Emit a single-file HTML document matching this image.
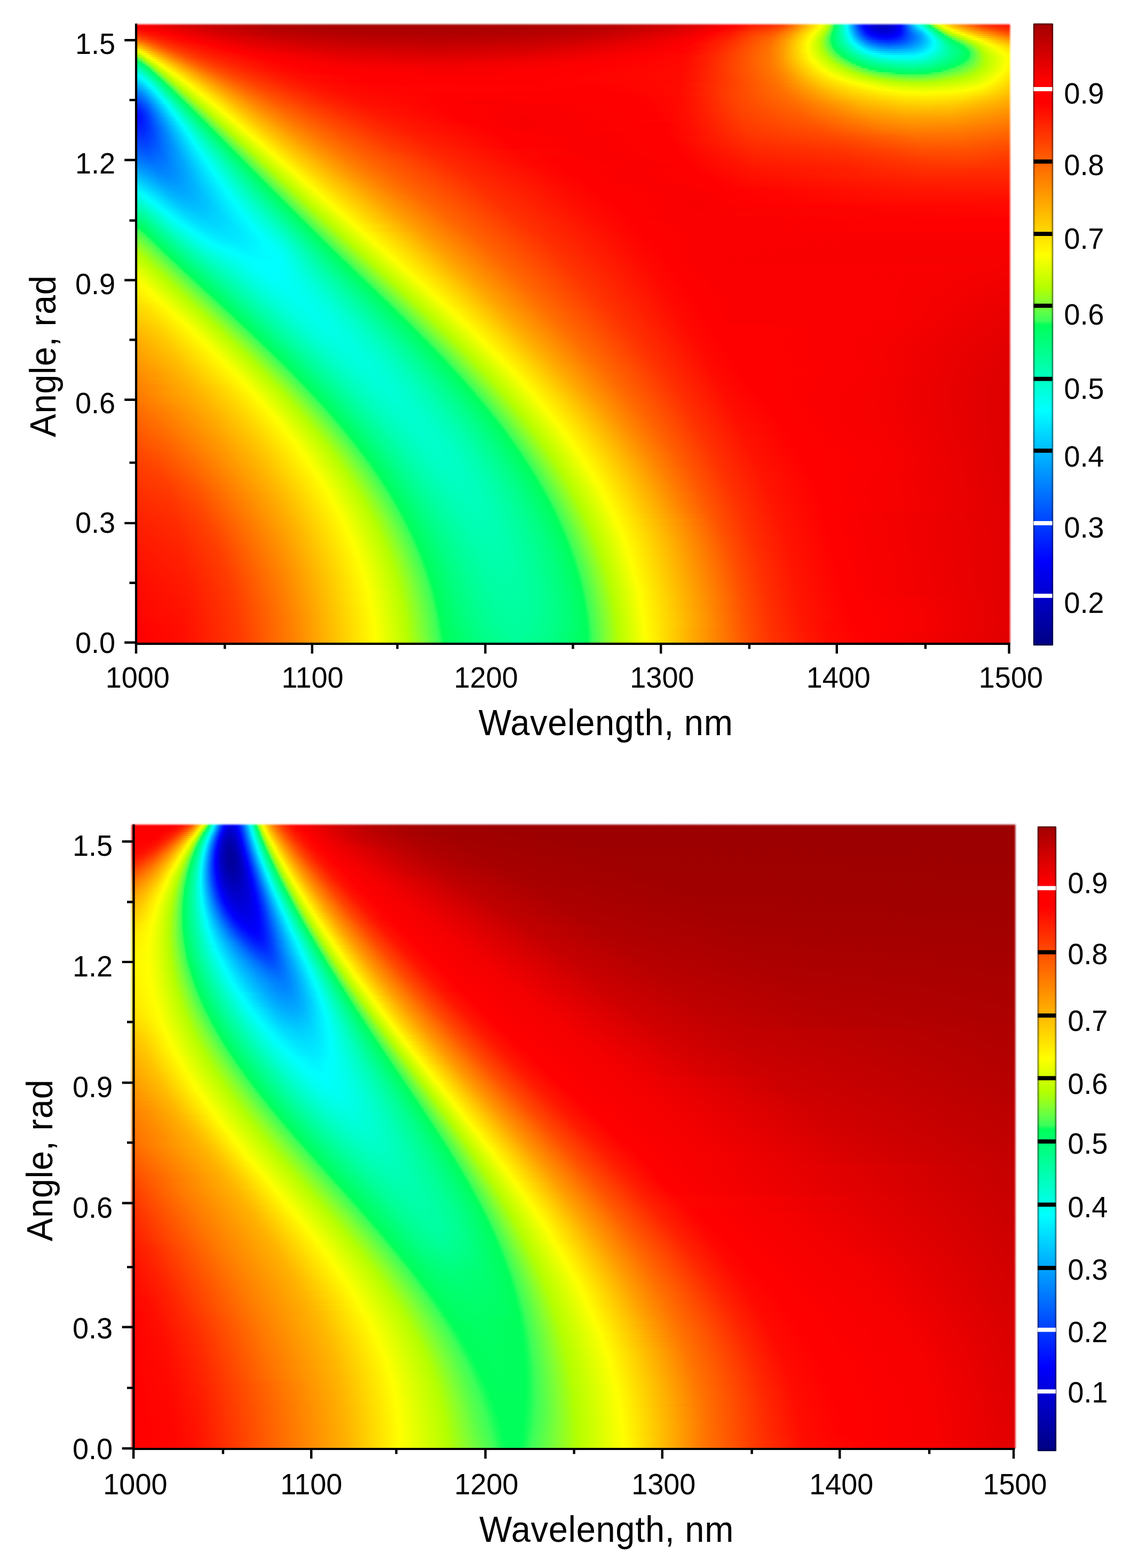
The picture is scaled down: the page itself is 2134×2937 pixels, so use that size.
<!DOCTYPE html>
<html><head><meta charset="utf-8"><title>Angle vs wavelength maps</title>
<style>
html,body{margin:0;padding:0;background:#fff}
body{width:2134px;height:2937px;position:relative;overflow:hidden;font-family:"Liberation Sans",sans-serif}
.hm{position:absolute;overflow:hidden}
.hm i{display:block;height:4px}
.hm b{position:absolute;display:block}
.et{left:0;right:0;top:0;height:5px;background:linear-gradient(180deg,#fff,rgba(255,255,255,0))}
.er{top:0;bottom:0;right:0;width:5px;background:linear-gradient(270deg,#fff,rgba(255,255,255,0))}
.el{top:0;bottom:0;left:0;width:5px;background:linear-gradient(90deg,#fff,rgba(255,255,255,0))}
.cb{position:absolute}
svg{position:absolute;left:0;top:0}
text{font-family:"Liberation Sans",sans-serif;fill:#000}
</style></head><body>
<div class="hm" style="left:254px;top:43.3px;width:1640.7px;height:1161.0px"><i style="background:linear-gradient(90deg,#f00 0px,#cd0000 108px,#ab0000 244px,#a40000 352px,#a30000 620px,#ad0000 840px,#bc0000 936px,#de0000 1056px,#f00 1126px,#ff1600 1152px,#ff1b00 1180px,#ff3a00 1212px,#ff5e00 1228px,#fffb00 1284px,#f2ff00 1288px,#b7ff00 1298px,#79ff37 1304px,#43ff56 1308px,#00ff5b 1310px,#0fb 1324px,#0ff 1332px,#00f1ff 1334px,#004fff 1352px,#0030ff 1356px,#00f 1364px,#0000fb 1366px,#0000e9 1372px,#0000d1 1384px,#0000c1 1400px,#0000c6 1408px,#0000d3 1416px,#0000e5 1424px,#00f 1432px,#0034ff 1440px,#009fff 1452px,#00dfff 1460px,#00faff 1464px,#00fff6 1466px,#00ff5b 1486px,#4aff52 1488px,#8aff2a 1492px,#b7ff00 1496px,#ecff00 1504px,#ff0 1508px,#ffc400 1524px,#ffa000 1536px,#ff6300 1560px,#ff3100 1584px,#ff1f00 1600px,#ff0a00 1641px)"></i><i style="background:linear-gradient(90deg,#f00 0px,#cf0000 116px,#af0000 244px,#a70000 352px,#a50000 572px,#ad0000 796px,#b90000 900px,#d00 1044px,#f00 1112px,#ff0700 1128px,#ff1e00 1152px,#ff2900 1184px,#ff4600 1212px,#ff7300 1232px,#ff0 1282px,#e8ff00 1288px,#bf0 1296px,#abff09 1298px,#85ff2f 1302px,#53ff4d 1306px,#34ff5a 1308px,#00ff5f 1310px,#0fb 1324px,#00fffa 1332px,#00e3ff 1336px,#05f 1352px,#0036ff 1356px,#001cff 1360px,#00f 1366px,#0000da 1380px,#0000c8 1392px,#0000c3 1400px,#0000c7 1408px,#0000d3 1416px,#0000e4 1424px,#00f 1432px,#002fff 1440px,#0090ff 1452px,#00caff 1460px,#00faff 1468px,#00fff7 1470px,#00ffaf 1480px,#00ff5f 1490px,#41ff57 1492px,#7fff34 1496px,#abff09 1500px,#bf0 1502px,#ff0 1514px,#ffcd00 1528px,#fa0 1540px,#ff7800 1560px,#ff4500 1584px,#ff2c00 1604px,#ff1200 1641px)"></i><i style="background:linear-gradient(90deg,#ff0700 0px,#f00 14px,#cb0000 144px,#b30000 248px,#a00 356px,#a80000 572px,#ac0000 728px,#b90000 876px,#c50000 944px,#e10000 1040px,#f00 1104px,#ff0f00 1128px,#ff2a00 1156px,#ff3500 1184px,#ff4e00 1208px,#ff8000 1232px,#fffa00 1278px,#ff0 1280px,#edff00 1284px,#bf0 1294px,#aeff06 1296px,#8aff2a 1300px,#46ff55 1306px,#0bff5a 1308px,#00ff64 1310px,#0fb 1324px,#00fff7 1332px,#00f7ff 1334px,#003fff 1356px,#000fff 1364px,#00f 1368px,#0000e6 1376px,#0000d7 1384px,#0000c7 1400px,#0000d5 1416px,#0000e5 1424px,#00f 1432px,#002bff 1440px,#0080ff 1452px,#00b3ff 1460px,#0ff 1474px,#00fff3 1476px,#00ff5a 1496px,#48ff53 1498px,#7eff34 1502px,#a7ff0d 1506px,#b8ff00 1508px,#faff00 1520px,#fffb00 1522px,#ffcf00 1536px,#ffa500 1552px,#ff5f00 1584px,#ff4100 1604px,#ff1e00 1641px)"></i><i style="background:linear-gradient(90deg,#ff1000 0px,#f00 30px,#d30000 140px,#b80000 252px,#ae0000 360px,#ab0000 572px,#af0000 716px,#b00 864px,#ca0000 944px,#e40000 1036px,#f00 1090px,#ff1700 1128px,#ff3600 1160px,#ff4000 1184px,#f50 1204px,#ff8300 1228px,#ff0 1276px,#b9ff00 1292px,#abff09 1294px,#9bff19 1296px,#78ff38 1300px,#4dff50 1304px,#2bff5a 1306px,#00ff5e 1308px,#00ffa1 1320px,#00fbff 1334px,#004cff 1356px,#001aff 1364px,#00f 1370px,#0000de 1384px,#0000cf 1400px,#0000da 1416px,#0000e8 1424px,#00f 1432px,#0028ff 1440px,#08f 1456px,#0ff 1480px,#00ff83 1496px,#00ff5a 1502px,#46ff54 1504px,#8cff28 1510px,#b0ff04 1514px,#bdff00 1516px,#ff0 1530px,#ffaf00 1560px,#ff7300 1588px,#f40 1620px,#ff2e00 1641px)"></i><i style="background:linear-gradient(90deg,#ff1d00 0px,#f00 50px,#d60000 148px,#bc0000 256px,#b20000 368px,#ae0000 568px,#b20000 704px,#be0000 856px,#cf0000 940px,#e80000 1032px,#f00 1080px,#ff1800 1120px,#ff3c00 1156px,#ff4a00 1184px,#ff5b00 1200px,#ff9000 1228px,#ff0 1272px,#b6ff00 1290px,#a8ff0c 1292px,#78ff38 1298px,#3dff59 1304px,#00ff5b 1306px,#00ffb8 1324px,#00fffb 1334px,#00d8ff 1340px,#0079ff 1352px,#0040ff 1360px,#0016ff 1368px,#00f 1374px,#0000e3 1388px,#0000d9 1404px,#0000e8 1420px,#00f 1430px,#0015ff 1436px,#0079ff 1456px,#00bcff 1472px,#0ff 1484px,#00fff2 1486px,#00ff8d 1500px,#00ff5a 1508px,#42ff57 1510px,#84ff30 1516px,#b3ff00 1522px,#ff0 1540px,#fb0 1568px,#ff8900 1592px,#ff5600 1624px,#ff4200 1641px)"></i><i style="background:linear-gradient(90deg,#ff2f00 0px,#ff1400 28px,#f00 66px,#d90000 160px,#c20000 260px,#b60000 376px,#b20000 568px,#b60000 708px,#c30000 852px,#e80000 1016px,#f00 1072px,#ff1800 1112px,#ff4300 1156px,#ff5300 1184px,#ff6000 1196px,#ff9200 1224px,#ff0 1268px,#e5ff00 1276px,#b3ff00 1288px,#89ff2b 1294px,#42ff56 1302px,#14ff5a 1304px,#00ff60 1306px,#00ffb4 1324px,#0ff 1336px,#006dff 1356px,#003cff 1364px,#0018ff 1372px,#00f 1380px,#00e 1392px,#0000e7 1404px,#00e 1416px,#00f 1428px,#001cff 1436px,#0060ff 1452px,#00abff 1472px,#0ff 1488px,#00ff94 1504px,#00ff5b 1514px,#3fff59 1516px,#88ff2c 1524px,#aeff06 1530px,#b8ff00 1532px,#ff0 1552px,#fffb00 1554px,#ffc700 1576px,#ff9e00 1596px,#ff6e00 1624px,#ff5900 1641px)"></i><i style="background:linear-gradient(90deg,#ff4500 0px,#ff1d00 32px,#f00 80px,#d00 168px,#c50000 272px,#ba0000 384px,#b50000 564px,#b90000 700px,#c60000 840px,#dc0000 948px,#f30000 1036px,#f00 1062px,#ff1e00 1112px,#ff4500 1152px,#ff6700 1196px,#ff9b00 1224px,#ff0 1266px,#b3ff00 1286px,#8bff29 1292px,#49ff52 1300px,#30ff5a 1302px,#00ff5b 1304px,#00ffb0 1324px,#0ff 1338px,#0082ff 1356px,#003eff 1368px,#0016ff 1380px,#00f 1394px,#0000f9 1404px,#00f 1418px,#001aff 1432px,#00a2ff 1472px,#00f9ff 1490px,#00fff9 1492px,#00ff98 1508px,#00ff5c 1520px,#30ff5a 1522px,#4aff52 1524px,#86ff2e 1532px,#afff05 1540px,#b7ff00 1542px,#ff0 1564px,#ffd900 1580px,#fa0 1604px,#ff8100 1628px,#ff7100 1641px)"></i><i style="background:linear-gradient(90deg,#ff5e00 0px,#ff3100 28px,#ff2300 40px,#ff1200 60px,#f00 96px,#df0000 184px,#c90000 284px,#bd0000 400px,#b90000 564px,#bd0000 700px,#c90000 832px,#de0000 936px,#f00 1054px,#ff2300 1112px,#ff4a00 1152px,#ff6900 1192px,#ff9200 1216px,#fffb00 1262px,#ff0 1264px,#b5ff00 1284px,#a9ff0b 1286px,#83ff31 1292px,#43ff56 1300px,#00ff5d 1304px,#0fa 1324px,#00ffd1 1332px,#0ff 1340px,#0082ff 1360px,#0048ff 1372px,#0030ff 1380px,#0020ff 1388px,#0012ff 1400px,#0010ff 1408px,#001bff 1424px,#0034ff 1436px,#00a0ff 1472px,#00f7ff 1492px,#0ff 1494px,#0f9 1512px,#00ff5e 1526px,#1aff5a 1528px,#40ff58 1530px,#7eff34 1540px,#b4ff00 1552px,#ff0 1574px,#ff0 1576px,#ffb400 1612px,#ff8900 1641px)"></i><i style="background:linear-gradient(90deg,#ff7a00 0px,#ff4200 28px,#ff2700 48px,#f10 76px,#f00 112px,#e00000 204px,#c00 304px,#c10000 412px,#bd0000 564px,#c00000 684px,#cb0000 812px,#f00 1048px,#ff2500 1108px,#ff6e00 1192px,#ff9700 1216px,#fffb00 1260px,#ff0 1262px,#ebff00 1268px,#b0ff04 1284px,#80ff33 1292px,#43ff56 1300px,#00ff5c 1304px,#00ffb4 1328px,#0ff 1342px,#08f 1364px,#0059ff 1376px,#0036ff 1392px,#002aff 1408px,#0032ff 1424px,#0050ff 1440px,#0097ff 1468px,#00c0ff 1480px,#00f9ff 1494px,#0ff 1496px,#0f9 1516px,#00ff5a 1534px,#28ff5a 1536px,#41ff57 1538px,#7eff34 1550px,#b6ff00 1562px,#ff0 1584px,#ffc900 1612px,#ff9f00 1641px)"></i><i style="background:linear-gradient(90deg,#ff9800 0px,#ff8900 8px,#ff4e00 32px,#ff2f00 52px,#ff1700 80px,#f00 128px,#e50000 208px,#d00000 312px,#c50000 428px,#c10000 560px,#c40000 676px,#cd0000 788px,#f00 1040px,#ff2900 1108px,#ff6e00 1188px,#ff9300 1212px,#ff0 1260px,#b8ff00 1282px,#afff05 1284px,#81ff33 1292px,#48ff53 1300px,#35ff5a 1302px,#06ff5a 1304px,#00ff60 1306px,#0fa 1328px,#0ff 1346px,#0095ff 1368px,#006dff 1380px,#004fff 1396px,#0046ff 1412px,#004cff 1424px,#05f 1432px,#0084ff 1456px,#00b8ff 1476px,#0ff 1496px,#00ff97 1520px,#00ff7c 1528px,#00ff5e 1540px,#06ff5a 1542px,#3fff59 1546px,#7dff35 1558px,#b7ff00 1570px,#ff0 1594px,#ffd600 1616px,#ffb300 1641px)"></i><i style="background:linear-gradient(90deg,#ffb700 0px,#ffa700 8px,#ff6300 32px,#ff3800 56px,#ff1b00 88px,#f00 144px,#e50000 232px,#d20000 332px,#c90000 432px,#c50000 560px,#d10000 780px,#f00 1032px,#ff2900 1104px,#ff7100 1188px,#ff9600 1212px,#ff0 1260px,#b8ff00 1282px,#b0ff04 1284px,#85ff2f 1292px,#43ff56 1302px,#27ff5a 1304px,#00ff5b 1306px,#00ffaf 1332px,#0ff 1350px,#00b3ff 1368px,#008eff 1380px,#006fff 1396px,#0065ff 1412px,#006fff 1432px,#0094ff 1456px,#00b7ff 1472px,#00f9ff 1494px,#0ff 1496px,#00ffbd 1512px,#00ff93 1524px,#00ff5c 1548px,#13ff5a 1550px,#32ff5a 1552px,#43ff56 1554px,#84ff30 1566px,#b5ff00 1576px,#dbff00 1588px,#ff0 1602px,#ffc500 1641px)"></i><i style="background:linear-gradient(90deg,#ffd600 0px,#ffc500 8px,#ff6f00 36px,#f50 48px,#ff3b00 64px,#ff1b00 100px,#f00 158px,#e90000 236px,#d70000 340px,#cd0000 436px,#c90000 560px,#d40000 760px,#f00 1024px,#ff0800 1048px,#ff2900 1100px,#ff7300 1188px,#ff9800 1212px,#ff0 1260px,#b4ff00 1284px,#81ff33 1294px,#42ff57 1304px,#27ff5a 1306px,#00ff5a 1308px,#00ffa3 1332px,#0ff 1356px,#00c4ff 1372px,#009dff 1388px,#008cff 1400px,#0084ff 1416px,#008aff 1432px,#00a6ff 1456px,#00c4ff 1472px,#0ff 1494px,#00ff9a 1524px,#00ff5a 1554px,#3cff5a 1558px,#7dff35 1570px,#b0ff04 1580px,#cbff00 1588px,#ff0 1610px,#ffd400 1641px)"></i><i style="background:linear-gradient(90deg,#fff600 0px,#ffe400 8px,#ff9e00 28px,#ff7b00 40px,#ff5800 56px,#ff3e00 72px,#ff1e00 108px,#f00 174px,#ea0000 256px,#da0000 356px,#ce0000 560px,#d60000 736px,#f00 1014px,#ff0800 1044px,#ff2600 1092px,#ff7000 1184px,#ff9200 1208px,#ff0 1260px,#b8ff00 1284px,#b1ff00 1286px,#8aff2a 1294px,#45ff55 1306px,#34ff5a 1308px,#0eff5a 1310px,#00ff5d 1312px,#00ffa3 1336px,#0ff 1362px,#00d6ff 1376px,#00b6ff 1392px,#00a9ff 1404px,#00a3ff 1420px,#00a9ff 1436px,#00baff 1456px,#00d4ff 1472px,#0ff 1490px,#0ff 1492px,#00ff9c 1524px,#00ff5a 1558px,#3cff5a 1562px,#7fff34 1574px,#b1ff00 1584px,#bfff00 1588px,#df0 1600px,#ff0 1616px,#ffe100 1641px)"></i><i style="background:linear-gradient(90deg,#e2ff00 0px,#fffb00 10px,#ffb700 28px,#ff8700 44px,#ff5a00 64px,#ff4100 80px,#ff2c00 100px,#ff1e00 120px,#f00 192px,#d00 372px,#d30000 560px,#da0000 728px,#fa0000 948px,#f00 1024px,#ff0c00 1048px,#ff2b00 1096px,#ff7600 1188px,#ff9a00 1212px,#ff0 1260px,#b7ff00 1286px,#b0ff04 1288px,#83ff31 1298px,#41ff57 1310px,#28ff5a 1312px,#04ff5a 1314px,#00ff5e 1316px,#00ff89 1332px,#00fff8 1368px,#00fbff 1372px,#00d0ff 1396px,#00c1ff 1424px,#00cfff 1456px,#00e4ff 1472px,#0ff 1486px,#00ff9c 1524px,#00ff5b 1560px,#16ff5a 1562px,#34ff5a 1564px,#44ff56 1566px,#7cff35 1576px,#b6ff00 1588px,#d4ff00 1600px,#ff0 1622px,#ffea00 1641px)"></i><i style="background:linear-gradient(90deg,#bf0 0px,#d5ff00 8px,#ff0 16px,#fff800 18px,#ffc200 32px,#f80 52px,#ff5c00 72px,#ff3e00 92px,#ff1e00 132px,#f00 206px,#e10000 384px,#d70000 560px,#de0000 708px,#fa0000 932px,#ff0600 1028px,#ff1000 1052px,#ff2d00 1096px,#ff7600 1188px,#ff9a00 1212px,#ff0 1262px,#b9ff00 1288px,#b2ff00 1290px,#7eff34 1302px,#41ff57 1314px,#2bff5a 1316px,#08ff5a 1318px,#00ff5e 1320px,#0fd 1368px,#0ff 1384px,#00e6ff 1404px,#0df 1428px,#00e5ff 1456px,#0ff 1478px,#00ffe4 1492px,#00ff91 1528px,#00ff5d 1560px,#09ff5a 1562px,#3fff59 1566px,#8bff29 1580px,#b6ff00 1590px,#ff0 1626px,#fff000 1641px)"></i><i style="background:linear-gradient(90deg,#8aff2a 0px,#b0ff04 8px,#bf0 10px,#ff0 22px,#fff900 24px,#ffc000 40px,#ff8900 60px,#ff6500 76px,#ff4500 96px,#ff3100 116px,#ff2000 140px,#f00 222px,#e60000 388px,#dc0000 560px,#e30000 708px,#f00 966px,#ff0700 1028px,#ff2900 1088px,#f70 1188px,#ff9300 1208px,#ff0 1264px,#b6ff00 1292px,#7eff34 1306px,#45ff55 1318px,#39ff5a 1320px,#18ff5a 1322px,#00ff5b 1324px,#00ffd6 1376px,#00fff1 1392px,#0ff 1408px,#00f6ff 1440px,#00fffb 1468px,#0fd 1488px,#00ff8c 1528px,#00ff5b 1560px,#11ff5a 1562px,#40ff58 1566px,#7eff34 1578px,#b1ff00 1590px,#ff0 1630px,#fff300 1641px)"></i><i style="background:linear-gradient(90deg,#52ff4e 0px,#65ff43 4px,#81ff33 8px,#adff07 14px,#baff00 16px,#ff0 28px,#fff900 30px,#ffbe00 48px,#ff8900 68px,#ff5f00 88px,#ff4200 108px,#ff2f00 128px,#ff1e00 156px,#f00 238px,#e80000 408px,#e10000 560px,#e60000 688px,#f00 946px,#ff0800 1028px,#ff2500 1080px,#f70 1188px,#ff9200 1208px,#ff0 1266px,#b5ff00 1296px,#81ff33 1310px,#42ff56 1324px,#33ff5a 1326px,#14ff5a 1328px,#00ff5c 1330px,#00ffaf 1368px,#00ffd6 1392px,#00ffeb 1420px,#00fff0 1448px,#00ffe9 1464px,#00ffd9 1480px,#00ff85 1528px,#00ff5b 1558px,#10ff5a 1560px,#3eff59 1564px,#80ff33 1578px,#b5ff00 1592px,#ff0 1632px,#fff500 1641px)"></i><i style="background:linear-gradient(90deg,#00ff61 0px,#00ff5c 2px,#10ff5a 4px,#3dff5a 6px,#4aff52 8px,#80ff33 14px,#b1ff00 20px,#f3ff00 32px,#fffa00 36px,#ffbc00 56px,#ff8900 76px,#ff6000 96px,#f40 116px,#ff2e00 140px,#ff1c00 172px,#f00 256px,#ed0000 412px,#e60000 560px,#eb0000 688px,#f00 926px,#ff0900 1028px,#ff2100 1072px,#ff7600 1188px,#ff9100 1208px,#ff0 1268px,#ff0 1270px,#b6ff00 1300px,#7fff34 1316px,#3aff5a 1332px,#00ff5a 1336px,#00ff9a 1368px,#00ffbd 1392px,#00ffd1 1420px,#00ffd8 1448px,#00ffd4 1464px,#00ffc7 1480px,#00ff7d 1528px,#00ff5b 1554px,#0cff5a 1556px,#36ff5a 1560px,#41ff57 1562px,#7bff36 1576px,#b5ff00 1592px,#ff0 1632px,#fff500 1641px)"></i><i style="background:linear-gradient(90deg,#00ff79 0px,#00ff5c 10px,#2bff5a 12px,#4aff52 14px,#85ff2f 20px,#a6ff0e 24px,#b6ff00 26px,#ff0 40px,#fffa00 42px,#ffc400 60px,#ff8000 88px,#ff6100 104px,#ff4600 124px,#ff3000 148px,#ff1c00 184px,#f00 272px,#f10000 412px,#eb0000 560px,#f00 908px,#ff0800 1024px,#ff1c00 1064px,#ff7600 1188px,#ff8f00 1208px,#ff0 1272px,#b3ff00 1306px,#80ff33 1322px,#41ff57 1338px,#31ff5a 1340px,#00ff5b 1344px,#00ff8d 1372px,#00ffa7 1392px,#00ffba 1420px,#00ffc2 1452px,#00ffbd 1468px,#00ffb0 1484px,#00ff5c 1548px,#06ff5a 1550px,#3cff5a 1556px,#55ff4c 1564px,#83ff31 1576px,#b1ff00 1590px,#ff0 1632px,#fff500 1641px)"></i><i style="background:linear-gradient(90deg,#00ff92 0px,#00ff7d 8px,#00ff5b 16px,#3dff5a 18px,#7aff37 24px,#9cff18 28px,#acff08 30px,#b9ff00 32px,#ff0 46px,#fffa00 48px,#ffb800 72px,#ff8000 96px,#ff5c00 116px,#ff4300 136px,#ff2d00 164px,#ff1800 204px,#f00 290px,#f30000 432px,#ef0000 560px,#f00 890px,#ff0900 1024px,#ff1a00 1060px,#ff7500 1188px,#ff9300 1212px,#ff0 1276px,#b4ff00 1312px,#84ff30 1328px,#42ff57 1346px,#38ff5a 1348px,#05ff5a 1352px,#00ff5d 1354px,#00ff80 1376px,#00ff95 1396px,#00ffa6 1424px,#00ffad 1452px,#0fa 1468px,#00ff9e 1484px,#00ff5c 1540px,#00ff5a 1542px,#3dff59 1550px,#57ff4b 1560px,#7eff34 1572px,#b5ff00 1590px,#ff0 1630px,#fff300 1641px)"></i><i style="background:linear-gradient(90deg,#0fa 0px,#00ff96 8px,#00ff61 20px,#18ff5a 22px,#46ff54 24px,#94ff20 32px,#b3ff00 36px,#ff0 52px,#ffb500 80px,#ff7f00 104px,#ff5d00 124px,#f40 144px,#ff2e00 172px,#ff1800 216px,#ff0900 260px,#f00 306px,#f30000 564px,#f00 870px,#ff0900 1024px,#ff1b00 1060px,#ff7800 1192px,#ff9100 1212px,#ff0 1280px,#b6ff00 1318px,#85ff2f 1336px,#41ff57 1356px,#36ff5a 1358px,#09ff5a 1362px,#00ff5c 1364px,#00ff76 1384px,#00ff87 1404px,#00ff94 1432px,#0f9 1456px,#00ff8d 1484px,#00ff5a 1532px,#39ff5a 1540px,#7eff34 1568px,#b5ff00 1588px,#ff0 1630px,#fff200 1641px)"></i><i style="background:linear-gradient(90deg,#00ffc3 0px,#00ffba 4px,#00ff9e 12px,#00ff5b 26px,#3eff59 28px,#8dff27 36px,#acff08 40px,#b8ff00 42px,#ff0 58px,#ffbc00 84px,#ff7e00 112px,#ff5d00 132px,#ff4600 152px,#ff2d00 184px,#ff1600 232px,#ff0800 276px,#f00 326px,#f60000 584px,#f00 850px,#ff0a00 1024px,#ff1900 1056px,#ff7600 1192px,#ff8e00 1212px,#ff0 1286px,#b6ff00 1326px,#83ff31 1346px,#3fff58 1368px,#33ff5a 1370px,#00ff5a 1376px,#00ff78 1412px,#00ff85 1456px,#00ff7b 1484px,#00ff5a 1520px,#37ff5a 1528px,#3eff59 1530px,#83ff31 1564px,#b3ff00 1584px,#ff0 1628px,#fff000 1641px)"></i><i style="background:linear-gradient(90deg,#00ffda 0px,#00ffb6 12px,#00ff5e 30px,#2dff5a 32px,#4cff51 34px,#87ff2d 40px,#b3ff00 46px,#ff0 64px,#ffb900 92px,#ff7e00 120px,#ff5e00 140px,#ff4300 164px,#ff2a00 200px,#ff1400 248px,#ff0700 292px,#f00 346px,#f80000 588px,#f00 830px,#ff0a00 1024px,#ff1a00 1056px,#ff7500 1192px,#ff8b00 1212px,#ff0 1290px,#b4ff00 1336px,#80ff33 1358px,#3eff59 1384px,#04ff5a 1394px,#00ff5b 1396px,#00ff6c 1428px,#00ff72 1456px,#00ff6c 1480px,#00ff5b 1504px,#00ff5a 1506px,#3dff59 1516px,#83ff31 1556px,#b3ff00 1580px,#ff0 1626px,#ffec00 1641px)"></i><i style="background:linear-gradient(90deg,#00ffef 0px,#0fc 12px,#00ff60 34px,#1dff5a 36px,#47ff53 38px,#82ff32 44px,#9fff15 48px,#b9ff00 52px,#ff0 70px,#ffad00 104px,#ff7d00 128px,#ff5900 152px,#ff4100 176px,#ff2700 216px,#f10 268px,#ff0600 312px,#f00 370px,#fa0000 612px,#f00 810px,#ff0a00 1024px,#ff1800 1052px,#f70 1196px,#ff8d00 1216px,#ffc800 1256px,#ff0 1298px,#b5ff00 1346px,#82ff32 1370px,#63ff43 1384px,#3dff5a 1410px,#00ff5a 1430px,#00ff60 1456px,#00ff5b 1480px,#07ff5a 1484px,#3dff59 1498px,#83ff31 1544px,#b6ff00 1576px,#ff0 1622px,#ffe900 1641px)"></i><i style="background:linear-gradient(90deg,#0ff 0px,#00fffb 4px,#00ffe2 12px,#00ffbe 20px,#00ff62 38px,#10ff5a 40px,#43ff56 42px,#7dff35 48px,#b4ff00 56px,#e6ff00 68px,#ff0 76px,#ffb300 108px,#ff7c00 136px,#f50 164px,#ff3c00 192px,#f20 236px,#ff0e00 288px,#f00 396px,#fb0000 616px,#f00 790px,#ff0b00 1024px,#ff1800 1052px,#ff7500 1196px,#ff8a00 1216px,#ffc800 1260px,#ff0 1306px,#b5ff00 1358px,#84ff30 1386px,#69ff40 1404px,#4cff51 1436px,#4f5 1460px,#52ff4d 1488px,#82ff32 1526px,#b5ff00 1568px,#ff0 1618px,#ffe500 1641px)"></i><i style="background:linear-gradient(90deg,#00ebff 0px,#00fbff 8px,#00fff6 12px,#00ffd4 20px,#04ff5a 44px,#3fff58 46px,#87ff2d 54px,#afff05 60px,#b9ff00 62px,#efff00 76px,#fffb00 82px,#ffa700 120px,#ff7b00 144px,#ff5600 172px,#ff3a00 204px,#ff1e00 256px,#ff0c00 308px,#f00 434px,#f00 772px,#ff0a00 1020px,#ff1600 1048px,#ff7600 1200px,#ff8b00 1220px,#ffd000 1272px,#ff0 1314px,#b3ff00 1374px,#94ff20 1396px,#83ff31 1414px,#6eff3d 1440px,#68ff41 1460px,#6eff3d 1480px,#81ff33 1502px,#b5ff00 1556px,#d3ff00 1584px,#ff0 1614px,#ffe000 1641px)"></i><i style="background:linear-gradient(90deg,#00dbff 0px,#00eaff 8px,#0ff 14px,#00fffb 16px,#00ff5b 48px,#3aff5a 50px,#4eff4f 52px,#83ff31 58px,#b6ff00 66px,#ff0 86px,#ffac00 124px,#ff7a00 152px,#ff5600 180px,#ff3b00 212px,#ff2100 260px,#ff0e00 312px,#ff0500 364px,#f00 436px,#f00 756px,#ff0a00 1020px,#ff1600 1048px,#ff7400 1200px,#ff8700 1220px,#ffd200 1280px,#ff0 1324px,#b5ff00 1392px,#95ff1f 1428px,#89ff2b 1464px,#92ff22 1492px,#b4ff00 1536px,#cfff00 1572px,#ff0 1610px,#ffdb00 1641px)"></i><i style="background:linear-gradient(90deg,#00caff 0px,#00d9ff 8px,#0ff 20px,#00ff5c 52px,#31ff5a 54px,#4bff51 56px,#7fff34 62px,#b2ff00 70px,#bf0 72px,#ff0 92px,#ffb100 128px,#ff7f00 156px,#ff5b00 184px,#ff3f00 216px,#ff2300 264px,#ff1000 316px,#ff0600 364px,#f00 432px,#f00 748px,#ff0800 1012px,#ff1400 1044px,#ff7500 1204px,#ffd300 1288px,#ff0 1338px,#c2ff00 1400px,#b4ff00 1422px,#a8ff0c 1444px,#a4ff10 1464px,#a8ff0c 1484px,#b4ff00 1508px,#caff00 1552px,#df0 1576px,#ff0 1604px,#ffd700 1641px)"></i><i style="background:linear-gradient(90deg,#00b9ff 0px,#00d3ff 12px,#0ff 24px,#00ff5d 56px,#29ff5a 58px,#49ff53 60px,#8aff2a 68px,#aeff06 74px,#b8ff00 76px,#f0ff00 92px,#ff0 98px,#ffae00 136px,#ff7e00 164px,#ff5b00 192px,#ff4000 224px,#ff2400 272px,#f10 324px,#ff0700 372px,#f00 436px,#f00 856px,#ff0a00 1020px,#ff7200 1204px,#ff8400 1224px,#ffd000 1292px,#ff0 1352px,#cf0 1412px,#bfff00 1440px,#baff00 1468px,#c1ff00 1500px,#d4ff00 1548px,#e5ff00 1572px,#ff0 1596px,#ffd200 1641px)"></i><i style="background:linear-gradient(90deg,#00a9ff 0px,#00c2ff 12px,#0ff 28px,#00ff5e 60px,#46ff54 64px,#86ff2e 72px,#b5ff00 80px,#ff0 102px,#ffb200 140px,#ff8200 168px,#ff5f00 196px,#ff4300 228px,#ff2700 276px,#ff1200 332px,#ff0400 436px,#f00 864px,#ff0a00 1020px,#ff7300 1208px,#fc0 1296px,#ff0 1366px,#d9ff00 1420px,#cbff00 1468px,#cfff00 1496px,#e0ff00 1544px,#edff00 1568px,#ff0 1588px,#ffce00 1641px)"></i><i style="background:linear-gradient(90deg,#0098ff 0px,#00b2ff 12px,#0ff 32px,#00ff96 52px,#00ff5f 64px,#1aff5a 66px,#44ff56 68px,#83ff31 76px,#b1ff00 84px,#b9ff00 86px,#ff0 108px,#ffaf00 148px,#ff8100 176px,#ff5f00 204px,#f40 236px,#ff2800 284px,#ff1400 336px,#ff0900 384px,#ff0400 440px,#f00 868px,#ff0b00 1020px,#ff1700 1048px,#ff4200 1116px,#ff7000 1208px,#ffcb00 1304px,#ff0 1384px,#e4ff00 1432px,#dcff00 1472px,#eaff00 1536px,#ff0 1576px,#ffc900 1641px)"></i><i style="background:linear-gradient(90deg,#0089ff 0px,#0097ff 8px,#00afff 16px,#0ff 36px,#00ff96 56px,#00ff5f 68px,#15ff5a 70px,#42ff57 72px,#80ff33 80px,#aeff06 88px,#b7ff00 90px,#f2ff00 108px,#fffb00 114px,#ffb900 148px,#ff8500 180px,#ff6300 208px,#f40 244px,#ff2900 292px,#ff1400 344px,#ff0a00 388px,#ff0500 448px,#f00 876px,#ff0a00 1016px,#ff1700 1048px,#f40 1120px,#ff7000 1212px,#fc0 1316px,#ff0 1408px,#efff00 1444px,#ebff00 1472px,#f1ff00 1516px,#ff0 1558px,#fe0 1588px,#ffc400 1641px)"></i><i style="background:linear-gradient(90deg,#007aff 0px,#08f 8px,#009fff 16px,#00f9ff 38px,#00fffb 40px,#00ff95 60px,#00ff60 72px,#11ff5a 74px,#40ff58 76px,#7dff35 84px,#b4ff00 94px,#ff0 118px,#ffbd00 152px,#ff8900 184px,#ff6700 212px,#ff4800 248px,#ff2c00 296px,#ff1700 348px,#ff0b00 396px,#ff0500 452px,#f00 586px,#f00 904px,#ff0a00 1016px,#ff1700 1048px,#f40 1120px,#ff7000 1216px,#ffb800 1300px,#ffd400 1340px,#fe0 1392px,#ff0 1440px,#f9ff00 1472px,#ff0 1516px,#fff700 1552px,#ffe800 1584px,#ffbf00 1641px)"></i><i style="background:linear-gradient(90deg,#006cff 0px,#007aff 8px,#0091ff 16px,#00beff 28px,#00fbff 42px,#00ff94 64px,#00ff60 76px,#0eff5a 78px,#3fff58 80px,#87ff2d 90px,#b1ff00 98px,#b9ff00 100px,#f8ff00 120px,#ff0 124px,#ffab00 168px,#f70 204px,#ff5100 244px,#f30 292px,#ff1a00 348px,#ff0b00 404px,#f00 584px,#f00 916px,#ff0b00 1020px,#ff4300 1120px,#ff7000 1220px,#ffb400 1304px,#ffce00 1344px,#ffe800 1400px,#fff700 1448px,#fff800 1492px,#fe0 1552px,#ffe200 1580px,#ffba00 1641px)"></i><i style="background:linear-gradient(90deg,#005eff 0px,#006cff 8px,#0090ff 20px,#0ff 46px,#00ff93 68px,#00ff60 80px,#0aff5a 82px,#3dff59 84px,#85ff2f 94px,#aeff06 102px,#b7ff00 104px,#ff0 128px,#ffae00 172px,#ff7b00 208px,#ff5400 248px,#ff3600 296px,#ff1c00 352px,#ff0d00 408px,#f00 584px,#f00 924px,#ff0900 1016px,#ff1700 1048px,#ff4300 1120px,#ff6f00 1224px,#ffb000 1308px,#ffc800 1348px,#ffdf00 1400px,#ffed00 1448px,#fe0 1496px,#ffe500 1552px,#ffb500 1641px)"></i><i style="background:linear-gradient(90deg,#0051ff 0px,#005eff 8px,#0082ff 20px,#0ff 50px,#00ffa4 68px,#00ff60 84px,#07ff5a 86px,#3cff5a 88px,#83ff31 98px,#b5ff00 108px,#f2ff00 128px,#ff0 134px,#ffb100 176px,#ff7e00 212px,#ff5800 252px,#ff3800 300px,#ff1f00 356px,#ff0e00 412px,#f00 584px,#f00 932px,#ff0900 1016px,#ff1700 1048px,#ff4200 1120px,#ff6e00 1228px,#ffab00 1312px,#ffc300 1352px,#ffd700 1400px,#ffe300 1444px,#ffe600 1492px,#ffde00 1544px,#ffd200 1576px,#ffaf00 1641px)"></i><i style="background:linear-gradient(90deg,#04f 0px,#0051ff 8px,#0075ff 20px,#00fbff 52px,#00fffa 54px,#00ff91 76px,#00ff61 88px,#05ff5a 90px,#39ff5a 92px,#58ff4a 96px,#81ff33 102px,#b3ff00 112px,#b9ff00 114px,#ff0 138px,#ffb400 180px,#ff8200 216px,#ff5b00 256px,#ff3b00 304px,#ff1f00 364px,#ff0f00 420px,#f00 584px,#fb0000 632px,#f00 938px,#ff0900 1016px,#ff1700 1048px,#ff4300 1124px,#ff6d00 1232px,#ffbd00 1356px,#ffdb00 1444px,#fd0 1492px,#ffd500 1544px,#fa0 1641px)"></i><i style="background:linear-gradient(90deg,#0037ff 0px,#04f 8px,#0068ff 20px,#0ff 56px,#00ffa1 76px,#00ff61 92px,#04ff5a 94px,#37ff5a 96px,#49ff53 98px,#7eff34 106px,#b0ff04 116px,#b8ff00 118px,#f8ff00 140px,#ff0 144px,#ffb000 188px,#ff8000 224px,#ff5a00 264px,#ff3b00 312px,#ff2000 372px,#ff0f00 428px,#f00 584px,#fb0000 632px,#f00 944px,#ff0800 1012px,#ff1500 1044px,#ff4200 1124px,#ff6c00 1236px,#ffb800 1360px,#ffd300 1444px,#ffd500 1488px,#ffcf00 1536px,#ffa500 1641px)"></i><i style="background:linear-gradient(90deg,#002bff 0px,#0038ff 8px,#005cff 20px,#0ff 60px,#00ffa0 80px,#00ff5a 98px,#35ff5a 100px,#48ff53 102px,#87ff2d 112px,#b6ff00 122px,#ff0 148px,#ffb900 188px,#ff8300 228px,#ff5d00 268px,#ff3e00 316px,#f20 376px,#f10 432px,#f00 584px,#fb0000 704px,#f00 948px,#ff0800 1012px,#ff1400 1044px,#ff4100 1124px,#ff6b00 1240px,#ffb300 1364px,#ffcb00 1444px,#ffcd00 1488px,#ffc800 1532px,#ffa000 1641px)"></i><i style="background:linear-gradient(90deg,#001fff 0px,#002dff 8px,#0051ff 20px,#0ff 62px,#00ff8e 88px,#00ff5a 102px,#32ff5a 104px,#47ff54 106px,#86ff2e 116px,#b4ff00 126px,#f4ff00 148px,#ff0 154px,#ffb500 196px,#ff8600 232px,#ff6000 272px,#ff4100 320px,#ff2400 380px,#ff1200 436px,#f00 586px,#fa0000 724px,#f00 954px,#ff0700 1008px,#ff1400 1044px,#ff4200 1128px,#ff6900 1244px,#ffad00 1368px,#ffc300 1444px,#ffc600 1488px,#ffc000 1532px,#ff9b00 1641px)"></i><i style="background:linear-gradient(90deg,#0015ff 0px,#0023ff 8px,#0047ff 20px,#0ff 66px,#00ff9d 88px,#00ff5a 106px,#30ff5a 108px,#46ff54 110px,#84ff30 120px,#b2ff00 130px,#b9ff00 132px,#ff0 158px,#ffb800 200px,#f80 236px,#ff6300 276px,#ff4300 324px,#ff2700 384px,#ff1400 440px,#f00 588px,#fa0000 728px,#f00 958px,#ff0700 1008px,#ff1400 1044px,#ff4100 1128px,#ff6900 1252px,#ffa700 1368px,#ffbc00 1444px,#ffbe00 1484px,#ffba00 1528px,#ff9600 1641px)"></i><i style="background:linear-gradient(90deg,#000dff 0px,#001bff 8px,#003fff 20px,#0ff 68px,#00fff9 70px,#00ff9b 92px,#00ff5a 110px,#2fff5a 112px,#45ff55 114px,#83ff31 124px,#b0ff04 134px,#b7ff00 136px,#ff0 162px,#ffc000 200px,#ff9000 236px,#ff6900 276px,#ff4a00 320px,#ff2c00 380px,#ff1600 444px,#f00 592px,#fa0000 728px,#f00 962px,#ff0700 1008px,#ff1300 1044px,#ff4000 1128px,#ff6100 1240px,#ffa000 1368px,#ffb500 1444px,#ffb300 1528px,#ff9100 1641px)"></i><i style="background:linear-gradient(90deg,#0009ff 0px,#0015ff 8px,#0038ff 20px,#0ff 72px,#00ff9a 96px,#00ff5a 114px,#2eff5a 116px,#45ff55 118px,#81ff33 128px,#b6ff00 140px,#ff0 168px,#ffbc00 208px,#ff8e00 244px,#ff6800 284px,#ff4800 332px,#ff2b00 392px,#ff1600 452px,#f00 596px,#fa0000 728px,#f00 966px,#ff0500 1004px,#ff1300 1044px,#ff4000 1132px,#ff5f00 1244px,#ff9b00 1372px,#ffae00 1444px,#ffad00 1524px,#ff8d00 1641px)"></i><i style="background:linear-gradient(90deg,#0007ff 0px,#0012ff 8px,#0032ff 20px,#0ff 74px,#00fffa 76px,#00ff98 100px,#00ff5a 118px,#2dff5a 120px,#4f5 122px,#89ff2b 134px,#b4ff00 144px,#ff0 172px,#ffc400 208px,#ff9400 244px,#ff6d00 284px,#ff4f00 328px,#ff3000 388px,#ff1900 452px,#f00 600px,#f90000 728px,#f00 968px,#ff0500 1004px,#ff1200 1044px,#ff3f00 1132px,#ff5d00 1248px,#ff9600 1376px,#ffa700 1444px,#ffa600 1524px,#f80 1641px)"></i><i style="background:linear-gradient(90deg,#0007ff 0px,#0019ff 12px,#003bff 24px,#0ff 78px,#00ff96 104px,#00ff5a 122px,#2cff5a 124px,#44ff56 126px,#7eff34 136px,#b2ff00 148px,#b9ff00 150px,#f4ff00 172px,#ff0 178px,#ffc000 216px,#ff8e00 256px,#ff6900 296px,#ff4a00 344px,#ff2d00 404px,#ff1800 464px,#f00 608px,#f90000 728px,#f00 972px,#ff0400 1000px,#ff1000 1040px,#ff3f00 1136px,#ff5b00 1252px,#ff9100 1380px,#ffa100 1444px,#ffa000 1524px,#ff8400 1641px)"></i><i style="background:linear-gradient(90deg,#000aff 0px,#0019ff 12px,#0038ff 24px,#0ff 80px,#00fff9 82px,#00ff95 108px,#00ff5a 126px,#2cff5a 128px,#43ff56 130px,#86ff2e 142px,#b1ff00 152px,#b7ff00 154px,#ff0 182px,#ffc100 220px,#ff9400 256px,#ff6f00 296px,#ff5100 340px,#ff3100 404px,#ff1a00 468px,#f00 618px,#f90000 728px,#ff0400 1000px,#ff1000 1040px,#ff3f00 1140px,#ff5900 1256px,#ff8c00 1384px,#ff9a00 1444px,#ff9a00 1524px,#ff7f00 1641px)"></i><i style="background:linear-gradient(90deg,#000eff 0px,#001aff 12px,#0036ff 24px,#0ff 84px,#00ffa2 108px,#00ff5a 130px,#2cff5a 132px,#43ff56 134px,#85ff2f 146px,#b6ff00 158px,#ff0 186px,#ffc300 224px,#ff9200 264px,#ff6b00 308px,#ff4c00 356px,#ff2e00 420px,#ff1900 480px,#f00 624px,#f90000 728px,#f00 996px,#ff0f00 1040px,#ff3d00 1140px,#ff5700 1260px,#ff8700 1388px,#ff9500 1448px,#ff9300 1528px,#ff7b00 1641px)"></i><i style="background:linear-gradient(90deg,#0013ff 0px,#001cff 12px,#003fff 28px,#0ff 86px,#00fff9 88px,#00ffa0 112px,#00ff5a 134px,#2bff5a 136px,#43ff56 138px,#84ff30 150px,#b5ff00 162px,#ff0 192px,#ffc500 228px,#ff9400 268px,#ff7000 308px,#ff5200 352px,#f30 416px,#ff1c00 480px,#f00 632px,#f90000 728px,#f00 996px,#ff0f00 1040px,#ff3d00 1144px,#ff5600 1268px,#ff8200 1392px,#ff8e00 1448px,#ff8e00 1528px,#ff7600 1641px)"></i><i style="background:linear-gradient(90deg,#0018ff 0px,#001eff 12px,#003eff 28px,#0079ff 48px,#00fbff 88px,#0ff 90px,#00ff91 120px,#00ff5f 136px,#00ff5a 138px,#2bff5a 140px,#42ff56 142px,#83ff31 154px,#b4ff00 166px,#b9ff00 168px,#ff0 196px,#ffc100 236px,#ff9200 276px,#ff6c00 320px,#ff4c00 372px,#ff2e00 436px,#ff1900 500px,#f00 652px,#f90000 728px,#f00 996px,#ff0e00 1040px,#ff3b00 1144px,#ff5300 1272px,#ff7c00 1392px,#f80 1448px,#f80 1528px,#ff7200 1641px)"></i><i style="background:linear-gradient(90deg,#001dff 0px,#0021ff 12px,#003dff 28px,#0075ff 48px,#0ff 92px,#00ff9c 120px,#00ff5f 140px,#00ff5a 142px,#2bff5a 144px,#42ff56 146px,#82ff32 158px,#b2ff00 170px,#b8ff00 172px,#ff0 200px,#ffc300 240px,#ff9000 284px,#ff6b00 328px,#ff4b00 380px,#ff2e00 444px,#ff1a00 504px,#f00 660px,#fa0000 728px,#f00 992px,#ff0d00 1040px,#ff3b00 1148px,#ff5000 1276px,#ff7900 1400px,#ff8300 1452px,#ff8200 1532px,#ff6e00 1641px)"></i><i style="background:linear-gradient(90deg,#02f 0px,#0028ff 16px,#0046ff 32px,#007dff 52px,#0ff 94px,#00ff9b 124px,#00ff5f 144px,#04ff5a 146px,#2bff5a 148px,#42ff57 150px,#81ff33 162px,#b0ff04 174px,#b7ff00 176px,#ff0 206px,#ffc400 244px,#ff9200 288px,#ff6d00 332px,#ff4d00 384px,#ff3000 448px,#ff1a00 512px,#f00 668px,#fa0000 736px,#f00 992px,#ff0d00 1040px,#ff3900 1148px,#ff4e00 1280px,#ff7400 1404px,#ff7d00 1456px,#ff7c00 1536px,#ff6900 1641px)"></i><i style="background:linear-gradient(90deg,#0028ff 0px,#002bff 16px,#0046ff 32px,#0079ff 52px,#0ff 98px,#00ffa6 124px,#00ff5f 148px,#05ff5a 150px,#2bff5a 152px,#42ff57 154px,#80ff33 166px,#b6ff00 180px,#ff0 210px,#ffc600 248px,#ff9400 292px,#ff6c00 340px,#ff4d00 392px,#ff3000 456px,#ff1c00 516px,#f00 674px,#fa0000 840px,#f00 992px,#ff0c00 1040px,#ff3800 1152px,#ff4b00 1284px,#ff6f00 1408px,#ff7800 1460px,#f70 1540px,#ff6500 1641px)"></i><i style="background:linear-gradient(90deg,#002dff 0px,#002fff 16px,#0047ff 32px,#0081ff 56px,#0ff 100px,#00ff98 132px,#00ff5e 152px,#06ff5a 154px,#2bff5a 156px,#42ff57 158px,#7fff34 170px,#b5ff00 184px,#faff00 212px,#ff0 216px,#ffc800 252px,#ff9600 296px,#ff7100 340px,#ff5300 388px,#f30 456px,#ff1d00 520px,#f00 682px,#fa0000 848px,#f00 994px,#ff0b00 1040px,#ff3600 1152px,#ff4800 1288px,#ff7200 1460px,#ff7200 1540px,#ff6100 1641px)"></i><i style="background:linear-gradient(90deg,#0034ff 0px,#03f 16px,#003aff 24px,#004fff 36px,#08f 60px,#0ff 102px,#00ff96 136px,#00ff5e 156px,#07ff5a 158px,#2cff5a 160px,#42ff57 162px,#7eff34 174px,#b4ff00 188px,#ff0 220px,#ffc900 256px,#ff9800 300px,#ff7200 344px,#ff5400 392px,#ff3500 460px,#ff1f00 524px,#f00 688px,#fa0000 848px,#f00 998px,#ff3400 1156px,#ff4600 1296px,#ff6d00 1464px,#ff6d00 1544px,#ff5d00 1641px)"></i><i style="background:linear-gradient(90deg,#003aff 0px,#0039ff 20px,#0050ff 36px,#0085ff 60px,#0ff 106px,#00ffa0 136px,#00ff5e 160px,#08ff5a 162px,#2cff5a 164px,#42ff57 166px,#85ff2f 180px,#b2ff00 192px,#b8ff00 194px,#ff0 224px,#ffcb00 260px,#ff9a00 304px,#ff7400 348px,#ff5600 396px,#ff3600 464px,#ff2000 528px,#f00 694px,#fa0000 848px,#f00 1000px,#ff3200 1156px,#ff4300 1300px,#ff6800 1468px,#ff6800 1544px,#ff5900 1641px)"></i><i style="background:linear-gradient(90deg,#0040ff 0px,#003dff 20px,#0051ff 36px,#008cff 64px,#0ff 108px,#00ff9f 140px,#00ff5e 164px,#09ff5a 166px,#2cff5a 168px,#42ff57 170px,#85ff2f 184px,#b1ff00 196px,#b7ff00 198px,#f5ff00 224px,#ff0 230px,#ffc700 268px,#ff9700 312px,#ff7300 356px,#f50 404px,#ff3600 472px,#ff2000 536px,#f00 702px,#fa0000 848px,#f00 1004px,#ff3000 1156px,#ff4000 1304px,#ff6400 1472px,#ff6300 1548px,#ff5400 1641px)"></i><i style="background:linear-gradient(90deg,#0046ff 0px,#0042ff 20px,#0059ff 40px,#0093ff 68px,#0ff 110px,#00ff5d 168px,#0aff5a 170px,#2dff5a 172px,#41ff57 174px,#84ff30 188px,#b6ff00 202px,#ff0 234px,#ffc800 272px,#f90 316px,#ff7500 360px,#ff5700 408px,#ff3800 476px,#ff2100 540px,#f00 704px,#fa0000 848px,#f00 1006px,#ff2e00 1156px,#ff3d00 1308px,#ff5f00 1480px,#ff5f00 1552px,#ff5000 1641px)"></i><i style="background:linear-gradient(90deg,#004cff 0px,#0046ff 20px,#005aff 40px,#0090ff 68px,#0ff 114px,#00ff9c 148px,#00ff5d 172px,#0bff5a 174px,#2dff5a 176px,#41ff57 178px,#83ff31 192px,#b5ff00 206px,#ff0 238px,#ffca00 276px,#ff9b00 320px,#ff7600 364px,#ff5800 412px,#ff3900 480px,#ff2300 544px,#f00 708px,#fa0000 848px,#f00 1010px,#ff2c00 1156px,#ff3a00 1312px,#ff5b00 1484px,#ff5a00 1556px,#ff4c00 1641px)"></i><i style="background:linear-gradient(90deg,#0052ff 0px,#004cff 24px,#0062ff 44px,#0096ff 72px,#0ff 116px,#00ff9a 152px,#00ff5d 176px,#0cff5a 178px,#2dff5a 180px,#41ff57 182px,#82ff32 196px,#b4ff00 210px,#f1ff00 236px,#ff0 244px,#ffcb00 280px,#ff9d00 324px,#ff7800 368px,#ff5a00 416px,#ff3c00 480px,#ff2400 548px,#f00 708px,#fa0000 844px,#f00 1012px,#ff2900 1156px,#ff3700 1316px,#f50 1472px,#ff5600 1552px,#ff4800 1641px)"></i><i style="background:linear-gradient(90deg,#0058ff 0px,#0051ff 24px,#0063ff 44px,#009cff 76px,#0ff 118px,#00ff5d 180px,#0dff5a 182px,#2eff5a 184px,#41ff57 186px,#82ff32 200px,#b3ff00 214px,#b8ff00 216px,#ff0 248px,#ffcd00 284px,#ff9e00 328px,#ff7900 372px,#ff5b00 420px,#ff3d00 484px,#ff2500 552px,#ff0400 712px,#fa0000 844px,#f00 1016px,#ff2700 1156px,#ff3400 1320px,#ff5000 1476px,#ff5200 1556px,#ff4500 1641px)"></i><i style="background:linear-gradient(90deg,#005fff 0px,#0056ff 24px,#006aff 48px,#00a2ff 80px,#0ff 122px,#00ffa2 156px,#00ff5d 184px,#0eff5a 186px,#2eff5a 188px,#41ff57 190px,#81ff33 204px,#b2ff00 218px,#b8ff00 220px,#ff0 252px,#ffce00 288px,#ffa000 332px,#ff7b00 376px,#ff5d00 424px,#ff3f00 488px,#ff2600 556px,#ff0500 712px,#fa0000 844px,#f00 1018px,#ff2600 1160px,#ff3200 1324px,#ff4c00 1480px,#ff4e00 1556px,#ff4100 1641px)"></i><i style="background:linear-gradient(90deg,#0065ff 0px,#005bff 24px,#006bff 48px,#009fff 80px,#0ff 124px,#00ff5c 188px,#0eff5a 190px,#2fff5a 192px,#41ff57 194px,#80ff33 208px,#b1ff00 222px,#b7ff00 224px,#f6ff00 252px,#ff0 258px,#ffcb00 296px,#ff9e00 340px,#ff7900 384px,#ff5c00 432px,#ff2700 560px,#ff0600 716px,#fa0000 848px,#f00 1022px,#ff2400 1160px,#ff2f00 1324px,#ff4900 1484px,#ff4a00 1556px,#ff3e00 1641px)"></i><i style="background:linear-gradient(90deg,#006bff 0px,#0061ff 28px,#0071ff 52px,#00a4ff 84px,#0ff 126px,#00ff5c 192px,#0fff5a 194px,#2fff5a 196px,#41ff57 198px,#7fff33 212px,#b6ff00 228px,#ff0 262px,#fc0 300px,#ff9f00 344px,#ff7b00 388px,#ff5d00 436px,#ff2700 568px,#ff0600 720px,#f00 776px,#fa0000 848px,#f00 1024px,#ff2100 1160px,#ff2d00 1328px,#ff4500 1488px,#ff4600 1560px,#ff3b00 1641px)"></i><i style="background:linear-gradient(90deg,#0072ff 0px,#06f 28px,#0073ff 52px,#00a2ff 84px,#0ff 130px,#00ff5c 196px,#10ff5a 198px,#2fff5a 200px,#41ff57 202px,#7fff34 216px,#b5ff00 232px,#ff0 266px,#ffd200 300px,#ffa100 348px,#ff7c00 392px,#ff5e00 440px,#ff2800 572px,#ff0700 724px,#f00 784px,#fa0000 928px,#f00 1028px,#ff1f00 1160px,#ff2a00 1328px,#ff4100 1492px,#ff4200 1560px,#ff3800 1641px)"></i><i style="background:linear-gradient(90deg,#0079ff 0px,#006bff 32px,#0078ff 56px,#00a7ff 88px,#0ff 132px,#00ff5c 200px,#11ff5a 202px,#30ff5a 204px,#41ff57 206px,#7eff34 220px,#b5ff00 236px,#f2ff00 264px,#ff0 272px,#ffcf00 308px,#ff9f00 356px,#ff7b00 400px,#ff5e00 448px,#ff2800 580px,#ff0700 732px,#f00 790px,#fa0000 920px,#f00 1030px,#ff1d00 1160px,#ff2800 1328px,#ff3d00 1492px,#ff3f00 1560px,#ff3600 1641px)"></i><i style="background:linear-gradient(90deg,#0082ff 0px,#0070ff 32px,#007aff 56px,#00a4ff 88px,#0ff 134px,#00ff5c 204px,#12ff5a 206px,#30ff5a 208px,#41ff57 210px,#85ff2f 226px,#b4ff00 240px,#ff0 276px,#ffd000 312px,#ffa000 360px,#ff7c00 404px,#ff5f00 452px,#ff2900 584px,#ff0700 736px,#f00 794px,#fa0000 920px,#f00 1034px,#ff1b00 1156px,#ff2500 1328px,#ff3a00 1492px,#ff3c00 1556px,#f30 1641px)"></i><i style="background:linear-gradient(90deg,#008aff 0px,#0075ff 36px,#007fff 60px,#00a9ff 92px,#0ff 138px,#00ff5c 208px,#12ff5a 210px,#30ff5a 212px,#41ff57 214px,#85ff2f 230px,#b3ff00 244px,#b8ff00 246px,#ff0 280px,#ffd100 316px,#ffa100 364px,#ff7d00 408px,#ff6000 456px,#ff2a00 588px,#ff0800 740px,#f00 800px,#fa0000 980px,#f00 1036px,#ff1900 1156px,#ff2300 1324px,#ff3700 1496px,#ff3800 1556px,#ff3100 1641px)"></i><i style="background:linear-gradient(90deg,#0094ff 0px,#007aff 36px,#0080ff 60px,#00a7ff 92px,#0ff 140px,#00ff5c 212px,#13ff5a 214px,#31ff5a 216px,#41ff57 218px,#84ff30 234px,#b2ff00 248px,#b7ff00 250px,#efff00 276px,#ff0 286px,#ffce00 324px,#ff9c00 376px,#ff7900 420px,#ff5f00 464px,#ff2a00 596px,#ff0800 748px,#f00 804px,#fa0000 984px,#f00 1040px,#ff1700 1156px,#ff2000 1320px,#f30 1492px,#ff3500 1552px,#ff2f00 1641px)"></i><i style="background:linear-gradient(90deg,#009dff 0px,#0080ff 36px,#007dff 48px,#0082ff 60px,#0091ff 76px,#00abff 96px,#0ff 142px,#00ff5b 216px,#14ff5a 218px,#31ff5a 220px,#41ff57 222px,#83ff31 238px,#b6ff00 254px,#ff0 290px,#ffcf00 328px,#ff9d00 380px,#ff7a00 424px,#ff6000 468px,#ff2a00 600px,#ff0800 756px,#f00 810px,#fa0000 916px,#f00 1044px,#ff1500 1156px,#ff1e00 1316px,#ff3000 1492px,#ff2d00 1641px)"></i><i style="background:linear-gradient(90deg,#00a7ff 0px,#0084ff 40px,#0087ff 64px,#0095ff 80px,#00b0ff 100px,#0ff 146px,#00ff5b 220px,#14ff5a 222px,#31ff5a 224px,#41ff57 226px,#83ff31 242px,#b6ff00 258px,#ff0 294px,#ffd000 332px,#ff9e00 384px,#ff7c00 428px,#ff6100 472px,#ff2b00 604px,#ff0800 760px,#f00 816px,#fa0000 980px,#f00 1050px,#ff1300 1156px,#ff1b00 1308px,#ff2d00 1488px,#ff2a00 1641px)"></i><i style="background:linear-gradient(90deg,#00b1ff 0px,#008aff 40px,#0086ff 52px,#0089ff 64px,#0095ff 80px,#00aeff 100px,#0ff 148px,#00ff5b 224px,#15ff5a 226px,#32ff5a 228px,#41ff57 230px,#82ff32 246px,#b5ff00 262px,#ff0 298px,#ffd200 336px,#ff9c00 392px,#ff7a00 436px,#ff6000 480px,#ff2a00 616px,#ff0700 772px,#f00 822px,#fa0000 916px,#f00 1056px,#ff1200 1156px,#ff2a00 1488px,#ff2800 1641px)"></i><i style="background:linear-gradient(90deg,#0bf 0px,#0090ff 40px,#008aff 52px,#008bff 64px,#0096ff 80px,#00acff 100px,#0ff 150px,#00ff5b 228px,#15ff5a 230px,#32ff5a 232px,#41ff57 234px,#82ff32 250px,#b4ff00 266px,#ff0 304px,#ffcf00 344px,#ff9a00 400px,#ff7b00 440px,#ff5f00 488px,#ff2900 624px,#ff0600 784px,#f00 830px,#fa0000 920px,#f00 1064px,#ff1000 1152px,#ff2700 1484px,#ff2600 1641px)"></i><i style="background:linear-gradient(90deg,#00c5ff 0px,#0094ff 44px,#008eff 56px,#0090ff 68px,#009aff 84px,#00b0ff 104px,#0ff 154px,#00ff5b 232px,#32ff5a 236px,#41ff57 238px,#81ff32 254px,#b4ff00 270px,#b8ff00 272px,#ff0 308px,#ffd000 348px,#ff9b00 404px,#ff7a00 448px,#ff6000 492px,#ff2a00 628px,#ff0600 792px,#f00 836px,#fa0000 916px,#f00 1070px,#ff0e00 1152px,#ff2400 1480px,#ff2400 1641px)"></i><i style="background:linear-gradient(90deg,#00cfff 0px,#009aff 44px,#0092ff 68px,#009bff 84px,#00afff 104px,#0ff 156px,#00ff5b 236px,#32ff5a 240px,#41ff57 242px,#81ff33 258px,#b3ff00 274px,#b7ff00 276px,#ff0 312px,#ffd500 348px,#ff9d00 408px,#ff7b00 452px,#ff5f00 500px,#ff2900 636px,#ff0600 796px,#f00 842px,#fa0000 916px,#f00 1078px,#ff0c00 1152px,#ff2100 1472px,#f20 1641px)"></i><i style="background:linear-gradient(90deg,#00d8ff 0px,#00a1ff 44px,#0097ff 60px,#0097ff 72px,#009fff 88px,#00b3ff 108px,#0ff 158px,#00ff5b 240px,#32ff5a 244px,#41ff57 246px,#80ff33 262px,#b2ff00 278px,#b7ff00 280px,#ff0 318px,#ffd200 356px,#ff9b00 416px,#ff7c00 456px,#ff6000 504px,#ff2a00 640px,#ff0700 796px,#f00 848px,#fa0000 916px,#f00 1084px,#ff0b00 1152px,#ff1e00 1468px,#ff1f00 1641px)"></i><i style="background:linear-gradient(90deg,#00e2ff 0px,#00a4ff 48px,#009aff 64px,#009aff 76px,#00a3ff 92px,#00b6ff 112px,#0ff 162px,#00ff5b 244px,#32ff5a 248px,#41ff57 250px,#80ff33 266px,#b6ff00 284px,#ff0 322px,#ffd300 360px,#ff9c00 420px,#ff7d00 460px,#ff6100 508px,#ff2b00 644px,#ff0800 800px,#f00 854px,#fa0000 924px,#f00 1088px,#ff0a00 1152px,#ff1b00 1460px,#ff1d00 1641px)"></i><i style="background:linear-gradient(90deg,#00ecff 0px,#00acff 48px,#00a0ff 64px,#009eff 76px,#00a4ff 92px,#00b5ff 112px,#0ff 164px,#00ff5b 248px,#33ff5a 252px,#41ff57 254px,#7fff34 270px,#b6ff00 288px,#ff0 326px,#ffd400 364px,#ff9d00 424px,#ff7b00 468px,#ff6200 512px,#ff2b00 648px,#ff0800 804px,#f00 858px,#fa0000 988px,#f00 1094px,#ff0800 1152px,#ff1900 1452px,#ff1b00 1641px)"></i><i style="background:linear-gradient(90deg,#00f5ff 0px,#00aeff 52px,#00a3ff 68px,#00a1ff 80px,#00a7ff 96px,#00b9ff 116px,#0ff 168px,#00ff5b 252px,#33ff5a 256px,#41ff57 258px,#7fff34 274px,#b5ff00 292px,#ecff00 320px,#ff0 332px,#ffd500 368px,#ff9b00 432px,#ff7c00 472px,#ff6300 516px,#ff2c00 652px,#ff0800 808px,#f00 862px,#fa0000 1004px,#f00 1098px,#ff1700 1444px,#ff1900 1641px)"></i><i style="background:linear-gradient(90deg,#0ff 0px,#00b6ff 52px,#00a8ff 68px,#00a5ff 80px,#00a8ff 96px,#00b8ff 116px,#00d4ff 140px,#0ff 170px,#00ff5a 256px,#33ff5a 260px,#41ff57 262px,#85ff2f 280px,#b4ff00 296px,#ff0 336px,#ffd200 376px,#f90 440px,#ff7b00 480px,#ff6100 524px,#ff2d00 656px,#ff0900 812px,#f00 868px,#fa0000 1048px,#f00 1102px,#ff1400 1436px,#ff1700 1641px)"></i><i style="background:linear-gradient(90deg,#00fff5 0px,#0ff 8px,#00b8ff 56px,#00a8ff 84px,#00acff 100px,#0bf 120px,#0ff 172px,#00ff5a 260px,#32ff5a 264px,#41ff57 266px,#84ff30 284px,#b4ff00 300px,#ff0 340px,#ffd700 376px,#ff9d00 440px,#ff7e00 480px,#ff6400 524px,#ff2f00 656px,#ff0b00 804px,#f00 872px,#fa0000 1052px,#f00 1106px,#ff1200 1428px,#ff1400 1641px)"></i><i style="background:linear-gradient(90deg,#00ffeb 0px,#0ff 14px,#00bfff 56px,#00b1ff 72px,#00abff 88px,#00afff 104px,#00beff 124px,#0ff 176px,#00ff5a 264px,#32ff5a 268px,#41ff57 270px,#84ff30 288px,#b3ff00 304px,#ff0 344px,#ffd800 380px,#ff9e00 444px,#ff7f00 484px,#ff6500 528px,#ff2f00 660px,#ff0b00 808px,#f00 876px,#f90000 1052px,#f00 1112px,#ff1000 1424px,#ff1200 1641px)"></i><i style="background:linear-gradient(90deg,#00ffe1 0px,#0ff 20px,#00c2ff 60px,#00b4ff 76px,#00aeff 92px,#00b3ff 108px,#00c1ff 128px,#0ff 178px,#00ff5a 268px,#32ff5a 272px,#41ff57 274px,#84ff30 292px,#b2ff00 308px,#b7ff00 310px,#ff0 350px,#ffd500 388px,#ff9c00 452px,#f60 532px,#ff3000 664px,#ff0c00 812px,#f00 882px,#f90000 1052px,#f00 1118px,#ff0f00 1420px,#ff1000 1641px)"></i><i style="background:linear-gradient(90deg,#00ffd7 0px,#0ff 24px,#00c5ff 64px,#00b7ff 80px,#00b2ff 96px,#00b6ff 112px,#00c4ff 132px,#0ff 180px,#00ffd2 208px,#00ff5a 272px,#32ff5a 276px,#41ff57 278px,#83ff31 296px,#b6ff00 314px,#ff0 354px,#ffd600 392px,#ff9d00 456px,#ff7e00 496px,#ff6500 540px,#ff3000 668px,#ff0c00 816px,#f00 886px,#f90000 1052px,#f00 1126px,#ff0d00 1416px,#ff0e00 1641px)"></i><i style="background:linear-gradient(90deg,#00ffcd 0px,#0fd 12px,#0ff 30px,#00c7ff 68px,#00baff 84px,#00b5ff 100px,#00b9ff 116px,#00c7ff 136px,#0ff 184px,#00ffc2 220px,#00ff5a 276px,#31ff5a 280px,#40ff57 282px,#83ff31 300px,#b6ff00 318px,#ff0 358px,#ffd600 396px,#ff9e00 460px,#ff6700 540px,#ff3200 668px,#ff0d00 816px,#f00 892px,#f90000 1048px,#f00 1136px,#ff0b00 1412px,#ff0c00 1641px)"></i><i style="background:linear-gradient(90deg,#00ffc3 0px,#00ffd3 12px,#0ff 34px,#00caff 72px,#00bdff 88px,#00b8ff 104px,#00bcff 120px,#00caff 140px,#0ff 186px,#00ffc9 220px,#00ff5a 280px,#31ff5a 284px,#40ff58 286px,#82ff32 304px,#b5ff00 322px,#edff00 352px,#ff0 364px,#ffd700 400px,#ff9c00 468px,#f60 548px,#ff3100 676px,#ff0c00 824px,#f00 896px,#f90000 1048px,#f00 1152px,#ff0900 1412px,#ff0b00 1641px)"></i><i style="background:linear-gradient(90deg,#00ffb8 0px,#00ffc8 12px,#0ff 40px,#0cf 76px,#00c0ff 92px,#0bf 108px,#00bfff 124px,#00cdff 144px,#0ff 190px,#00ffc1 228px,#00ff5a 284px,#31ff5a 288px,#40ff58 290px,#82ff32 308px,#b4ff00 326px,#ff0 368px,#ffd800 404px,#ff9c00 472px,#ff6700 552px,#ff3200 680px,#ff0c00 828px,#f00 902px,#f90000 1048px,#f00 1184px,#ff0900 1641px)"></i><i style="background:linear-gradient(90deg,#00ffae 0px,#00ffbe 12px,#0ff 44px,#00cfff 80px,#00c3ff 96px,#00bfff 112px,#00c2ff 128px,#00cfff 148px,#0ff 192px,#00ffc7 228px,#00ff5a 288px,#30ff5a 292px,#40ff58 294px,#81ff32 312px,#b4ff00 330px,#ff0 372px,#ffd900 408px,#ff9d00 476px,#ff6800 556px,#ff3200 684px,#ff0d00 832px,#f00 908px,#f90000 1044px,#f00 1260px,#ff0800 1641px)"></i><i style="background:linear-gradient(90deg,#00ffa4 0px,#0fb 16px,#0ff 50px,#00d2ff 84px,#00c6ff 100px,#00c2ff 116px,#00c5ff 132px,#00d2ff 152px,#0ff 196px,#00ffc0 236px,#00ff5a 292px,#30ff5a 296px,#40ff58 298px,#81ff33 316px,#b3ff00 334px,#ff0 376px,#ffd600 416px,#ff9b00 484px,#f60 564px,#ff3100 692px,#ff0d00 836px,#f00 912px,#f90000 1044px,#ff0700 1641px)"></i><i style="background:linear-gradient(90deg,#00ff9a 0px,#00ffb0 16px,#0ff 56px,#00d4ff 88px,#00c9ff 104px,#00c5ff 120px,#00d1ff 152px,#0ff 198px,#00ffc6 236px,#00ff5b 296px,#2fff5a 300px,#40ff58 302px,#86ff2e 322px,#b7ff00 340px,#ff0 382px,#ffd700 420px,#ff9c00 488px,#ff6700 568px,#ff3200 696px,#ff0c00 844px,#f00 916px,#fa0000 1040px,#ff0600 1641px)"></i><i style="background:linear-gradient(90deg,#00ff90 0px,#00ffa6 16px,#0ff 60px,#00d7ff 92px,#00c8ff 124px,#00d4ff 156px,#0ff 202px,#00ffbf 244px,#00ff5b 300px,#2fff5a 304px,#3fff58 306px,#86ff2e 326px,#b6ff00 344px,#ff0 386px,#ffd700 424px,#ff9d00 492px,#ff6800 572px,#ff3200 700px,#ff0d00 844px,#f00 920px,#fa0000 1040px,#ff0500 1641px)"></i><i style="background:linear-gradient(90deg,#00ff86 0px,#00ff9c 16px,#0ff 66px,#00d9ff 96px,#00cbff 128px,#00d6ff 160px,#0ff 204px,#00ffc6 244px,#00ff5b 304px,#2eff5a 308px,#3fff58 310px,#85ff2f 330px,#b6ff00 348px,#ff0 390px,#ffd800 428px,#ff9e00 496px,#ff6800 576px,#f30 704px,#ff0d00 848px,#f00 924px,#fa0000 1000px,#ff0400 1641px)"></i><i style="background:linear-gradient(90deg,#00ff7c 0px,#00ff92 16px,#0ff 70px,#00dcff 100px,#00cdff 132px,#00d8ff 164px,#0ff 208px,#00ffc6 248px,#00ff5b 308px,#2eff5a 312px,#3fff58 314px,#84ff30 334px,#b5ff00 352px,#ff0 396px,#ffd900 432px,#ff9b00 504px,#ff6700 584px,#ff3200 712px,#ff0d00 856px,#f00 928px,#fa0000 996px,#f00 1641px)"></i><i style="background:linear-gradient(90deg,#00ff72 0px,#0f8 16px,#00ffdb 56px,#0ff 76px,#00dbff 108px,#00d0ff 136px,#00daff 168px,#0ff 210px,#00ffc5 252px,#00ff5b 312px,#3fff58 318px,#84ff30 338px,#b4ff00 356px,#ff0 400px,#ffda00 436px,#ff9c00 508px,#ff6700 588px,#ff3200 716px,#ff0d00 860px,#f00 930px,#fa0000 1040px,#f00 1641px)"></i><i style="background:linear-gradient(90deg,#00ff69 0px,#00ff7e 16px,#00ffda 60px,#0ff 80px,#00deff 112px,#00d3ff 144px,#00dfff 176px,#0ff 214px,#00ffc5 256px,#00ff5b 316px,#3fff59 322px,#83ff31 342px,#b4ff00 360px,#ff0 404px,#ffda00 440px,#ff9d00 512px,#ff6800 592px,#ff3400 716px,#ff0d00 864px,#f00 934px,#fa0000 1052px,#f00 1641px)"></i><i style="background:linear-gradient(90deg,#00ff60 0px,#00ff75 16px,#00ffd8 64px,#0ff 86px,#00e1ff 116px,#00d5ff 148px,#00e1ff 180px,#0ff 218px,#00ffc5 260px,#00ff5b 320px,#3eff59 326px,#83ff31 346px,#b3ff00 364px,#ff0 408px,#ff9e00 516px,#ff6800 596px,#ff3400 720px,#ff0d00 868px,#f00 936px,#fa0000 1056px,#f00 1641px)"></i><i style="background:linear-gradient(90deg,#0eff5a 0px,#00ff5a 2px,#00ff5b 4px,#00ff74 20px,#00ffd7 68px,#0ff 92px,#00e1ff 124px,#00d8ff 152px,#00e3ff 184px,#0ff 220px,#0fc 260px,#00ff5b 324px,#3eff59 330px,#82ff32 350px,#b6ff00 370px,#ff0 414px,#ff9b00 524px,#ff6700 604px,#f30 728px,#ff0c00 876px,#f00 940px,#fa0000 1064px,#f00 1641px)"></i><i style="background:linear-gradient(90deg,#3dff59 0px,#2bff5a 4px,#00ff5b 10px,#00ff73 24px,#00ffd5 72px,#0ff 98px,#00e3ff 128px,#00dbff 156px,#00e5ff 188px,#0ff 224px,#0fc 264px,#00ff5b 328px,#3eff59 334px,#82ff32 354px,#b6ff00 374px,#ff0 418px,#ffd900 456px,#f90 532px,#ff6300 616px,#ff2f00 744px,#ff0800 900px,#f00 944px,#fa0000 1072px,#f00 1641px)"></i><i style="background:linear-gradient(90deg,#4aff52 0px,#3bff5a 8px,#00ff5a 14px,#00ffd3 76px,#0ff 104px,#00e6ff 132px,#00deff 160px,#00e6ff 192px,#0ff 226px,#00ffed 244px,#0fc 268px,#00ff5b 332px,#3eff59 338px,#81ff33 358px,#b5ff00 378px,#ff0 422px,#ffd900 460px,#f90 536px,#ff6400 620px,#ff2e00 752px,#ff0700 908px,#f00 946px,#fa0000 1068px,#f00 1641px)"></i><i style="background:linear-gradient(90deg,#57ff4b 0px,#3fff58 12px,#30ff5a 14px,#05ff5a 18px,#00ff5d 20px,#00ffd2 80px,#0ff 110px,#00e9ff 136px,#00e0ff 164px,#00e8ff 196px,#0ff 230px,#00ffd2 268px,#00ff5b 336px,#3dff59 342px,#80ff33 362px,#b4ff00 382px,#ff0 428px,#ff9700 544px,#ff6200 628px,#ff2d00 760px,#ff0600 916px,#f00 950px,#fa0000 1068px,#fb0000 1641px)"></i><i style="background:linear-gradient(90deg,#62ff44 0px,#55ff4c 8px,#40ff58 16px,#35ff5a 18px,#08ff5a 22px,#00ff5c 24px,#00ffd0 84px,#0ff 116px,#00eaff 144px,#00e3ff 172px,#00eaff 200px,#0ff 234px,#00ffd2 272px,#00ff5b 340px,#11ff5a 342px,#3dff59 346px,#7fff33 366px,#b4ff00 386px,#ff0 432px,#ff9800 548px,#ff6300 632px,#ff2d00 764px,#ff0500 924px,#f00 954px,#fa0000 1068px,#fb0000 1641px)"></i><i style="background:linear-gradient(90deg,#6eff3e 0px,#61ff45 8px,#41ff57 20px,#38ff5a 22px,#09ff5a 26px,#00ff5c 28px,#00ffce 88px,#0ff 122px,#00ecff 148px,#00e5ff 176px,#00eaff 200px,#0ff 236px,#00fff1 252px,#00ffd7 272px,#00ff5b 344px,#10ff5a 346px,#3dff5a 350px,#84ff30 372px,#b3ff00 390px,#b7ff00 392px,#ff0 436px,#ff9800 552px,#ff6300 636px,#ff2e00 768px,#ff0500 928px,#f00 958px,#fa0000 1068px,#fa0000 1641px)"></i><i style="background:linear-gradient(90deg,#79ff37 0px,#64ff43 12px,#42ff57 24px,#3aff5a 26px,#0bff5a 30px,#00ff5c 32px,#0fc 92px,#0ff 128px,#00edff 156px,#00e8ff 184px,#00edff 208px,#0ff 240px,#00fff1 256px,#00ffd7 276px,#00ff5b 348px,#10ff5a 350px,#3dff5a 354px,#84ff30 376px,#b6ff00 396px,#ff0 440px,#f90 556px,#ff6400 640px,#ff2f00 768px,#ff0600 928px,#f00 962px,#fa0000 1064px,#fa0000 1641px)"></i><i style="background:linear-gradient(90deg,#84ff30 0px,#70ff3c 12px,#3cff5a 30px,#0dff5a 34px,#00ff5c 36px,#00ffca 96px,#00ffe8 116px,#0ff 136px,#00f0ff 160px,#00eaff 188px,#00edff 208px,#0ff 242px,#00fff1 260px,#0fd 276px,#00ff5b 352px,#0fff5a 354px,#3cff5a 358px,#83ff31 380px,#b6ff00 400px,#ff0 446px,#ff9a00 560px,#ff6400 644px,#ff2f00 772px,#ff0600 932px,#f00 966px,#fa0000 1064px,#f90000 1641px)"></i><i style="background:linear-gradient(90deg,#8dff27 0px,#7cff35 12px,#3cff5a 34px,#0eff5a 38px,#00ff5b 40px,#00ffc8 100px,#00ffe6 120px,#0ff 142px,#00f0ff 172px,#00ecff 196px,#0ff 246px,#00fff1 264px,#00ffdc 280px,#00ff5b 356px,#0eff5a 358px,#3bff5a 362px,#82ff32 384px,#b5ff00 404px,#ff0 450px,#ff9a00 564px,#ff6500 648px,#ff3000 776px,#ff0600 936px,#f00 972px,#fa0000 1064px,#f90000 1641px)"></i><i style="background:linear-gradient(90deg,#96ff1e 0px,#7eff34 16px,#3dff5a 38px,#0fff5a 42px,#00ff5b 44px,#00ffcd 108px,#00ffe8 128px,#0ff 148px,#0ef 200px,#0ff 248px,#00fff5 264px,#00ffe1 280px,#00ff5b 360px,#0dff5a 362px,#3aff5a 366px,#42ff57 368px,#82ff32 388px,#b4ff00 408px,#ff0 454px,#ff9b00 568px,#ff6500 652px,#ff3000 780px,#ff0700 936px,#f00 976px,#fa0000 1064px,#f80000 1641px)"></i><i style="background:linear-gradient(90deg,#9fff15 0px,#96ff1e 8px,#80ff33 20px,#44ff56 40px,#3dff59 42px,#11ff5a 46px,#00ff5b 48px,#00ffc4 108px,#00ffe5 132px,#00fff9 152px,#0ff 162px,#00f1ff 204px,#0ff 252px,#00fff4 268px,#00ffe6 280px,#00ff5b 364px,#0cff5a 366px,#39ff5a 370px,#41ff57 372px,#81ff33 392px,#b4ff00 412px,#b7ff00 414px,#ff0 460px,#ff9b00 572px,#ff6500 656px,#ff3000 784px,#ff0600 940px,#f00 980px,#fa0000 1064px,#f80000 1641px)"></i><i style="background:linear-gradient(90deg,#a9ff0b 0px,#9fff15 8px,#85ff2f 22px,#4f5 44px,#3dff59 46px,#00ff5b 52px,#00ffc2 112px,#00ffe2 136px,#00fff5 156px,#0ff 170px,#00f3ff 208px,#0ff 254px,#00fff8 268px,#00ffea 280px,#00ff5b 368px,#0bff5a 370px,#37ff5a 374px,#41ff57 376px,#80ff33 396px,#b6ff00 418px,#ff0 464px,#ff9c00 576px,#f60 660px,#ff3000 788px,#ff0700 940px,#f00 982px,#fa0000 1064px,#f80000 1641px)"></i><i style="background:linear-gradient(90deg,#b2ff00 0px,#a2ff12 12px,#8aff2a 24px,#51ff4e 44px,#3eff59 50px,#00ff5a 56px,#00ffc0 116px,#00ffef 156px,#0ff 180px,#00f6ff 208px,#0ff 258px,#00fff7 272px,#00ffe8 284px,#00ff5c 372px,#0aff5a 374px,#36ff5a 378px,#40ff57 380px,#7fff34 400px,#b6ff00 422px,#ff0 468px,#ff9c00 580px,#f60 664px,#ff3000 792px,#ff0700 944px,#f00 986px,#fa0000 1060px,#f70000 1641px)"></i><i style="background:linear-gradient(90deg,#b9ff00 0px,#b1ff00 8px,#93ff21 24px,#81ff33 32px,#52ff4e 48px,#3eff59 54px,#2eff5a 56px,#00ff5a 60px,#00ffa5 104px,#00ffce 132px,#00ffec 160px,#0ff 192px,#00f8ff 212px,#0ff 262px,#00fff9 272px,#00ffe0 292px,#00ff5c 376px,#09ff5a 378px,#34ff5a 382px,#40ff58 384px,#84ff30 406px,#b5ff00 426px,#ff0 474px,#ff9a00 588px,#f60 668px,#ff3200 792px,#ff0800 944px,#f00 990px,#fa0000 1060px,#f70000 1641px)"></i><i style="background:linear-gradient(90deg,#bfff00 0px,#b3ff00 12px,#76ff39 40px,#3fff58 58px,#30ff5a 60px,#00ff5a 64px,#00ff5d 66px,#0fa 112px,#00ffd1 140px,#00ffec 168px,#0ff 200px,#00faff 224px,#0ff 264px,#00fff7 276px,#00ffd7 300px,#00ff5c 380px,#08ff5a 382px,#32ff5a 386px,#3fff58 388px,#83ff31 410px,#b5ff00 430px,#ff0 478px,#ff9d00 588px,#ff6700 672px,#ff3200 796px,#ff0800 948px,#f00 992px,#fa0000 1060px,#f70000 1641px)"></i><i style="background:linear-gradient(90deg,#c5ff00 0px,#b4ff00 16px,#81ff32 40px,#40ff58 62px,#32ff5a 64px,#05ff5a 68px,#00ff5d 70px,#00ffa8 116px,#00ffce 144px,#00ffe9 172px,#0ff 208px,#00fbff 232px,#0ff 266px,#00fff8 276px,#00ffd5 304px,#00ff5c 384px,#06ff5a 386px,#31ff5a 390px,#3fff58 392px,#83ff31 414px,#b4ff00 434px,#ff0 482px,#ff9e00 592px,#ff6700 676px,#ff3200 800px,#ff0700 952px,#f00 996px,#fa0000 1060px,#f60000 1641px)"></i><i style="background:linear-gradient(90deg,#cbff00 0px,#b5ff00 20px,#81ff32 44px,#40ff58 66px,#35ff5a 68px,#08ff5a 72px,#00ff5c 74px,#00ffa7 120px,#0fc 148px,#00ffe9 180px,#0ff 216px,#0ff 268px,#00fff6 280px,#00ffcd 312px,#00ff5c 388px,#05ff5a 390px,#2fff5a 394px,#3eff59 396px,#82ff32 418px,#b7ff00 440px,#ff0 486px,#ff9e00 596px,#ff6700 680px,#ff3200 804px,#ff0800 952px,#f00 998px,#fa0000 1056px,#f60000 1641px)"></i><i style="background:linear-gradient(90deg,#d1ff00 0px,#b5ff00 24px,#82ff32 48px,#41ff57 70px,#38ff5a 72px,#0bff5a 76px,#00ff5c 78px,#00ff9f 120px,#00ffc9 152px,#0fe 192px,#0ff 222px,#0ff 268px,#00fff3 284px,#00ffcb 316px,#00ff5c 392px,#00ff5a 394px,#3eff59 400px,#81ff33 422px,#b6ff00 444px,#ff0 492px,#ff9c00 604px,#ff6800 684px,#ff3200 808px,#ff0800 956px,#f00 1002px,#fa0000 1056px,#f60000 1641px)"></i><i style="background:linear-gradient(90deg,#d7ff00 0px,#b5ff00 28px,#82ff32 52px,#3aff5a 76px,#0eff5a 80px,#00ff5b 82px,#00ff9d 124px,#00ffc7 156px,#00ffec 196px,#0ff 226px,#0ff 268px,#00fff1 288px,#00ffc4 324px,#00ff5a 398px,#3dff59 404px,#80ff33 426px,#b5ff00 448px,#ff0 496px,#ff9f00 604px,#ff6800 688px,#ff3200 812px,#ff0800 960px,#f00 1004px,#fa0000 1056px,#fa0000 1512px,#f50000 1641px)"></i><i style="background:linear-gradient(90deg,#df0 0px,#b6ff00 32px,#82ff32 56px,#3cff5a 80px,#00ff5b 86px,#00ff9c 128px,#00ffc5 160px,#0fe 204px,#0ff 232px,#0ff 268px,#0fe 292px,#00ffbd 332px,#00ff5a 402px,#3dff5a 408px,#7fff34 430px,#b5ff00 452px,#ff0 500px,#ffa000 608px,#ff6800 692px,#ff3200 816px,#ff0800 964px,#f00 1008px,#fa0000 1056px,#fa0000 1512px,#f50000 1641px)"></i><i style="background:linear-gradient(90deg,#e3ff00 0px,#d8ff00 12px,#b6ff00 36px,#83ff31 60px,#3dff59 84px,#00ff5a 90px,#00ff9a 132px,#00ffc3 164px,#0fe 208px,#0ff 238px,#0ff 268px,#00ffec 296px,#00ffbc 336px,#00ff5a 406px,#3cff5a 412px,#84ff30 436px,#b4ff00 456px,#ff0 504px,#ffa000 612px,#ff6900 696px,#ff3400 816px,#ff0800 964px,#f00 1010px,#fa0000 1068px,#fa0000 1512px,#f40000 1641px)"></i><i style="background:linear-gradient(90deg,#e9ff00 0px,#d9ff00 16px,#b3ff00 42px,#83ff31 64px,#3eff59 88px,#00ff5a 94px,#00ff5d 96px,#00ff9e 140px,#00ffca 176px,#00fff3 220px,#0ff 246px,#0ff 276px,#00ffe6 304px,#00ffb6 344px,#00ff5a 410px,#3aff5a 416px,#41ff57 418px,#83ff31 440px,#b3ff00 460px,#b7ff00 462px,#ff0 510px,#ffa000 616px,#ff6900 700px,#ff3400 820px,#ff0800 968px,#f00 1012px,#fa0000 1072px,#f90000 1508px,#f30000 1641px)"></i><i style="background:linear-gradient(90deg,#efff00 0px,#dfff00 16px,#b3ff00 46px,#84ff30 68px,#3fff58 92px,#31ff5a 94px,#06ff5a 98px,#00ff5c 100px,#00ffa2 148px,#00ffd2 188px,#00fff5 228px,#0ff 256px,#00fff8 284px,#00ffe0 312px,#00ffb0 352px,#00ff5b 414px,#38ff5a 420px,#41ff57 422px,#82ff32 444px,#b6ff00 466px,#ff0 514px,#ffa100 620px,#ff6900 704px,#ff3400 824px,#ff0800 972px,#f00 1016px,#fa0000 1084px,#f90000 1500px,#f30000 1641px)"></i><i style="background:linear-gradient(90deg,#f4ff00 0px,#e5ff00 16px,#b4ff00 50px,#84ff30 72px,#40ff58 96px,#34ff5a 98px,#0aff5a 102px,#00ff5c 104px,#00ffa6 156px,#00ffd9 200px,#00fff6 236px,#0ff 264px,#00fff6 288px,#00ffda 320px,#00ffab 360px,#00ff5b 418px,#0eff5a 420px,#36ff5a 424px,#40ff58 426px,#82ff32 448px,#b6ff00 470px,#ff0 518px,#ffa100 624px,#ff6900 708px,#ff3400 828px,#ff0800 976px,#f00 1018px,#fa0000 1092px,#f90000 1484px,#f20000 1641px)"></i><i style="background:linear-gradient(90deg,#faff00 0px,#eaff00 16px,#b4ff00 54px,#85ff2f 76px,#41ff57 100px,#37ff5a 102px,#0eff5a 106px,#00ff5b 108px,#00ffa0 156px,#00ffd4 200px,#00fff3 236px,#0ff 264px,#00fff4 292px,#00ffd9 324px,#0fa 364px,#00ff5b 422px,#0cff5a 424px,#34ff5a 428px,#40ff58 430px,#81ff33 452px,#b5ff00 474px,#ff0 524px,#ffa100 628px,#ff6900 712px,#ff3400 832px,#ff0800 976px,#f00 1020px,#fa0000 1100px,#fa0000 1456px,#f10000 1641px)"></i><i style="background:linear-gradient(90deg,#ff0 0px,#ebff00 20px,#b4ff00 58px,#85ff2f 80px,#3bff5a 106px,#00ff5a 112px,#00ffa4 164px,#00ffdb 212px,#00fff6 248px,#00fffa 276px,#00fff0 300px,#00ffd4 332px,#00ffa5 372px,#00ff5b 426px,#0aff5a 428px,#32ff5a 432px,#3fff58 434px,#85ff2f 458px,#b4ff00 478px,#ff0 528px,#ffa200 632px,#ff6a00 716px,#ff3400 836px,#ff0900 976px,#f00 1024px,#fa0000 1108px,#fa0000 1444px,#f10000 1641px)"></i><i style="background:linear-gradient(90deg,#ff0 0px,#ff0 8px,#f5ff00 16px,#b5ff00 62px,#97ff1d 76px,#81ff33 86px,#3dff5a 110px,#00ff5a 116px,#00ff5d 118px,#00ffa8 172px,#00ffda 216px,#00fff5 252px,#00fff9 280px,#00ffef 304px,#00ffd3 336px,#00ffa4 376px,#00ff5c 430px,#09ff5a 432px,#31ff5a 436px,#3eff59 438px,#84ff30 462px,#b4ff00 482px,#ff0 532px,#ffa200 636px,#ff6a00 720px,#ff3400 840px,#ff0800 980px,#f00 1026px,#fa0000 1112px,#fa0000 1436px,#f10000 1641px)"></i><i style="background:linear-gradient(90deg,#fff800 0px,#fbff00 16px,#b1ff00 68px,#82ff32 90px,#3eff59 114px,#04ff5a 120px,#00ff5c 122px,#00ffa2 172px,#00ffd5 216px,#00fff0 248px,#00fff8 276px,#00fff0 304px,#00ffd6 336px,#00ffa9 376px,#00ff5c 434px,#07ff5a 436px,#3eff59 442px,#84ff30 466px,#b3ff00 486px,#ff0 536px,#ffa200 640px,#ff6a00 724px,#ff3500 840px,#ff0900 980px,#f00 1030px,#fa0000 1116px,#fa0000 1428px,#f00000 1641px)"></i><i style="background:linear-gradient(90deg,#fff500 0px,#ff0 18px,#b2ff00 72px,#82ff32 94px,#3eff59 118px,#30ff5a 120px,#08ff5a 124px,#00ff5c 126px,#00ffa6 180px,#00ffd5 220px,#0fe 252px,#00fff7 280px,#00ffef 308px,#00ffd6 340px,#00ffa9 380px,#00ff5c 438px,#05ff5a 440px,#3dff59 446px,#83ff31 470px,#b6ff00 492px,#ff0 542px,#ffa300 644px,#ff6a00 728px,#ff3500 844px,#ff0900 984px,#f00 1032px,#fa0000 1120px,#fa0000 1424px,#f00000 1641px)"></i><i style="background:linear-gradient(90deg,#fff200 0px,#ff0 22px,#b2ff00 76px,#83ff31 98px,#3fff58 122px,#34ff5a 124px,#0cff5a 128px,#00ff5b 130px,#00ffa5 184px,#00ffd4 224px,#00ffed 256px,#00fff6 284px,#0fe 312px,#00ffd5 344px,#00ffa8 384px,#00ff5c 442px,#04ff5a 444px,#3dff5a 450px,#82ff32 474px,#b5ff00 496px,#ff0 546px,#ffa300 648px,#ff6a00 732px,#ff3500 848px,#ff0900 988px,#f00 1036px,#fa0000 1124px,#fa0000 1424px,#ef0000 1641px)"></i><i style="background:linear-gradient(90deg,#ffef00 0px,#ff0 26px,#b3ff00 80px,#83ff31 102px,#40ff58 126px,#37ff5a 128px,#00ff5b 134px,#00ffa5 188px,#00ffd3 228px,#00ffec 260px,#00fff5 288px,#00ffed 316px,#00ffd4 348px,#00ffa8 388px,#00ff5c 446px,#00ff5a 448px,#3cff5a 454px,#82ff32 478px,#b5ff00 500px,#ff0 550px,#ffa300 652px,#ff6a00 736px,#ff3500 852px,#ff0900 988px,#f00 1038px,#fa0000 1124px,#fa0000 1420px,#ef0000 1641px)"></i><i style="background:linear-gradient(90deg,#ffec00 0px,#ff0 30px,#b4ff00 84px,#84ff30 106px,#41ff57 130px,#3aff5a 132px,#00ff5a 138px,#00ffa4 192px,#00ffd2 232px,#00ffeb 264px,#00fff4 292px,#00ffec 320px,#00ffd4 352px,#00ffa8 392px,#00ff5a 452px,#3cff5a 458px,#81ff33 482px,#b4ff00 504px,#ff0 554px,#ffa400 656px,#ff6b00 740px,#ff3500 856px,#ff0900 992px,#f00 1042px,#fa0000 1128px,#fa0000 1420px,#e00 1641px)"></i><i style="background:linear-gradient(90deg,#ffe800 0px,#ff0 34px,#b4ff00 88px,#80ff33 112px,#3cff5a 136px,#00ff5a 142px,#00ff5c 144px,#00ffa8 200px,#00ffd1 236px,#00ffea 268px,#00fff3 296px,#00ffec 324px,#00ffd3 356px,#00ffa8 396px,#00ff5a 456px,#3aff5a 462px,#80ff33 486px,#b4ff00 508px,#ff0 558px,#ffa400 660px,#ff6b00 744px,#ff3500 860px,#ff0900 996px,#f00 1044px,#fa0000 1128px,#fa0000 1420px,#e00 1641px)"></i><i style="background:linear-gradient(90deg,#ffe500 0px,#ff0 38px,#b4ff00 92px,#80ff33 116px,#3dff59 140px,#06ff5a 146px,#00ff5c 148px,#00ffa8 204px,#00ffd0 240px,#00ffeb 276px,#00fff2 304px,#00ffe9 332px,#00ffcf 364px,#00ffa3 404px,#00ff5a 460px,#38ff5a 466px,#41ff57 468px,#85ff2f 492px,#b3ff00 512px,#ff0 564px,#ffa400 664px,#ff6b00 748px,#ff3400 864px,#ff0900 996px,#f00 1048px,#fa0000 1132px,#fa0000 1416px,#ed0000 1641px)"></i><i style="background:linear-gradient(90deg,#ffe300 0px,#ff0 44px,#b5ff00 96px,#81ff33 120px,#3eff59 144px,#30ff5a 146px,#09ff5a 150px,#00ff5b 152px,#00ffa7 208px,#00ffcf 244px,#00ffea 280px,#00fff2 308px,#00ffe8 336px,#00ffcf 368px,#00ffa2 408px,#00ff5a 464px,#37ff5a 470px,#40ff58 472px,#84ff30 496px,#b6ff00 518px,#ff0 568px,#ffa400 668px,#ff6b00 752px,#ff3400 868px,#ff0900 1000px,#f00 1050px,#fa0000 1132px,#fa0000 1416px,#ed0000 1641px)"></i><i style="background:linear-gradient(90deg,#ffe000 0px,#ff0 48px,#b5ff00 100px,#82ff32 124px,#3fff58 148px,#33ff5a 150px,#0cff5a 154px,#00ff5b 156px,#00ffa6 212px,#00ffce 248px,#00ffea 284px,#00fff1 312px,#00ffe8 340px,#00ffce 372px,#00ffa2 412px,#00ff5b 468px,#35ff5a 474px,#40ff58 476px,#84ff30 500px,#b6ff00 522px,#ff0 572px,#ffa400 672px,#ff6b00 756px,#ff3400 872px,#ff0900 1004px,#f00 1052px,#fa0000 1132px,#fa0000 1416px,#ec0000 1641px)"></i><i style="background:linear-gradient(90deg,#fd0 0px,#ffe900 24px,#ff0 52px,#b6ff00 104px,#82ff32 128px,#40ff58 152px,#36ff5a 154px,#00ff5b 160px,#00ffa6 216px,#00ffce 252px,#00ffe9 288px,#00fff1 316px,#00ffe7 344px,#00ffce 376px,#00ffa2 416px,#00ff5b 472px,#0eff5a 474px,#34ff5a 478px,#3fff58 480px,#83ff31 504px,#b5ff00 526px,#ff0 576px,#ffa800 672px,#ff6d00 756px,#ff3600 872px,#ff0900 1004px,#f00 1056px,#fa0000 1132px,#fa0000 1416px,#eb0000 1641px)"></i><i style="background:linear-gradient(90deg,#ffda00 0px,#ffe600 24px,#ff0 56px,#b6ff00 108px,#83ff31 132px,#41ff57 156px,#39ff5a 158px,#00ff5a 164px,#00ffa5 220px,#00ffcd 256px,#00ffe8 292px,#00fff0 320px,#00ffe7 348px,#00ffcd 380px,#00ffa2 420px,#00ff5b 476px,#0cff5a 478px,#33ff5a 482px,#3fff58 484px,#83ff31 508px,#b5ff00 530px,#ff0 580px,#ffa800 676px,#ff6d00 760px,#ff3500 876px,#ff0900 1008px,#f00 1058px,#fa0000 1132px,#fa0000 1416px,#eb0000 1641px)"></i><i style="background:linear-gradient(90deg,#ffd700 0px,#ffe500 28px,#ff0 60px,#b6ff00 112px,#84ff30 136px,#3cff5a 162px,#00ff5a 168px,#00ff5c 170px,#00ffa4 224px,#0fc 260px,#00ffe8 296px,#00fff0 324px,#00ffe6 352px,#00ffcd 384px,#00ff9d 428px,#00ff5b 480px,#0bff5a 482px,#32ff5a 486px,#3fff59 488px,#82ff32 512px,#b4ff00 534px,#ff0 586px,#ffa500 684px,#ff6b00 768px,#ff3400 884px,#ff0900 1012px,#f00 1060px,#fa0000 1132px,#fa0000 1416px,#ea0000 1641px)"></i><i style="background:linear-gradient(90deg,#ffd400 0px,#ffe200 28px,#ff0 64px,#c9ff00 104px,#b4ff00 118px,#7fff34 142px,#3dff59 166px,#05ff5a 172px,#00ff5c 174px,#00ffa4 228px,#00ffcb 264px,#00ffe7 300px,#00ffef 328px,#00ffe6 356px,#0fc 388px,#00ff9d 432px,#00ff5b 484px,#0aff5a 486px,#30ff5a 490px,#3eff59 492px,#82ff32 516px,#b4ff00 538px,#ff0 590px,#ffa800 684px,#ff6d00 768px,#ff3500 884px,#ff0900 1012px,#f00 1062px,#fa0000 1132px,#fa0000 1416px,#ea0000 1641px)"></i><i style="background:linear-gradient(90deg,#ffd100 0px,#ffe100 32px,#ff0 68px,#daff00 96px,#b4ff00 122px,#80ff33 146px,#3eff59 170px,#08ff5a 176px,#00ff5c 178px,#00ffa3 232px,#00ffcb 268px,#00ffe7 304px,#00ffef 332px,#00ffe5 360px,#00ffcb 392px,#00ff9c 436px,#00ff5b 488px,#0aff5a 490px,#3eff59 496px,#81ff32 520px,#b3ff00 542px,#ff0 594px,#ffa800 688px,#ff6e00 772px,#ff3500 888px,#ff0900 1016px,#f00 1066px,#fa0000 1132px,#fa0000 1416px,#e90000 1641px)"></i><i style="background:linear-gradient(90deg,#ffce00 0px,#ffde00 32px,#ff0 72px,#e6ff00 92px,#b5ff00 126px,#81ff33 150px,#3fff59 174px,#32ff5a 176px,#0bff5a 180px,#00ff5b 182px,#00ffa2 236px,#00ffca 272px,#00ffe6 308px,#0fe 336px,#00ffe4 364px,#00ffcb 396px,#00ff9c 440px,#00ff5b 492px,#09ff5a 494px,#3eff59 500px,#81ff33 524px,#b3ff00 546px,#ff0 598px,#ffa900 692px,#ff6e00 776px,#ff3500 892px,#ff0900 1016px,#f00 1068px,#fa0000 1132px,#fa0000 1416px,#e90000 1641px)"></i><i style="background:linear-gradient(90deg,#ffcb00 0px,#ffdb00 32px,#ff0 76px,#ecff00 92px,#b5ff00 130px,#81ff32 154px,#3fff58 178px,#35ff5a 180px,#00ff5b 186px,#00ffa2 240px,#00ffca 276px,#00ffe6 312px,#0fe 340px,#00ffe4 368px,#00ffca 400px,#00ff9c 444px,#00ff5b 496px,#08ff5a 498px,#3dff59 504px,#85ff2f 530px,#b6ff00 552px,#ff0 602px,#ffa900 696px,#ff6e00 780px,#ff3500 896px,#ff0900 1020px,#f00 1070px,#fa0000 1132px,#fa0000 1420px,#e80000 1641px)"></i><i style="background:linear-gradient(90deg,#ffc800 0px,#ffda00 36px,#ff0 80px,#f2ff00 92px,#b5ff00 134px,#82ff32 158px,#40ff58 182px,#37ff5a 184px,#00ff5a 190px,#00ffa1 244px,#00ffc9 280px,#00ffe5 316px,#00ffed 344px,#00ffe3 372px,#00ffca 404px,#00ff9c 448px,#00ff5c 500px,#08ff5a 502px,#3dff59 508px,#85ff2f 534px,#b6ff00 556px,#ff0 606px,#ffa900 700px,#ff6d00 784px,#ff3400 900px,#ff0900 1024px,#f00 1072px,#fa0000 1132px,#fa0000 1420px,#e80000 1641px)"></i><i style="background:linear-gradient(90deg,#ffc500 0px,#ffda00 40px,#ff0 86px,#f7ff00 92px,#b6ff00 138px,#83ff31 162px,#3aff5a 188px,#00ff5a 194px,#00ff5d 196px,#00ffa1 248px,#0fc 288px,#00ffe5 320px,#00ffec 348px,#00ffe2 376px,#00ffc6 412px,#00ff9c 452px,#00ff5c 504px,#07ff5a 506px,#3dff59 512px,#85ff2f 538px,#b5ff00 560px,#ff0 610px,#ffa900 704px,#ff6d00 788px,#ff3400 904px,#ff0900 1024px,#f00 1074px,#fa0000 1136px,#fa0000 1416px,#e70000 1641px)"></i><i style="background:linear-gradient(90deg,#ffc200 0px,#ffd400 36px,#ff0 92px,#b3ff00 144px,#83ff31 166px,#3cff5a 192px,#00ff5a 198px,#00ff5c 200px,#00ffa0 252px,#00ffc8 288px,#00ffe2 320px,#00ffec 348px,#00ffe4 376px,#00ffc9 412px,#00ff9b 456px,#00ff5c 508px,#07ff5a 510px,#3dff5a 516px,#84ff30 542px,#b5ff00 564px,#ff0 616px,#ffa900 708px,#ff6d00 792px,#ff3400 908px,#ff0900 1028px,#f00 1078px,#fa0000 1136px,#f90000 1416px,#e70000 1641px)"></i><i style="background:linear-gradient(90deg,#ffbf00 0px,#ffd300 40px,#ff0 96px,#b3ff00 148px,#84ff30 170px,#3dff5a 196px,#06ff5a 202px,#00ff5c 204px,#00ffa0 256px,#00ffc7 292px,#00ffe1 324px,#00ffeb 352px,#00ffe3 380px,#00ffc8 416px,#00ff9b 460px,#00ff5c 512px,#07ff5a 514px,#3dff5a 520px,#84ff30 546px,#b5ff00 568px,#ff0 620px,#ffa900 712px,#ff6d00 796px,#f30 912px,#ff0900 1032px,#f00 1080px,#f90000 1412px,#e60000 1641px)"></i><i style="background:linear-gradient(90deg,#ffbc00 0px,#ffd300 44px,#ff0 100px,#b4ff00 152px,#84ff30 174px,#3eff59 200px,#08ff5a 206px,#00ff5c 208px,#00ff9f 260px,#00ffc7 296px,#00ffe0 328px,#00ffea 356px,#00ffe2 384px,#00ffc8 420px,#00ff9b 464px,#00ff5c 516px,#06ff5a 518px,#3dff5a 524px,#84ff30 550px,#b5ff00 572px,#ff0 624px,#ffa900 716px,#ff6d00 800px,#f30 916px,#ff0900 1032px,#f00 1082px,#f90000 1408px,#e60000 1641px)"></i><i style="background:linear-gradient(90deg,#ffb900 0px,#ffd000 44px,#ff0 104px,#b4ff00 156px,#85ff2f 178px,#3eff59 204px,#31ff5a 206px,#0bff5a 210px,#00ff5b 212px,#00ff9f 264px,#00ffc6 300px,#00ffe0 332px,#00ffe9 360px,#00ffe1 388px,#00ffc7 424px,#00ff9b 468px,#00ff5c 520px,#06ff5a 522px,#3dff5a 528px,#84ff30 554px,#b5ff00 576px,#ff0 628px,#ffa900 720px,#ff6d00 804px,#f30 920px,#ff0900 1036px,#f00 1084px,#f90000 1404px,#e50000 1641px)"></i><i style="background:linear-gradient(90deg,#ffb600 0px,#ffd000 48px,#ff0 108px,#b4ff00 160px,#80ff33 184px,#3fff58 208px,#33ff5a 210px,#0dff5a 214px,#00ff5b 216px,#00ff9e 268px,#00ffc6 304px,#00ffdf 336px,#00ffe8 364px,#00ffe0 392px,#00ffc7 428px,#00ff9a 472px,#00ff5c 524px,#07ff5a 526px,#3dff5a 532px,#84ff30 558px,#b5ff00 580px,#ff0 632px,#ffad00 720px,#ff7000 804px,#ff3400 920px,#ff0a00 1036px,#f00 1086px,#f90000 1396px,#e50000 1641px)"></i><i style="background:linear-gradient(90deg,#ffb300 0px,#ffcd00 48px,#ff0 112px,#b5ff00 164px,#81ff33 188px,#40ff58 212px,#35ff5a 214px,#00ff5b 220px,#00ff9e 272px,#00ffc5 308px,#00ffde 340px,#00ffe7 368px,#00ffdf 396px,#00ffc6 432px,#00ff9a 476px,#00ff5c 528px,#07ff5a 530px,#3dff5a 536px,#84ff30 562px,#b4ff00 584px,#ff0 636px,#ffad00 724px,#ff6f00 808px,#ff3400 924px,#ff0900 1040px,#f00 1088px,#f90000 1392px,#e50000 1641px)"></i><i style="background:linear-gradient(90deg,#ffb100 0px,#ffcd00 52px,#ff0 116px,#b5ff00 168px,#82ff32 192px,#40ff58 216px,#37ff5a 218px,#00ff5a 224px,#00ff9e 276px,#00ffc5 312px,#00ffde 344px,#00ffe6 372px,#00ffdf 400px,#00ffc6 436px,#00ff9a 480px,#00ff5c 532px,#07ff5a 534px,#3dff5a 540px,#84ff30 566px,#b4ff00 588px,#ff0 640px,#ffad00 728px,#ff6f00 812px,#ff3400 928px,#ff0900 1044px,#f00 1092px,#f90000 1384px,#e40000 1641px)"></i><i style="background:linear-gradient(90deg,#ffae00 0px,#fc0 56px,#ff0 120px,#b5ff00 172px,#82ff32 196px,#39ff5a 222px,#00ff5a 228px,#00ff5d 230px,#00ff9d 280px,#00ffc4 316px,#0fd 348px,#00ffe5 376px,#00ffde 404px,#00ffc5 440px,#00ff9a 484px,#00ff5b 536px,#08ff5a 538px,#3dff5a 544px,#84ff30 570px,#b4ff00 592px,#ff0 644px,#ffad00 732px,#ff6f00 816px,#f30 932px,#ff0900 1044px,#f00 1094px,#f90000 1380px,#e40000 1641px)"></i><i style="background:linear-gradient(90deg,#ffab00 0px,#ffca00 56px,#ff0 124px,#b5ff00 176px,#82ff32 200px,#3bff5a 226px,#00ff5a 232px,#00ff5c 234px,#00ff9d 284px,#00ffc4 320px,#00ffdc 352px,#00ffe4 380px,#0fd 408px,#00ffc5 444px,#0f9 488px,#00ff5b 540px,#08ff5a 542px,#3dff59 548px,#84ff30 574px,#b4ff00 596px,#ff0 648px,#ffad00 736px,#ff6f00 820px,#f30 936px,#ff0900 1048px,#f00 1096px,#f90000 1376px,#e30000 1641px)"></i><i style="background:linear-gradient(90deg,#ffa900 0px,#ffc900 60px,#ff0 128px,#b6ff00 180px,#83ff31 204px,#3cff5a 230px,#04ff5a 236px,#00ff5c 238px,#00ff9d 288px,#00ffc3 324px,#00ffdb 356px,#00ffe3 384px,#0fd 412px,#00ffc4 448px,#0f9 492px,#00ff5b 544px,#09ff5a 546px,#3dff59 552px,#84ff30 578px,#b4ff00 600px,#ff0 652px,#ffad00 740px,#ff6f00 824px,#f30 940px,#ff0a00 1048px,#f00 1098px,#f90000 1372px,#e30000 1641px)"></i><i style="background:linear-gradient(90deg,#ffa700 0px,#ffc700 60px,#ff0 132px,#b6ff00 184px,#83ff31 208px,#3dff5a 234px,#06ff5a 240px,#00ff5c 242px,#00ff9c 292px,#00ffc3 328px,#00ffda 360px,#00ffe3 388px,#00ffdc 416px,#00ffc4 452px,#0f9 496px,#00ff5b 548px,#0aff5a 550px,#3dff59 556px,#84ff30 582px,#b4ff00 604px,#ff0 656px,#ffad00 744px,#ff6f00 828px,#ff3200 944px,#ff0900 1052px,#f00 1102px,#f90000 1368px,#e30000 1641px)"></i><i style="background:linear-gradient(90deg,#ffa500 0px,#ffc700 64px,#ff0 136px,#b6ff00 188px,#83ff31 212px,#3dff59 238px,#07ff5a 244px,#00ff5c 246px,#00ff9c 296px,#00ffc2 332px,#00ffda 364px,#00ffe2 392px,#00ffdc 420px,#00ffc4 456px,#00ff98 500px,#00ff5b 552px,#0bff5a 554px,#3eff59 560px,#84ff30 586px,#b4ff00 608px,#ff0 660px,#ffad00 748px,#ff6f00 832px,#ff3200 948px,#ff0900 1056px,#f00 1104px,#f90000 1368px,#e20000 1641px)"></i><i style="background:linear-gradient(90deg,#ffa300 0px,#ffc400 64px,#ff0 140px,#b3ff00 194px,#84ff30 216px,#3dff59 242px,#09ff5a 248px,#00ff5b 250px,#00ff9b 300px,#00ffc2 336px,#00ffdb 372px,#00ffe1 400px,#00ffd9 428px,#00ffc0 464px,#00ff98 504px,#00ff5b 556px,#3eff59 564px,#84ff30 590px,#b4ff00 612px,#ff0 664px,#ffb000 748px,#ff7100 832px,#f30 948px,#ff0a00 1056px,#f00 1106px,#f90000 1364px,#e20000 1641px)"></i><i style="background:linear-gradient(90deg,#ffa100 0px,#ffc400 68px,#ff0 144px,#b3ff00 198px,#84ff30 220px,#3eff59 246px,#0aff5a 252px,#00ff5b 254px,#00ff9b 304px,#00ffc1 340px,#00ffd8 372px,#00ffe1 404px,#00ffd9 432px,#00ffbf 468px,#00ff98 508px,#00ff5b 560px,#3eff59 568px,#84ff30 594px,#b5ff00 616px,#ff0 668px,#ffac00 756px,#ff6e00 840px,#ff3100 956px,#ff0900 1060px,#f00 1108px,#f90000 1364px,#e10000 1641px)"></i><i style="background:linear-gradient(90deg,#ff9f00 0px,#ffc100 68px,#ff0 148px,#b3ff00 202px,#84ff30 224px,#3eff59 250px,#0bff5a 256px,#00ff5b 258px,#00ff9b 308px,#00ffc0 344px,#00ffd7 376px,#00ffe0 408px,#00ffd8 436px,#00ffbf 472px,#00ff97 512px,#00ff5a 564px,#34ff5a 570px,#3fff58 572px,#85ff2f 598px,#b5ff00 620px,#ff0 672px,#ffb000 756px,#ff7000 840px,#ff3200 956px,#ff0a00 1060px,#f00 1112px,#f90000 1364px,#e10000 1641px)"></i><i style="background:linear-gradient(90deg,#ff9d00 0px,#ffc100 72px,#ff0 152px,#b3ff00 206px,#84ff30 228px,#3eff59 254px,#31ff5a 256px,#0cff5a 260px,#00ff5b 262px,#00ff9a 312px,#00ffc0 348px,#00ffd7 380px,#00ffe0 412px,#00ffd8 440px,#00ffbe 476px,#00ff97 516px,#00ff5a 568px,#35ff5a 574px,#3fff58 576px,#85ff2f 602px,#b5ff00 624px,#ff0 676px,#ffb000 760px,#ff7000 844px,#ff3200 960px,#ff0900 1064px,#f00 1114px,#f90000 1364px,#e10000 1641px)"></i><i style="background:linear-gradient(90deg,#ff9b00 0px,#ffbf00 72px,#ff0 156px,#b3ff00 210px,#84ff30 232px,#3fff59 258px,#00ff5b 266px,#00ff9a 316px,#00ffbf 352px,#00ffd8 388px,#00ffdf 416px,#00ffd7 444px,#00ffc1 476px,#00ff96 520px,#00ff5c 570px,#00ff5a 572px,#37ff5a 578px,#40ff58 580px,#85ff2f 606px,#b5ff00 628px,#ff0 680px,#ffb000 764px,#ff7000 848px,#ff3100 964px,#ff0900 1068px,#f00 1116px,#f90000 1360px,#e00000 1641px)"></i><i style="background:linear-gradient(90deg,#f90 0px,#ffbf00 76px,#ff0 160px,#b4ff00 214px,#84ff30 236px,#3fff58 262px,#33ff5a 264px,#0dff5a 268px,#00ff5b 270px,#00ff9a 320px,#00ffbf 356px,#00ffd8 392px,#00ffdf 420px,#00ffd7 448px,#00ffc1 480px,#00ff96 524px,#00ff5c 574px,#00ff5a 576px,#39ff5a 582px,#81ff32 608px,#b5ff00 632px,#ff0 684px,#ffac00 772px,#ff7000 852px,#ff3100 968px,#ff0a00 1068px,#f00 1120px,#fa0000 1360px,#e00000 1641px)"></i><i style="background:linear-gradient(90deg,#ff9700 0px,#ffbd00 76px,#ff0 164px,#b4ff00 218px,#84ff30 240px,#3fff58 266px,#33ff5a 268px,#00ff5b 274px,#00ff9a 324px,#00ffbe 360px,#00ffd7 396px,#00ffde 424px,#00ffd6 452px,#00ffc0 484px,#00ff95 528px,#00ff5c 578px,#06ff5a 580px,#3bff5a 586px,#82ff32 612px,#b6ff00 636px,#ff0 688px,#ffac00 776px,#ff6f00 856px,#ff3000 972px,#ff0900 1072px,#f00 1122px,#fa0000 1360px,#e00000 1641px)"></i><i style="background:linear-gradient(90deg,#ff9500 0px,#ffbd00 80px,#ff0 168px,#b3ff00 222px,#84ff30 244px,#3fff58 270px,#34ff5a 272px,#00ff5b 278px,#0f9 328px,#00ffbe 364px,#00ffd7 400px,#00ffde 428px,#00ffd6 456px,#00ffbf 488px,#00ff95 532px,#00ff5b 582px,#08ff5a 584px,#3dff5a 590px,#82ff32 616px,#b6ff00 640px,#ff0 692px,#ffac00 780px,#ff6f00 860px,#ff3200 972px,#ff0a00 1072px,#f00 1124px,#f90000 1364px,#df0000 1641px)"></i><i style="background:linear-gradient(90deg,#ff9300 0px,#ffa100 36px,#ffbd00 84px,#ff0 172px,#b3ff00 226px,#84ff30 248px,#3fff58 274px,#34ff5a 276px,#00ff5b 282px,#0f9 332px,#00ffbe 368px,#00ffd6 404px,#0fd 432px,#00ffd5 460px,#00ffbf 492px,#00ff94 536px,#00ff5b 586px,#0bff5a 588px,#3dff59 594px,#83ff31 620px,#b3ff00 642px,#ff0 696px,#ffac00 784px,#ff6f00 864px,#ff2f00 980px,#ff0a00 1076px,#f00 1126px,#fa0000 1364px,#df0000 1641px)"></i><i style="background:linear-gradient(90deg,#ff9100 0px,#ffba00 84px,#ff0 176px,#b3ff00 230px,#84ff30 252px,#3fff58 278px,#34ff5a 280px,#00ff5b 286px,#0f9 336px,#00ffbd 372px,#00ffd6 408px,#0fd 436px,#00ffd4 464px,#00ffbe 496px,#00ff94 540px,#00ff5b 590px,#3eff59 598px,#83ff31 624px,#b3ff00 646px,#ff0 700px,#ffac00 788px,#ff6f00 868px,#ff2f00 984px,#ff0900 1080px,#f00 1130px,#fa0000 1364px,#df0000 1641px)"></i><i style="background:linear-gradient(90deg,#ff8f00 0px,#ff9d00 36px,#ffba00 88px,#ff0 180px,#b3ff00 234px,#84ff30 256px,#3fff58 282px,#33ff5a 284px,#00ff5b 290px,#0f9 340px,#00ffbd 376px,#00ffd5 412px,#00ffdc 440px,#00ffd4 468px,#00ffbd 500px,#00ff93 544px,#00ff5a 594px,#34ff5a 600px,#3fff58 602px,#84ff30 628px,#b4ff00 650px,#ff0 704px,#ffab00 792px,#ff6e00 872px,#ff3000 984px,#ff0a00 1080px,#f00 1132px,#fa0000 1364px,#de0000 1641px)"></i><i style="background:linear-gradient(90deg,#ff8d00 0px,#ff9b00 36px,#fb0 92px,#ff0 184px,#b3ff00 238px,#84ff30 260px,#3fff58 286px,#33ff5a 288px,#00ff5b 294px,#0f9 344px,#00ffbd 380px,#00ffd5 416px,#00ffdc 444px,#00ffd3 472px,#00ffbd 504px,#00ff93 548px,#00ff5c 596px,#00ff5a 598px,#37ff5a 604px,#40ff58 606px,#85ff2f 632px,#b4ff00 654px,#ff0 708px,#ffab00 796px,#ff6e00 876px,#ff3000 988px,#ff0a00 1084px,#f00 1134px,#fa0000 1364px,#de0000 1641px)"></i><i style="background:linear-gradient(90deg,#ff8b00 0px,#f90 36px,#ffb800 92px,#ff0 188px,#b3ff00 242px,#84ff30 264px,#3fff58 290px,#33ff5a 292px,#00ff5b 298px,#00ff98 348px,#00ffbc 384px,#00ffd5 420px,#00ffdb 448px,#00ffd2 476px,#00ffbc 508px,#00ff92 552px,#00ff5c 600px,#05ff5a 602px,#3aff5a 608px,#81ff33 634px,#b5ff00 658px,#ff0 710px,#ffae00 796px,#ff7000 876px,#ff3100 988px,#ff0a00 1084px,#f00 1138px,#fa0000 1364px,#de0000 1641px)"></i><i style="background:linear-gradient(90deg,#ff8900 0px,#f90 40px,#ffb800 96px,#ff0 192px,#b6ff00 244px,#84ff30 268px,#3eff59 294px,#00ff5b 302px,#00ff94 348px,#00ffb9 384px,#00ffd2 420px,#00ffdb 448px,#00ffd4 476px,#0fb 512px,#00ff92 556px,#00ff5b 604px,#09ff5a 606px,#3cff5a 612px,#82ff32 638px,#b5ff00 662px,#ff0 714px,#ffab00 804px,#ff7000 880px,#ff3100 992px,#ff0a00 1088px,#f00 1140px,#fa0000 1364px,#de0000 1641px)"></i><i style="background:linear-gradient(90deg,#ff8700 0px,#ffb600 96px,#ff0 196px,#b6ff00 248px,#83ff31 272px,#3eff59 298px,#00ff5b 306px,#00ff94 352px,#00ffb8 388px,#00ffd2 424px,#00ffda 452px,#00ffd3 480px,#00ffba 516px,#00ff91 560px,#00ff5b 608px,#3dff59 616px,#83ff31 642px,#b6ff00 666px,#ff0 718px,#fa0 808px,#ff6f00 884px,#ff3000 996px,#ff0b00 1088px,#f00 1142px,#f90000 1364px,#de0000 1641px)"></i><i style="background:linear-gradient(90deg,#ff8500 0px,#ff9500 40px,#ffb600 100px,#ff0 200px,#b5ff00 252px,#83ff31 276px,#3eff59 302px,#0bff5a 308px,#00ff5b 310px,#00ff94 356px,#00ffb8 392px,#00ffd2 428px,#00ffda 456px,#00ffd2 484px,#00ffba 520px,#00ff90 564px,#00ff5a 612px,#33ff5a 618px,#3fff59 620px,#84ff30 646px,#b3ff00 668px,#ff0 722px,#fa0 812px,#ff6f00 888px,#ff2f00 1000px,#ff0a00 1092px,#f00 1146px,#f90000 1364px,#d00 1641px)"></i><i style="background:linear-gradient(90deg,#ff8300 0px,#ffb400 100px,#ff0 204px,#b5ff00 256px,#83ff31 280px,#3dff59 306px,#0aff5a 312px,#00ff5b 314px,#00ff94 360px,#00ffb8 396px,#00ffd1 432px,#00ffd9 460px,#00ffd1 488px,#00ffb9 524px,#00ff90 568px,#00ff5c 614px,#00ff5a 616px,#37ff5a 622px,#40ff58 624px,#85ff2f 650px,#b4ff00 672px,#ff0 726px,#ffa600 820px,#ff6e00 892px,#ff2f00 1004px,#ff0a00 1096px,#f00 1148px,#f90000 1364px,#d00 1641px)"></i><i style="background:linear-gradient(90deg,#ff8100 0px,#ff9300 44px,#ffb400 104px,#ffd900 160px,#ff0 206px,#b5ff00 260px,#82ff32 284px,#3dff59 310px,#09ff5a 316px,#00ff5b 318px,#00ff94 364px,#00ffb8 400px,#00ffd1 436px,#00ffd8 464px,#00ffd0 492px,#00ffb8 528px,#00ff8f 572px,#00ff5b 618px,#07ff5a 620px,#3bff5a 626px,#81ff33 652px,#b5ff00 676px,#ff0 728px,#ffa600 824px,#ff6e00 896px,#ff3000 1004px,#ff0b00 1096px,#f00 1152px,#f90000 1360px,#d00 1641px)"></i><i style="background:linear-gradient(90deg,#ff8000 0px,#ff9300 48px,#ffb400 108px,#ffd900 164px,#ff0 210px,#b5ff00 264px,#82ff32 288px,#3dff5a 314px,#07ff5a 320px,#00ff5c 322px,#00ff94 368px,#00ffb8 404px,#00ffd1 440px,#00ffd8 468px,#00ffd0 496px,#00ffb7 532px,#00ff8e 576px,#00ff5b 622px,#0bff5a 624px,#3dff59 630px,#82ff32 656px,#b6ff00 680px,#ff0 732px,#ffa600 828px,#ff6d00 900px,#ff2e00 1012px,#ff0a00 1100px,#f00 1154px,#f90000 1360px,#d00 1641px)"></i><i style="background:linear-gradient(90deg,#ff7e00 0px,#ff9300 52px,#ffb500 112px,#ffda00 168px,#ff0 214px,#b4ff00 268px,#81ff33 292px,#3cff5a 318px,#05ff5a 324px,#00ff5c 326px,#00ff94 372px,#0fb 412px,#00ffd0 444px,#00ffd7 472px,#00ffcf 500px,#00ffb7 536px,#00ff8e 580px,#00ff5a 626px,#33ff5a 632px,#3eff59 634px,#83ff31 660px,#b3ff00 682px,#ff0 736px,#ffa500 832px,#ff6d00 904px,#ff2f00 1012px,#ff0b00 1100px,#f00 1158px,#f80000 1364px,#d00 1641px)"></i><i style="background:linear-gradient(90deg,#ff7c00 0px,#ffb200 112px,#ffda00 172px,#ff0 218px,#b4ff00 272px,#85ff2f 294px,#3aff5a 322px,#00ff5a 328px,#00ff5c 330px,#00ff94 376px,#0fb 416px,#00ffd0 448px,#00ffd6 476px,#00ffce 504px,#00ffb6 540px,#00ff91 580px,#00ff5c 628px,#00ff5a 630px,#37ff5a 636px,#40ff58 638px,#84ff30 664px,#b4ff00 686px,#ff0 740px,#ffa100 840px,#ff6c00 908px,#ff2e00 1016px,#ff0b00 1104px,#f00 1160px,#f90000 1360px,#d00 1641px)"></i><i style="background:linear-gradient(90deg,#ff7a00 0px,#ffb200 116px,#ffd700 172px,#ff0 222px,#b3ff00 276px,#84ff30 298px,#40ff58 324px,#38ff5a 326px,#00ff5a 332px,#00ff5c 334px,#00ff94 380px,#00ffb8 416px,#00ffce 448px,#00ffd6 476px,#00ffcf 504px,#00ffb8 540px,#00ff90 584px,#00ff5b 632px,#08ff5a 634px,#3cff5a 640px,#81ff32 666px,#b5ff00 690px,#ff0 744px,#ffa100 844px,#ff6c00 912px,#ff3000 1016px,#ff0b00 1104px,#f00 1164px,#f80000 1364px,#d00 1641px)"></i><i style="background:linear-gradient(90deg,#ff7800 0px,#ffb000 116px,#ffd800 176px,#ff0 226px,#b6ff00 278px,#84ff30 302px,#3fff58 328px,#35ff5a 330px,#00ff5a 336px,#00ff94 384px,#00ffb8 420px,#00ffcd 452px,#00ffd5 480px,#00ffce 508px,#00ffb7 544px,#00ff90 588px,#00ff5b 636px,#3eff59 644px,#83ff31 670px,#b6ff00 694px,#ff0 746px,#ffa000 848px,#ff6b00 916px,#ff2f00 1020px,#ff0b00 1108px,#f00 1168px,#f80000 1368px,#d00 1641px)"></i><i style="background:linear-gradient(90deg,#ff7600 0px,#ffb000 120px,#ffd800 180px,#ff0 228px,#b5ff00 282px,#83ff31 306px,#3fff59 332px,#33ff5a 334px,#00ff5b 340px,#00ff94 388px,#00ffb7 424px,#00ffcd 456px,#00ffd5 484px,#00ffcd 512px,#00ffb7 548px,#00ff8f 592px,#00ff5a 640px,#35ff5a 646px,#3fff58 648px,#84ff30 674px,#b4ff00 696px,#ff0 750px,#ffa000 852px,#ff6e00 916px,#ff3000 1020px,#ff0c00 1108px,#f00 1172px,#f80000 1368px,#d00 1641px)"></i><i style="background:linear-gradient(90deg,#ff7400 0px,#ffb100 124px,#ffd800 184px,#ff0 232px,#b5ff00 286px,#82ff32 310px,#3eff59 336px,#0cff5a 342px,#00ff5b 344px,#00ff94 392px,#00ffb7 428px,#00ffcd 460px,#00ffd4 488px,#00ffcd 516px,#00ffb6 552px,#00ff8e 596px,#00ff5b 642px,#06ff5a 644px,#3bff5a 650px,#85ff2f 678px,#b5ff00 700px,#ff0 754px,#ff9c00 860px,#ff6a00 924px,#ff2e00 1028px,#ff0c00 1112px,#f00 1176px,#f80000 1368px,#d00 1641px)"></i><i style="background:linear-gradient(90deg,#ff7200 0px,#ffaf00 124px,#ffd600 184px,#ff0 236px,#b4ff00 290px,#81ff32 314px,#3dff5a 340px,#09ff5a 346px,#00ff5b 348px,#00ff95 396px,#00ffb7 432px,#0fc 464px,#00ffd3 492px,#0fc 520px,#00ffb5 556px,#00ff8d 600px,#00ff5b 646px,#3dff59 654px,#82ff32 680px,#b6ff00 704px,#ff0 756px,#ff9b00 864px,#ff6c00 924px,#ff2f00 1028px,#ff0c00 1112px,#f00 1178px,#f70000 1372px,#d00 1641px)"></i><i style="background:linear-gradient(90deg,#ff7000 0px,#ffaf00 128px,#ffd600 188px,#ff0 240px,#b3ff00 294px,#85ff2f 316px,#3bff5a 344px,#05ff5a 350px,#00ff5c 352px,#00ff95 400px,#00ffb7 436px,#0fc 468px,#00ffd3 496px,#00ffcb 524px,#00ffb4 560px,#00ff8d 604px,#00ff5a 650px,#35ff5a 656px,#3fff58 658px,#84ff30 684px,#b3ff00 706px,#ff0 760px,#ff9b00 868px,#ff6c00 928px,#ff2e00 1032px,#ff0c00 1116px,#f00 1182px,#f70000 1372px,#d00 1641px)"></i><i style="background:linear-gradient(90deg,#ff6e00 0px,#ff8a00 64px,#ffaf00 132px,#ffd600 192px,#ff0 242px,#b6ff00 296px,#84ff30 320px,#40ff58 346px,#38ff5a 348px,#00ff5a 354px,#00ff5c 356px,#00ff95 404px,#00ffb7 440px,#0fc 472px,#00ffd2 500px,#00ffca 528px,#00ffb4 564px,#00ff90 604px,#00ff5b 652px,#07ff5a 654px,#3bff5a 660px,#85ff2f 688px,#b5ff00 710px,#ff0 764px,#ff9a00 872px,#ff6b00 932px,#ff3000 1032px,#ff0d00 1116px,#f00 1186px,#f70000 1376px,#d00 1641px)"></i><i style="background:linear-gradient(90deg,#ff6d00 0px,#f80 64px,#ffad00 132px,#ffd700 196px,#ff0 246px,#b5ff00 300px,#83ff31 324px,#3fff58 350px,#34ff5a 352px,#00ff5a 358px,#00ff91 404px,#00ffb4 440px,#00ffca 472px,#00ffd1 500px,#00ffcb 528px,#00ffb6 564px,#00ff8f 608px,#00ff5b 656px,#3eff59 664px,#82ff32 690px,#b6ff00 714px,#ff0 766px,#ff9600 880px,#ff6a00 936px,#ff2f00 1036px,#ff0c00 1120px,#f00 1188px,#f70000 1376px,#d00 1641px)"></i><i style="background:linear-gradient(90deg,#ff6b00 0px,#ff8600 64px,#ffad00 136px,#ffd700 200px,#ff0 250px,#b4ff00 304px,#82ff32 328px,#3eff59 354px,#00ff5b 362px,#00ff92 408px,#00ffb4 444px,#00ffc9 476px,#00ffd1 504px,#00ffcb 532px,#00ffb5 568px,#00ff8e 612px,#00ff5c 658px,#00ff5a 660px,#37ff5a 666px,#40ff58 668px,#84ff30 694px,#b4ff00 716px,#ff0 770px,#ff9500 884px,#ff6a00 940px,#ff3000 1036px,#ff0d00 1120px,#f00 1192px,#f70000 1380px,#d00 1641px)"></i><i style="background:linear-gradient(90deg,#ff6900 0px,#ff8000 56px,#ffab00 136px,#ffd500 200px,#ff0 254px,#b3ff00 308px,#81ff33 332px,#3dff5a 358px,#08ff5a 364px,#00ff5b 366px,#00ff92 412px,#00ffb4 448px,#00ffc9 480px,#00ffd0 508px,#00ffca 536px,#00ffb4 572px,#00ff8d 616px,#00ff5b 662px,#09ff5a 664px,#3cff5a 670px,#81ff32 696px,#b5ff00 720px,#ff0 774px,#ff9500 888px,#ff6900 944px,#ff2f00 1040px,#ff0d00 1124px,#f00 1196px,#f70000 1380px,#d00 1641px)"></i><i style="background:linear-gradient(90deg,#ff6700 0px,#ff7c00 52px,#ffab00 140px,#ffd500 204px,#ff0 256px,#b6ff00 310px,#84ff30 334px,#3aff5a 362px,#04ff5a 368px,#00ff5c 370px,#00ff92 416px,#00ffb4 452px,#00ffc9 484px,#00ffd0 512px,#00ffca 540px,#00ffb4 576px,#00ff8c 620px,#00ff5a 666px,#33ff5a 672px,#3fff59 674px,#83ff31 700px,#b3ff00 722px,#ff0 776px,#ff9400 892px,#ff6800 948px,#ff2f00 1044px,#ff0e00 1124px,#f00 1198px,#f70000 1384px,#d00 1641px)"></i><i style="background:linear-gradient(90deg,#ff6500 0px,#ff7800 48px,#ffa900 140px,#ffd500 208px,#ff0 260px,#b5ff00 314px,#83ff31 338px,#3fff58 364px,#35ff5a 366px,#00ff5a 372px,#00ff8e 416px,#00ffb1 452px,#00ffc9 488px,#00ffd0 516px,#00ffc9 544px,#00ffb3 580px,#00ff90 620px,#00ff5b 668px,#07ff5a 670px,#3aff5a 676px,#85ff2f 704px,#b4ff00 726px,#ff0 780px,#ff9300 896px,#ff6800 952px,#ff2e00 1048px,#ff0d00 1128px,#f00 1202px,#f60000 1388px,#d00 1641px)"></i><i style="background:linear-gradient(90deg,#ff6300 0px,#ff7600 48px,#ffa900 144px,#ffd300 208px,#ff0 264px,#b4ff00 318px,#82ff32 342px,#3eff59 368px,#00ff5b 376px,#00ff8f 420px,#00ffb2 456px,#00ffc9 492px,#00ffcf 520px,#00ffc8 548px,#00ffb2 584px,#00ff8f 624px,#00ff5a 672px,#3eff59 680px,#82ff32 706px,#b6ff00 730px,#ff0 782px,#ff8f00 904px,#ff6700 956px,#ff2f00 1048px,#ff0e00 1128px,#f00 1204px,#f70000 1388px,#d00 1641px)"></i><i style="background:linear-gradient(90deg,#ff6100 0px,#ff7400 48px,#ffa700 144px,#ffd300 212px,#ff0 266px,#b6ff00 320px,#85ff2f 344px,#3cff5a 372px,#07ff5a 378px,#00ff5b 380px,#00ff8f 424px,#00ffb2 460px,#00ffc9 496px,#00ffcf 524px,#00ffc8 552px,#00ffb1 588px,#00ff8e 628px,#00ff5c 674px,#04ff5a 676px,#38ff5a 682px,#40ff58 684px,#84ff30 710px,#b4ff00 732px,#ff0 786px,#ff9200 904px,#ff6900 956px,#ff3000 1048px,#ff0f00 1128px,#f00 1208px,#f60000 1392px,#d00 1641px)"></i><i style="background:linear-gradient(90deg,#ff5f00 0px,#ff7400 52px,#ffa800 148px,#ffd400 216px,#ff0 270px,#b5ff00 324px,#83ff31 348px,#40ff58 374px,#38ff5a 376px,#00ff5a 382px,#00ff5c 384px,#00ff90 428px,#00ffb2 464px,#00ffc8 500px,#00ffce 528px,#00ffc7 556px,#00ffb0 592px,#00ff8d 632px,#00ff5b 678px,#3dff59 686px,#82ff32 712px,#b5ff00 736px,#ff0 790px,#ff9100 908px,#ff6800 960px,#ff3000 1052px,#ff0f00 1132px,#f00 1210px,#f70000 1392px,#d00 1641px)"></i><i style="background:linear-gradient(90deg,#ff5e00 0px,#ff7200 52px,#ffa600 148px,#ffd200 216px,#ff0 274px,#b4ff00 328px,#82ff32 352px,#3eff59 378px,#00ff5a 386px,#00ff90 432px,#00ffb2 468px,#00ffc7 500px,#00ffce 528px,#00ffc8 556px,#00ffb2 592px,#00ff90 632px,#00ff5c 680px,#00ff5a 682px,#37ff5a 688px,#40ff58 690px,#84ff30 716px,#b4ff00 738px,#ff0 792px,#ff9000 912px,#ff6700 964px,#ff3100 1052px,#ff1000 1132px,#f00 1214px,#f60000 1396px,#d00 1641px)"></i><i style="background:linear-gradient(90deg,#ff5c00 0px,#ff7000 52px,#ffa600 152px,#ffd200 220px,#ff0 276px,#b6ff00 330px,#85ff2f 354px,#3dff5a 382px,#09ff5a 388px,#00ff5b 390px,#00ff91 436px,#00ffb2 472px,#00ffc7 504px,#00ffce 532px,#00ffc8 560px,#00ffb2 596px,#00ff8f 636px,#00ff5b 684px,#0bff5a 686px,#3dff59 692px,#82ff32 718px,#b5ff00 742px,#ff0 796px,#ff8f00 916px,#f60 968px,#ff3000 1056px,#ff0f00 1136px,#f00 1216px,#f70000 1396px,#d00 1641px)"></i><i style="background:linear-gradient(90deg,#ff5a00 0px,#ff6e00 52px,#ffa400 152px,#ffd000 220px,#ff0 280px,#b5ff00 334px,#83ff31 358px,#40ff58 384px,#38ff5a 386px,#00ff5a 392px,#00ff5c 394px,#00ff91 440px,#00ffb3 476px,#00ffc7 508px,#00ffce 536px,#00ffc7 564px,#00ffb1 600px,#00ff8d 640px,#00ff5c 686px,#00ff5a 688px,#36ff5a 694px,#3fff58 696px,#84ff30 722px,#b4ff00 744px,#ff0 798px,#ff8e00 920px,#ff6500 972px,#ff3100 1056px,#ff1000 1136px,#f00 1218px,#f70000 1396px,#d00 1641px)"></i><i style="background:linear-gradient(90deg,#ff5800 0px,#ff6c00 52px,#ffa200 152px,#ffd000 224px,#ff0 282px,#b4ff00 338px,#82ff32 362px,#3eff59 388px,#00ff5a 396px,#00ff8e 440px,#00ffb0 476px,#00ffc7 512px,#00ffcd 540px,#00ffc6 568px,#00ffb0 604px,#00ff8c 644px,#00ff5b 690px,#0bff5a 692px,#3dff59 698px,#82ff32 724px,#b5ff00 748px,#ff0 802px,#ff8d00 924px,#ff6400 976px,#ff3100 1060px,#ff1000 1140px,#f00 1222px,#f70000 1400px,#d00 1641px)"></i><i style="background:linear-gradient(90deg,#ff5600 0px,#ff6c00 56px,#ffa200 156px,#ffd100 228px,#ff0 286px,#b6ff00 340px,#84ff30 364px,#3cff5a 392px,#08ff5a 398px,#00ff5b 400px,#00ff8e 444px,#00ffb0 480px,#00ffc7 516px,#00ffcd 544px,#00ffc6 572px,#00ffaf 608px,#00ff8b 648px,#00ff5c 692px,#00ff5a 694px,#37ff5a 700px,#40ff58 702px,#84ff30 728px,#b4ff00 750px,#ff0 804px,#ff8c00 928px,#ff6400 980px,#ff3000 1064px,#ff1000 1140px,#f00 1224px,#f70000 1400px,#d00 1641px)"></i><i style="background:linear-gradient(90deg,#ff5400 0px,#ff6900 56px,#ffa000 156px,#ffcf00 228px,#ff0 288px,#b4ff00 344px,#83ff31 368px,#3fff58 394px,#36ff5a 396px,#00ff5a 402px,#00ff5c 404px,#00ff8f 448px,#00ffb1 484px,#00ffc5 516px,#00ffcd 544px,#00ffc7 572px,#00ffb1 608px,#00ff8a 652px,#00ff5b 696px,#3dff59 704px,#82ff32 730px,#b5ff00 754px,#ff0 808px,#ff8b00 932px,#ff6300 984px,#ff2f00 1068px,#ff1000 1144px,#f00 1226px,#f70000 1400px,#d00 1641px)"></i><i style="background:linear-gradient(90deg,#ff5200 0px,#ff6700 56px,#ff9e00 156px,#ffcf00 232px,#ff0 292px,#b3ff00 348px,#81ff33 372px,#3dff59 398px,#00ff5b 406px,#00ff90 452px,#00ffb1 488px,#00ffc5 520px,#0fc 548px,#00ffc6 576px,#00ffb0 612px,#00ff8d 652px,#00ff5c 698px,#05ff5a 700px,#38ff5a 706px,#40ff58 708px,#84ff30 734px,#b4ff00 756px,#ff0 810px,#ff8a00 936px,#ff6400 984px,#ff3200 1064px,#f10 1144px,#f00 1228px,#f70000 1404px,#d00 1641px)"></i><i style="background:linear-gradient(90deg,#ff5100 0px,#ff6500 56px,#ff9c00 156px,#ffcd00 232px,#ff0 296px,#b5ff00 350px,#83ff31 374px,#3aff5a 402px,#05ff5a 408px,#00ff5c 410px,#00ff91 456px,#00ffb1 492px,#00ffc5 524px,#0fc 552px,#00ffc5 580px,#00ffaf 616px,#00ff8c 656px,#00ff5a 702px,#3eff59 710px,#82ff32 736px,#b6ff00 760px,#ff0 814px,#ff8900 940px,#ff6300 988px,#ff3100 1068px,#ff1200 1144px,#f00 1230px,#f80000 1404px,#d00 1641px)"></i><i style="background:linear-gradient(90deg,#ff4f00 0px,#ff6300 56px,#ff9d00 160px,#ffce00 236px,#ff0 298px,#b3ff00 354px,#81ff32 378px,#3eff59 404px,#32ff5a 406px,#00ff5a 412px,#00ff8d 456px,#00ffaf 492px,#00ffc5 528px,#0fc 556px,#00ffc4 584px,#00ffae 620px,#00ff8a 660px,#00ff5b 704px,#07ff5a 706px,#3aff5a 712px,#85ff2f 740px,#b4ff00 762px,#ff0 816px,#f80 944px,#ff6200 992px,#ff3000 1072px,#f10 1148px,#f00 1232px,#f80000 1404px,#d00 1641px)"></i><i style="background:linear-gradient(90deg,#ff4d00 0px,#ff6300 60px,#ff9b00 160px,#ffcb00 236px,#ff0 302px,#b5ff00 356px,#84ff30 380px,#3cff5a 408px,#08ff5a 414px,#00ff5b 416px,#00ff8e 460px,#00ffaf 496px,#00ffc6 532px,#00ffcb 560px,#00ffc4 588px,#00ffac 624px,#00ff89 664px,#00ff5a 708px,#33ff5a 714px,#3eff59 716px,#83ff31 742px,#b3ff00 764px,#ff0 818px,#ff8700 948px,#ff6100 996px,#ff3200 1072px,#ff1200 1148px,#f00 1234px,#f80000 1404px,#d00 1641px)"></i><i style="background:linear-gradient(90deg,#ff4b00 0px,#ff6100 60px,#f90 160px,#fc0 240px,#ff0 304px,#b4ff00 360px,#82ff32 384px,#3fff58 410px,#34ff5a 412px,#00ff5a 418px,#00ff8f 464px,#00ffb0 500px,#00ffc4 532px,#00ffcb 560px,#00ffc5 588px,#00ffae 624px,#00ff8c 664px,#00ff5b 710px,#0aff5a 712px,#3cff5a 718px,#81ff33 744px,#b5ff00 768px,#ff0 822px,#ff8600 952px,#ff6000 1000px,#ff3100 1076px,#f10 1152px,#f00 1236px,#f90000 1404px,#d00 1641px)"></i><i style="background:linear-gradient(90deg,#ff4900 0px,#ff5f00 60px,#ff9700 160px,#ffca00 240px,#ff0 306px,#b5ff00 362px,#84ff30 386px,#3dff5a 414px,#09ff5a 420px,#00ff5b 422px,#00ff90 468px,#00ffb0 504px,#00ffc4 536px,#00ffcb 564px,#00ffc4 592px,#00ffad 628px,#00ff8a 668px,#00ff5c 712px,#04ff5a 714px,#37ff5a 720px,#40ff58 722px,#84ff30 748px,#b4ff00 770px,#ff0 824px,#f80 952px,#ff5f00 1004px,#ff3200 1076px,#ff1200 1152px,#f00 1238px,#f90000 1404px,#d00 1641px)"></i><i style="background:linear-gradient(90deg,#ff4700 0px,#ff5c00 60px,#ff9500 160px,#ffcb00 244px,#ff0 310px,#b4ff00 366px,#82ff32 390px,#3fff58 416px,#35ff5a 418px,#00ff5a 424px,#00ff5c 426px,#00ff90 472px,#00ffb1 508px,#00ffc4 540px,#00ffca 568px,#00ffc3 596px,#00ffac 632px,#00ff89 672px,#00ff5a 716px,#3eff59 724px,#82ff32 750px,#b6ff00 774px,#ff0 828px,#ff8700 956px,#ff6100 1004px,#f30 1076px,#ff1300 1152px,#f00 1240px,#f90000 1404px,#d00 1641px)"></i><i style="background:linear-gradient(90deg,#ff4500 0px,#ff5a00 60px,#ff9300 160px,#ffc900 244px,#ff0 312px,#b5ff00 368px,#84ff30 392px,#3dff5a 420px,#0aff5a 426px,#00ff5b 428px,#00ff8d 472px,#00ffae 508px,#00ffc3 540px,#00ffca 568px,#00ffc4 596px,#00ffae 632px,#00ff8b 672px,#00ff5b 718px,#08ff5a 720px,#3bff5a 726px,#85ff2f 754px,#b5ff00 776px,#ff0 830px,#ff8600 960px,#ff6000 1008px,#ff3200 1080px,#ff1200 1156px,#f00 1242px,#f90000 1404px,#de0000 1641px)"></i><i style="background:linear-gradient(90deg,#f40 0px,#ff5a00 64px,#ff9100 160px,#ffc900 248px,#ff0 316px,#b3ff00 372px,#82ff32 396px,#3fff58 422px,#35ff5a 424px,#00ff5a 430px,#00ff5c 432px,#00ff8e 476px,#00ffaf 512px,#00ffc3 544px,#00ffca 572px,#00ffc3 600px,#00ffac 636px,#00ff8a 676px,#00ff5c 720px,#00ff5a 722px,#35ff5a 728px,#3fff58 730px,#84ff30 756px,#b3ff00 778px,#ff0 832px,#ff8500 964px,#ff5f00 1012px,#ff3100 1084px,#ff1300 1156px,#f00 1244px,#fa0000 1404px,#de0000 1641px)"></i><i style="background:linear-gradient(90deg,#ff4200 0px,#ff5100 48px,#ff7200 112px,#ffbc00 232px,#ff0 318px,#b5ff00 374px,#84ff30 398px,#3cff5a 426px,#0aff5a 432px,#00ff5b 434px,#00ff8f 480px,#00ffaf 516px,#00ffc3 548px,#00ffc9 576px,#00ffc1 604px,#00ffab 640px,#00ff89 680px,#00ff5a 724px,#3dff59 732px,#82ff32 758px,#b6ff00 782px,#ff0 836px,#ff8400 968px,#ff5e00 1016px,#ff3000 1088px,#ff1300 1160px,#f00 1246px,#f90000 1408px,#de0000 1641px)"></i><i style="background:linear-gradient(90deg,#ff4000 0px,#ff4f00 48px,#ff7000 112px,#ffbd00 236px,#ff0 322px,#b3ff00 378px,#81ff32 402px,#3fff58 428px,#34ff5a 430px,#00ff5a 436px,#00ff5c 438px,#00ff8c 480px,#00ffad 516px,#00ffc1 548px,#00ffc9 576px,#00ffc2 604px,#00ffad 640px,#00ff87 684px,#00ff5b 726px,#08ff5a 728px,#3bff5a 734px,#85ff2f 762px,#b5ff00 784px,#ff0 838px,#ff8600 968px,#ff5c00 1020px,#ff3100 1088px,#ff1300 1160px,#f00 1248px,#f90000 1408px,#de0000 1641px)"></i><i style="background:linear-gradient(90deg,#ff3f00 0px,#ff4e00 52px,#ff6e00 112px,#ffbe00 240px,#ff0 324px,#b4ff00 380px,#83ff31 404px,#3cff5a 432px,#08ff5a 438px,#00ff5b 440px,#00ff8d 484px,#00ffae 520px,#00ffc1 552px,#00ffc8 580px,#00ffc1 608px,#00ffab 644px,#00ff8a 684px,#00ff5c 728px,#00ff5a 730px,#36ff5a 736px,#3fff58 738px,#84ff30 764px,#b4ff00 786px,#ff0 840px,#ff8500 972px,#ff5e00 1020px,#ff3200 1088px,#ff1400 1160px,#f00 1250px,#f90000 1408px,#de0000 1641px)"></i><i style="background:linear-gradient(90deg,#ff3d00 0px,#ff4b00 48px,#ff6900 108px,#ffbc00 240px,#ff0 326px,#b5ff00 382px,#85ff2f 406px,#3eff59 434px,#32ff5a 436px,#00ff5a 442px,#00ff8e 488px,#00ffae 524px,#00ffc1 556px,#00ffc7 584px,#00ffc0 612px,#0fa 648px,#0f8 688px,#00ff5a 732px,#3eff59 740px,#82ff32 766px,#b6ff00 790px,#ff0 842px,#ff8300 976px,#ff5d00 1024px,#ff3100 1092px,#ff1300 1164px,#f00 1252px,#f90000 1408px,#de0000 1641px)"></i><i style="background:linear-gradient(90deg,#ff3c00 0px,#ff4900 48px,#ff6700 108px,#ffba00 240px,#ff0 330px,#b4ff00 386px,#82ff32 410px,#39ff5a 438px,#06ff5a 444px,#00ff5c 446px,#00ff8b 488px,#00ffac 524px,#00ffc0 556px,#00ffc7 584px,#00ffc1 612px,#00ffac 648px,#00ff87 692px,#00ff5b 734px,#0aff5a 736px,#3cff5a 742px,#86ff2e 770px,#b5ff00 792px,#ff0 846px,#ff8200 980px,#ff5b00 1028px,#ff3200 1092px,#ff1400 1164px,#f00 1254px,#f90000 1408px,#de0000 1641px)"></i><i style="background:linear-gradient(90deg,#ff3b00 0px,#ff4700 48px,#ff6500 108px,#fb0 244px,#ff0 332px,#b5ff00 388px,#84ff30 412px,#3dff59 440px,#00ff5b 448px,#00ff8c 492px,#00ffac 528px,#00ffc0 560px,#00ffc6 588px,#00ffc0 616px,#0fa 652px,#00ff89 692px,#00ff5b 736px,#06ff5a 738px,#39ff5a 744px,#40ff58 746px,#84ff30 772px,#b4ff00 794px,#ff0 848px,#ff8400 980px,#ff5a00 1032px,#ff3100 1096px,#ff1400 1168px,#f00 1256px,#f90000 1408px,#de0000 1641px)"></i><i style="background:linear-gradient(90deg,#ff3900 0px,#ff4500 48px,#ff6300 108px,#fb0 248px,#ff0 334px,#b6ff00 390px,#81ff32 416px,#3fff58 442px,#36ff5a 444px,#00ff5a 450px,#00ff5c 452px,#00ff8d 496px,#00ffad 532px,#00ffc0 564px,#00ffc6 592px,#00ffbe 620px,#00ffa9 656px,#00ff87 696px,#00ff5c 738px,#00ff5a 740px,#34ff5a 746px,#3fff58 748px,#83ff31 774px,#b3ff00 796px,#ff0 850px,#ff8300 984px,#ff5c00 1032px,#ff3200 1096px,#ff1400 1168px,#f00 1258px,#f80000 1408px,#de0000 1641px)"></i><i style="background:linear-gradient(90deg,#ff3800 0px,#ff4300 48px,#ff6100 108px,#ffba00 248px,#ff0 338px,#b4ff00 394px,#83ff31 418px,#3cff5a 446px,#09ff5a 452px,#00ff5b 454px,#00ff8a 496px,#00ffab 532px,#00ffbe 564px,#00ffc5 592px,#00ffbf 620px,#0fa 656px,#00ff86 700px,#00ff5a 742px,#3eff59 750px,#82ff32 776px,#b6ff00 800px,#ff0 852px,#ff8100 988px,#ff5a00 1036px,#ff3100 1100px,#ff1500 1168px,#f00 1260px,#f80000 1412px,#df0000 1641px)"></i><i style="background:linear-gradient(90deg,#ff3700 0px,#ff4300 52px,#ff5f00 108px,#ffba00 252px,#ff0 340px,#b5ff00 396px,#84ff30 420px,#3eff59 448px,#00ff5a 456px,#00ff8b 500px,#00ffab 536px,#00ffbe 568px,#00ffc4 596px,#00ffbe 624px,#00ffa9 660px,#0f8 700px,#00ff5b 744px,#0bff5a 746px,#3cff5a 752px,#81ff33 778px,#b5ff00 802px,#ff0 856px,#ff8300 988px,#ff5900 1040px,#ff3000 1104px,#ff1400 1172px,#f00 1262px,#f80000 1412px,#df0000 1641px)"></i><i style="background:linear-gradient(90deg,#ff3600 0px,#ff4100 52px,#ff5c00 108px,#ffb900 252px,#ff0 342px,#b6ff00 398px,#81ff32 424px,#40ff58 450px,#37ff5a 452px,#04ff5a 458px,#00ff5c 460px,#00ff8d 504px,#00ffac 540px,#00ffbe 572px,#00ffc4 600px,#00ffbd 628px,#00ffa8 664px,#00ff86 704px,#00ff5b 746px,#07ff5a 748px,#3aff5a 754px,#85ff2f 782px,#b5ff00 804px,#ff0 858px,#ff8200 992px,#ff5b00 1040px,#ff3100 1104px,#ff1500 1172px,#f00 1266px,#f70000 1416px,#df0000 1641px)"></i><i style="background:linear-gradient(90deg,#ff3500 0px,#ff3f00 52px,#ff5a00 108px,#ffb700 252px,#ff0 346px,#b4ff00 402px,#83ff31 426px,#3cff5a 454px,#0aff5a 460px,#00ff5b 462px,#00ff8a 504px,#0fa 540px,#00ffbc 572px,#00ffc3 600px,#00ffbd 628px,#00ffa9 664px,#0f8 704px,#00ff5c 748px,#04ff5a 750px,#37ff5a 756px,#3fff58 758px,#84ff30 784px,#b4ff00 806px,#ff0 860px,#ff8000 996px,#ff5900 1044px,#ff3200 1104px,#ff1400 1176px,#f00 1268px,#f70000 1416px,#df0000 1641px)"></i><i style="background:linear-gradient(90deg,#ff3400 0px,#ff3e00 52px,#ff5800 108px,#ffb800 256px,#ff0 348px,#b5ff00 404px,#84ff30 428px,#3eff59 456px,#00ff5a 464px,#00ff87 504px,#00ffa7 540px,#0fb 572px,#00ffc2 604px,#00ffbc 632px,#00ffa7 668px,#00ff87 708px,#00ff5a 752px,#34ff5a 758px,#3fff59 760px,#83ff31 786px,#b3ff00 808px,#ff0 862px,#ff8200 996px,#ff5800 1048px,#ff3100 1108px,#ff1500 1176px,#f00 1270px,#f70000 1416px,#df0000 1641px)"></i><i style="background:linear-gradient(90deg,#f30 0px,#ff3d00 56px,#ff5600 108px,#ffb900 260px,#ff0 350px,#b5ff00 406px,#81ff33 432px,#3fff58 458px,#36ff5a 460px,#00ff5a 466px,#00ff5c 468px,#0f8 508px,#00ffa8 544px,#0fb 576px,#00ffc2 608px,#0fb 636px,#00ffa6 672px,#00ff85 712px,#00ff5a 754px,#3eff59 762px,#82ff32 788px,#b6ff00 812px,#ff0 864px,#ff8100 1000px,#ff5600 1052px,#ff3000 1112px,#ff1400 1180px,#f00 1272px,#f70000 1420px,#df0000 1641px)"></i><i style="background:linear-gradient(90deg,#ff3200 0px,#ff3c00 56px,#ff5400 108px,#ffb700 260px,#ff0 352px,#b3ff00 410px,#82ff32 434px,#3bff5a 462px,#08ff5a 468px,#00ff5b 470px,#00ff89 512px,#00ffa9 548px,#0fb 580px,#00ffc1 608px,#00ffbc 636px,#00ffa7 672px,#00ff87 712px,#00ff5b 756px,#3dff5a 764px,#82ff32 790px,#b6ff00 814px,#ff0 868px,#ff7f00 1004px,#ff5800 1052px,#ff3100 1112px,#ff1500 1180px,#f00 1272px,#f70000 1420px,#df0000 1641px)"></i><i style="background:linear-gradient(90deg,#ff3100 0px,#ff3c00 60px,#ff5400 112px,#ffb800 264px,#ff0 354px,#b4ff00 412px,#83ff31 436px,#3dff59 464px,#00ff5b 472px,#00ff87 512px,#00ffa6 548px,#00ffb9 580px,#00ffc1 612px,#00ffba 640px,#00ffa6 676px,#00ff85 716px,#00ff5b 758px,#0aff5a 760px,#3cff5a 766px,#85ff2f 794px,#b5ff00 816px,#ff0 870px,#ff8100 1004px,#ff5600 1056px,#ff3000 1116px,#ff1400 1184px,#f00 1274px,#f70000 1424px,#df0000 1641px)"></i><i style="background:linear-gradient(90deg,#ff3000 0px,#ff3a00 60px,#ff5200 112px,#ffb600 264px,#ff0 358px,#b5ff00 414px,#84ff30 438px,#3eff59 466px,#33ff5a 468px,#00ff5a 474px,#00ff5c 476px,#0f8 516px,#00ffa7 552px,#00ffb9 584px,#00ffc0 616px,#00ffb9 644px,#00ffa4 680px,#00ff84 720px,#00ff5b 760px,#08ff5a 762px,#3aff5a 768px,#85ff2f 796px,#b5ff00 818px,#ff0 872px,#ff7f00 1008px,#f50 1060px,#ff3100 1116px,#ff1400 1184px,#f00 1276px,#f60000 1428px,#e00000 1641px)"></i><i style="background:linear-gradient(90deg,#ff2e00 0px,#ff3900 60px,#ff5000 112px,#ffb700 268px,#ff0 360px,#b5ff00 416px,#81ff33 442px,#3fff58 468px,#37ff5a 470px,#04ff5a 476px,#00ff5c 478px,#00ff85 516px,#00ffa5 552px,#00ffb8 584px,#00ffbf 616px,#00ffba 644px,#00ffa6 680px,#00ff86 720px,#00ff5b 762px,#06ff5a 764px,#38ff5a 770px,#40ff58 772px,#84ff30 798px,#b4ff00 820px,#ff0 874px,#ff7e00 1012px,#ff5600 1060px,#ff3200 1116px,#ff1500 1184px,#f00 1278px,#f60000 1428px,#e00000 1641px)"></i><i style="background:linear-gradient(90deg,#ff2d00 0px,#ff3700 60px,#ff4e00 112px,#ffb500 268px,#ff0 362px,#b6ff00 418px,#82ff32 444px,#3bff5a 472px,#08ff5a 478px,#00ff5b 480px,#00ff87 520px,#00ffa6 556px,#00ffb8 588px,#00ffbf 620px,#00ffb8 648px,#00ffa4 684px,#00ff84 724px,#00ff5c 764px,#05ff5a 766px,#37ff5a 772px,#3fff58 774px,#84ff30 800px,#b4ff00 822px,#ff0 876px,#ff8000 1012px,#f50 1064px,#ff3100 1120px,#ff1400 1188px,#f00 1280px,#f60000 1428px,#e00000 1641px)"></i><i style="background:linear-gradient(90deg,#ff2c00 0px,#ff3700 64px,#ff4f00 116px,#ffb600 272px,#ff0 364px,#b3ff00 422px,#83ff31 446px,#3dff5a 474px,#0cff5a 480px,#00ff5b 482px,#00ff84 520px,#00ffa4 556px,#00ffb6 588px,#00ffbe 620px,#00ffb9 648px,#00ffa5 684px,#00ff86 724px,#00ff5c 766px,#00ff5a 768px,#35ff5a 774px,#3fff58 776px,#84ff30 802px,#b4ff00 824px,#ff0 878px,#ff7e00 1016px,#ff5600 1064px,#ff3200 1120px,#ff1500 1188px,#f00 1280px,#f60000 1432px,#e00000 1641px)"></i><i style="background:linear-gradient(90deg,#ff2b00 0px,#ff3600 64px,#ff4d00 116px,#ffb500 272px,#ff0 366px,#b4ff00 424px,#83ff31 448px,#3eff59 476px,#00ff5a 484px,#00ff86 524px,#00ffa4 560px,#00ffb7 592px,#00ffbe 624px,#00ffb8 652px,#00ffa4 688px,#00ff84 728px,#00ff5c 768px,#00ff5a 770px,#34ff5a 776px,#3fff58 778px,#83ff31 804px,#b4ff00 826px,#ff0 880px,#ff7c00 1020px,#f50 1068px,#ff3000 1124px,#ff1500 1188px,#f00 1282px,#f60000 1432px,#e00000 1641px)"></i><i style="background:linear-gradient(90deg,#ff2a00 0px,#ff3400 64px,#ff4b00 116px,#ffb600 276px,#ff0 368px,#b4ff00 426px,#84ff30 450px,#3eff59 478px,#33ff5a 480px,#00ff5a 486px,#00ff5c 488px,#00ff87 528px,#00ffa5 564px,#00ffb7 596px,#00ffbd 628px,#00ffb6 656px,#00ffa2 692px,#00ff82 732px,#00ff5a 772px,#33ff5a 778px,#3eff59 780px,#83ff31 806px,#b3ff00 828px,#ff0 882px,#ff7e00 1020px,#ff5300 1072px,#ff2f00 1128px,#ff1400 1192px,#f00 1284px,#f60000 1436px,#e00000 1641px)"></i><i style="background:linear-gradient(90deg,#ff2900 0px,#ff3400 68px,#ff4b00 120px,#ffb400 276px,#ff0 370px,#b5ff00 428px,#85ff2f 452px,#3fff58 480px,#36ff5a 482px,#04ff5a 488px,#00ff5c 490px,#00ff85 528px,#00ffa3 564px,#00ffb5 596px,#00ffbc 628px,#00ffb7 656px,#00ffa3 692px,#00ff84 732px,#00ff5a 774px,#3eff59 782px,#83ff31 808px,#b3ff00 830px,#ff0 884px,#ff7c00 1024px,#ff5400 1072px,#ff3000 1128px,#ff1500 1192px,#f00 1284px,#f60000 1436px,#e00000 1641px)"></i><i style="background:linear-gradient(90deg,#ff2800 0px,#f30 68px,#ff4900 120px,#ffb200 276px,#ff0 374px,#b5ff00 430px,#81ff33 456px,#40ff58 482px,#39ff5a 484px,#07ff5a 490px,#00ff5b 492px,#00ff86 532px,#00ffa4 568px,#00ffb5 600px,#00ffbc 632px,#00ffb6 660px,#00ffa2 696px,#00ff82 736px,#00ff5a 776px,#3eff59 784px,#83ff31 810px,#b3ff00 832px,#ff0 886px,#ff7e00 1024px,#ff5300 1076px,#ff2f00 1132px,#ff1400 1196px,#f00 1286px,#f60000 1436px,#e00000 1641px)"></i><i style="background:linear-gradient(90deg,#ff2700 0px,#ff3200 68px,#ff4800 120px,#ffb400 280px,#ff0 376px,#b5ff00 432px,#81ff32 458px,#3bff5a 486px,#09ff5a 492px,#00ff5b 494px,#00ff84 532px,#00ffa2 568px,#00ffb4 600px,#0fb 632px,#00ffb6 660px,#00ffa3 696px,#00ff84 736px,#00ff5a 778px,#3eff59 786px,#83ff31 812px,#b3ff00 834px,#ff0 888px,#ff7c00 1028px,#ff5400 1076px,#ff3000 1132px,#ff1500 1196px,#f00 1288px,#f60000 1436px,#e10000 1641px)"></i><i style="background:linear-gradient(90deg,#ff2600 0px,#ff3100 68px,#ff4800 124px,#ffb200 280px,#ff0 378px,#b6ff00 434px,#82ff32 460px,#3cff5a 488px,#0bff5a 494px,#00ff5b 496px,#00ff85 536px,#00ffa3 572px,#00ffb4 604px,#0fb 636px,#00ffb5 664px,#00ffa1 700px,#00ff82 740px,#00ff5a 780px,#3eff59 788px,#83ff31 814px,#b3ff00 836px,#ff0 890px,#ff7e00 1028px,#ff5200 1080px,#ff3100 1132px,#ff1500 1196px,#f00 1288px,#f60000 1436px,#e10000 1641px)"></i><i style="background:linear-gradient(90deg,#ff2500 0px,#ff3000 68px,#ff4700 124px,#ffb300 284px,#ff0 380px,#b6ff00 436px,#82ff32 462px,#3dff5a 490px,#00ff5b 498px,#00ff83 536px,#00ffa1 572px,#00ffb3 604px,#00ffba 636px,#00ffb5 664px,#00ffa2 700px,#00ff83 740px,#00ff5a 782px,#3eff59 790px,#83ff31 816px,#b3ff00 838px,#ff0 892px,#ff7c00 1032px,#ff5100 1084px,#ff2f00 1136px,#ff1400 1200px,#f00 1290px,#e10000 1641px)"></i><i style="background:linear-gradient(90deg,#ff2400 0px,#ff3000 72px,#ff4700 128px,#ffb200 284px,#ff0 382px,#b6ff00 438px,#82ff32 464px,#3dff59 492px,#00ff5a 500px,#00ff84 540px,#00ffa2 576px,#00ffb3 608px,#00ffb9 640px,#00ffb4 668px,#00ffa0 704px,#00ff81 744px,#00ff5a 784px,#32ff5a 790px,#3eff59 792px,#83ff31 818px,#b4ff00 840px,#ff0 894px,#ff7d00 1032px,#ff5200 1084px,#ff3000 1136px,#ff1500 1200px,#f00 1290px,#e10000 1641px)"></i><i style="background:linear-gradient(90deg,#ff2300 0px,#ff2e00 72px,#ff4500 128px,#ffb000 284px,#ff0 384px,#b3ff00 442px,#83ff31 466px,#3dff59 494px,#00ff5a 502px,#00ff82 540px,#00ffa0 576px,#00ffb2 608px,#00ffb9 640px,#00ffb4 668px,#00ffa1 704px,#00ff83 744px,#00ff5c 784px,#00ff5a 786px,#33ff5a 792px,#3eff59 794px,#83ff31 820px,#b4ff00 842px,#ff0 896px,#ff5300 1084px,#ff3100 1136px,#ff1500 1200px,#f00 1292px,#e10000 1641px)"></i><i style="background:linear-gradient(90deg,#f20 0px,#ff2d00 72px,#ff4600 132px,#ffb100 288px,#ff0 386px,#b3ff00 444px,#83ff31 468px,#3eff59 496px,#00ff5a 504px,#00ff5c 506px,#00ff84 544px,#00ffa1 580px,#00ffb2 612px,#00ffb8 644px,#00ffb3 672px,#00ffa0 708px,#00ff81 748px,#00ff5c 786px,#00ff5a 788px,#34ff5a 794px,#3fff59 796px,#83ff31 822px,#b4ff00 844px,#ff0 898px,#ff7900 1040px,#ff5100 1088px,#ff3000 1140px,#ff1400 1204px,#f00 1292px,#e10000 1641px)"></i><i style="background:linear-gradient(90deg,#ff2100 0px,#ff2c00 72px,#ff4500 132px,#ffb000 288px,#ff0 388px,#b3ff00 446px,#83ff31 470px,#3eff59 498px,#00ff5a 506px,#00ff5c 508px,#00ff85 548px,#00ffa2 584px,#00ffb2 616px,#00ffb8 648px,#00ffb1 676px,#00ff9e 712px,#00ff7f 752px,#00ff5c 788px,#04ff5a 790px,#35ff5a 796px,#3fff58 798px,#84ff30 824px,#b4ff00 846px,#ff0 900px,#ff5300 1088px,#ff3000 1140px,#ff1500 1204px,#f00 1292px,#e10000 1641px)"></i><i style="background:linear-gradient(90deg,#ff2000 0px,#ff2b00 72px,#ff4300 132px,#ffae00 288px,#ff0 390px,#b3ff00 448px,#83ff31 472px,#3eff59 500px,#32ff5a 502px,#00ff5a 508px,#00ff5c 510px,#00ff83 548px,#00ffa0 584px,#00ffb1 616px,#00ffb7 648px,#00ffb2 676px,#00ff9f 712px,#00ff81 752px,#00ff5c 790px,#05ff5a 792px,#36ff5a 798px,#3fff58 800px,#84ff30 826px,#b5ff00 848px,#ff0 902px,#ff5100 1092px,#ff2f00 1144px,#ff1500 1204px,#f00 1294px,#e10000 1641px)"></i><i style="background:linear-gradient(90deg,#ff1f00 0px,#ff2b00 76px,#f40 136px,#ffb000 292px,#ff0 392px,#b3ff00 450px,#83ff31 474px,#3eff59 502px,#33ff5a 504px,#00ff5a 510px,#00ff5c 512px,#00ff85 552px,#00ffa1 588px,#00ffb1 620px,#00ffb6 652px,#00ffb0 680px,#00ff9d 716px,#00ff7f 756px,#00ff5b 792px,#07ff5a 794px,#38ff5a 800px,#40ff58 802px,#84ff30 828px,#b5ff00 850px,#ff0 902px,#ff7a00 1044px,#ff4f00 1096px,#ff3000 1144px,#ff1400 1208px,#f00 1294px,#e20000 1641px)"></i><i style="background:linear-gradient(90deg,#ff1e00 0px,#ff2a00 76px,#ff4200 136px,#ffae00 292px,#ff0 394px,#b3ff00 452px,#83ff31 476px,#3eff59 504px,#33ff5a 506px,#00ff5a 512px,#00ff5c 514px,#00ff83 552px,#00ff9f 588px,#00ffb0 620px,#00ffb6 652px,#00ffb1 680px,#00ff9e 716px,#00ff80 756px,#00ff5b 794px,#08ff5a 796px,#3aff5a 802px,#85ff2f 830px,#b5ff00 852px,#ff0 904px,#ff5000 1096px,#ff3100 1144px,#ff1500 1208px,#f00 1296px,#e20000 1641px)"></i><i style="background:linear-gradient(90deg,#ff1d00 0px,#ff2900 76px,#ff4300 140px,#ffad00 292px,#ff0 394px,#b6ff00 452px,#83ff31 478px,#3eff59 506px,#00ff5a 514px,#00ff5c 516px,#00ff84 556px,#00ffa0 592px,#00ffb0 624px,#00ffb5 656px,#00ffaf 684px,#00ff9c 720px,#00ff7e 760px,#00ff5b 796px,#0aff5a 798px,#3cff5a 804px,#85ff2f 832px,#b6ff00 854px,#ff0 906px,#ff5100 1096px,#ff3100 1144px,#ff1500 1208px,#f00 1296px,#e20000 1641px)"></i><i style="background:linear-gradient(90deg,#ff1c00 0px,#ff2800 76px,#ff4200 140px,#ffab00 292px,#ff0 396px,#b6ff00 454px,#82ff32 480px,#3eff59 508px,#00ff5a 516px,#00ff5c 518px,#00ff83 556px,#00ff9f 592px,#00ffaf 624px,#00ffb5 656px,#00ffaf 684px,#00ff9d 720px,#00ff7f 760px,#00ff5a 798px,#3dff5a 806px,#82ff32 832px,#b6ff00 856px,#ff0 908px,#ff4f00 1100px,#ff3000 1148px,#ff1400 1212px,#f00 1296px,#e20000 1641px)"></i><i style="background:linear-gradient(90deg,#ff1c00 0px,#ff2900 80px,#ff4300 144px,#ffad00 296px,#ff0 398px,#b5ff00 456px,#82ff32 482px,#3dff59 510px,#00ff5a 518px,#00ff5c 520px,#00ff84 560px,#00ff9f 596px,#00ffaf 628px,#00ffb4 660px,#00ffae 688px,#00ff9b 724px,#00ff7d 764px,#00ff5a 800px,#3dff59 808px,#82ff32 834px,#b3ff00 856px,#ff0 910px,#ff5000 1100px,#ff3100 1148px,#ff1500 1212px,#f00 1298px,#e20000 1641px)"></i><i style="background:linear-gradient(90deg,#ff1b00 0px,#ff2800 80px,#ff4100 144px,#ffab00 296px,#ff0 400px,#b5ff00 458px,#82ff32 484px,#3dff59 512px,#00ff5a 520px,#00ff82 560px,#00ff9e 596px,#00ffae 628px,#00ffb4 660px,#00ffae 688px,#00ff9c 724px,#00ff7f 764px,#00ff5c 800px,#00ff5a 802px,#33ff5a 808px,#3eff59 810px,#83ff31 836px,#b4ff00 858px,#ff0 912px,#ff4e00 1104px,#ff2f00 1152px,#ff1500 1212px,#f00 1298px,#e20000 1641px)"></i><i style="background:linear-gradient(90deg,#ff1a00 0px,#ff2700 80px,#ff4000 144px,#fa0 296px,#ff0 402px,#b5ff00 460px,#81ff33 486px,#3dff5a 514px,#00ff5a 522px,#00ff80 560px,#00ff9c 596px,#00ffad 628px,#00ffb3 660px,#00ffae 688px,#00ff9d 724px,#00ff80 764px,#00ff5c 802px,#05ff5a 804px,#36ff5a 810px,#3fff58 812px,#84ff30 838px,#b5ff00 860px,#ff0 912px,#ff5000 1104px,#ff3000 1152px,#ff1400 1216px,#f00 1300px,#e20000 1641px)"></i><i style="background:linear-gradient(90deg,#ff1900 0px,#ff2600 80px,#ff4100 148px,#ffa900 296px,#ff0 404px,#b4ff00 462px,#85ff2f 486px,#3cff5a 516px,#00ff5a 524px,#00ff82 564px,#00ff9d 600px,#00ffad 632px,#00ffb2 664px,#00ffad 692px,#00ff9b 728px,#00ff7e 768px,#00ff5b 804px,#08ff5a 806px,#39ff5a 812px,#85ff2f 840px,#b5ff00 862px,#ff0 914px,#ff5100 1104px,#ff3100 1152px,#ff1500 1216px,#f00 1300px,#e20000 1641px)"></i><i style="background:linear-gradient(90deg,#ff1900 0px,#ff2500 80px,#ff4000 148px,#ffa700 296px,#ff0 406px,#b4ff00 464px,#84ff30 488px,#3bff5a 518px,#00ff5b 526px,#00ff80 564px,#00ff9c 600px,#00ffac 632px,#00ffb2 664px,#00ffad 692px,#00ff9c 728px,#00ff7f 768px,#00ff5b 806px,#0bff5a 808px,#3cff5a 814px,#81ff32 840px,#b6ff00 864px,#ff0 916px,#ff4f00 1108px,#ff2f00 1156px,#ff1500 1216px,#f00 1302px,#e20000 1641px)"></i><i style="background:linear-gradient(90deg,#ff1800 0px,#ff2500 84px,#ff4100 152px,#ffa600 296px,#ff0 408px,#b3ff00 466px,#84ff30 490px,#39ff5a 520px,#0aff5a 526px,#00ff5b 528px,#00ff82 568px,#00ff9d 604px,#00ffac 636px,#00ffb1 668px,#00ffac 696px,#00ff9a 732px,#00ff7d 772px,#00ff5a 808px,#3dff59 816px,#82ff32 842px,#b3ff00 864px,#ff0 918px,#ff5000 1108px,#ff3000 1156px,#ff1400 1220px,#f00 1302px,#e20000 1641px)"></i><i style="background:linear-gradient(90deg,#ff1700 0px,#ff2400 84px,#ff3f00 152px,#ffa500 296px,#ff0 408px,#b6ff00 466px,#83ff31 492px,#3fff58 520px,#37ff5a 522px,#07ff5a 528px,#00ff5b 530px,#00ff81 568px,#00ff9b 604px,#00ffab 636px,#00ffb1 668px,#00ffac 696px,#00ff9b 732px,#00ff7e 772px,#00ff5c 808px,#00ff5a 810px,#34ff5a 816px,#3fff59 818px,#83ff31 844px,#b4ff00 866px,#ff0 918px,#ff4e00 1112px,#ff2e00 1160px,#ff1400 1220px,#f00 1304px,#e20000 1641px)"></i><i style="background:linear-gradient(90deg,#ff1600 0px,#ff2400 84px,#ff3e00 152px,#ffa300 296px,#ff0 410px,#b5ff00 468px,#82ff32 494px,#3eff59 522px,#34ff5a 524px,#05ff5a 530px,#00ff5b 532px,#00ff82 572px,#00ff9c 608px,#00ffab 640px,#00ffb0 672px,#00ffab 700px,#0f9 736px,#00ff7c 776px,#00ff5b 810px,#07ff5a 812px,#38ff5a 818px,#40ff58 820px,#85ff2f 846px,#b5ff00 868px,#ff0 920px,#ff4f00 1112px,#ff2f00 1160px,#ff1500 1220px,#f00 1304px,#e20000 1641px)"></i><i style="background:linear-gradient(90deg,#ff1600 0px,#ff2300 84px,#ff3f00 156px,#ffa200 296px,#ff0 412px,#b5ff00 470px,#81ff32 496px,#3eff59 524px,#00ff5a 532px,#00ff5c 534px,#00ff81 572px,#00ff9b 608px,#0fa 640px,#00ffb0 672px,#00ffab 700px,#0f9 736px,#00ff7d 776px,#00ff5b 812px,#0bff5a 814px,#3cff5a 820px,#81ff33 846px,#b6ff00 870px,#ff0 922px,#ff5000 1112px,#ff3000 1160px,#ff1500 1220px,#f00 1306px,#e20000 1641px)"></i><i style="background:linear-gradient(90deg,#ff1500 0px,#f20 84px,#ff3e00 156px,#ff9e00 292px,#ff0 414px,#b4ff00 472px,#85ff2f 496px,#3dff5a 526px,#00ff5a 534px,#00ff7f 572px,#00ff9a 608px,#00ffa9 640px,#00ffaf 672px,#00ffa9 704px,#00ff98 740px,#00ff7b 780px,#00ff5a 814px,#3eff59 822px,#83ff31 848px,#b4ff00 870px,#ff0 922px,#ff4e00 1116px,#ff2e00 1164px,#ff1400 1224px,#f00 1308px,#e20000 1641px)"></i><i style="background:linear-gradient(90deg,#ff1400 0px,#f20 88px,#ff3f00 160px,#ffa000 296px,#ff0 414px,#b3ff00 474px,#84ff30 498px,#3bff5a 528px,#00ff5a 536px,#00ff81 576px,#00ff9b 612px,#00ffa9 644px,#00ffaf 676px,#00ffa9 704px,#00ff98 740px,#00ff7c 780px,#00ff5c 814px,#05ff5a 816px,#36ff5a 822px,#3fff58 824px,#84ff30 850px,#b5ff00 872px,#ff0 922px,#ff4f00 1116px,#ff2f00 1164px,#ff1500 1224px,#f00 1308px,#e20000 1641px)"></i><i style="background:linear-gradient(90deg,#ff1300 0px,#ff2100 88px,#ff3e00 160px,#ff9e00 296px,#ff0 416px,#b6ff00 474px,#83ff31 500px,#3fff58 528px,#38ff5a 530px,#09ff5a 536px,#00ff5b 538px,#00ff7f 576px,#00ff9a 612px,#00ffa8 644px,#00ffae 676px,#00ffa9 704px,#0f9 740px,#00ff7d 780px,#00ff5b 816px,#0aff5a 818px,#3bff5a 824px,#85ff2f 852px,#b6ff00 874px,#ff0 924px,#ff4c00 1120px,#ff2d00 1168px,#ff1500 1224px,#f00 1310px,#e20000 1641px)"></i><i style="background:linear-gradient(90deg,#ff1300 0px,#ff2100 88px,#ff3d00 160px,#ff9a00 292px,#ff0 418px,#b5ff00 476px,#82ff32 502px,#3eff59 530px,#34ff5a 532px,#06ff5a 538px,#00ff5b 540px,#00ff7e 576px,#00ff98 612px,#00ffa9 648px,#00ffad 680px,#00ffa8 708px,#00ff97 744px,#00ff7a 784px,#00ff5a 818px,#3dff59 826px,#82ff32 852px,#b4ff00 874px,#ff0 926px,#ff4d00 1120px,#ff2e00 1168px,#ff1500 1224px,#f00 1310px,#e20000 1641px)"></i><i style="background:linear-gradient(90deg,#ff1200 0px,#ff2000 88px,#ff3f00 164px,#ff9c00 296px,#ff0 418px,#b4ff00 478px,#85ff2f 502px,#3dff59 532px,#00ff5a 540px,#00ff5c 542px,#00ff80 580px,#0f9 616px,#00ffa8 648px,#00ffad 680px,#00ffa8 708px,#00ff97 744px,#00ff7b 784px,#00ff5c 818px,#04ff5a 820px,#35ff5a 826px,#3fff58 828px,#84ff30 854px,#b5ff00 876px,#ff0 926px,#ff4e00 1120px,#ff2f00 1168px,#ff1400 1228px,#f00 1312px,#e20000 1641px)"></i><i style="background:linear-gradient(90deg,#f10 0px,#ff1f00 88px,#ff3e00 164px,#ff9800 292px,#ff0 420px,#b3ff00 480px,#84ff30 504px,#3cff5a 534px,#00ff5a 542px,#00ff7e 580px,#00ff98 616px,#00ffa7 648px,#00ffac 680px,#00ffa7 712px,#00ff96 748px,#00ff7c 784px,#00ff5b 820px,#0aff5a 822px,#3bff5a 828px,#85ff2f 856px,#b6ff00 878px,#ff0 928px,#ff4c00 1124px,#ff2d00 1172px,#ff1500 1228px,#f00 1314px,#e20000 1641px)"></i><i style="background:linear-gradient(90deg,#ff1000 0px,#ff1f00 88px,#ff3d00 164px,#ff9400 288px,#ff0 422px,#b5ff00 480px,#82ff32 506px,#3fff58 534px,#37ff5a 536px,#09ff5a 542px,#00ff5b 544px,#00ff7d 580px,#00ff97 616px,#00ffa7 652px,#00ffac 684px,#00ffa5 716px,#00ff94 752px,#00ff7a 788px,#00ff5a 822px,#3eff59 830px,#83ff31 856px,#b4ff00 878px,#ff0 928px,#ff4d00 1124px,#ff2e00 1172px,#ff1500 1228px,#f00 1314px,#e20000 1641px)"></i><i style="background:linear-gradient(90deg,#ff1000 0px,#ff1f00 92px,#ff3e00 168px,#ff9600 292px,#ff0 422px,#b4ff00 482px,#85ff2f 506px,#3eff59 536px,#05ff5a 544px,#00ff5b 546px,#00ff7f 584px,#00ff98 620px,#00ffa6 652px,#00ffab 684px,#00ffa7 712px,#00ff97 748px,#00ff7b 788px,#00ff5b 822px,#06ff5a 824px,#37ff5a 830px,#3fff58 832px,#84ff30 858px,#b5ff00 880px,#ff0 930px,#ff4e00 1124px,#ff2e00 1172px,#ff1500 1228px,#f00 1316px,#e20000 1641px)"></i><i style="background:linear-gradient(90deg,#ff0f00 0px,#ff1e00 92px,#ff3d00 168px,#ff9400 292px,#ff0 424px,#b3ff00 484px,#84ff30 508px,#3dff5a 538px,#00ff5a 546px,#00ff5c 548px,#00ff7e 584px,#00ff97 620px,#00ffa5 652px,#00ffab 684px,#00ffa5 716px,#00ff95 752px,#00ff7c 788px,#00ff5a 824px,#3cff5a 832px,#81ff32 858px,#b3ff00 880px,#ff0 932px,#ff4f00 1124px,#ff2f00 1172px,#ff1600 1228px,#f00 1316px,#e20000 1641px)"></i><i style="background:linear-gradient(90deg,#ff0e00 0px,#ff1e00 92px,#ff3c00 168px,#ff8d00 284px,#ff0 426px,#b5ff00 484px,#82ff32 510px,#40ff58 538px,#39ff5a 540px,#00ff5b 548px,#00ff7c 584px,#00ff96 620px,#00ffa4 652px,#0fa 684px,#00ffa5 716px,#00ff95 752px,#00ff7d 788px,#00ff5c 824px,#00ff5a 826px,#34ff5a 832px,#3eff59 834px,#83ff31 860px,#b5ff00 882px,#ff0 932px,#ff4c00 1128px,#ff2d00 1176px,#ff1400 1232px,#f00 1318px,#e20000 1641px)"></i><i style="background:linear-gradient(90deg,#ff0d00 0px,#ff1d00 92px,#ff3e00 172px,#ff8f00 288px,#ff0 426px,#b4ff00 486px,#85ff2f 510px,#3eff59 540px,#34ff5a 542px,#06ff5a 548px,#00ff5b 550px,#00ff7e 588px,#00ff97 624px,#00ffa5 656px,#0fa 688px,#00ffa4 720px,#00ff93 756px,#00ff7a 792px,#00ff5b 826px,#0aff5a 828px,#3bff5a 834px,#85ff2f 862px,#b6ff00 884px,#ff0 934px,#ff4d00 1128px,#ff2e00 1176px,#ff1500 1232px,#f00 1318px,#e20000 1641px)"></i><i style="background:linear-gradient(90deg,#ff0d00 0px,#ff1c00 92px,#ff3d00 172px,#ff8e00 288px,#ff0 428px,#b6ff00 486px,#83ff31 512px,#3cff5a 542px,#00ff5a 550px,#00ff5c 552px,#00ff7d 588px,#00ff96 624px,#00ffa4 656px,#00ffa9 688px,#00ffa4 720px,#00ff94 756px,#00ff7b 792px,#00ff5a 828px,#3eff59 836px,#83ff31 862px,#b4ff00 884px,#ff0 934px,#ff4e00 1128px,#ff2e00 1176px,#ff1500 1232px,#f00 1320px,#e20000 1641px)"></i><i style="background:linear-gradient(90deg,#ff0c00 0px,#ff1c00 92px,#ff3c00 172px,#ff8a00 284px,#ff0 428px,#b5ff00 488px,#82ff32 514px,#3fff58 542px,#38ff5a 544px,#0aff5a 550px,#00ff5b 552px,#00ff7c 588px,#00ff95 624px,#00ffa3 656px,#00ffa9 688px,#00ffa4 720px,#00ff94 756px,#00ff7c 792px,#00ff5b 828px,#08ff5a 830px,#39ff5a 836px,#85ff2f 864px,#b6ff00 886px,#ff0 936px,#ff4f00 1128px,#ff2f00 1176px,#ff1500 1232px,#f00 1320px,#e20000 1641px)"></i><i style="background:linear-gradient(90deg,#ff0b00 0px,#ff1c00 96px,#ff3d00 176px,#ff8c00 288px,#ff0 430px,#b3ff00 490px,#84ff30 514px,#3eff59 544px,#05ff5a 552px,#00ff5b 554px,#00ff7b 588px,#00ff94 624px,#00ffa4 660px,#00ffa8 692px,#00ffa2 724px,#00ff92 760px,#00ff79 796px,#00ff5a 830px,#3dff59 838px,#82ff32 864px,#b4ff00 886px,#ff0 936px,#ff4c00 1132px,#ff2f00 1176px,#ff1600 1232px,#f00 1322px,#e20000 1641px)"></i><i style="background:linear-gradient(90deg,#ff0b00 0px,#ff1c00 96px,#ff3d00 176px,#f80 284px,#ff0 432px,#b5ff00 490px,#83ff31 516px,#3bff5a 546px,#00ff5a 554px,#00ff7a 588px,#00ff93 624px,#00ffa3 660px,#00ffa8 692px,#00ffa2 724px,#00ff92 760px,#00ff7a 796px,#00ff5b 830px,#08ff5a 832px,#38ff5a 838px,#40ff58 840px,#85ff2f 866px,#b5ff00 888px,#ff0 938px,#ff4d00 1132px,#ff2d00 1180px,#ff1500 1236px,#f00 1322px,#e20000 1641px)"></i><i style="background:linear-gradient(90deg,#ff0a00 0px,#ff1b00 96px,#ff3c00 176px,#ff8700 284px,#ff0 432px,#b4ff00 492px,#85ff2f 516px,#3eff59 546px,#35ff5a 548px,#08ff5a 554px,#00ff5b 556px,#00ff7c 592px,#00ff94 628px,#00ffa2 660px,#00ffa7 692px,#00ffa2 724px,#00ff93 760px,#00ff7b 796px,#00ff5a 832px,#3dff59 840px,#82ff32 866px,#b4ff00 888px,#ff0 938px,#ff4e00 1132px,#ff2e00 1180px,#ff1500 1236px,#f00 1324px,#e20000 1641px)"></i><i style="background:linear-gradient(90deg,#ff0a00 0px,#ff1a00 96px,#ff3b00 176px,#ff8300 280px,#ff0 434px,#b5ff00 492px,#83ff31 518px,#3cff5a 548px,#00ff5a 556px,#00ff5c 558px,#00ff7b 592px,#00ff93 628px,#00ffa2 664px,#00ffa7 696px,#00ffa1 728px,#00ff91 764px,#00ff78 800px,#00ff5b 832px,#08ff5a 834px,#38ff5a 840px,#40ff58 842px,#85ff2f 868px,#b6ff00 890px,#ff0 940px,#ff4f00 1132px,#ff2e00 1180px,#ff1500 1236px,#f00 1324px,#e20000 1641px)"></i><i style="background:linear-gradient(90deg,#ff0900 0px,#ff1a00 96px,#ff3d00 180px,#ff8600 284px,#ff0 434px,#b4ff00 494px,#85ff2f 518px,#3fff58 548px,#37ff5a 550px,#0aff5a 556px,#00ff5b 558px,#00ff7a 592px,#00ff92 628px,#00ffa1 664px,#00ffa6 696px,#00ffa1 728px,#00ff91 764px,#00ff79 800px,#00ff5a 834px,#3dff59 842px,#82ff32 868px,#b4ff00 890px,#ff0 940px,#ff4c00 1136px,#ff2f00 1180px,#ff1600 1236px,#f00 1326px,#e20000 1641px)"></i><i style="background:linear-gradient(90deg,#ff0900 0px,#ff1900 96px,#ff3c00 180px,#ff8200 280px,#ff0 436px,#b5ff00 494px,#83ff31 520px,#3dff59 550px,#04ff5a 558px,#00ff5c 560px,#00ff7c 596px,#00ff93 632px,#00ffa1 664px,#00ffa6 696px,#00ffa1 728px,#00ff91 764px,#00ff7a 800px,#00ff5b 834px,#09ff5a 836px,#39ff5a 842px,#85ff2f 870px,#b6ff00 892px,#ff0 942px,#ff4d00 1136px,#ff2f00 1180px,#ff1600 1236px,#f00 1326px,#e20000 1641px)"></i><i style="background:linear-gradient(90deg,#ff0900 0px,#ff1900 96px,#ff3b00 180px,#ff8100 280px,#ff0 436px,#b4ff00 496px,#81ff33 522px,#3fff58 550px,#38ff5a 552px,#00ff5a 560px,#00ff7b 596px,#00ff93 632px,#00ffa0 664px,#00ffa5 696px,#00ffa1 728px,#00ff92 764px,#00ff7a 800px,#00ff5c 834px,#00ff5a 836px,#3eff59 844px,#83ff31 870px,#b4ff00 892px,#ff0 942px,#ff4d00 1136px,#ff3000 1180px,#ff1600 1236px,#f00 1328px,#e20000 1641px)"></i><i style="background:linear-gradient(90deg,#ff0800 0px,#ff1800 96px,#ff3b00 180px,#ff8000 280px,#ff0 438px,#b5ff00 496px,#83ff31 522px,#3dff59 552px,#05ff5a 560px,#00ff5b 562px,#00ff7a 596px,#00ff92 632px,#00ffa0 668px,#00ffa5 700px,#00ff9f 732px,#00ff90 768px,#00ff78 804px,#00ff5b 836px,#0bff5a 838px,#3bff5a 844px,#85ff2f 872px,#b6ff00 894px,#ff0 944px,#ff4e00 1136px,#ff3000 1180px,#ff1700 1236px,#f00 1328px,#e20000 1641px)"></i><i style="background:linear-gradient(90deg,#ff0800 0px,#ff1700 96px,#ff3a00 180px,#ff7f00 280px,#ff0 438px,#b4ff00 498px,#85ff2f 522px,#3fff58 552px,#38ff5a 554px,#00ff5a 562px,#00ff79 596px,#00ff91 632px,#00ffa0 668px,#00ffa4 700px,#00ff9f 732px,#00ff90 768px,#00ff78 804px,#00ff5c 836px,#05ff5a 838px,#34ff5a 844px,#3fff59 846px,#83ff31 872px,#b5ff00 894px,#ff0 944px,#ff4c00 1140px,#ff2e00 1184px,#ff1500 1240px,#f00 1330px,#e20000 1641px)"></i><i style="background:linear-gradient(90deg,#ff0800 0px,#ff1700 96px,#ff3c00 184px,#ff8100 284px,#ff0 438px,#b5ff00 498px,#83ff31 524px,#3dff59 554px,#05ff5a 562px,#00ff5b 564px,#00ff7b 600px,#00ff92 636px,#00ff9f 668px,#00ffa4 700px,#00ff9f 732px,#00ff90 768px,#00ff79 804px,#00ff5a 838px,#3dff5a 846px,#81ff32 872px,#b3ff00 894px,#ff0 944px,#ff4c00 1140px,#ff2f00 1184px,#ff1600 1240px,#f00 1330px,#f70000 1456px,#e20000 1641px)"></i><i style="background:linear-gradient(90deg,#ff0700 0px,#ff1600 96px,#ff3b00 184px,#ff7e00 280px,#ff0 440px,#b4ff00 500px,#85ff2f 524px,#3fff58 554px,#38ff5a 556px,#00ff5a 564px,#00ff7a 600px,#00ff8f 632px,#00ff9e 668px,#00ffa3 700px,#00ff9f 732px,#00ff90 768px,#00ff79 804px,#00ff5b 838px,#08ff5a 840px,#37ff5a 846px,#3fff58 848px,#84ff30 874px,#b5ff00 896px,#ff0 946px,#ff4d00 1140px,#ff2f00 1184px,#ff1600 1240px,#f00 1332px,#f70000 1456px,#e20000 1641px)"></i><i style="background:linear-gradient(90deg,#ff0700 0px,#ff1600 96px,#ff3a00 184px,#ff7d00 280px,#ff0 440px,#b5ff00 500px,#82ff32 526px,#3dff5a 556px,#04ff5a 564px,#00ff5b 566px,#00ff79 600px,#00ff90 636px,#00ff9e 672px,#00ffa2 704px,#00ff9d 736px,#00ff90 768px,#00ff7a 804px,#00ff5c 838px,#00ff5a 840px,#3eff59 848px,#83ff31 874px,#b4ff00 896px,#ff0 946px,#ff4d00 1140px,#ff3000 1184px,#ff1600 1240px,#f00 1332px,#f80000 1452px,#e20000 1641px)"></i><i style="background:linear-gradient(90deg,#ff0600 0px,#ff1500 96px,#ff3a00 184px,#ff7c00 280px,#ff0 442px,#b3ff00 502px,#84ff30 526px,#3fff58 556px,#36ff5a 558px,#00ff5a 566px,#00ff78 600px,#00ff8f 636px,#00ff9e 672px,#00ffa2 704px,#00ff9d 736px,#00ff8e 772px,#0f7 808px,#00ff5a 840px,#3bff5a 848px,#85ff2f 876px,#b3ff00 896px,#ff0 946px,#ff4e00 1140px,#ff3000 1184px,#ff1700 1240px,#f00 1334px,#f80000 1452px,#e20000 1641px)"></i><i style="background:linear-gradient(90deg,#ff0600 0px,#ff1500 96px,#ff3900 184px,#ff7c00 280px,#ff0 442px,#b4ff00 502px,#82ff32 528px,#3cff5a 558px,#00ff5a 566px,#00ff5c 568px,#0f7 600px,#00ff8e 636px,#00ff9d 672px,#00ffa1 704px,#00ff9d 736px,#00ff8e 772px,#0f7 808px,#00ff5b 840px,#07ff5a 842px,#36ff5a 848px,#3fff58 850px,#84ff30 876px,#b5ff00 898px,#ff0 948px,#ff4e00 1140px,#ff3100 1184px,#ff1700 1240px,#f00 1334px,#f80000 1452px,#e20000 1641px)"></i><i style="background:linear-gradient(90deg,#ff0600 0px,#ff1400 96px,#ff3b00 188px,#ff7e00 284px,#ff0 442px,#b5ff00 502px,#83ff31 528px,#3eff59 558px,#00ff5b 568px,#00ff76 600px,#00ff8d 636px,#00ff9c 672px,#00ffa1 704px,#00ff9d 736px,#00ff90 768px,#00ff78 808px,#00ff5c 840px,#00ff5a 842px,#3dff59 850px,#82ff32 876px,#b4ff00 898px,#ff0 948px,#ff4f00 1140px,#ff3100 1184px,#ff1700 1240px,#f00 1336px,#f90000 1452px,#e20000 1641px)"></i><i style="background:linear-gradient(90deg,#ff0500 0px,#ff1400 96px,#ff3b00 188px,#ff7e00 284px,#ff0 444px,#b3ff00 504px,#85ff2f 528px,#3aff5a 560px,#00ff5a 568px,#00ff5c 570px,#00ff78 604px,#00ff8f 640px,#00ff9c 676px,#00ffa0 708px,#00ff9b 740px,#00ff8e 772px,#00ff78 808px,#00ff5a 842px,#3bff5a 850px,#85ff2f 878px,#b6ff00 900px,#ff0 950px,#ff4f00 1140px,#ff3100 1184px,#ff1800 1240px,#f00 1336px,#f90000 1448px,#e20000 1641px)"></i><i style="background:linear-gradient(90deg,#ff0500 0px,#ff1200 92px,#ff3a00 188px,#ff7d00 284px,#ff0 444px,#b5ff00 504px,#82ff32 530px,#3dff59 560px,#06ff5a 568px,#00ff5b 570px,#00ff78 604px,#00ff8e 640px,#00ff9c 676px,#00ffa0 708px,#00ff9b 740px,#00ff8e 772px,#00ff78 808px,#00ff5b 842px,#07ff5a 844px,#36ff5a 850px,#3fff58 852px,#84ff30 878px,#b5ff00 900px,#ff0 950px,#ff4d00 1144px,#ff2f00 1188px,#ff1800 1240px,#f00 1338px,#f90000 1448px,#e20000 1641px)"></i><i style="background:linear-gradient(90deg,#ff0500 0px,#ff1200 92px,#ff3a00 188px,#ff7c00 284px,#ff0 444px,#b5ff00 504px,#83ff31 530px,#3fff59 560px,#36ff5a 562px,#00ff5a 570px,#0f7 604px,#00ff8d 640px,#00ff9b 676px,#00ff9f 708px,#00ff9b 740px,#00ff8e 772px,#00ff78 808px,#00ff5c 842px,#00ff5a 844px,#3eff59 852px,#82ff32 878px,#b4ff00 900px,#ff0 950px,#ff4d00 1144px,#ff3000 1188px,#ff1700 1244px,#f00 1340px,#f90000 1448px,#e20000 1641px)"></i><i style="background:linear-gradient(90deg,#ff0400 0px,#f10 92px,#ff3900 188px,#ff7c00 284px,#ff0 446px,#b3ff00 506px,#85ff2f 530px,#3bff5a 562px,#00ff5a 570px,#00ff5b 572px,#00ff76 604px,#00ff8c 640px,#00ff9a 676px,#00ff9f 708px,#00ff9b 740px,#00ff8e 772px,#00ff75 812px,#00ff5a 844px,#3cff5a 852px,#81ff33 878px,#b3ff00 900px,#ff0 950px,#ff4e00 1144px,#ff3000 1188px,#ff1700 1244px,#f00 1342px,#f90000 1448px,#e20000 1641px)"></i><i style="background:linear-gradient(90deg,#ff0400 0px,#f10 92px,#ff3b00 192px,#ff7e00 288px,#ff0 446px,#b4ff00 506px,#82ff32 532px,#3dff59 562px,#08ff5a 570px,#00ff5b 572px,#00ff78 608px,#00ff8d 644px,#00ff9a 680px,#00ff9e 712px,#0f9 744px,#00ff8c 776px,#00ff76 812px,#00ff5b 844px,#0bff5a 846px,#39ff5a 852px,#84ff30 880px,#b6ff00 902px,#ff0 952px,#ff4e00 1144px,#ff3100 1188px,#ff1800 1244px,#f00 1344px,#f90000 1452px,#e20000 1641px)"></i><i style="background:linear-gradient(90deg,#ff0400 0px,#f10 92px,#ff3b00 192px,#ff7e00 288px,#ff0 446px,#b5ff00 506px,#83ff31 532px,#3fff58 562px,#37ff5a 564px,#00ff5a 572px,#0f7 608px,#00ff8c 644px,#00ff9a 680px,#00ff9e 712px,#00ff9a 740px,#00ff8b 776px,#00ff76 812px,#00ff5b 844px,#07ff5a 846px,#35ff5a 852px,#3fff59 854px,#83ff31 880px,#b5ff00 902px,#ff0 952px,#ff4e00 1144px,#ff3100 1188px,#ff1800 1244px,#ff0800 1296px,#f00 1346px,#f90000 1452px,#e20000 1641px)"></i><i style="background:linear-gradient(90deg,#f00 0px,#ff1000 92px,#ff3a00 192px,#ff7e00 288px,#ff0 446px,#b3ff00 508px,#84ff30 532px,#3bff5a 564px,#04ff5a 572px,#00ff5b 574px,#00ff76 608px,#00ff8b 644px,#0f9 680px,#00ff9d 712px,#0f9 740px,#00ff8b 776px,#00ff75 812px,#00ff5b 844px,#04ff5a 846px,#3dff59 854px,#82ff32 880px,#b4ff00 902px,#ff0 952px,#ff4c00 1148px,#ff3100 1188px,#ff1900 1244px,#ff0800 1296px,#f00 1348px,#f90000 1452px,#e20000 1641px)"></i><i style="background:linear-gradient(90deg,#f00 0px,#ff0f00 88px,#ff3a00 192px,#ff7d00 288px,#ff0 448px,#b4ff00 508px,#81ff32 534px,#3dff59 564px,#08ff5a 572px,#00ff5b 574px,#00ff75 608px,#00ff8a 644px,#00ff98 680px,#00ff9d 712px,#0f9 740px,#00ff8a 776px,#00ff73 816px,#00ff5a 846px,#3cff5a 854px,#86ff2e 882px,#b3ff00 902px,#ff0 952px,#ff4c00 1148px,#ff3200 1188px,#ff1700 1248px,#ff0900 1296px,#f00 1352px,#f90000 1452px,#e20000 1641px)"></i><i style="background:linear-gradient(90deg,#f00 0px,#ff0f00 92px,#ff3c00 196px,#ff8000 292px,#ff0 448px,#b5ff00 508px,#82ff32 534px,#3eff59 564px,#36ff5a 566px,#00ff5a 574px,#00ff89 644px,#00ff97 680px,#00ff9c 712px,#0f9 740px,#00ff8a 776px,#00ff72 816px,#00ff5a 846px,#3aff5a 854px,#85ff2f 882px,#b6ff00 904px,#ff0 954px,#ffaf00 1036px,#ff4d00 1148px,#ff3200 1188px,#ff1800 1248px,#ff0800 1300px,#f00 1354px,#f90000 1452px,#e20000 1641px)"></i><i style="background:linear-gradient(90deg,#f00 0px,#ff0e00 88px,#ff3c00 196px,#ff8000 292px,#ff0 448px,#b5ff00 508px,#83ff31 534px,#3aff5a 566px,#04ff5a 574px,#00ff5b 576px,#00ff89 648px,#00ff98 688px,#00ff9c 716px,#00ff98 740px,#00ff89 776px,#00ff72 816px,#00ff5a 846px,#0aff5a 848px,#37ff5a 854px,#3fff58 856px,#84ff30 882px,#b5ff00 904px,#ff0 954px,#ffaf00 1036px,#ff4a00 1152px,#ff3200 1188px,#ff1800 1248px,#ff0800 1300px,#f00 1358px,#f90000 1452px,#e20000 1641px)"></i><i style="background:linear-gradient(90deg,#f00 0px,#ff0e00 88px,#ff3b00 196px,#ff8200 296px,#ff0 448px,#b6ff00 508px,#85ff2f 534px,#3cff5a 566px,#08ff5a 574px,#00ff5b 576px,#0f8 648px,#00ff97 688px,#00ff9c 716px,#00ff98 740px,#00ff89 776px,#00ff5b 846px,#08ff5a 848px,#35ff5a 854px,#3eff59 856px,#83ff31 882px,#b5ff00 904px,#ff0 954px,#ffb000 1036px,#ff4a00 1152px,#f30 1188px,#ff1900 1248px,#ff0900 1300px,#f00 1362px,#e20000 1641px)"></i><i style="background:linear-gradient(90deg,#f00 0px,#ff0d00 88px,#ff3b00 196px,#ff8200 296px,#ff0 448px,#b4ff00 510px,#82ff32 536px,#3eff59 566px,#00ff5a 576px,#00ff87 648px,#00ff96 688px,#00ff9b 716px,#0f8 776px,#00ff5b 846px,#07ff5a 848px,#3eff59 856px,#83ff31 882px,#b4ff00 904px,#ff0 954px,#ffb000 1036px,#ff4800 1156px,#ff3100 1192px,#ff1800 1252px,#ff0900 1300px,#f00 1366px,#e20000 1641px)"></i><i style="background:linear-gradient(90deg,#f00 0px,#ff0d00 88px,#ff3b00 196px,#ff8200 296px,#ff0 450px,#b4ff00 510px,#83ff31 536px,#3fff58 566px,#38ff5a 568px,#04ff5a 576px,#00ff5b 578px,#00ff87 652px,#00ff9b 716px,#00ff87 776px,#00ff5b 846px,#07ff5a 848px,#3dff59 856px,#82ff32 882px,#b4ff00 904px,#ff0 956px,#ffb700 1028px,#ff4800 1156px,#ff3400 1188px,#ff1800 1252px,#ff0900 1300px,#f00 1370px,#e20000 1641px)"></i><i style="background:linear-gradient(90deg,#f00 0px,#ff0d00 88px,#ff3d00 200px,#ff8500 300px,#ff0 450px,#b5ff00 510px,#84ff30 536px,#3cff5a 568px,#08ff5a 576px,#00ff5a 578px,#00ff86 652px,#00ff9a 716px,#00ff86 776px,#00ff5b 846px,#07ff5a 848px,#3dff59 856px,#82ff32 882px,#b3ff00 904px,#ff0 956px,#ffb700 1028px,#ff4800 1156px,#ff3400 1188px,#ff1900 1252px,#ff0900 1304px,#f00 1374px,#e20000 1641px)"></i><i style="background:linear-gradient(90deg,#f00 0px,#ff0d00 88px,#ff3d00 200px,#ff8500 300px,#ff0 450px,#b5ff00 510px,#81ff32 538px,#3dff59 568px,#00ff5a 578px,#00ff5b 580px,#00ff85 652px,#00ff9a 716px,#00ff85 776px,#00ff5b 846px,#08ff5a 848px,#3dff59 856px,#82ff32 882px,#b3ff00 904px,#ff0 956px,#ffb700 1028px,#ff4600 1160px,#f30 1192px,#ff1800 1256px,#ff0900 1304px,#f00 1380px,#e20000 1641px)"></i><i style="background:linear-gradient(90deg,#f00 0px,#ff0d00 88px,#ff3d00 200px,#ff8400 300px,#ff0 450px,#b6ff00 510px,#82ff32 538px,#3eff59 568px,#05ff5a 578px,#00ff5b 580px,#00ff84 652px,#00ff9a 716px,#00ff84 776px,#00ff5a 846px,#08ff5a 848px,#3dff59 856px,#82ff32 882px,#b3ff00 904px,#ff0 956px,#ffb800 1028px,#ff4600 1160px,#f30 1192px,#ff1800 1256px,#ff0900 1304px,#f00 1382px,#e20000 1641px)"></i><b class="et"></b><b class="er"></b></div><div class="hm" style="left:244.3px;top:1542.0px;width:1661.0px;height:1170.5px"><i style="background:linear-gradient(90deg,#f00 0px,#f00 80px,#ff0700 92px,#ff1200 100px,#ff2700 108px,#ff4f00 116px,#ff8b00 124px,#fff600 136px,#f1ff00 138px,#b9ff00 142px,#8fff25 144px,#55ff4c 146px,#00ff63 148px,#00ffe8 156px,#00f5ff 158px,#0069ff 168px,#003bff 172px,#0018ff 176px,#00f 180px,#0000f2 184px,#00e 188px,#0000f9 196px,#000bff 200px,#0023ff 204px,#0043ff 208px,#0095ff 216px,#00f7ff 224px,#00ffea 226px,#00ff74 234px,#0bff5a 236px,#63ff44 238px,#93ff21 240px,#b8ff00 242px,#ff0 248px,#ffc300 256px,#ff9200 264px,#ff6900 272px,#ff4600 280px,#ff1700 296px,#ff0900 304px,#f00 314px,#d30000 384px,#b70000 448px,#a50000 516px,#a00000 556px,#9b0000 696px,#9a0000 1661px)"></i><i style="background:linear-gradient(90deg,#f00 0px,#f00 72px,#ff0500 84px,#ff1500 96px,#ff2900 104px,#ff4b00 112px,#ff8100 120px,#ff0 134px,#e9ff00 136px,#b6ff00 140px,#8cff28 142px,#5aff49 144px,#00ff60 146px,#0ff 156px,#00e3ff 158px,#0059ff 168px,#002cff 172px,#000aff 176px,#00f 178px,#0000e7 184px,#0000e3 188px,#0000ef 196px,#00f 200px,#0019ff 204px,#005fff 212px,#00ebff 224px,#00fff8 226px,#00ff69 236px,#3fff58 238px,#74ff3a 240px,#9eff16 242px,#bfff00 244px,#ef0 248px,#fffb00 250px,#ffce00 256px,#ff9b00 264px,#ff7100 272px,#ff4d00 280px,#ff1c00 296px,#ff0d00 304px,#f00 316px,#d40000 384px,#b90000 448px,#a60000 516px,#a10000 560px,#9b0000 700px,#9b0000 1661px)"></i><i style="background:linear-gradient(90deg,#f00 0px,#f00 68px,#ff0b00 84px,#ff1800 92px,#ff3c00 104px,#ff6300 112px,#ff9c00 120px,#fff600 130px,#f2ff00 132px,#c2ff00 136px,#a3ff11 138px,#7dff35 140px,#4bff52 142px,#00ff63 144px,#00ff9a 148px,#00fff8 154px,#00e9ff 156px,#0079ff 164px,#0046ff 168px,#001cff 172px,#0000fb 176px,#0000e6 180px,#0000db 184px,#0000d7 188px,#0000e4 196px,#0000f5 200px,#00f 202px,#000eff 204px,#0054ff 212px,#00adff 220px,#00f7ff 226px,#00ffec 228px,#00ff63 238px,#4dff50 240px,#7eff34 242px,#a5ff0f 244px,#c2ff00 246px,#f1ff00 250px,#fff900 252px,#ffbf00 260px,#ff8f00 268px,#ff4700 284px,#ff1900 300px,#ff0600 312px,#f00 320px,#d40000 388px,#ba0000 448px,#a80000 516px,#a10000 564px,#9b0000 704px,#9b0000 1661px)"></i><i style="background:linear-gradient(90deg,#f00 0px,#f00 64px,#ff0900 76px,#ff1b00 88px,#ff4100 100px,#f60 108px,#f90 116px,#ff0 128px,#b3ff00 134px,#64ff43 138px,#29ff5a 140px,#00ff6c 142px,#00ffba 148px,#00fff5 152px,#00ecff 154px,#0063ff 164px,#0034ff 168px,#000cff 172px,#00f 174px,#0000da 180px,#0000d0 184px,#00c 188px,#0000db 196px,#0000f7 202px,#0004ff 204px,#0048ff 212px,#00a0ff 220px,#0ff 228px,#00ff5c 240px,#57ff4b 242px,#86ff2e 244px,#abff09 246px,#c6ff00 248px,#f4ff00 252px,#fff800 254px,#fc0 260px,#ff9c00 268px,#ff7300 276px,#ff4300 288px,#ff1800 304px,#ff0600 316px,#f00 324px,#d50000 392px,#b00 452px,#a90000 516px,#a20000 572px,#9c0000 720px,#9b0000 1661px)"></i><i style="background:linear-gradient(90deg,#f00 0px,#f00 60px,#ff0b00 72px,#ff1f00 84px,#ff3600 92px,#ff6a00 104px,#ffb400 116px,#fff700 124px,#f2ff00 126px,#c1ff00 130px,#a3ff11 132px,#7eff34 134px,#51ff4e 136px,#00ff5d 138px,#00ffa3 144px,#00fff6 150px,#0ef 152px,#004eff 164px,#0021ff 168px,#0000fb 172px,#0000e1 176px,#0000d0 180px,#0000c6 184px,#0000c3 188px,#0000d2 196px,#0000fa 204px,#001aff 208px,#003eff 212px,#0093ff 220px,#00f2ff 228px,#00fff2 230px,#00ff6f 240px,#14ff5a 242px,#62ff44 244px,#8dff27 246px,#b1ff00 248px,#f5ff00 254px,#fff700 256px,#ffc100 264px,#ff9400 272px,#ff6e00 280px,#ff4000 292px,#ff1700 308px,#f00 328px,#d30000 400px,#bd0000 452px,#a00 520px,#a10000 588px,#9c0000 752px,#9b0000 1661px)"></i><i style="background:linear-gradient(90deg,#f00 0px,#f00 52px,#ff0900 64px,#ff1900 76px,#ff3900 88px,#ff5900 96px,#ff9a00 108px,#ffcf00 116px,#ff0 122px,#eaff00 124px,#baff00 128px,#73ff3a 132px,#46ff54 134px,#00ff62 136px,#00ffbf 144px,#00fff5 148px,#00efff 150px,#003bff 164px,#00f 170px,#0000d7 176px,#0000c7 180px,#0000bc 188px,#0000cb 196px,#0000f3 204px,#00f 206px,#0034ff 212px,#08f 220px,#0ff 230px,#00ff69 242px,#3cff5a 244px,#6aff40 246px,#93ff21 248px,#b5ff00 250px,#f6ff00 256px,#fff800 258px,#ffcf00 264px,#ffa100 272px,#ff7b00 280px,#ff4b00 292px,#ff3100 300px,#ff1600 312px,#f00 332px,#d20000 408px,#be0000 456px,#ab0000 524px,#a20000 596px,#9c0000 780px,#9c0000 1661px)"></i><i style="background:linear-gradient(90deg,#f00 0px,#f00 48px,#ff0a00 60px,#ff1c00 72px,#ff3c00 84px,#ff5c00 92px,#ff9b00 104px,#fff700 118px,#f5ff00 120px,#b5ff00 126px,#94ff20 128px,#42ff57 132px,#00ff64 134px,#00ffa7 140px,#00fff3 146px,#00f2ff 148px,#0058ff 160px,#00f 168px,#0000cd 176px,#0000bf 180px,#0000b6 188px,#0000c5 196px,#0000d6 200px,#0000fa 206px,#0009ff 208px,#0052ff 216px,#0ef 230px,#00fff8 232px,#00ff63 244px,#45ff55 246px,#72ff3b 248px,#b7ff00 252px,#f5ff00 258px,#fff800 260px,#ffc500 268px,#ff9b00 276px,#ff6500 288px,#ff4800 296px,#ff3000 304px,#ff1500 316px,#f00 336px,#d30000 412px,#bf0000 460px,#ac0000 528px,#a20000 600px,#9d0000 796px,#9c0000 1661px)"></i><i style="background:linear-gradient(90deg,#f00 0px,#f00 44px,#ff0c00 56px,#ff1e00 68px,#ff3f00 80px,#ff7000 92px,#ffb100 104px,#ff0 116px,#c3ff00 122px,#adff07 124px,#8dff27 126px,#3fff58 130px,#00ff64 132px,#00ffbd 140px,#0fe 144px,#00f6ff 146px,#0047ff 160px,#0008ff 166px,#0000f5 168px,#0000da 172px,#0000c6 176px,#0000b9 180px,#0000b1 188px,#0000c0 196px,#0000d0 200px,#0000f3 206px,#00f 208px,#0048ff 216px,#00f7ff 232px,#00ffef 234px,#00ffa4 240px,#00ff5f 246px,#4cff51 248px,#9aff1a 252px,#b8ff00 254px,#f4ff00 260px,#fffa00 262px,#ffbd00 272px,#ff9400 280px,#ff6100 292px,#ff4500 300px,#ff2e00 308px,#ff1400 320px,#f00 340px,#d20000 420px,#be0000 468px,#ac0000 536px,#a20000 612px,#9d0000 820px,#9c0000 1661px)"></i><i style="background:linear-gradient(90deg,#f00 0px,#ff0400 40px,#ff0e00 52px,#ff2100 64px,#ff4200 76px,#ff7100 88px,#ffae00 100px,#fffa00 112px,#f3ff00 114px,#bcff00 120px,#a3ff11 122px,#87ff2d 124px,#3dff5a 128px,#00ff65 130px,#00ffa2 136px,#0ff 144px,#003aff 160px,#000fff 164px,#00f 166px,#0000d3 172px,#0000c0 176px,#0000b4 180px,#0000ac 188px,#0000bc 196px,#0000cb 200px,#0000f9 208px,#000aff 210px,#003eff 216px,#0090ff 224px,#0ff 234px,#00ffe6 236px,#00ff5c 248px,#51ff4e 250px,#7bff36 252px,#9cff18 254px,#b9ff00 256px,#f2ff00 262px,#fffb00 264px,#ffca00 272px,#ff8e00 284px,#ff4200 304px,#ff2c00 312px,#ff1400 324px,#f00 344px,#d10000 428px,#bf0000 472px,#ad0000 540px,#a30000 616px,#9d0000 832px,#9c0000 1661px)"></i><i style="background:linear-gradient(90deg,#f00 0px,#ff0800 40px,#ff1500 52px,#ff2300 60px,#f40 72px,#ff7200 84px,#ffab00 96px,#ff0 110px,#b7ff00 118px,#82ff32 122px,#5fff46 124px,#38ff5a 126px,#00ff64 128px,#00ffb3 136px,#00fffb 142px,#00edff 144px,#005bff 156px,#0006ff 164px,#0000f5 166px,#0000cd 172px,#00b 176px,#0000a9 184px,#0000a9 188px,#0000b7 196px,#0000c6 200px,#0000f3 208px,#00f 210px,#0035ff 216px,#0084ff 224px,#00f0ff 234px,#00fff7 236px,#00ff6d 248px,#08ff5a 250px,#57ff4b 252px,#7eff34 254px,#9eff16 256px,#b9ff00 258px,#f2ff00 264px,#ff0 266px,#ffc200 276px,#ff9a00 284px,#ff6800 296px,#ff4000 308px,#ff1300 328px,#f00 348px,#d00000 436px,#bf0000 480px,#ad0000 548px,#a30000 624px,#9d0000 848px,#9c0000 1661px)"></i><i style="background:linear-gradient(90deg,#f00 0px,#ff0900 36px,#ff1700 48px,#ff2600 56px,#ff4600 68px,#ff7200 80px,#ffa800 92px,#fff600 106px,#fbff00 108px,#b5ff00 116px,#80ff33 120px,#3cff5a 124px,#00ff62 126px,#0f9 132px,#00fff1 140px,#00f5ff 142px,#004fff 156px,#0024ff 160px,#00f 164px,#0000e0 168px,#0000b8 176px,#0000ac 180px,#0000a5 188px,#00a 192px,#0000c1 200px,#0000fa 210px,#0009ff 212px,#0050ff 220px,#00f7ff 236px,#00fff0 238px,#00ff6a 250px,#20ff5a 252px,#5bff48 254px,#82ff32 256px,#a0ff14 258px,#baff00 260px,#ff0 268px,#ffcf00 276px,#ff9500 288px,#ff4a00 308px,#ff1900 328px,#ff0800 340px,#f00 352px,#d00000 444px,#bf0000 488px,#ad0000 556px,#a40000 632px,#9d0000 860px,#9d0000 1661px)"></i><i style="background:linear-gradient(90deg,#f00 0px,#ff0b00 32px,#ff1900 44px,#ff2800 52px,#ff4800 64px,#ff7200 76px,#ffb900 92px,#fff900 104px,#f7ff00 106px,#b4ff00 114px,#82ff32 118px,#40ff58 122px,#00ff5f 124px,#00ffa6 132px,#0ff 140px,#00e9ff 142px,#0045ff 156px,#0009ff 162px,#0000f7 164px,#0000db 168px,#0000b5 176px,#0000a9 180px,#0000a2 188px,#0000a6 192px,#0000bd 200px,#0000f2 210px,#00f 212px,#0045ff 220px,#0ff 238px,#0f6 252px,#30ff5a 254px,#60ff45 256px,#84ff30 258px,#a1ff13 260px,#baff00 262px,#ff0 270px,#ffc600 280px,#ffa000 288px,#ff6f00 300px,#ff4700 312px,#ff1800 332px,#ff0800 344px,#f00 356px,#be0000 496px,#ad0000 564px,#a40000 640px,#9e0000 872px,#9d0000 1661px)"></i><i style="background:linear-gradient(90deg,#ff0400 0px,#ff0d00 28px,#ff2a00 48px,#ff4a00 60px,#ff8200 76px,#ffb600 88px,#ff0 102px,#b5ff00 112px,#85ff2f 116px,#47ff54 120px,#00ff5c 122px,#00ffb2 132px,#00fff3 138px,#00f5ff 140px,#003cff 156px,#00f 162px,#0000f1 164px,#0000d7 168px,#0000b2 176px,#0000a1 184px,#00009f 188px,#0000a3 192px,#0000b8 200px,#0000c9 204px,#0000f8 212px,#0008ff 214px,#003aff 220px,#00f0ff 238px,#00fff8 240px,#00ff9f 248px,#00ff64 254px,#3eff59 256px,#86ff2e 260px,#a2ff12 262px,#baff00 264px,#ff0 272px,#fff400 274px,#ff9b00 292px,#ff6b00 304px,#ff4500 316px,#ff1700 336px,#ff0800 348px,#f00 360px,#be0000 504px,#ad0000 572px,#a40000 648px,#9e0000 884px,#9d0000 1661px)"></i><i style="background:linear-gradient(90deg,#ff0500 0px,#ff0f00 24px,#ff1e00 36px,#ff3600 48px,#ff5800 60px,#ff8100 72px,#ffb200 84px,#ff0 100px,#b4ff00 110px,#87ff2d 114px,#4dff51 118px,#0dff5a 120px,#00ff68 122px,#00ffbd 132px,#0ff 138px,#00ebff 140px,#0034ff 156px,#000dff 160px,#00f 162px,#0000d4 168px,#0000b0 176px,#00009f 184px,#00009d 188px,#0000a0 192px,#0000b4 200px,#0000d9 208px,#00f 214px,#05f 224px,#00f6ff 240px,#00fff2 242px,#00ffb0 248px,#00ff61 256px,#40ff57 258px,#87ff2d 262px,#a3ff11 264px,#baff00 266px,#ff0 274px,#fff500 276px,#ffcb00 284px,#ff9500 296px,#ff6800 308px,#ff4200 320px,#ff1700 340px,#ff0800 352px,#f00 364px,#be0000 512px,#ae0000 576px,#a50000 652px,#9e0000 888px,#9d0000 1661px)"></i><i style="background:linear-gradient(90deg,#ff0800 0px,#ff1600 24px,#ff2800 36px,#ff4300 48px,#ff8f00 72px,#ffc000 84px,#fff900 96px,#faff00 98px,#b4ff00 108px,#89ff2b 112px,#52ff4d 116px,#24ff5a 118px,#00ff63 120px,#00ffa2 128px,#00fff2 136px,#00f6ff 138px,#002fff 156px,#0009ff 160px,#0000f9 162px,#0000d1 168px,#0000af 176px,#00009d 184px,#00009b 188px,#00009d 192px,#0000b0 200px,#0000d3 208px,#0000f7 214px,#0006ff 216px,#004aff 224px,#0ff 242px,#00ffec 244px,#00ff98 252px,#00ff60 258px,#4f5 260px,#88ff2c 264px,#a3ff11 266px,#baff00 268px,#fbff00 276px,#fff700 278px,#ffc400 288px,#ff9000 300px,#ff6400 312px,#ff4000 324px,#ff1600 344px,#ff0700 356px,#f00 368px,#be0000 520px,#ae0000 584px,#a50000 660px,#9e0000 900px,#9d0000 1661px)"></i><i style="background:linear-gradient(90deg,#ff0b00 0px,#ff1e00 24px,#ff4500 44px,#ff8e00 68px,#ffbc00 80px,#ff0 94px,#f7ff00 96px,#b3ff00 106px,#8aff2a 110px,#3cff5a 116px,#00ff5f 118px,#00ffac 128px,#00fffb 136px,#0ef 138px,#0053ff 152px,#0006ff 160px,#0000f6 162px,#0000d0 168px,#0000ae 176px,#00009c 184px,#00009a 188px,#00009c 192px,#0000ad 200px,#0000ce 208px,#00f 216px,#003fff 224px,#0ff 244px,#00ffa8 252px,#00ff5e 260px,#46ff54 262px,#89ff2b 266px,#a3ff11 268px,#baff00 270px,#f9ff00 278px,#fff800 280px,#ffbd00 292px,#ff8b00 304px,#ff6100 316px,#ff3e00 328px,#ff1500 348px,#f00 372px,#bd0000 528px,#ae0000 592px,#a50000 668px,#9e0000 908px,#9d0000 1661px)"></i><i style="background:linear-gradient(90deg,#ff1000 0px,#ff1800 12px,#ff2700 24px,#ff5100 44px,#ff9b00 68px,#ffc800 80px,#ff0 92px,#b3ff00 104px,#76ff39 110px,#43ff56 114px,#00ff5b 116px,#00ffb4 128px,#00fbff 136px,#0027ff 156px,#0004ff 160px,#0000f5 162px,#0000d0 168px,#0000ae 176px,#00009c 184px,#00009a 188px,#00009b 192px,#0000ab 200px,#0000ca 208px,#0000f6 216px,#0005ff 218px,#0058ff 228px,#00f4ff 244px,#00fff6 246px,#00ffb8 252px,#00ff5c 262px,#4aff52 264px,#8aff2a 268px,#a3ff11 270px,#baff00 272px,#f8ff00 280px,#fffa00 282px,#ffc800 292px,#ff9600 304px,#ff4700 328px,#ff2a00 340px,#ff1400 352px,#f00 374px,#bd0000 536px,#af0000 596px,#a60000 672px,#9f0000 916px,#9d0000 1661px)"></i><i style="background:linear-gradient(90deg,#ff1600 0px,#ff2b00 20px,#ff5d00 44px,#ffa600 68px,#ff0 90px,#b5ff00 102px,#7bff36 108px,#4bff51 112px,#18ff5a 114px,#00ff63 116px,#00ff9a 124px,#0fb 128px,#00fff5 134px,#00f5ff 136px,#0025ff 156px,#00f 160px,#0000f4 162px,#0000d0 168px,#0000af 176px,#00009d 184px,#00009a 188px,#0000a0 196px,#0000b6 204px,#0000d9 212px,#00f 218px,#000cff 220px,#004dff 228px,#00f9ff 246px,#00fff1 248px,#00ffa1 256px,#00ff5a 264px,#4bff51 266px,#8aff2a 270px,#a4ff10 272px,#b9ff00 274px,#f6ff00 282px,#fffb00 284px,#ffc200 296px,#ff9100 308px,#ff4500 332px,#ff2900 344px,#ff1400 356px,#f00 378px,#f30000 416px,#d10000 488px,#bd0000 544px,#af0000 604px,#a60000 680px,#9f0000 924px,#9d0000 1661px)"></i><i style="background:linear-gradient(90deg,#ff1e00 0px,#ff3500 20px,#ff6900 44px,#ffa400 64px,#ff0 88px,#b7ff00 100px,#81ff32 106px,#53ff4d 110px,#38ff5a 112px,#00ff5e 114px,#00ffa1 124px,#00ffc1 128px,#00fffb 134px,#00f0ff 136px,#0048ff 152px,#00f 160px,#0000d1 168px,#0000b1 176px,#00009f 184px,#00009b 188px,#0000a0 196px,#0000b4 204px,#0000d5 212px,#0000f6 218px,#0004ff 220px,#0043ff 228px,#0ff 248px,#00ffb0 256px,#04ff5a 266px,#4eff50 268px,#8bff29 272px,#b9ff00 276px,#ff0 286px,#ffcd00 296px,#ff9b00 308px,#ff7100 320px,#ff4300 336px,#ff2700 348px,#ff1300 360px,#f00 382px,#f20000 424px,#d00000 496px,#bd0000 552px,#af0000 612px,#a60000 688px,#9f0000 936px,#9e0000 1661px)"></i><i style="background:linear-gradient(90deg,#ff2600 0px,#ff3800 16px,#ff6a00 40px,#ffaf00 64px,#fff900 84px,#ff0 86px,#b8ff00 98px,#a9ff0b 100px,#86ff2e 104px,#44ff56 110px,#07ff5a 112px,#00ff65 114px,#00ffa7 124px,#0ff 134px,#02f 156px,#00f 160px,#0000f4 162px,#0000d2 168px,#0000b3 176px,#0000a1 184px,#00009d 192px,#0000a1 196px,#0000b2 204px,#0000d1 212px,#00f 220px,#0039ff 228px,#00fffb 250px,#00ffc0 256px,#00ff69 266px,#0cff5a 268px,#4eff50 270px,#8aff2a 274px,#b8ff00 278px,#ff0 288px,#ffc600 300px,#ff9700 312px,#ff4b00 336px,#ff1800 360px,#ff0a00 372px,#f00 386px,#f10000 432px,#d10000 500px,#bc0000 560px,#af0000 620px,#a70000 692px,#9f0000 940px,#9e0000 1661px)"></i><i style="background:linear-gradient(90deg,#ff3000 0px,#ff4300 16px,#ff7500 40px,#ffac00 60px,#fffa00 82px,#fbff00 84px,#baff00 96px,#acff08 98px,#8bff29 102px,#4dff50 108px,#00ff5f 112px,#00ffac 124px,#00fff1 132px,#00f9ff 134px,#0046ff 152px,#00f 160px,#0000f5 162px,#0000d4 168px,#0000b5 176px,#0000a3 184px,#00009f 192px,#0000a8 200px,#0000be 208px,#00f 222px,#0050ff 232px,#00f5ff 250px,#00fff7 252px,#00ffab 260px,#00ff67 268px,#10ff5a 270px,#4fff4f 272px,#6eff3d 274px,#8bff29 276px,#b7ff00 280px,#ff0 290px,#fff600 292px,#ffc000 304px,#ff9200 316px,#ff4900 340px,#ff1800 364px,#f00 390px,#f20000 436px,#d00000 508px,#bd0000 564px,#b00000 624px,#a70000 700px,#9f0000 948px,#9e0000 1661px)"></i><i style="background:linear-gradient(90deg,#ff3a00 0px,#ff4d00 16px,#ff7f00 40px,#ffb600 60px,#fffb00 80px,#faff00 82px,#bcff00 94px,#b0ff04 96px,#7fff34 102px,#40ff58 108px,#00ff5a 110px,#00ff95 120px,#00ffd1 128px,#00fff5 132px,#00f6ff 134px,#0046ff 152px,#0005ff 160px,#0000f7 162px,#0000d6 168px,#0000b8 176px,#0000a6 184px,#0000a1 192px,#0000a8 200px,#0000bc 208px,#0000dc 216px,#00f 222px,#000aff 224px,#0046ff 232px,#00f9ff 252px,#00fff3 254px,#00ffba 260px,#00ff67 270px,#16ff5a 272px,#50ff4f 274px,#8aff2a 278px,#a1ff13 280px,#b6ff00 282px,#ff0 292px,#fff800 294px,#ff9c00 316px,#ff7400 328px,#ff4700 344px,#ff1700 368px,#f00 394px,#f20000 440px,#d10000 512px,#bd0000 572px,#b00000 632px,#a70000 708px,#9f0000 960px,#9e0000 1661px)"></i><i style="background:linear-gradient(90deg,#ff4300 0px,#ff5800 16px,#ff8900 40px,#ffbf00 60px,#ff0 78px,#f9ff00 80px,#b3ff00 94px,#85ff2f 100px,#4aff52 106px,#00ff60 110px,#00ff81 116px,#00ffb5 124px,#00fff9 132px,#00f3ff 134px,#0047ff 152px,#0007ff 160px,#0000fa 162px,#0000d9 168px,#00b 176px,#0000a9 184px,#0000a3 192px,#0000a9 200px,#0000bc 208px,#0000d9 216px,#00f 224px,#005eff 236px,#0ff 254px,#0fe 256px,#00ffa6 264px,#0f6 272px,#18ff5a 274px,#51ff4e 276px,#8aff2a 280px,#b6ff00 284px,#faff00 294px,#fff900 296px,#ffc500 308px,#ff9800 320px,#ff4500 348px,#ff1700 372px,#f00 398px,#f20000 444px,#d10000 520px,#bd0000 580px,#a80000 712px,#a00000 964px,#9e0000 1661px)"></i><i style="background:linear-gradient(90deg,#ff4d00 0px,#ff6200 16px,#ff9200 40px,#ffbc00 56px,#ff0 76px,#b6ff00 92px,#7aff37 100px,#3fff58 106px,#00ff5a 108px,#00ff9e 120px,#00ffd8 128px,#00fffb 132px,#00f1ff 134px,#0049ff 152px,#000aff 160px,#00f 162px,#00d 168px,#0000bf 176px,#0000ad 184px,#0000a6 192px,#0000ab 200px,#00b 208px,#0000d6 216px,#00f 224px,#0017ff 228px,#0053ff 236px,#0ff 256px,#00ffb5 264px,#00ff65 274px,#1dff5a 276px,#51ff4e 278px,#89ff2b 282px,#a0ff14 284px,#b5ff00 286px,#f8ff00 296px,#fffb00 298px,#ffbf00 312px,#ff9400 324px,#f40 352px,#ff1600 376px,#f00 402px,#f10000 452px,#d00000 528px,#bc0000 588px,#a80000 720px,#a00000 976px,#9e0000 1661px)"></i><i style="background:linear-gradient(90deg,#ff5700 0px,#ff6b00 16px,#ff9b00 40px,#ffc400 56px,#ff0 74px,#b9ff00 90px,#adff07 92px,#82ff32 98px,#49ff52 104px,#00ff5e 108px,#00ffa1 120px,#00ffda 128px,#0ff 132px,#00f0ff 134px,#004bff 152px,#00f 162px,#0000e0 168px,#0000c2 176px,#0000b0 184px,#0000a9 192px,#0000ad 200px,#0000bc 208px,#0000d4 216px,#0000f7 224px,#0004ff 226px,#0010ff 228px,#0049ff 236px,#00f4ff 256px,#00fff9 258px,#00ffa2 268px,#00ff64 276px,#1eff5a 278px,#51ff4e 280px,#89ff2b 284px,#b4ff00 288px,#eaff00 296px,#ff0 300px,#ffca00 312px,#ff9000 328px,#ff4200 356px,#ff1500 380px,#f00 406px,#f20000 456px,#d10000 532px,#bd0000 592px,#a80000 724px,#a00000 980px,#9e0000 1661px)"></i><i style="background:linear-gradient(90deg,#ff6100 0px,#ff7500 16px,#ff9a00 36px,#ffc100 52px,#ff0 72px,#b2ff00 90px,#88ff2c 96px,#40ff57 104px,#08ff5a 106px,#00ff62 108px,#00ffa4 120px,#00ffdc 128px,#0ff 132px,#00f0ff 134px,#004eff 152px,#0005ff 162px,#0000f8 164px,#0000c6 176px,#0000b4 184px,#0000ad 192px,#0000b0 200px,#0000bc 208px,#0000d2 216px,#00f 226px,#0009ff 228px,#0040ff 236px,#00f7ff 258px,#00fff6 260px,#00ffb1 268px,#00ff64 278px,#1fff5a 280px,#51ff4e 282px,#87ff2d 286px,#9dff17 288px,#b2ff00 290px,#ff0 302px,#ffc400 316px,#f90 328px,#ff4a00 356px,#ff2800 372px,#ff1500 384px,#f00 410px,#f20000 460px,#bd0000 600px,#a80000 732px,#a00000 988px,#9e0000 1661px)"></i><i style="background:linear-gradient(90deg,#ff6a00 0px,#ff7d00 16px,#ffa200 36px,#ffc800 52px,#ff0 70px,#b6ff00 88px,#80ff33 96px,#4bff52 102px,#2fff5a 104px,#00ff5d 106px,#00ffa6 120px,#00ffde 128px,#0ff 132px,#00efff 134px,#0052ff 152px,#0015ff 160px,#00f 164px,#0000d8 172px,#0000c0 180px,#0000b4 188px,#0000b1 196px,#0000b7 204px,#0000c6 212px,#0000de 220px,#0000f8 226px,#00f 228px,#0037ff 236px,#00faff 260px,#00fff3 262px,#00ff9f 272px,#00ff64 280px,#1eff5a 282px,#50ff4e 284px,#87ff2d 288px,#b1ff00 292px,#ff0 304px,#fff700 306px,#ffbf00 320px,#ff9500 332px,#ff4800 360px,#ff2700 376px,#ff1400 388px,#f00 414px,#f10000 468px,#be0000 604px,#a90000 736px,#a00000 996px,#9f0000 1661px)"></i><i style="background:linear-gradient(90deg,#ff7200 0px,#ff8600 16px,#fa0 36px,#ffcf00 52px,#ff0 68px,#b9ff00 86px,#aeff06 88px,#87ff2d 94px,#43ff56 102px,#16ff5a 104px,#00ff60 106px,#00ffa9 120px,#00ffdf 128px,#0ff 132px,#00efff 134px,#0056ff 152px,#00f 164px,#0000dc 172px,#0000c5 180px,#0000b8 188px,#0000b4 196px,#0000b9 204px,#0000c7 212px,#0000dc 220px,#00f 228px,#0015ff 232px,#004cff 240px,#0ff 262px,#00ffae 272px,#00ff64 282px,#1eff5a 284px,#4fff4f 286px,#85ff2f 290px,#afff05 294px,#beff00 296px,#ff0 306px,#fff900 308px,#ffba00 324px,#ff9200 336px,#ff4600 364px,#ff2600 380px,#ff1400 392px,#f00 418px,#f20000 472px,#be0000 612px,#a90000 744px,#a00000 1008px,#9f0000 1661px)"></i><i style="background:linear-gradient(90deg,#ff7b00 0px,#ff8700 12px,#ffa900 32px,#fc0 48px,#ff0 66px,#fbff00 68px,#b4ff00 86px,#81ff33 94px,#3cff5a 102px,#00ff5a 104px,#00ffab 120px,#0ff 132px,#00f0ff 134px,#003bff 156px,#0007ff 164px,#0000fb 166px,#0000e1 172px,#0000c9 180px,#0000bc 188px,#0000b8 196px,#0000bc 204px,#0000c7 212px,#0000db 220px,#0000f9 228px,#000fff 232px,#0043ff 240px,#0ff 264px,#00ffbc 272px,#00ff64 284px,#1cff5a 286px,#4fff4f 288px,#85ff2f 292px,#aeff06 296px,#bdff00 298px,#faff00 308px,#fffb00 310px,#ff9b00 336px,#ff6c00 352px,#ff4500 368px,#ff1300 396px,#f00 422px,#f20000 476px,#bd0000 620px,#a90000 752px,#a10000 1016px,#9f0000 1661px)"></i><i style="background:linear-gradient(90deg,#ff8200 0px,#ff8f00 12px,#ffaf00 32px,#ffd200 48px,#ff0 64px,#ff0 66px,#b7ff00 84px,#adff07 86px,#88ff2c 92px,#48ff53 100px,#00ff5d 104px,#00ffac 120px,#0ff 132px,#00f2ff 134px,#0041ff 156px,#00f 166px,#0000e6 172px,#0000ce 180px,#0000c0 188px,#0000bc 196px,#0000c3 208px,#0000d0 216px,#0000e6 224px,#00f 230px,#003bff 240px,#00f4ff 264px,#00fffb 266px,#00ffab 276px,#00ff64 286px,#1bff5a 288px,#4eff50 290px,#83ff31 294px,#98ff1c 296px,#abff09 298px,#bf0 300px,#f7ff00 310px,#ff0 312px,#ffbf00 328px,#ff9700 340px,#ff4300 372px,#ff1300 400px,#f00 426px,#f30000 480px,#be0000 624px,#a00 756px,#a10000 1020px,#9f0000 1661px)"></i><i style="background:linear-gradient(90deg,#f80 0px,#ff9500 12px,#ffb600 32px,#fffb00 62px,#ff0 64px,#b2ff00 84px,#82ff32 92px,#42ff57 100px,#14ff5a 102px,#00ff60 104px,#00ffad 120px,#0ff 132px,#00f3ff 134px,#0048ff 156px,#0013ff 164px,#00f 168px,#0000de 176px,#0000cb 184px,#0000c1 192px,#0000bf 200px,#0000d0 216px,#0000e5 224px,#0000fb 230px,#0005ff 232px,#004fff 244px,#00f7ff 266px,#00fff8 268px,#00ffb9 276px,#00ff64 288px,#18ff5a 290px,#4dff50 292px,#82ff32 296px,#aaff0a 300px,#baff00 302px,#ff0 314px,#ffa000 340px,#ff4b00 372px,#ff1800 400px,#ff0700 416px,#f00 430px,#f20000 488px,#be0000 632px,#a00 764px,#a10000 1032px,#9f0000 1661px)"></i><i style="background:linear-gradient(90deg,#ff8e00 0px,#ffb400 28px,#ff0 62px,#b7ff00 82px,#7cff35 92px,#3cff5a 100px,#00ff5a 102px,#0f9 116px,#00ffc4 124px,#00fffa 132px,#00f5ff 134px,#0032ff 160px,#0004ff 168px,#0000fa 170px,#0000e3 176px,#0000cf 184px,#0000c5 192px,#0000c2 200px,#0000d1 216px,#0000e3 224px,#00f 232px,#0046ff 244px,#00f9ff 268px,#00fff6 270px,#00ff64 290px,#15ff5a 292px,#4bff51 294px,#7fff34 298px,#a7ff0d 302px,#b8ff00 304px,#ff0 316px,#fff800 318px,#ffc300 332px,#ff9000 348px,#ff4000 380px,#ff1200 408px,#f00 434px,#f20000 492px,#bf0000 636px,#ab0000 768px,#a10000 1036px,#9f0000 1661px)"></i><i style="background:linear-gradient(90deg,#ff9400 0px,#ffba00 28px,#ff0 60px,#b2ff00 82px,#85ff2f 90px,#48ff53 98px,#2eff5a 100px,#00ff5c 102px,#0f9 116px,#00ffc4 124px,#00fff8 132px,#00f8ff 134px,#0039ff 160px,#000aff 168px,#00f 170px,#0000f7 172px,#0000d4 184px,#0000c9 192px,#0000c5 200px,#0000d2 216px,#0000e2 224px,#00f 232px,#000fff 236px,#003eff 244px,#00fbff 270px,#00fff3 272px,#00ff65 292px,#0fff5a 294px,#4aff52 296px,#7dff35 300px,#a6ff0e 304px,#b7ff00 306px,#ff0 318px,#fff900 320px,#f90 348px,#ff4700 380px,#ff1700 408px,#ff0a00 420px,#f00 438px,#f20000 496px,#be0000 644px,#ab0000 776px,#a10000 1048px,#9f0000 1661px)"></i><i style="background:linear-gradient(90deg,#f90 0px,#ffbf00 28px,#ff0 58px,#b7ff00 80px,#aeff06 82px,#80ff33 90px,#44ff56 98px,#00ff5e 102px,#00ffae 120px,#00fff6 132px,#00faff 134px,#0041ff 160px,#01f 168px,#00f 172px,#0000d9 184px,#0000cd 192px,#0000c9 200px,#0000ce 212px,#0000d9 220px,#00f 234px,#001fff 240px,#0052ff 248px,#0ff 272px,#00fff1 274px,#00ff65 294px,#0cff5a 296px,#48ff53 298px,#7bff36 302px,#a3ff11 306px,#b5ff00 308px,#faff00 320px,#fffb00 322px,#ffc800 336px,#ff9600 352px,#ff4600 384px,#ff1600 412px,#f00 442px,#f10000 504px,#bf0000 648px,#ab0000 780px,#a20000 1052px,#9f0000 1661px)"></i><i style="background:linear-gradient(90deg,#ff9e00 0px,#ffc400 28px,#ff0 56px,#b4ff00 80px,#7cff36 90px,#40ff58 98px,#13ff5a 100px,#00ff5f 102px,#00ffae 120px,#0ff 134px,#002fff 164px,#0004ff 172px,#00f 174px,#0000e7 180px,#0000d6 188px,#00c 204px,#0000d9 220px,#0000ea 228px,#00f 234px,#001aff 240px,#004aff 248px,#0ff 274px,#0f6 296px,#06ff5a 298px,#47ff54 300px,#79ff37 304px,#a2ff12 308px,#b4ff00 310px,#ff0 324px,#ff9e00 352px,#ff7300 368px,#ff4500 388px,#ff1600 416px,#f00 446px,#f20000 508px,#bf0000 656px,#ab0000 788px,#a20000 1060px,#a00000 1661px)"></i><i style="background:linear-gradient(90deg,#ffa400 0px,#ffc200 24px,#ff0 54px,#ff0 56px,#b8ff00 78px,#b0ff04 80px,#85ff2f 88px,#4cff51 96px,#3cff5a 98px,#08ff5a 100px,#00ff61 102px,#00ffae 120px,#0ff 134px,#00f3ff 136px,#0037ff 164px,#000cff 172px,#0000fa 176px,#0000db 188px,#0000cf 204px,#0000da 220px,#00f 236px,#0043ff 248px,#0ff 276px,#00ffa7 288px,#00ff5a 300px,#45ff55 302px,#8cff28 308px,#b1ff00 312px,#ff0 326px,#ffcd00 340px,#ff9b00 356px,#ff7000 372px,#ff4300 392px,#ff1500 420px,#f00 450px,#f20000 512px,#c00000 660px,#ac0000 792px,#a20000 1064px,#a00000 1661px)"></i><i style="background:linear-gradient(90deg,#ffa900 0px,#ffc700 24px,#ff0 54px,#b5ff00 78px,#82ff32 88px,#49ff53 96px,#33ff5a 98px,#00ff5a 100px,#00ff9b 116px,#00ffc1 124px,#0ff 134px,#00f7ff 136px,#0040ff 164px,#0015ff 172px,#00f 176px,#0000fb 178px,#0000e9 184px,#0000da 192px,#0000d2 204px,#0000db 220px,#0000e8 228px,#00f 236px,#003cff 248px,#00f6ff 276px,#00fffa 278px,#00ff5b 302px,#43ff56 304px,#74ff3a 308px,#9dff17 312px,#aeff06 314px,#bcff00 316px,#ff0 328px,#fff900 330px,#ff9800 360px,#ff4200 396px,#ff1500 424px,#f00 454px,#f30000 516px,#bf0000 668px,#ac0000 800px,#a20000 1072px,#a00000 1661px)"></i><i style="background:linear-gradient(90deg,#ffae00 0px,#fc0 24px,#ff0 52px,#b2ff00 78px,#7eff34 88px,#46ff54 96px,#2bff5a 98px,#00ff5b 100px,#00ffad 120px,#00fff8 134px,#00faff 136px,#0032ff 168px,#000bff 176px,#0000fa 180px,#0000de 192px,#0000d5 208px,#0000e1 224px,#00f 236px,#000eff 240px,#0036ff 248px,#00f8ff 278px,#00fff8 280px,#00ff5b 304px,#40ff57 306px,#88ff2c 312px,#acff08 316px,#baff00 318px,#faff00 330px,#fffb00 332px,#ffa000 360px,#ff4900 396px,#ff1500 428px,#f00 458px,#f20000 524px,#c00000 672px,#ad0000 804px,#a30000 1076px,#a00000 1661px)"></i><i style="background:linear-gradient(90deg,#ffb200 0px,#ffca00 20px,#ff0 50px,#b7ff00 76px,#afff05 78px,#87ff2d 86px,#44ff56 96px,#00ff5c 100px,#00ffac 120px,#0ff 136px,#003cff 168px,#0013ff 176px,#00f 180px,#0000fb 182px,#0000e3 192px,#0000d8 208px,#0000e2 224px,#00f 238px,#001cff 244px,#0047ff 252px,#00faff 280px,#00fff7 282px,#00ff5d 306px,#3eff59 308px,#85ff2f 314px,#98ff1c 316px,#b9ff00 320px,#ff0 334px,#ff9d00 364px,#ff4800 400px,#ff1400 432px,#f00 462px,#f20000 528px,#c00000 680px,#ad0000 812px,#a30000 1084px,#a00000 1661px)"></i><i style="background:linear-gradient(90deg,#ffb700 0px,#ffce00 20px,#ff0 50px,#b5ff00 76px,#85ff2f 86px,#42ff57 96px,#00ff5d 100px,#00ffab 120px,#0ff 136px,#00f7ff 138px,#0030ff 172px,#000bff 180px,#00f 184px,#0000e3 196px,#0000db 212px,#0000e8 228px,#00f 238px,#0018ff 244px,#0041ff 252px,#00fbff 282px,#00fff5 284px,#00ff5d 308px,#3bff5a 310px,#83ff31 316px,#b7ff00 322px,#ff0 336px,#ffc900 352px,#ff9a00 368px,#ff4600 404px,#ff1400 436px,#f00 466px,#f20000 532px,#c10000 684px,#ad0000 816px,#a30000 1088px,#a00000 1661px)"></i><i style="background:linear-gradient(90deg,#ffbc00 0px,#ffd200 20px,#ff0 48px,#b3ff00 76px,#83ff31 86px,#40ff58 96px,#1aff5a 98px,#00ff5d 100px,#0fa 120px,#00fff9 136px,#00fbff 138px,#0039ff 172px,#0013ff 180px,#00f 186px,#0000e8 196px,#0000de 212px,#0000e9 228px,#00f 238px,#0005ff 240px,#003cff 252px,#0ff 284px,#00fff4 286px,#00ff5e 310px,#35ff5a 312px,#52ff4e 314px,#80ff33 318px,#a4ff10 322px,#b5ff00 324px,#ff0 338px,#fffa00 340px,#ffc500 356px,#ff9700 372px,#ff4500 408px,#ff1400 440px,#f00 470px,#f30000 536px,#c00000 692px,#ad0000 824px,#a30000 1100px,#a10000 1661px)"></i><i style="background:linear-gradient(90deg,#ffc000 0px,#ffd500 20px,#ff0 48px,#b1ff00 76px,#81ff33 86px,#3fff58 96px,#17ff5a 98px,#00ff5e 100px,#00ffa9 120px,#0ff 138px,#002fff 176px,#00f 188px,#0000e8 200px,#0000e1 212px,#0000ea 228px,#00f 240px,#0023ff 248px,#004cff 256px,#0ff 286px,#00fff3 288px,#00ff5f 312px,#2cff5a 314px,#4fff4f 316px,#7dff35 320px,#a1ff13 324px,#b2ff00 326px,#beff00 328px,#faff00 340px,#fffb00 342px,#ffc100 360px,#ff9400 376px,#f40 412px,#ff1300 444px,#f00 474px,#f20000 544px,#c10000 696px,#ae0000 828px,#a40000 1100px,#a10000 1661px)"></i><i style="background:linear-gradient(90deg,#ffc400 0px,#ffd900 20px,#ff0 46px,#b7ff00 74px,#afff05 76px,#7fff34 86px,#3eff59 96px,#15ff5a 98px,#00ff5e 100px,#00ffa7 120px,#00fffb 138px,#00f9ff 140px,#003aff 176px,#0017ff 184px,#00f 192px,#0000e9 204px,#0000e4 216px,#0000ea 228px,#00f 240px,#001fff 248px,#0047ff 256px,#0ff 288px,#00ff61 314px,#4cff51 318px,#8dff27 324px,#afff05 328px,#bcff00 330px,#ff0 344px,#ff9c00 376px,#ff6c00 396px,#ff4300 416px,#ff1300 448px,#f00 478px,#f20000 548px,#c10000 704px,#ae0000 836px,#a40000 1108px,#a10000 1661px)"></i><i style="background:linear-gradient(90deg,#ffc800 0px,#ffdc00 20px,#ff0 44px,#e5ff00 56px,#b5ff00 74px,#7eff34 86px,#3eff59 96px,#14ff5a 98px,#00ff5e 100px,#00ffa6 120px,#0ff 140px,#0032ff 180px,#0012ff 188px,#00f 194px,#0000ed 204px,#0000e7 216px,#0000ec 228px,#00f 240px,#001cff 248px,#0042ff 256px,#0ff 290px,#00ff62 316px,#19ff5a 318px,#49ff52 320px,#77ff39 324px,#9cff18 328px,#acff08 330px,#baff00 332px,#ff0 346px,#ffc500 364px,#f90 380px,#ff4900 416px,#ff1700 448px,#ff0800 464px,#f00 482px,#f30000 552px,#c20000 708px,#af0000 840px,#a40000 1112px,#a10000 1661px)"></i><i style="background:linear-gradient(90deg,#ffcb00 0px,#ffdf00 20px,#ff0 44px,#b4ff00 74px,#7dff35 86px,#3eff59 96px,#14ff5a 98px,#00ff5e 100px,#00ffb4 124px,#0ff 140px,#00f8ff 142px,#003dff 180px,#000eff 192px,#00f 198px,#00e 208px,#0000ea 220px,#0000f1 232px,#00f 240px,#0019ff 248px,#003dff 256px,#0ff 292px,#00ff63 318px,#10ff5a 320px,#46ff54 322px,#88ff2c 328px,#a9ff0b 332px,#b8ff00 334px,#ff0 348px,#fffb00 350px,#ffc200 368px,#ff9700 384px,#ff4800 420px,#ff1700 452px,#ff0800 468px,#f00 486px,#f20000 560px,#c10000 716px,#af0000 848px,#a50000 1116px,#a20000 1661px)"></i><i style="background:linear-gradient(90deg,#ffcf00 0px,#ffe200 20px,#ff0 42px,#e2ff00 56px,#b3ff00 74px,#87ff2d 84px,#3eff59 96px,#16ff5a 98px,#00ff5d 100px,#00ffa3 120px,#0ff 142px,#0036ff 184px,#000bff 196px,#00f 202px,#0000f0 212px,#0000ed 220px,#0000f2 232px,#00f 240px,#0009ff 244px,#0039ff 256px,#00f8ff 292px,#00fffb 294px,#00ff64 320px,#06ff5a 322px,#43ff56 324px,#85ff2f 330px,#96ff1e 332px,#b6ff00 336px,#f0ff00 348px,#ff0 352px,#ff9e00 384px,#ff4700 424px,#ff1700 456px,#ff0800 472px,#f00 490px,#f20000 564px,#c20000 720px,#af0000 852px,#a50000 1120px,#a20000 1661px)"></i><i style="background:linear-gradient(90deg,#ffd200 0px,#ff0 42px,#d7ff00 60px,#b2ff00 74px,#86ff2e 84px,#3fff59 96px,#18ff5a 98px,#00ff5d 100px,#00ffb0 124px,#0ff 142px,#00f9ff 144px,#0031ff 188px,#000aff 200px,#00f 206px,#0000f2 216px,#0000ef 224px,#0000f3 232px,#00f 240px,#0008ff 244px,#0024ff 252px,#0048ff 260px,#00f9ff 294px,#00fffa 296px,#00ff5a 324px,#40ff58 326px,#82ff32 332px,#b3ff00 338px,#ff0 354px,#ffc700 372px,#ff9c00 388px,#ff4600 428px,#ff2500 448px,#ff1200 464px,#f00 494px,#f30000 568px,#c20000 728px,#af0000 860px,#a50000 1128px,#a20000 1661px)"></i><i style="background:linear-gradient(90deg,#ffd600 0px,#ff0 40px,#e0ff00 56px,#b1ff00 74px,#86ff2e 84px,#3fff58 96px,#1cff5a 98px,#00ff5c 100px,#00ffae 124px,#0ff 144px,#002dff 192px,#0013ff 200px,#00f 210px,#0000f2 224px,#0000f4 232px,#00f 240px,#0013ff 248px,#0043ff 260px,#00faff 296px,#00fff9 298px,#00ff5c 326px,#3dff59 328px,#90ff24 336px,#afff05 340px,#bf0 342px,#ff0 356px,#fffa00 358px,#f90 392px,#ff4500 432px,#ff1600 464px,#ff0800 480px,#f00 498px,#f20000 576px,#c20000 732px,#b00000 864px,#a60000 1128px,#a20000 1661px)"></i><i style="background:linear-gradient(90deg,#ffd900 0px,#ff0 40px,#dfff00 56px,#b7ff00 72px,#b0ff04 74px,#86ff2e 84px,#40ff58 96px,#00ff5c 100px,#00ff9d 120px,#0ff 144px,#00faff 146px,#0038ff 192px,#0012ff 204px,#00f 214px,#0000f5 228px,#00f 240px,#01f 248px,#003fff 260px,#00fbff 298px,#00fff8 300px,#00ff5d 328px,#35ff5a 330px,#50ff4f 332px,#7aff36 336px,#9cff18 340px,#acff08 342px,#b9ff00 344px,#f2ff00 356px,#ff0 360px,#ffc000 380px,#ff9700 396px,#f40 436px,#ff1600 468px,#f00 502px,#f20000 580px,#c30000 736px,#b00000 872px,#a60000 1136px,#a20000 1661px)"></i><i style="background:linear-gradient(90deg,#ffdc00 0px,#ff0 40px,#deff00 56px,#b7ff00 72px,#b0ff04 74px,#86ff2e 84px,#42ff57 96px,#25ff5a 98px,#00ff5b 100px,#00ffa9 124px,#0ff 146px,#0035ff 196px,#0012ff 208px,#00f 220px,#0000f8 232px,#00f 240px,#001dff 252px,#004eff 264px,#0ff 300px,#00fff7 302px,#00ff5f 330px,#2aff5a 332px,#4cff51 334px,#89ff2b 340px,#b7ff00 346px,#ff0 362px,#ff9e00 396px,#ff4a00 436px,#ff1500 472px,#f00 506px,#f20000 584px,#c30000 744px,#b10000 876px,#a60000 1140px,#a30000 1661px)"></i><i style="background:linear-gradient(90deg,#ffdf00 0px,#ff0 38px,#e6ff00 52px,#b6ff00 72px,#86ff2e 84px,#43ff56 96px,#2bff5a 98px,#00ff5a 100px,#00ffa7 124px,#0ff 148px,#03f 200px,#0013ff 212px,#00f 224px,#00f 240px,#001bff 252px,#004aff 264px,#0ff 302px,#00ff60 332px,#1eff5a 334px,#49ff53 336px,#96ff1e 344px,#b5ff00 348px,#ff0 364px,#ff9c00 400px,#ff4900 440px,#ff1500 476px,#f00 510px,#f20000 592px,#c30000 748px,#b10000 884px,#a70000 1144px,#a30000 1661px)"></i><i style="background:linear-gradient(90deg,#ffe200 0px,#ff0 38px,#e5ff00 52px,#b6ff00 72px,#87ff2d 84px,#45ff55 96px,#31ff5a 98px,#08ff5a 100px,#00ff5f 102px,#00ffb2 128px,#0ff 148px,#00f9ff 150px,#005bff 192px,#0032ff 204px,#000cff 220px,#00f 232px,#0008ff 244px,#0027ff 256px,#0058ff 268px,#0ff 304px,#00ff62 334px,#14ff5a 336px,#45ff55 338px,#83ff31 344px,#b1ff00 350px,#fbff00 366px,#ff0 368px,#ffc100 388px,#f90 404px,#ff4800 444px,#ff1500 480px,#f00 514px,#f20000 596px,#c30000 756px,#b10000 888px,#a70000 1148px,#a30000 1661px)"></i><i style="background:linear-gradient(90deg,#ffe500 0px,#ff0 38px,#e4ff00 52px,#b6ff00 72px,#87ff2d 84px,#47ff54 96px,#39ff5a 98px,#10ff5a 100px,#00ff5d 102px,#00ffa2 124px,#0ff 150px,#06f 192px,#0031ff 208px,#000eff 224px,#0005ff 236px,#0010ff 248px,#03f 260px,#0ff 306px,#00ff63 336px,#08ff5a 338px,#42ff57 340px,#8fff25 348px,#adff07 352px,#b9ff00 354px,#f9ff00 368px,#ff0 370px,#ffc900 388px,#ff9700 408px,#ff4700 448px,#ff1500 484px,#f00 518px,#f20000 600px,#c40000 760px,#b10000 896px,#a70000 1152px,#a30000 1661px)"></i><i style="background:linear-gradient(90deg,#ffe600 0px,#ff0 36px,#e4ff00 52px,#b6ff00 72px,#7fff34 86px,#3dff59 98px,#19ff5a 100px,#00ff5c 102px,#00ff9f 124px,#00fbff 152px,#0063ff 196px,#0031ff 212px,#0010ff 228px,#0009ff 240px,#01f 248px,#0032ff 260px,#0ff 308px,#00ff5a 340px,#3eff59 342px,#7bff36 348px,#9bff19 352px,#b7ff00 356px,#ff0 372px,#fffa00 374px,#ff9e00 408px,#ff4600 452px,#ff1400 488px,#f00 522px,#f30000 604px,#c40000 768px,#b20000 900px,#a80000 1156px,#a40000 1661px)"></i><i style="background:linear-gradient(90deg,#ffe800 0px,#ff0 36px,#e4ff00 52px,#b7ff00 72px,#81ff33 86px,#40ff58 98px,#00ff5b 102px,#0fa 128px,#0ff 152px,#00faff 154px,#003cff 212px,#0019ff 228px,#000eff 240px,#0013ff 248px,#0030ff 260px,#005eff 272px,#0ff 310px,#00ff5c 342px,#38ff5a 344px,#88ff2c 352px,#b4ff00 358px,#f3ff00 372px,#ff0 376px,#ff9c00 412px,#ff4500 456px,#ff1400 492px,#f00 526px,#f20000 612px,#c40000 772px,#b20000 908px,#a80000 1164px,#a40000 1661px)"></i><i style="background:linear-gradient(90deg,#ffea00 0px,#ff0 36px,#dbff00 56px,#b1ff00 74px,#82ff32 86px,#43ff56 98px,#2cff5a 100px,#05ff5a 102px,#00ff5f 104px,#00ffa7 128px,#0ff 154px,#003cff 216px,#001bff 232px,#0014ff 244px,#001cff 252px,#003cff 264px,#0ff 312px,#00ff5e 344px,#2bff5a 346px,#4bff51 348px,#94ff20 356px,#b1ff00 360px,#ff0 378px,#ffcb00 396px,#ff9a00 416px,#f40 460px,#ff1400 496px,#f00 530px,#f20000 616px,#c50000 776px,#b30000 912px,#a80000 1164px,#a40000 1661px)"></i><i style="background:linear-gradient(90deg,#ffeb00 0px,#ff0 36px,#e3ff00 52px,#b1ff00 74px,#84ff30 86px,#45ff55 98px,#37ff5a 100px,#10ff5a 102px,#00ff5d 104px,#00ffa4 128px,#0ff 156px,#0047ff 216px,#0024ff 232px,#001aff 244px,#001fff 252px,#003bff 264px,#0ff 314px,#00ff5f 346px,#20ff5a 348px,#48ff53 350px,#82ff32 356px,#9fff15 360px,#adff07 362px,#b9ff00 364px,#ff0 380px,#fffa00 382px,#ffc800 400px,#ff9800 420px,#f40 464px,#ff1400 500px,#f00 534px,#f20000 620px,#c50000 784px,#b30000 916px,#a90000 1168px,#a40000 1661px)"></i><i style="background:linear-gradient(90deg,#ffec00 0px,#ff0 34px,#e3ff00 52px,#b2ff00 74px,#85ff2f 86px,#3eff59 100px,#00ff5b 104px,#00fbff 158px,#0047ff 220px,#0027ff 236px,#0020ff 248px,#0028ff 256px,#0047ff 268px,#00faff 314px,#0ff 316px,#00ff61 348px,#14ff5a 350px,#4f5 352px,#7dff35 358px,#aaff0a 364px,#b6ff00 366px,#f3ff00 380px,#ff0 384px,#ff9f00 420px,#ff4900 464px,#ff1300 504px,#f00 538px,#f30000 624px,#c50000 788px,#b30000 924px,#a90000 1172px,#a50000 1661px)"></i><i style="background:linear-gradient(90deg,#ffed00 0px,#ff0 34px,#e3ff00 52px,#b3ff00 74px,#7eff34 88px,#41ff57 100px,#28ff5a 102px,#00ff5a 104px,#00ff9e 128px,#0ff 158px,#00faff 160px,#0048ff 224px,#0030ff 236px,#0025ff 248px,#002aff 256px,#0046ff 268px,#00fbff 316px,#00fffb 318px,#00ff62 350px,#08ff5a 352px,#40ff58 354px,#79ff37 360px,#98ff1c 364px,#b3ff00 368px,#ff0 386px,#fc0 404px,#ff9d00 424px,#ff4800 468px,#ff1300 508px,#f00 542px,#f20000 632px,#c50000 796px,#b40000 928px,#a90000 1176px,#a50000 1661px)"></i><i style="background:linear-gradient(90deg,#ffef00 0px,#ff0 34px,#e3ff00 52px,#b4ff00 74px,#81ff33 88px,#45ff55 100px,#35ff5a 102px,#10ff5a 104px,#00ff5d 106px,#00ffa7 132px,#0ff 160px,#00f9ff 162px,#009bff 196px,#0049ff 228px,#03f 240px,#002cff 252px,#03f 260px,#0051ff 272px,#00fbff 318px,#00fffa 320px,#00ff5b 354px,#3cff5a 356px,#86ff2e 364px,#b0ff04 370px,#baff00 372px,#ff0 388px,#fffa00 390px,#ff9b00 428px,#ff4800 472px,#ff1300 512px,#f00 546px,#f20000 636px,#c50000 800px,#b40000 936px,#a00 1180px,#a50000 1661px)"></i><i style="background:linear-gradient(90deg,#fff000 0px,#ff0 34px,#e4ff00 52px,#b5ff00 74px,#83ff31 88px,#3eff59 102px,#00ff5b 106px,#00ff98 128px,#0ff 162px,#00adff 192px,#0054ff 228px,#003cff 240px,#0032ff 252px,#0036ff 260px,#0050ff 272px,#0ff 320px,#00fff1 324px,#00ff5c 356px,#30ff5a 358px,#4bff51 360px,#90ff24 368px,#acff08 372px,#b7ff00 374px,#ff0 392px,#ffc700 412px,#f90 432px,#ff4700 476px,#ff1300 516px,#f00 550px,#f30000 640px,#c60000 804px,#b40000 940px,#a00 1184px,#a50000 1661px)"></i><i style="background:linear-gradient(90deg,#fff100 0px,#ff0 34px,#e4ff00 52px,#b6ff00 74px,#85ff2f 88px,#42ff57 102px,#2cff5a 104px,#08ff5a 106px,#00ff5e 108px,#0ff 164px,#0af 196px,#05f 232px,#0040ff 244px,#0038ff 256px,#003fff 264px,#005bff 276px,#0ff 322px,#00ff5e 358px,#47ff54 362px,#8cff28 370px,#b5ff00 376px,#ff0 394px,#ffa000 432px,#ff6f00 456px,#ff4600 480px,#ff1300 520px,#f00 554px,#f30000 644px,#c60000 812px,#b50000 944px,#ab0000 1184px,#a60000 1661px)"></i><i style="background:linear-gradient(90deg,#fff200 0px,#fbff00 36px,#df0 56px,#b2ff00 76px,#80ff33 90px,#3bff5a 104px,#17ff5a 106px,#00ff5c 108px,#0ff 166px,#00b1ff 196px,#005fff 232px,#0049ff 244px,#003eff 256px,#0042ff 264px,#005aff 276px,#00b6ff 304px,#0ff 324px,#00ff60 360px,#17ff5a 362px,#43ff56 364px,#79ff37 370px,#a4ff10 376px,#b1ff00 378px,#bf0 380px,#ff0 396px,#fffb00 398px,#ff9e00 436px,#ff4500 484px,#ff1300 524px,#f00 558px,#f20000 652px,#c60000 816px,#b50000 952px,#ab0000 1192px,#a60000 1661px)"></i><i style="background:linear-gradient(90deg,#fff300 0px,#fbff00 36px,#e5ff00 52px,#b3ff00 76px,#83ff31 90px,#40ff58 104px,#26ff5a 106px,#04ff5a 108px,#0ff 168px,#00aeff 200px,#0060ff 236px,#004cff 248px,#04f 260px,#004aff 268px,#0065ff 280px,#00b1ff 304px,#0ff 326px,#00ff61 362px,#0bff5a 364px,#40ff58 366px,#93ff21 376px,#adff07 380px,#b8ff00 382px,#ff0 400px,#ffc900 420px,#ff9c00 440px,#ff4b00 484px,#ff1600 524px,#f00 562px,#f30000 656px,#c60000 824px,#b60000 956px,#ab0000 1196px,#a60000 1661px)"></i><i style="background:linear-gradient(90deg,#fff400 0px,#fbff00 36px,#e5ff00 52px,#b5ff00 76px,#85ff2f 90px,#4f5 104px,#36ff5a 106px,#14ff5a 108px,#00ff5c 110px,#0ff 170px,#00b5ff 200px,#0072ff 232px,#05f 248px,#004aff 260px,#004dff 268px,#0064ff 280px,#00adff 304px,#0ff 328px,#00ff5a 366px,#3bff5a 368px,#8fff25 378px,#b5ff00 384px,#ff0 402px,#fffa00 404px,#ff9a00 444px,#ff4a00 488px,#ff1600 528px,#f00 566px,#f30000 660px,#c70000 828px,#b60000 960px,#ac0000 1196px,#a60000 1661px)"></i><i style="background:linear-gradient(90deg,#fff400 0px,#ff0 36px,#e6ff00 52px,#b6ff00 76px,#80ff33 92px,#3fff58 106px,#25ff5a 108px,#00ff5a 110px,#0ff 172px,#00b2ff 204px,#0073ff 236px,#0058ff 252px,#004fff 264px,#05f 272px,#006eff 284px,#00b5ff 308px,#0ff 330px,#00ff5c 368px,#2dff5a 370px,#49ff52 372px,#8bff29 380px,#b2ff00 386px,#ecff00 400px,#ff0 406px,#ffa100 444px,#ff4900 492px,#ff1600 532px,#f00 570px,#f20000 668px,#c70000 832px,#b70000 964px,#ac0000 1200px,#a70000 1661px)"></i><i style="background:linear-gradient(90deg,#fff400 0px,#ff0 36px,#dfff00 56px,#b2ff00 78px,#83ff31 92px,#44ff56 106px,#35ff5a 108px,#14ff5a 110px,#00ff5c 112px,#0ff 174px,#00b8ff 204px,#0082ff 232px,#0061ff 252px,#0056ff 264px,#0058ff 272px,#006dff 284px,#00b1ff 308px,#0ff 332px,#00ff5e 370px,#45ff55 374px,#87ff2d 382px,#aeff06 388px,#b8ff00 390px,#ff0 408px,#ff9f00 448px,#ff4900 496px,#ff1600 536px,#f00 574px,#f30000 672px,#c70000 840px,#b70000 972px,#ac0000 1204px,#a70000 1661px)"></i><i style="background:linear-gradient(90deg,#fff400 0px,#ff0 36px,#e7ff00 52px,#b4ff00 78px,#7fff34 94px,#3fff58 108px,#25ff5a 110px,#04ff5a 112px,#00ff5e 114px,#0ff 176px,#00beff 204px,#008aff 232px,#0064ff 256px,#005bff 268px,#0060ff 276px,#0076ff 288px,#00adff 308px,#0ff 334px,#00ff5f 372px,#14ff5a 374px,#41ff57 376px,#83ff31 384px,#9dff17 388px,#b5ff00 392px,#ff0 410px,#fffb00 412px,#ff9d00 452px,#ff4800 500px,#ff1600 540px,#f00 578px,#f30000 676px,#c80000 844px,#b70000 976px,#ad0000 1208px,#a70000 1661px)"></i><i style="background:linear-gradient(90deg,#fff400 0px,#ff0 36px,#e8ff00 52px,#b6ff00 78px,#82ff32 94px,#4f5 108px,#37ff5a 110px,#17ff5a 112px,#00ff5c 114px,#0ff 178px,#00bcff 208px,#008aff 236px,#0067ff 260px,#0061ff 272px,#0067ff 280px,#007fff 292px,#00b5ff 312px,#0ff 336px,#00ff61 374px,#07ff5a 376px,#3dff59 378px,#8cff28 388px,#b2ff00 394px,#ff0 414px,#ffd000 432px,#ff9c00 456px,#ff4700 504px,#ff1600 544px,#f00 582px,#f30000 680px,#c80000 848px,#b80000 980px,#ad0000 1208px,#a70000 1661px)"></i><i style="background:linear-gradient(90deg,#fff300 0px,#ff0 36px,#e2ff00 56px,#b3ff00 80px,#7eff34 96px,#40ff58 110px,#29ff5a 112px,#08ff5a 114px,#00ff5d 116px,#0ff 180px,#00c2ff 208px,#0097ff 232px,#0073ff 256px,#06f 272px,#006fff 284px,#0087ff 296px,#00bcff 316px,#0ff 336px,#00fffb 338px,#00ff5b 378px,#33ff5a 380px,#4aff52 382px,#88ff2c 390px,#aeff06 396px,#b8ff00 398px,#ff0 416px,#fffa00 418px,#ffce00 436px,#ff9a00 460px,#ff4700 508px,#ff1500 548px,#f00 586px,#f20000 688px,#c80000 856px,#b80000 984px,#ae0000 1212px,#a80000 1661px)"></i><i style="background:linear-gradient(90deg,#fff200 0px,#ff0 36px,#e3ff00 56px,#b5ff00 80px,#82ff32 96px,#3cff5a 112px,#00ff5b 116px,#0ff 182px,#00c0ff 212px,#0097ff 236px,#0075ff 260px,#006bff 276px,#0076ff 288px,#008fff 300px,#00b8ff 316px,#0ff 338px,#00ff5c 380px,#46ff54 384px,#85ff2f 392px,#b5ff00 400px,#ff0 420px,#ffa000 460px,#ff4c00 508px,#ff1500 552px,#f00 590px,#f30000 692px,#c80000 860px,#b90000 988px,#ae0000 1216px,#a80000 1661px)"></i><i style="background:linear-gradient(90deg,#fff100 0px,#ff0 36px,#e4ff00 56px,#b2ff00 82px,#7eff34 98px,#41ff57 112px,#2fff5a 114px,#10ff5a 116px,#00ff5c 118px,#0ff 184px,#00c5ff 212px,#009cff 236px,#007cff 260px,#0070ff 276px,#0078ff 288px,#008dff 300px,#00b5ff 316px,#0ff 340px,#00ff5e 382px,#19ff5a 384px,#42ff57 386px,#80ff33 394px,#b1ff00 402px,#ff0 422px,#ffd200 440px,#ff9f00 464px,#ff4b00 512px,#ff1500 556px,#f00 594px,#f30000 696px,#c80000 868px,#b90000 996px,#af0000 1220px,#a80000 1661px)"></i><i style="background:linear-gradient(90deg,#fff000 0px,#ff0 36px,#e5ff00 56px,#b4ff00 82px,#82ff32 98px,#3eff59 114px,#04ff5a 118px,#00ff5e 120px,#0ff 186px,#00c3ff 216px,#009cff 240px,#007eff 264px,#0075ff 280px,#007eff 292px,#0094ff 304px,#00bcff 320px,#0ff 342px,#00ff60 384px,#0cff5a 386px,#3eff59 388px,#89ff2b 398px,#adff07 404px,#b7ff00 406px,#ff0 424px,#ff0 426px,#ffd000 444px,#ff9d00 468px,#ff4b00 516px,#ff1500 560px,#f00 598px,#f30000 700px,#c90000 872px,#b90000 1000px,#af0000 1224px,#a80000 1661px)"></i><i style="background:linear-gradient(90deg,#fff000 0px,#ff0 38px,#e6ff00 56px,#b6ff00 82px,#7fff34 100px,#44ff56 114px,#38ff5a 116px,#00ff5b 120px,#0ff 188px,#00c8ff 216px,#00a1ff 240px,#0083ff 264px,#0079ff 280px,#007fff 292px,#0092ff 304px,#00b9ff 320px,#0ff 344px,#00ff5a 388px,#35ff5a 390px,#49ff52 392px,#85ff2f 400px,#b4ff00 408px,#ff0 428px,#ffce00 448px,#ff9c00 472px,#ff4a00 520px,#ff1500 564px,#f00 602px,#f30000 708px,#c90000 876px,#ba0000 1004px,#af0000 1224px,#a90000 1661px)"></i><i style="background:linear-gradient(90deg,#ffef00 0px,#ff0 38px,#e7ff00 56px,#b4ff00 84px,#83ff31 100px,#41ff57 116px,#2eff5a 118px,#0fff5a 120px,#00ff5c 122px,#0ff 190px,#00c6ff 220px,#00a0ff 244px,#0084ff 268px,#007cff 284px,#0084ff 296px,#09f 308px,#0ff 346px,#00ff5c 390px,#28ff5a 392px,#45ff55 394px,#81ff33 402px,#b0ff04 410px,#b9ff00 412px,#ff0 430px,#fffb00 432px,#fc0 452px,#ff9a00 476px,#ff4900 524px,#ff1500 568px,#f00 606px,#f30000 712px,#c90000 884px,#ba0000 1008px,#b00000 1228px,#a90000 1661px)"></i><i style="background:linear-gradient(90deg,#fe0 0px,#ff0 38px,#e8ff00 56px,#b6ff00 84px,#80ff33 102px,#3eff59 118px,#06ff5a 122px,#00ff5d 124px,#0ff 192px,#0ff 194px,#00cbff 220px,#00a5ff 244px,#0089ff 268px,#0080ff 284px,#0085ff 296px,#0098ff 308px,#00beff 324px,#0ff 346px,#0ff 348px,#00ff5d 392px,#1bff5a 394px,#41ff57 396px,#89ff2b 406px,#b6ff00 414px,#ff0 434px,#ffca00 456px,#f90 480px,#ff4900 528px,#ff1500 572px,#f00 610px,#f30000 716px,#ca0000 888px,#b00 1012px,#b00000 1232px,#a90000 1661px)"></i><i style="background:linear-gradient(90deg,#ffed00 0px,#ff0 40px,#e3ff00 60px,#b4ff00 86px,#84ff30 102px,#4f5 118px,#3aff5a 120px,#00ff5a 124px,#0ff 196px,#00c3ff 228px,#009fff 252px,#0089ff 272px,#0083ff 288px,#008bff 300px,#00a0ff 312px,#00c5ff 328px,#0ff 348px,#00ff5f 394px,#0eff5a 396px,#3dff59 398px,#85ff2f 408px,#b3ff00 416px,#ff0 436px,#fffb00 438px,#ffc800 460px,#ff9700 484px,#ff4800 532px,#ff1500 576px,#f00 614px,#f40000 716px,#cd0000 876px,#b00 1016px,#b10000 1232px,#a90000 1661px)"></i><i style="background:linear-gradient(90deg,#ffec00 0px,#ff0 40px,#e4ff00 60px,#b6ff00 86px,#82ff32 104px,#42ff57 120px,#32ff5a 122px,#15ff5a 124px,#00ff5b 126px,#0ff 198px,#00c7ff 228px,#00a4ff 252px,#008dff 272px,#0086ff 288px,#008cff 300px,#009fff 312px,#00c3ff 328px,#0ff 350px,#00ff5a 398px,#33ff5a 400px,#48ff53 402px,#81ff33 410px,#afff05 418px,#b8ff00 420px,#ff0 440px,#ffce00 460px,#ff9e00 484px,#ff4d00 532px,#ff1800 576px,#ff0900 596px,#f00 618px,#f40000 720px,#cd0000 880px,#bc0000 1020px,#b10000 1236px,#a00 1661px)"></i><i style="background:linear-gradient(90deg,#ffeb00 0px,#ff0 42px,#e6ff00 60px,#b4ff00 88px,#7fff34 106px,#40ff58 122px,#2bff5a 124px,#0eff5a 126px,#00ff5c 128px,#0ff 200px,#0cf 228px,#00a8ff 252px,#0091ff 272px,#0089ff 288px,#008eff 300px,#009fff 312px,#00c1ff 328px,#0ff 352px,#00ff5b 400px,#26ff5a 402px,#44ff56 404px,#89ff2b 414px,#b5ff00 422px,#ff0 442px,#fffb00 444px,#ff9c00 488px,#ff4d00 536px,#ff1800 580px,#ff0900 600px,#f00 622px,#f40000 728px,#cd0000 888px,#bc0000 1024px,#b20000 1240px,#a00 1661px)"></i><i style="background:linear-gradient(90deg,#ffea00 0px,#ff0 42px,#e1ff00 64px,#b2ff00 90px,#84ff30 106px,#3eff59 124px,#08ff5a 128px,#00ff5d 130px,#00fff1 196px,#0ff 204px,#00adff 252px,#0096ff 272px,#008dff 288px,#0090ff 300px,#009fff 312px,#00bfff 328px,#00fbff 352px,#00fff6 356px,#00ff5d 402px,#1aff5a 404px,#40ff58 406px,#85ff2f 416px,#b1ff00 424px,#ff0 446px,#ffca00 468px,#ff9b00 492px,#ff4c00 540px,#ff1800 584px,#f00 626px,#f40000 732px,#ce0000 892px,#bc0000 1032px,#b20000 1244px,#a00 1661px)"></i><i style="background:linear-gradient(90deg,#ffe900 0px,#ff0 44px,#e2ff00 64px,#b5ff00 90px,#82ff32 108px,#3bff5a 126px,#00ff5a 130px,#0ff 206px,#00acff 256px,#0097ff 276px,#0090ff 292px,#0096ff 304px,#00a6ff 316px,#00c6ff 332px,#0ff 354px,#00ff5f 404px,#0dff5a 406px,#3cff5a 408px,#8cff28 420px,#b6ff00 428px,#ff0 448px,#fffa00 450px,#ffc800 472px,#f90 496px,#ff4c00 544px,#ff1800 588px,#f00 630px,#f40000 736px,#cd0000 900px,#bd0000 1036px,#b20000 1248px,#a00 1661px)"></i><i style="background:linear-gradient(90deg,#ffe700 0px,#ff0 44px,#e4ff00 64px,#b3ff00 92px,#80ff33 110px,#42ff56 126px,#36ff5a 128px,#00ff5a 132px,#0ff 208px,#00ceff 236px,#00abff 260px,#009bff 276px,#0093ff 292px,#0098ff 304px,#00adff 320px,#00cdff 336px,#0ff 356px,#00ff5a 408px,#30ff5a 410px,#46ff54 412px,#88ff2c 422px,#b3ff00 430px,#ff0 452px,#ffa000 496px,#ff4b00 548px,#ff1800 592px,#f00 634px,#f40000 744px,#ce0000 904px,#bd0000 1040px,#b30000 1252px,#ab0000 1661px)"></i><i style="background:linear-gradient(90deg,#ffe600 0px,#ff0 46px,#e5ff00 64px,#b6ff00 92px,#85ff2f 110px,#41ff57 128px,#32ff5a 130px,#00ff5b 134px,#00fff2 204px,#0ff 212px,#00cdff 240px,#00abff 264px,#009cff 280px,#0097ff 296px,#009dff 308px,#00adff 320px,#00cbff 336px,#0ff 358px,#00ff5b 410px,#42ff57 414px,#84ff30 424px,#afff05 432px,#b8ff00 434px,#ff0 454px,#ffd500 472px,#ff9e00 500px,#ff4b00 552px,#ff1800 596px,#f00 638px,#f40000 748px,#ce0000 908px,#be0000 1044px,#b30000 1256px,#ab0000 1661px)"></i><i style="background:linear-gradient(90deg,#ffe500 0px,#ff0 46px,#e1ff00 68px,#b4ff00 94px,#83ff31 112px,#40ff58 130px,#00ff5b 136px,#0ff 214px,#00cbff 244px,#00b0ff 264px,#00a1ff 280px,#009bff 296px,#009fff 308px,#00adff 320px,#00caff 336px,#0ff 358px,#00ffe5 368px,#00ff5d 412px,#17ff5a 414px,#3eff59 416px,#80ff33 426px,#b5ff00 436px,#ff0 458px,#ffd400 476px,#ff9d00 504px,#ff4a00 556px,#ff1800 600px,#f00 642px,#f40000 752px,#ce0000 916px,#be0000 1048px,#b40000 1256px,#ab0000 1661px)"></i><i style="background:linear-gradient(90deg,#ffe300 0px,#ff0 48px,#e2ff00 68px,#b3ff00 96px,#82ff32 114px,#3fff58 132px,#0fff5a 136px,#00ff5c 138px,#0ff 216px,#00b5ff 264px,#00a5ff 280px,#009eff 296px,#00a1ff 308px,#00b3ff 324px,#00d1ff 340px,#0ff 360px,#00ff5f 414px,#0bff5a 416px,#37ff5a 418px,#87ff2d 430px,#b1ff00 438px,#b9ff00 440px,#ff0 460px,#ffa300 504px,#ff4f00 556px,#ff1800 604px,#f00 646px,#f40000 756px,#cf0000 920px,#bf0000 1052px,#b40000 1260px,#ac0000 1661px)"></i><i style="background:linear-gradient(90deg,#ffe200 0px,#ff0 48px,#e4ff00 68px,#b6ff00 96px,#80ff33 116px,#3eff59 134px,#0cff5a 138px,#00ff5c 140px,#00ffea 208px,#0ff 220px,#00cfff 248px,#00b5ff 268px,#00a7ff 284px,#00a2ff 300px,#00a6ff 312px,#00b4ff 324px,#00d0ff 340px,#0ff 362px,#00ff5a 418px,#2aff5a 420px,#43ff56 422px,#83ff31 432px,#b6ff00 442px,#f5ff00 460px,#ff0 464px,#ffd000 484px,#ff9b00 512px,#ff4900 564px,#ff1400 612px,#f00 652px,#f40000 764px,#cf0000 924px,#bf0000 1056px,#b40000 1264px,#ac0000 1661px)"></i><i style="background:linear-gradient(90deg,#ffe000 0px,#ff0 50px,#b5ff00 98px,#7fff34 118px,#3dff59 136px,#0bff5a 140px,#00ff5c 142px,#0ff 222px,#00baff 268px,#00abff 284px,#00a5ff 300px,#00a9ff 312px,#00b5ff 324px,#00cfff 340px,#0ff 362px,#00ffdb 376px,#00ff5c 420px,#40ff58 424px,#7eff34 434px,#b2ff00 444px,#ff0 466px,#ffce00 488px,#f90 516px,#ff4900 568px,#ff1400 616px,#f00 656px,#f40000 768px,#d00000 928px,#c00000 1060px,#b50000 1268px,#ac0000 1661px)"></i><i style="background:linear-gradient(90deg,#ffdf00 0px,#ff0 52px,#b4ff00 100px,#7eff34 120px,#3dff5a 138px,#09ff5a 142px,#00ff5d 144px,#00ffe7 212px,#0ff 226px,#0bf 272px,#00adff 288px,#00a9ff 304px,#00aeff 316px,#0bf 328px,#0ff 364px,#00ff5d 422px,#12ff5a 424px,#3cff5a 426px,#85ff2f 438px,#b7ff00 448px,#ff0 468px,#ff0 470px,#fc0 492px,#ff9800 520px,#ff4800 572px,#ff1400 620px,#f00 660px,#f40000 772px,#d00000 936px,#c00000 1064px,#b50000 1268px,#ac0000 1661px)"></i><i style="background:linear-gradient(90deg,#fd0 0px,#ff0 52px,#b3ff00 102px,#84ff30 120px,#3cff5a 140px,#09ff5a 144px,#00ff5d 146px,#0ff 228px,#00bfff 272px,#00b2ff 288px,#00adff 304px,#00b1ff 316px,#00bcff 328px,#00d5ff 344px,#0ff 364px,#00ffd9 380px,#00ff5f 424px,#07ff5a 426px,#30ff5a 428px,#4f5 430px,#81ff32 440px,#b4ff00 450px,#ff0 472px,#ffd300 492px,#ff9e00 520px,#ff4d00 572px,#ff1800 620px,#f00 664px,#f40000 776px,#d00000 940px,#c00000 1068px,#b60000 1272px,#ad0000 1661px)"></i><i style="background:linear-gradient(90deg,#ffdc00 0px,#ff0 54px,#b6ff00 102px,#83ff31 122px,#3cff5a 142px,#08ff5a 146px,#00ff5d 148px,#00ffe4 216px,#0ff 232px,#00c4ff 272px,#00b7ff 288px,#00b1ff 304px,#00b4ff 316px,#00c3ff 332px,#0ff 366px,#00ff5b 428px,#41ff57 432px,#87ff2d 444px,#afff05 452px,#b8ff00 454px,#ff0 474px,#ff0 476px,#ffd100 496px,#ff9d00 524px,#ff4d00 576px,#ff1800 624px,#f00 668px,#f40000 784px,#d10000 944px,#c10000 1072px,#b60000 1276px,#ad0000 1661px)"></i><i style="background:linear-gradient(90deg,#ffda00 0px,#ff0 56px,#b5ff00 104px,#82ff32 124px,#3cff5a 144px,#09ff5a 148px,#00ff5d 150px,#0ff 234px,#00c5ff 276px,#00b9ff 292px,#00b5ff 308px,#00b9ff 320px,#00c4ff 332px,#0ff 368px,#00ff5c 430px,#18ff5a 432px,#3dff59 434px,#84ff30 446px,#b5ff00 456px,#ff0 478px,#ffcf00 500px,#ff9c00 528px,#ff4c00 580px,#ff1800 628px,#f00 672px,#f40000 788px,#d00000 952px,#c10000 1076px,#b60000 1280px,#ad0000 1661px)"></i><i style="background:linear-gradient(90deg,#ffd800 0px,#ff0 56px,#b4ff00 106px,#82ff32 126px,#3cff5a 146px,#09ff5a 150px,#00ff5c 152px,#00ffd9 216px,#0ff 238px,#00caff 276px,#00bdff 292px,#00b8ff 308px,#00c6ff 332px,#0ff 368px,#00ffd0 388px,#00ff5e 432px,#0dff5a 434px,#34ff5a 436px,#45ff55 438px,#7fff34 448px,#b0ff04 458px,#b8ff00 460px,#ff0 482px,#ffce00 504px,#ff9b00 532px,#ff4c00 584px,#ff1800 632px,#f00 676px,#f40000 792px,#d10000 956px,#c20000 1084px,#b70000 1284px,#ad0000 1661px)"></i><i style="background:linear-gradient(90deg,#ffd600 0px,#ffe600 28px,#ff0 58px,#b4ff00 108px,#81ff32 128px,#3cff5a 148px,#0aff5a 152px,#00ff5c 154px,#0ff 240px,#00cbff 280px,#00bcff 308px,#00bfff 320px,#0cf 336px,#0ff 370px,#00ff5a 436px,#28ff5a 438px,#41ff57 440px,#85ff2f 452px,#b5ff00 462px,#ff0 484px,#ffd400 504px,#ffa100 532px,#ff4c00 588px,#ff1800 636px,#f00 680px,#f40000 800px,#d10000 960px,#c20000 1088px,#b70000 1288px,#ae0000 1661px)"></i><i style="background:linear-gradient(90deg,#ffd400 0px,#ffe500 28px,#ff0 60px,#b3ff00 110px,#81ff33 130px,#3dff5a 150px,#0cff5a 154px,#00ff5c 156px,#00ffd6 220px,#0ff 244px,#00d0ff 280px,#00c4ff 296px,#00c0ff 312px,#00cdff 336px,#0ff 370px,#00ffc4 396px,#00ff5b 438px,#3eff59 442px,#82ff32 454px,#b1ff00 464px,#ff0 488px,#ffd200 508px,#f90 540px,#ff4b00 592px,#ff1800 640px,#f00 684px,#f40000 804px,#d10000 968px,#c20000 1092px,#b80000 1288px,#ae0000 1661px)"></i><i style="background:linear-gradient(90deg,#ffd200 0px,#ffe200 28px,#ff0 62px,#b2ff00 112px,#81ff33 132px,#3dff59 152px,#0eff5a 156px,#00ff5c 158px,#00ffd8 224px,#0ff 248px,#00d1ff 284px,#00c4ff 312px,#00cfff 336px,#0ff 370px,#00ffd2 392px,#00ff5d 440px,#11ff5a 442px,#36ff5a 444px,#45ff55 446px,#87ff2d 458px,#b6ff00 468px,#ff0 490px,#ffd100 512px,#ff9e00 540px,#ff4b00 596px,#ff1800 644px,#f00 688px,#f40000 808px,#d20000 972px,#c30000 1096px,#b80000 1292px,#ae0000 1661px)"></i><i style="background:linear-gradient(90deg,#ffcf00 0px,#ffe000 28px,#ff0 62px,#b6ff00 112px,#81ff33 134px,#3eff59 154px,#11ff5a 158px,#00ff5b 160px,#0ff 250px,#00d6ff 284px,#00c8ff 312px,#00caff 324px,#00d5ff 340px,#0ff 372px,#00ffc3 400px,#00ff5e 442px,#06ff5a 444px,#2aff5a 446px,#42ff57 448px,#84ff30 460px,#b2ff00 470px,#ff0 494px,#ffcf00 516px,#ff9d00 544px,#ff4a00 600px,#ff1800 648px,#f00 692px,#f40000 812px,#d20000 976px,#c30000 1100px,#b90000 1296px,#af0000 1661px)"></i><i style="background:linear-gradient(90deg,#fc0 0px,#ffde00 28px,#ff0 64px,#b6ff00 114px,#81ff33 136px,#3eff59 156px,#00ff5b 162px,#00ffd5 228px,#0ff 254px,#00d7ff 288px,#00cbff 316px,#00daff 344px,#0ff 372px,#00ffc6 400px,#00ff5b 446px,#3eff59 450px,#7fff34 462px,#b6ff00 474px,#ff0 496px,#fffb00 498px,#ffce00 520px,#ff9600 552px,#ff4a00 604px,#ff1800 652px,#f00 696px,#f40000 820px,#d30000 980px,#c40000 1104px,#af0000 1661px)"></i><i style="background:linear-gradient(90deg,#ffc900 0px,#ffdc00 28px,#ff0 66px,#b5ff00 116px,#81ff33 138px,#3fff58 158px,#2fff5a 160px,#00ff5a 164px,#00ffd6 232px,#0ff 258px,#00dcff 288px,#00cfff 316px,#00dbff 344px,#0ff 374px,#00ffb8 408px,#00ff5c 448px,#14ff5a 450px,#37ff5a 452px,#85ff2f 466px,#b3ff00 476px,#ff0 500px,#ffd400 520px,#ff9b00 552px,#ff4f00 604px,#ff1800 656px,#f00 700px,#f40000 824px,#d20000 988px,#c40000 1108px,#af0000 1661px)"></i><i style="background:linear-gradient(90deg,#ffc600 0px,#ffd900 28px,#ff0 68px,#b5ff00 118px,#81ff33 140px,#40ff58 160px,#32ff5a 162px,#00ff5a 166px,#00ffd8 236px,#0ff 262px,#0df 292px,#00d2ff 320px,#00dcff 344px,#0ff 374px,#00ffbc 408px,#00ff5e 450px,#09ff5a 452px,#2cff5a 454px,#41ff57 456px,#81ff33 468px,#b7ff00 480px,#ff0 502px,#fffb00 504px,#ffd200 524px,#ff9a00 556px,#ff4900 612px,#ff1800 660px,#f00 706px,#f40000 828px,#d30000 992px,#c50000 1112px,#af0000 1661px)"></i><i style="background:linear-gradient(90deg,#ffc300 0px,#ffd700 28px,#ff0 70px,#b5ff00 120px,#81ff32 142px,#41ff57 162px,#36ff5a 164px,#07ff5a 168px,#00ff5c 170px,#0fc 232px,#0ff 264px,#00deff 296px,#00d5ff 320px,#0df 344px,#0ff 374px,#00ffbf 408px,#00ff5a 454px,#3eff59 458px,#7dff35 470px,#b4ff00 482px,#ff0 506px,#ffa000 556px,#ff4e00 612px,#ff1800 664px,#f00 710px,#f40000 832px,#d30000 996px,#c50000 1116px,#b00000 1661px)"></i><i style="background:linear-gradient(90deg,#ffc000 0px,#ffd400 28px,#ff0 72px,#b5ff00 122px,#82ff32 144px,#42ff56 164px,#3aff5a 166px,#0bff5a 170px,#00ff5c 172px,#00ffce 236px,#0ff 268px,#00e2ff 296px,#00d8ff 324px,#00e1ff 348px,#0ff 376px,#0fb 412px,#00ff5c 456px,#16ff5a 458px,#37ff5a 460px,#83ff31 474px,#afff05 484px,#b7ff00 486px,#ff0 508px,#fffb00 510px,#ffd000 532px,#ff9800 564px,#ff4e00 616px,#ff1800 668px,#f00 714px,#f40000 840px,#d40000 1000px,#c50000 1120px,#b00000 1661px)"></i><i style="background:linear-gradient(90deg,#ffbd00 0px,#ffcf00 24px,#ff0 74px,#b5ff00 124px,#82ff32 146px,#3dff5a 168px,#10ff5a 172px,#00ff5b 174px,#00ffcf 240px,#0ff 272px,#00e4ff 300px,#00dbff 328px,#00e2ff 348px,#0ff 376px,#00ffbe 412px,#00ff5d 458px,#0bff5a 460px,#2cff5a 462px,#41ff57 464px,#7fff34 476px,#b4ff00 488px,#ff0 512px,#ffd600 532px,#ff9e00 564px,#ff4e00 620px,#ff1800 672px,#f00 718px,#f40000 844px,#d40000 1008px,#c60000 1124px,#b00000 1661px)"></i><i style="background:linear-gradient(90deg,#fb0 0px,#ffd000 28px,#ff0 76px,#b5ff00 126px,#83ff31 148px,#3eff59 170px,#00ff5a 176px,#00ffd1 244px,#0ff 276px,#00e5ff 304px,#0df 328px,#00e3ff 348px,#0ff 376px,#00ffba 416px,#00ff5a 462px,#3eff59 466px,#84ff30 480px,#b0ff04 490px,#b7ff00 492px,#ff0 514px,#ff0 516px,#ff9d00 568px,#ff4d00 624px,#ff1800 676px,#f00 722px,#f40000 848px,#d40000 1012px,#c60000 1132px,#b00000 1661px)"></i><i style="background:linear-gradient(90deg,#ffb900 0px,#ffcd00 28px,#ff0 76px,#b5ff00 128px,#83ff31 150px,#40ff58 172px,#31ff5a 174px,#00ff5a 178px,#00ff5d 180px,#00ffd2 248px,#0ff 280px,#00e6ff 308px,#00e0ff 332px,#00e7ff 352px,#0ff 376px,#00ffbd 416px,#00ff5b 464px,#16ff5a 466px,#37ff5a 468px,#80ff33 482px,#b5ff00 494px,#ff0 518px,#ffd300 540px,#ff9c00 572px,#ff4d00 628px,#ff1800 680px,#f00 726px,#f40000 852px,#d40000 1020px,#c60000 1136px,#b10000 1661px)"></i><i style="background:linear-gradient(90deg,#ffb700 0px,#ffcb00 28px,#ff0 78px,#b5ff00 130px,#84ff30 152px,#41ff57 174px,#37ff5a 176px,#09ff5a 180px,#00ff5c 182px,#00ffcd 248px,#0ff 284px,#00eaff 308px,#00e2ff 332px,#00e8ff 352px,#0ff 376px,#00ffc0 416px,#00ff5d 466px,#0cff5a 468px,#2cff5a 470px,#41ff57 472px,#85ff2f 486px,#b1ff00 496px,#b8ff00 498px,#ff0 520px,#ff0 522px,#ff9b00 576px,#ff4d00 632px,#ff1800 684px,#f00 730px,#f40000 860px,#d40000 1024px,#c70000 1140px,#b10000 1661px)"></i><i style="background:linear-gradient(90deg,#ffb500 0px,#ffcd00 32px,#ff0 80px,#b6ff00 132px,#80ff33 156px,#3cff5a 178px,#10ff5a 182px,#00ff5b 184px,#00ffce 252px,#0ff 288px,#00ebff 312px,#00e4ff 336px,#00ecff 356px,#0ff 376px,#00ffbc 420px,#00ff5a 470px,#3dff59 474px,#82ff32 488px,#b5ff00 500px,#ff0 524px,#ffd000 548px,#ff9b00 580px,#ff4c00 636px,#ff1800 688px,#f00 734px,#f40000 864px,#d50000 1028px,#c70000 1144px,#b10000 1661px)"></i><i style="background:linear-gradient(90deg,#ffb300 0px,#ffca00 32px,#ff0 82px,#b2ff00 136px,#81ff33 158px,#3eff59 180px,#00ff5a 186px,#00ffcf 256px,#0ff 292px,#00ecff 316px,#00e6ff 336px,#00edff 356px,#0ff 376px,#00ffbf 420px,#00ff5b 472px,#16ff5a 474px,#36ff5a 476px,#43ff56 478px,#7dff35 490px,#b1ff00 502px,#b8ff00 504px,#ff0 528px,#ffcf00 552px,#ff9a00 584px,#ff4c00 640px,#ff1800 692px,#f00 738px,#f40000 868px,#d50000 1032px,#c80000 1148px,#b20000 1661px)"></i><i style="background:linear-gradient(90deg,#ffb100 0px,#ffc800 32px,#ff0 84px,#b3ff00 138px,#82ff32 160px,#40ff58 182px,#33ff5a 184px,#06ff5a 188px,#00ff5c 190px,#00ffd0 260px,#0ff 296px,#00edff 320px,#00e8ff 340px,#0ef 356px,#0ff 378px,#0fb 424px,#00ff5d 474px,#0cff5a 476px,#2bff5a 478px,#40ff58 480px,#83ff31 494px,#b5ff00 506px,#ff0 530px,#fffb00 532px,#f90 588px,#ff4c00 644px,#ff1800 696px,#f00 744px,#f40000 872px,#d60000 1036px,#c80000 1152px,#b20000 1661px)"></i><i style="background:linear-gradient(90deg,#ffb000 0px,#ffc900 36px,#ff0 86px,#b3ff00 140px,#83ff31 162px,#42ff57 184px,#3aff5a 186px,#0eff5a 190px,#00ff5b 192px,#00ffcb 260px,#0ff 300px,#00f0ff 320px,#00eaff 340px,#00efff 356px,#0ff 378px,#00ffbe 424px,#00ff5a 478px,#3dff59 482px,#7fff34 496px,#b1ff00 508px,#b8ff00 510px,#ff0 534px,#ffd300 556px,#ff9800 592px,#ff4c00 648px,#ff1800 700px,#f00 748px,#f40000 880px,#d60000 1040px,#c90000 1156px,#b20000 1661px)"></i><i style="background:linear-gradient(90deg,#ffae00 0px,#ffc700 36px,#ff0 90px,#b4ff00 142px,#84ff30 164px,#3dff59 188px,#00ff5a 194px,#0fc 264px,#0ff 304px,#00edff 340px,#00f0ff 356px,#0ff 376px,#00ffe3 400px,#00ffc1 424px,#00ff5b 480px,#16ff5a 482px,#34ff5a 484px,#43ff56 486px,#84ff30 500px,#b5ff00 512px,#ff0 536px,#ff0 538px,#ff9700 596px,#ff4b00 652px,#ff1800 704px,#f00 752px,#f40000 884px,#d60000 1048px,#c90000 1160px,#b20000 1661px)"></i><i style="background:linear-gradient(90deg,#ffac00 0px,#ffc500 36px,#ff0 92px,#b4ff00 144px,#80ff33 168px,#3fff58 190px,#32ff5a 192px,#07ff5a 196px,#00ff5c 198px,#00ffd3 272px,#00fff2 296px,#0ff 310px,#00efff 344px,#0ff 376px,#00ffe5 400px,#00ffc4 424px,#00ff96 452px,#00ff5d 482px,#0bff5a 484px,#29ff5a 486px,#3fff58 488px,#80ff33 502px,#b2ff00 514px,#ff0 540px,#ffd100 564px,#ff9700 600px,#ff4b00 656px,#ff1900 708px,#f00 756px,#f40000 888px,#d60000 1052px,#c90000 1164px,#b30000 1661px)"></i><i style="background:linear-gradient(90deg,#fa0 0px,#ffc600 40px,#ff0 94px,#b5ff00 146px,#81ff32 170px,#42ff57 192px,#3aff5a 194px,#0fff5a 198px,#00ff5b 200px,#00ffce 272px,#0fe 296px,#0ff 314px,#00f1ff 344px,#0ff 376px,#00fff7 384px,#00ffdc 408px,#00ffba 432px,#00ff5a 486px,#3cff5a 490px,#85ff2f 506px,#b5ff00 518px,#f7ff00 540px,#ff0 544px,#ffd000 568px,#ff9600 604px,#ff4b00 660px,#ff1900 712px,#f00 760px,#f40000 892px,#d70000 1056px,#ca0000 1168px,#b30000 1661px)"></i><i style="background:linear-gradient(90deg,#ffa800 0px,#ffc400 40px,#ff0 96px,#b6ff00 148px,#83ff31 172px,#3eff59 196px,#00ff5a 202px,#00ffcf 276px,#0fe 300px,#0ff 318px,#00f3ff 348px,#0ff 374px,#00fff4 388px,#00ffd9 412px,#00ffb7 436px,#00ff5b 488px,#15ff5a 490px,#32ff5a 492px,#42ff57 494px,#82ff32 508px,#b2ff00 520px,#ff0 546px,#ffd500 568px,#ff9b00 604px,#ff4f00 660px,#ff1900 716px,#f00 764px,#f40000 900px,#d70000 1060px,#ca0000 1172px,#b30000 1661px)"></i><i style="background:linear-gradient(90deg,#ffa600 0px,#ffc500 44px,#ff0 98px,#b3ff00 152px,#7fff34 176px,#40ff58 198px,#34ff5a 200px,#0aff5a 204px,#00ff5c 206px,#00ffd0 280px,#0ff 322px,#00f5ff 348px,#0ff 374px,#00fff1 392px,#00ffb4 440px,#00ff5c 490px,#0bff5a 492px,#3fff59 496px,#7dff35 510px,#b6ff00 524px,#ff0 550px,#ff9b00 608px,#ff4f00 664px,#ff1900 720px,#f00 768px,#f40000 904px,#d80000 1064px,#ca0000 1180px,#b30000 1661px)"></i><i style="background:linear-gradient(90deg,#ffa400 0px,#ffc300 44px,#ff0 100px,#b4ff00 154px,#81ff33 178px,#3cff5a 202px,#00ff5a 208px,#00ffd0 284px,#0fe 308px,#0ff 328px,#00f7ff 352px,#0ff 374px,#00ffea 400px,#00ffb1 444px,#00ff5a 494px,#3aff5a 498px,#83ff31 514px,#b2ff00 526px,#ff0 552px,#fffb00 554px,#ff9400 616px,#ff4a00 672px,#ff1600 728px,#f00 774px,#f40000 908px,#d70000 1072px,#cb0000 1184px,#b40000 1661px)"></i><i style="background:linear-gradient(90deg,#ffa200 0px,#ffc000 44px,#ff0 102px,#b5ff00 156px,#82ff32 180px,#3fff59 204px,#30ff5a 206px,#06ff5a 210px,#00ff5c 212px,#00ffd1 288px,#0fe 312px,#0ff 332px,#00f8ff 352px,#0ff 374px,#00ffe7 404px,#00ffae 448px,#00ff5b 496px,#14ff5a 498px,#30ff5a 500px,#41ff57 502px,#7fff34 516px,#b6ff00 530px,#ff0 556px,#f90 616px,#ff4f00 672px,#ff1900 728px,#f00 778px,#f40000 912px,#d80000 1076px,#cb0000 1188px,#b40000 1661px)"></i><i style="background:linear-gradient(90deg,#ffa100 0px,#ffc100 48px,#ff0 104px,#b5ff00 158px,#84ff30 182px,#41ff57 206px,#39ff5a 208px,#00ff5b 214px,#00ffd1 292px,#0fe 316px,#0ff 338px,#00faff 356px,#0ff 374px,#00ffe4 408px,#00ffab 452px,#00ff5c 498px,#0aff5a 500px,#3eff59 504px,#84ff30 520px,#b2ff00 532px,#f8ff00 556px,#ff0 560px,#ff9800 620px,#ff4f00 676px,#ff1900 732px,#f00 782px,#f40000 920px,#d80000 1080px,#cb0000 1192px,#b40000 1661px)"></i><i style="background:linear-gradient(90deg,#ff9f00 0px,#ffbf00 48px,#ff0 108px,#b3ff00 162px,#81ff33 186px,#3eff59 210px,#04ff5a 216px,#00ff5c 218px,#00ffd2 296px,#00fff2 324px,#0ff 344px,#0ff 372px,#00ffe1 412px,#00ffa8 456px,#00ff5a 502px,#38ff5a 506px,#80ff33 522px,#b6ff00 536px,#ff0 562px,#ff9e00 620px,#ff4e00 680px,#ff1900 736px,#f00 786px,#f40000 924px,#d90000 1084px,#c00 1196px,#b50000 1661px)"></i><i style="background:linear-gradient(90deg,#ff9d00 0px,#ffc000 52px,#ff0 110px,#b4ff00 164px,#83ff31 188px,#40ff58 212px,#37ff5a 214px,#0eff5a 218px,#00ff5b 220px,#00ffd2 300px,#00fff1 328px,#0ff 350px,#00fffb 380px,#00ffde 416px,#00ffa6 460px,#00ff5b 504px,#40ff58 510px,#85ff2f 526px,#b3ff00 538px,#ff0 566px,#ff9d00 624px,#ff4e00 684px,#ff1900 740px,#f00 790px,#f40000 928px,#d90000 1088px,#c00 1200px,#b50000 1661px)"></i><i style="background:linear-gradient(90deg,#ff9b00 0px,#ffbe00 52px,#ff0 112px,#b5ff00 166px,#7fff33 192px,#3dff59 216px,#00ff5a 222px,#00ff5d 224px,#00ffd8 308px,#00fff4 336px,#0ff 360px,#00fff4 392px,#00ffd7 424px,#00ffa3 464px,#00ff5c 506px,#09ff5a 508px,#3dff59 512px,#81ff32 528px,#b6ff00 542px,#ff0 568px,#ff9c00 628px,#ff4e00 688px,#ff1a00 744px,#f00 794px,#f40000 932px,#cd0000 1204px,#b50000 1661px)"></i><i style="background:linear-gradient(90deg,#f90 0px,#ffbf00 56px,#ff0 114px,#b3ff00 170px,#81ff32 194px,#40ff58 218px,#35ff5a 220px,#0dff5a 224px,#00ff5b 226px,#00ffad 280px,#00ffd8 312px,#00fff4 340px,#0ff 364px,#00fff1 396px,#00ffd5 428px,#00ffa0 468px,#00ff5a 510px,#36ff5a 514px,#7dff35 530px,#b3ff00 544px,#ff0 572px,#ff9c00 632px,#ff4e00 692px,#ff1a00 748px,#f00 800px,#f40000 940px,#cd0000 1212px,#b60000 1661px)"></i><i style="background:linear-gradient(90deg,#ff9700 0px,#ffbc00 56px,#ff0 118px,#b4ff00 172px,#83ff31 196px,#3dff59 222px,#00ff5a 228px,#00ff5c 230px,#00ffae 284px,#00ffd8 316px,#00fff3 344px,#00fffb 368px,#00fff2 396px,#00ffd2 432px,#00ff9e 472px,#00ff5b 512px,#11ff5a 514px,#2cff5a 516px,#3fff58 518px,#82ff32 534px,#b6ff00 548px,#ff0 574px,#ff0 576px,#ff9b00 636px,#ff4e00 696px,#ff1a00 752px,#f00 804px,#f40000 944px,#cd0000 1216px,#b60000 1661px)"></i><i style="background:linear-gradient(90deg,#ff9500 0px,#ffbd00 60px,#ff0 120px,#b5ff00 174px,#81ff33 200px,#40ff58 224px,#35ff5a 226px,#0dff5a 230px,#00ff5b 232px,#00ffaf 288px,#00ffd8 320px,#00fff2 348px,#00fff9 372px,#00fff0 400px,#00ffcf 436px,#00ff9b 476px,#00ff5d 514px,#08ff5a 516px,#3cff5a 520px,#7fff34 536px,#b3ff00 550px,#ff0 578px,#ff9a00 640px,#ff4e00 700px,#ff1a00 756px,#f00 808px,#f40000 948px,#cd0000 1220px,#b60000 1661px)"></i><i style="background:linear-gradient(90deg,#ff9400 0px,#fb0 60px,#ff0 122px,#b3ff00 178px,#83ff31 202px,#3dff59 228px,#00ff5a 234px,#00ff5c 236px,#00ffd4 320px,#00ffef 348px,#00fff8 372px,#00fff0 400px,#00ffd1 436px,#00ff9e 476px,#00ff5a 518px,#34ff5a 522px,#41ff57 524px,#83ff31 540px,#b6ff00 554px,#ff0 582px,#ff9a00 644px,#ff4e00 704px,#ff1a00 760px,#f00 812px,#f40000 952px,#ce0000 1224px,#b70000 1661px)"></i><i style="background:linear-gradient(90deg,#ff9200 0px,#ffbc00 64px,#ff0 124px,#b4ff00 180px,#80ff33 206px,#40ff58 230px,#36ff5a 232px,#0eff5a 236px,#00ff5b 238px,#00ffab 292px,#00ffd4 324px,#0fe 352px,#00fff6 376px,#0fe 404px,#00ffcf 440px,#00ff9c 480px,#00ff5b 520px,#10ff5a 522px,#3fff59 526px,#80ff33 542px,#b4ff00 556px,#ff0 584px,#f90 648px,#ff4d00 708px,#ff1a00 764px,#f00 816px,#f40000 960px,#ce0000 1228px,#b70000 1661px)"></i><i style="background:linear-gradient(90deg,#ff9000 0px,#ffb900 64px,#ff0 128px,#b5ff00 182px,#82ff32 208px,#3dff59 234px,#05ff5a 240px,#00ff5c 242px,#00ffab 296px,#00ffd4 328px,#00ffec 356px,#00fff4 380px,#00ffeb 408px,#0fc 444px,#0f9 484px,#00ff5d 522px,#07ff5a 524px,#3bff5a 528px,#84ff30 546px,#b7ff00 560px,#ff0 588px,#f90 652px,#ff4d00 712px,#ff1a00 768px,#f00 820px,#f40000 964px,#ce0000 1236px,#b80000 1661px)"></i><i style="background:linear-gradient(90deg,#ff8e00 0px,#ffb700 64px,#ff0 132px,#b4ff00 186px,#84ff30 210px,#40ff58 236px,#38ff5a 238px,#00ff5a 244px,#00ffac 300px,#00ffd4 332px,#00ffeb 360px,#00fff2 384px,#00ffe9 412px,#00ffc9 448px,#00ff97 488px,#00ff5a 526px,#32ff5a 530px,#41ff57 532px,#81ff32 548px,#b4ff00 562px,#f9ff00 588px,#ff0 592px,#ff9800 656px,#ff4d00 716px,#ff1b00 772px,#f00 826px,#f40000 968px,#cf0000 1240px,#b80000 1661px)"></i><i style="background:linear-gradient(90deg,#ff8d00 0px,#ffb800 68px,#ff0 134px,#b5ff00 188px,#82ff32 214px,#3eff59 240px,#08ff5a 246px,#00ff5c 248px,#00ffa7 300px,#00ffcf 332px,#00ffe8 360px,#00fff1 388px,#00ffe7 416px,#00ffcb 448px,#00ff9a 488px,#00ff5b 528px,#10ff5a 530px,#3eff59 534px,#7eff34 550px,#b7ff00 566px,#ff0 594px,#ff9700 660px,#ff4d00 720px,#ff1b00 776px,#f00 830px,#f40000 972px,#cf0000 1244px,#b80000 1661px)"></i><i style="background:linear-gradient(90deg,#ff8b00 0px,#ff9e00 36px,#ffb900 72px,#ff0 136px,#b3ff00 192px,#84ff30 216px,#3aff5a 244px,#00ff5a 250px,#00ffa8 304px,#00ffcf 336px,#00ffe7 364px,#00ffef 392px,#00ffe4 420px,#00ffc9 452px,#00ff97 492px,#00ff5c 530px,#07ff5a 532px,#3aff5a 536px,#83ff31 554px,#b4ff00 568px,#ff0 598px,#ff9700 664px,#ff4d00 724px,#ff1b00 780px,#f00 834px,#f40000 976px,#cf0000 1248px,#b90000 1661px)"></i><i style="background:linear-gradient(90deg,#ff8900 0px,#ffb600 72px,#ff0 140px,#b4ff00 194px,#82ff32 220px,#3fff59 246px,#32ff5a 248px,#0bff5a 252px,#00ff5b 254px,#00ffa8 308px,#00ffca 336px,#00ffe3 364px,#00ffed 392px,#00ffe5 420px,#00ffc6 456px,#00ff95 496px,#00ff5a 534px,#31ff5a 538px,#40ff58 540px,#7fff34 556px,#b1ff00 570px,#b7ff00 572px,#ff0 600px,#ff9c00 664px,#ff4d00 728px,#ff1b00 784px,#f00 838px,#f40000 984px,#d00000 1252px,#b90000 1661px)"></i><i style="background:linear-gradient(90deg,#ff8700 0px,#ff9a00 36px,#ffb700 76px,#ff0 142px,#b6ff00 196px,#84ff30 222px,#3cff5a 250px,#04ff5a 256px,#00ff5c 258px,#00ffa3 308px,#00ffca 340px,#00ffe2 368px,#00ffec 396px,#00ffe2 424px,#00ffc8 456px,#00ff98 496px,#00ff5b 536px,#0fff5a 538px,#3eff59 542px,#84ff30 560px,#b5ff00 574px,#ff0 604px,#ff9b00 668px,#ff4d00 732px,#ff1b00 788px,#f00 842px,#f40000 988px,#d00000 1260px,#b90000 1661px)"></i><i style="background:linear-gradient(90deg,#ff8600 0px,#ffb400 76px,#ff0 144px,#b4ff00 200px,#82ff32 226px,#40ff58 252px,#36ff5a 254px,#00ff5b 260px,#00ffa4 312px,#00ffca 344px,#00ffe1 372px,#00ffea 400px,#00ffe0 428px,#00ffc5 460px,#00ff96 500px,#00ff5c 538px,#07ff5a 540px,#39ff5a 544px,#81ff33 562px,#b2ff00 576px,#b7ff00 578px,#ff0 606px,#ff0 608px,#ff9b00 672px,#ff4d00 736px,#ff1800 796px,#f00 848px,#f40000 992px,#d00000 1264px,#ba0000 1661px)"></i><i style="background:linear-gradient(90deg,#ff8400 0px,#ff9600 36px,#ffb500 80px,#ff0 148px,#b6ff00 202px,#80ff33 230px,#3dff59 256px,#08ff5a 262px,#00ff5c 264px,#00ffa4 316px,#00ffc9 348px,#00ffe2 380px,#00ffe8 404px,#0fd 432px,#00ffc3 464px,#00ff93 504px,#00ff5a 542px,#30ff5a 546px,#40ff58 548px,#85ff2f 566px,#b5ff00 580px,#ff0 610px,#ff9a00 676px,#ff4d00 740px,#ff1900 800px,#f00 852px,#f40000 996px,#d00000 1268px,#ba0000 1661px)"></i><i style="background:linear-gradient(90deg,#ff8200 0px,#ff9700 40px,#ffb600 84px,#ff0 150px,#b4ff00 206px,#83ff31 232px,#3aff5a 260px,#00ff5a 266px,#00ff5d 268px,#00ff9f 316px,#00ffc5 348px,#00ffdc 376px,#00ffe6 404px,#00ffde 432px,#00ffc4 464px,#00ff96 504px,#00ff5b 544px,#10ff5a 546px,#3dff59 550px,#82ff32 568px,#b2ff00 582px,#f4ff00 608px,#ff0 614px,#f90 680px,#ff4c00 744px,#ff1900 804px,#f00 856px,#f40000 1000px,#d10000 1272px,#b00 1661px)"></i><i style="background:linear-gradient(90deg,#ff8100 0px,#ff9500 40px,#ffb400 84px,#ff0 154px,#b6ff00 208px,#80ff33 236px,#3fff58 262px,#33ff5a 264px,#0dff5a 268px,#00ff5b 270px,#00ff9f 320px,#00ffc4 352px,#00ffdb 380px,#00ffe4 408px,#00ffdb 436px,#00ffc2 468px,#00ff94 508px,#00ff5c 546px,#08ff5a 548px,#38ff5a 552px,#7fff34 570px,#b6ff00 586px,#ff0 616px,#f90 684px,#ff4c00 748px,#ff1900 808px,#f00 860px,#f40000 1004px,#d10000 1276px,#b00 1661px)"></i><i style="background:linear-gradient(90deg,#ff7f00 0px,#ff9300 40px,#ffb500 88px,#ff0 156px,#b4ff00 212px,#83ff31 238px,#3dff5a 266px,#07ff5a 272px,#00ff5c 274px,#00ffa0 324px,#00ffc4 356px,#00ffda 384px,#00ffe2 412px,#00ffd9 440px,#00ffbf 472px,#00ff92 512px,#00ff5a 550px,#30ff5a 554px,#40ff58 556px,#84ff30 574px,#b3ff00 588px,#ff0 620px,#ff9800 688px,#ff4c00 752px,#ff1900 812px,#f00 864px,#f40000 1008px,#d10000 1280px,#b00 1661px)"></i><i style="background:linear-gradient(90deg,#ff7d00 0px,#ff9200 40px,#ffb200 88px,#ff0 160px,#b6ff00 214px,#81ff32 242px,#40ff58 268px,#38ff5a 270px,#00ff5a 276px,#00ff5d 278px,#00ffa0 328px,#00ffc3 360px,#00ffd9 388px,#00ffe0 416px,#00ffd7 444px,#00ffbd 476px,#00ff8f 516px,#00ff5b 552px,#10ff5a 554px,#3dff59 558px,#81ff33 576px,#b6ff00 592px,#ff0 622px,#ff9800 692px,#ff4c00 756px,#ff1900 816px,#f00 868px,#f40000 1016px,#d20000 1284px,#bc0000 1661px)"></i><i style="background:linear-gradient(90deg,#ff7c00 0px,#ff9000 40px,#ffb300 92px,#ffc900 116px,#ff0 162px,#b4ff00 218px,#84ff30 244px,#3eff59 272px,#00ff5b 280px,#00ff9b 328px,#00ffbf 360px,#00ffd5 388px,#00ffdf 416px,#00ffd7 444px,#00ffbe 476px,#00ff92 516px,#00ff5c 554px,#09ff5a 556px,#38ff5a 560px,#85ff2f 580px,#b4ff00 594px,#ff0 626px,#ff9700 696px,#ff4c00 760px,#ff1900 820px,#f00 874px,#f40000 1020px,#d20000 1288px,#bc0000 1661px)"></i><i style="background:linear-gradient(90deg,#ff7b00 0px,#ff9100 44px,#ffb400 96px,#ff0 164px,#b3ff00 222px,#82ff32 248px,#3dff5a 276px,#07ff5a 282px,#00ff5c 284px,#00ff9b 332px,#00ffbf 364px,#00ffd4 392px,#0fd 420px,#00ffd4 448px,#00ffbc 480px,#00ff90 520px,#00ff5d 556px,#00ff5a 558px,#31ff5a 562px,#40ff58 564px,#83ff31 582px,#b7ff00 598px,#ff0 628px,#ff0 630px,#ff9700 700px,#ff4c00 764px,#ff1900 824px,#f00 878px,#f40000 1024px,#d20000 1292px,#bc0000 1661px)"></i><i style="background:linear-gradient(90deg,#ff7900 0px,#ff8f00 44px,#ffb100 96px,#ffc700 120px,#ff0 168px,#b5ff00 224px,#80ff33 252px,#40ff58 278px,#38ff5a 280px,#00ff5a 286px,#00ff5c 288px,#00ff9b 336px,#00ffbe 368px,#00ffd3 396px,#00ffdb 424px,#00ffd2 452px,#00ffba 484px,#00ff8e 524px,#00ff5b 560px,#3dff59 566px,#80ff33 584px,#b4ff00 600px,#ff0 632px,#ff9b00 700px,#ff4c00 768px,#ff1a00 828px,#f00 882px,#f40000 1028px,#d30000 1296px,#bd0000 1661px)"></i><i style="background:linear-gradient(90deg,#ff7800 0px,#ff9000 48px,#ffb200 100px,#ffc800 124px,#ff0 170px,#b3ff00 228px,#83ff31 254px,#3eff59 282px,#00ff5b 290px,#00ff9b 340px,#00ffbd 372px,#00ffd2 400px,#00ffd9 428px,#00ffd0 456px,#00ffb7 488px,#00ff90 524px,#00ff5c 562px,#0bff5a 564px,#39ff5a 568px,#84ff30 588px,#b2ff00 602px,#b7ff00 604px,#ff0 636px,#ff9b00 704px,#ff4c00 772px,#ff1a00 832px,#f00 886px,#f40000 1032px,#d30000 1300px,#bd0000 1661px)"></i><i style="background:linear-gradient(90deg,#ff7600 0px,#ff8e00 48px,#ffb300 104px,#ffc900 128px,#ff0 174px,#b5ff00 230px,#81ff32 258px,#3dff5a 286px,#08ff5a 292px,#00ff5b 294px,#00ff97 340px,#00ffb9 372px,#00ffce 400px,#00ffd7 428px,#00ffd0 456px,#00ffb9 488px,#00ff8e 528px,#00ff5d 564px,#04ff5a 566px,#32ff5a 570px,#40ff58 572px,#82ff32 590px,#b5ff00 606px,#ff0 638px,#ff9a00 708px,#ff5000 772px,#ff1d00 832px,#f00 890px,#f40000 1040px,#d30000 1304px,#be0000 1661px)"></i><i style="background:linear-gradient(90deg,#ff7500 0px,#ff8d00 48px,#ffb000 104px,#ffca00 132px,#ff0 176px,#b4ff00 234px,#84ff30 260px,#40ff58 288px,#39ff5a 290px,#00ff5a 296px,#00ff5c 298px,#00ff97 344px,#00ffb9 376px,#00ffcd 404px,#00ffd5 432px,#00ffce 460px,#00ffb6 492px,#00ff8c 532px,#00ff5a 568px,#3eff59 574px,#7fff34 592px,#b3ff00 608px,#ff0 642px,#f90 712px,#ff4b00 780px,#ff1a00 840px,#f00 896px,#f40000 1044px,#d40000 1308px,#be0000 1661px)"></i><i style="background:linear-gradient(90deg,#ff7400 0px,#ff8d00 52px,#ffb100 108px,#ffc700 132px,#ff0 180px,#b6ff00 236px,#83ff31 264px,#3fff59 292px,#33ff5a 294px,#00ff5a 300px,#00ff97 348px,#00ffb8 380px,#0fc 408px,#00ffd4 436px,#00ffcb 464px,#00ffb4 496px,#00ff8f 532px,#00ff5b 570px,#0dff5a 572px,#3bff5a 576px,#83ff31 596px,#b6ff00 612px,#ff0 644px,#ff0 646px,#f90 716px,#ff4b00 784px,#ff1a00 844px,#f00 900px,#f40000 1048px,#d40000 1312px,#be0000 1661px)"></i><i style="background:linear-gradient(90deg,#ff7200 0px,#ff8c00 52px,#ffb200 112px,#ffc800 136px,#ff0 184px,#b5ff00 240px,#81ff33 268px,#3dff59 296px,#0bff5a 302px,#00ff5b 304px,#00ff97 352px,#00ffb8 384px,#00ffcb 412px,#00ffd2 440px,#00ffc9 468px,#00ffb2 500px,#00ff8c 536px,#00ff5c 572px,#07ff5a 574px,#34ff5a 578px,#40ff58 580px,#81ff33 598px,#b4ff00 614px,#ff0 648px,#ff9d00 716px,#ff4f00 784px,#ff1a00 848px,#f00 904px,#f40000 1052px,#d40000 1316px,#bf0000 1661px)"></i><i style="background:linear-gradient(90deg,#ff7100 0px,#ff8a00 52px,#ffb000 112px,#ffc900 140px,#ff0 186px,#b3ff00 244px,#84ff30 270px,#3bff5a 300px,#06ff5a 306px,#00ff5c 308px,#00ff97 356px,#00ffb7 388px,#00ffca 416px,#00ffd0 444px,#00ffc7 472px,#00ffb0 504px,#00ff8a 540px,#00ff5a 576px,#3eff59 582px,#85ff2f 602px,#b7ff00 618px,#ff0 652px,#ff9d00 720px,#ff4f00 788px,#ff1a00 852px,#f00 908px,#f40000 1056px,#d50000 1320px,#bf0000 1661px)"></i><i style="background:linear-gradient(90deg,#ff6f00 0px,#ff8b00 56px,#ffb000 116px,#ffc600 140px,#ff0 190px,#b5ff00 246px,#82ff32 274px,#3fff58 302px,#36ff5a 304px,#00ff5a 310px,#00ff5c 312px,#00ff92 356px,#00ffb3 388px,#00ffc7 416px,#00ffcf 444px,#00ffc7 472px,#00ffb1 504px,#00ff8d 540px,#00ff5b 578px,#10ff5a 580px,#3cff5a 584px,#83ff31 604px,#b5ff00 620px,#ff0 654px,#ff9c00 724px,#ff4f00 792px,#ff1a00 856px,#f00 912px,#f40000 1060px,#d50000 1324px,#bf0000 1661px)"></i><i style="background:linear-gradient(90deg,#ff6e00 0px,#ff8c00 60px,#ffb100 120px,#ffc700 144px,#ff0 192px,#b4ff00 250px,#81ff33 278px,#3eff59 306px,#00ff5a 314px,#00ff93 360px,#00ffb2 392px,#00ffc6 420px,#00ffcd 448px,#00ffc5 476px,#00ffaf 508px,#00ff8b 544px,#00ff5c 580px,#0bff5a 582px,#37ff5a 586px,#41ff57 588px,#81ff33 606px,#b3ff00 622px,#ff0 658px,#ff9700 732px,#ff4b00 800px,#ff1b00 860px,#f00 918px,#f40000 1064px,#d60000 1324px,#c00000 1661px)"></i><i style="background:linear-gradient(90deg,#ff6c00 0px,#ff8600 52px,#ffaf00 120px,#ffc800 148px,#ff0 196px,#b3ff00 254px,#84ff30 280px,#3cff5a 310px,#0aff5a 316px,#00ff5b 318px,#00ff93 364px,#00ffb2 396px,#00ffc4 424px,#0fc 452px,#00ffc3 480px,#00ffad 512px,#00ff89 548px,#00ff5c 582px,#05ff5a 584px,#30ff5a 588px,#3fff58 590px,#85ff2f 610px,#b6ff00 626px,#ff0 660px,#ff9b00 732px,#ff4f00 800px,#ff1b00 864px,#f00 922px,#f40000 1072px,#d60000 1328px,#c00000 1661px)"></i><i style="background:linear-gradient(90deg,#ff6b00 0px,#ffaf00 124px,#ffc900 152px,#ff0 198px,#b5ff00 256px,#82ff32 284px,#40ff58 312px,#39ff5a 314px,#05ff5a 320px,#00ff5c 322px,#00ff8e 364px,#00ffae 396px,#00ffc1 424px,#00ffca 452px,#00ffc3 480px,#00ffae 512px,#00ff8b 548px,#00ff5a 586px,#3dff59 592px,#83ff31 612px,#b4ff00 628px,#ff0 664px,#ff9a00 736px,#ff4e00 804px,#ff1b00 868px,#f00 926px,#f40000 1076px,#d60000 1332px,#c00000 1661px)"></i><i style="background:linear-gradient(90deg,#ff6900 0px,#ffb000 128px,#ffca00 156px,#ff0 202px,#b4ff00 260px,#81ff33 288px,#3fff58 316px,#35ff5a 318px,#00ff5a 324px,#00ff5c 326px,#00ff8e 368px,#00ffad 400px,#00ffc0 428px,#00ffc8 456px,#00ffc1 484px,#00ffac 516px,#00ff89 552px,#00ff5b 588px,#0fff5a 590px,#3aff5a 594px,#81ff33 614px,#b7ff00 632px,#ff0 666px,#ff9a00 740px,#ff4e00 808px,#ff1b00 872px,#f00 930px,#f40000 1080px,#d70000 1336px,#c10000 1661px)"></i><i style="background:linear-gradient(90deg,#ff6700 0px,#ffb100 132px,#ffc600 156px,#ff0 206px,#b3ff00 264px,#80ff33 292px,#3eff59 320px,#00ff5a 328px,#00ff8e 372px,#00ffad 404px,#00ffc1 436px,#00ffc7 460px,#00ffbf 488px,#0fa 520px,#00ff87 556px,#00ff5c 590px,#09ff5a 592px,#34ff5a 596px,#40ff58 598px,#85ff2f 618px,#b5ff00 634px,#ff0 670px,#f90 744px,#ff4e00 812px,#ff1b00 876px,#f00 934px,#f40000 1084px,#d70000 1340px,#c10000 1661px)"></i><i style="background:linear-gradient(90deg,#ff6500 0px,#ffaf00 132px,#ffc700 160px,#ff0 208px,#b5ff00 266px,#83ff31 294px,#3cff5a 324px,#0aff5a 330px,#00ff5b 332px,#00ff8e 376px,#00ffac 408px,#00ffc0 440px,#00ffc5 464px,#00ffbd 492px,#00ffa8 524px,#00ff85 560px,#00ff5c 592px,#04ff5a 594px,#2fff5a 598px,#3fff59 600px,#83ff31 620px,#b3ff00 636px,#ff0 672px,#ff0 674px,#ff9800 748px,#ff4e00 816px,#ff1b00 880px,#f00 938px,#f40000 1088px,#d70000 1344px,#c20000 1661px)"></i><i style="background:linear-gradient(90deg,#ff6200 0px,#ffaf00 136px,#ffc800 164px,#ff0 212px,#b4ff00 270px,#82ff32 298px,#40ff58 326px,#39ff5a 328px,#06ff5a 334px,#00ff5b 336px,#00ff8a 376px,#00ffa9 408px,#00ffbe 440px,#00ffc4 464px,#00ffbd 492px,#00ffa9 524px,#00ff87 560px,#00ff5a 596px,#3dff59 602px,#81ff32 622px,#b6ff00 640px,#ff0 676px,#ff9d00 748px,#ff4e00 820px,#ff1b00 884px,#f00 944px,#f40000 1092px,#d80000 1344px,#c20000 1661px)"></i><i style="background:linear-gradient(90deg,#ff6000 0px,#ffb000 140px,#ffc900 168px,#ff0 214px,#b3ff00 274px,#80ff33 302px,#3fff58 330px,#35ff5a 332px,#00ff5a 338px,#00ff5c 340px,#00ff8a 380px,#00ffa8 412px,#00ffbd 444px,#00ffc2 468px,#0fb 496px,#00ffa7 528px,#00ff85 564px,#00ff5b 598px,#0fff5a 600px,#3aff5a 604px,#86ff2e 626px,#b5ff00 642px,#ff0 680px,#ff9c00 752px,#ff4e00 824px,#ff1b00 888px,#f00 948px,#f40000 1100px,#d80000 1348px,#c20000 1661px)"></i><i style="background:linear-gradient(90deg,#ff5e00 0px,#ffb100 144px,#ffca00 172px,#ff0 218px,#b5ff00 276px,#83ff31 304px,#3eff59 334px,#00ff5a 342px,#00ff8a 384px,#00ffa8 416px,#00ffbc 448px,#00ffc1 472px,#00ffba 500px,#00ffa5 532px,#00ff83 568px,#00ff5b 600px,#0aff5a 602px,#35ff5a 606px,#40ff58 608px,#84ff30 628px,#b3ff00 644px,#ff0 682px,#ff9b00 756px,#ff4d00 828px,#ff1b00 892px,#f00 952px,#f40000 1104px,#d80000 1352px,#c30000 1661px)"></i><i style="background:linear-gradient(90deg,#ff5c00 0px,#ffb100 148px,#ffc700 172px,#ff0 222px,#b4ff00 280px,#82ff32 308px,#3cff5a 338px,#00ff5b 346px,#00ff8a 388px,#00ffa7 420px,#00ffb9 448px,#00ffbf 476px,#00ffb8 504px,#00ffa3 536px,#00ff86 568px,#00ff5c 602px,#06ff5a 604px,#2fff5a 608px,#3fff58 610px,#82ff32 630px,#b6ff00 648px,#ff0 686px,#ff9b00 760px,#ff4d00 832px,#ff1b00 896px,#f00 956px,#f40000 1108px,#d90000 1356px,#c30000 1661px)"></i><i style="background:linear-gradient(90deg,#ff5a00 0px,#ffaf00 148px,#ffc800 176px,#ff0 224px,#b4ff00 284px,#81ff33 312px,#3aff5a 342px,#08ff5a 348px,#00ff5b 350px,#00ff8a 392px,#00ffa7 424px,#00ffb8 452px,#00ffbe 480px,#00ffb6 508px,#00ffa2 540px,#00ff84 572px,#00ff5a 606px,#3dff59 612px,#80ff33 632px,#b5ff00 650px,#ff0 688px,#ff9a00 764px,#ff4d00 836px,#ff1b00 900px,#f00 960px,#f40000 1112px,#d90000 1356px,#c30000 1661px)"></i><i style="background:linear-gradient(90deg,#ff5700 0px,#ffb000 152px,#ffc900 180px,#ff0 228px,#b5ff00 286px,#84ff30 314px,#3fff58 344px,#36ff5a 346px,#05ff5a 352px,#00ff5c 354px,#00ffa3 424px,#00ffb5 452px,#00ffbc 480px,#00ffb6 508px,#00ffa3 540px,#00ff82 576px,#00ff5a 608px,#3bff5a 614px,#85ff2f 636px,#b3ff00 652px,#ff0 692px,#f90 768px,#ff4d00 840px,#ff1b00 904px,#f00 964px,#f40000 1116px,#d90000 1360px,#c30000 1661px)"></i><i style="background:linear-gradient(90deg,#f50 0px,#ffb000 156px,#ffc500 180px,#ff0 232px,#b5ff00 290px,#83ff31 318px,#3eff59 348px,#00ff5a 356px,#00ff5c 358px,#00ffa3 428px,#00ffb4 456px,#0fb 484px,#00ffb5 512px,#00ffa1 544px,#00ff84 576px,#00ff5b 610px,#0dff5a 612px,#37ff5a 616px,#41ff57 618px,#83ff31 638px,#b6ff00 656px,#ff0 694px,#ff9d00 768px,#ff5000 840px,#ff1b00 908px,#f00 968px,#c40000 1661px)"></i><i style="background:linear-gradient(90deg,#ff5300 0px,#ffb100 160px,#ffc600 184px,#ff0 234px,#b4ff00 294px,#82ff32 322px,#3dff5a 352px,#00ff5a 360px,#00ff86 400px,#00ffa2 432px,#00ffb3 460px,#00ffba 488px,#00ffb3 516px,#00ff9f 548px,#00ff82 580px,#00ff5c 612px,#09ff5a 614px,#32ff5a 618px,#3fff58 620px,#82ff32 640px,#b5ff00 658px,#ff0 698px,#ff9d00 772px,#ff5000 844px,#ff1b00 912px,#f00 972px,#c40000 1661px)"></i><i style="background:linear-gradient(90deg,#ff5100 0px,#ffb200 164px,#ffc700 188px,#ff0 238px,#b3ff00 298px,#81ff33 326px,#3bff5a 356px,#0bff5a 362px,#00ff5b 364px,#00ff86 404px,#00ffa2 436px,#00ffb3 464px,#00ffb9 492px,#00ffb1 520px,#00ff9d 552px,#00ff80 584px,#00ff5c 614px,#05ff5a 616px,#3eff59 622px,#80ff33 642px,#b3ff00 660px,#ff0 700px,#ff9c00 776px,#ff5000 848px,#ff1b00 916px,#f00 976px,#c40000 1661px)"></i><i style="background:linear-gradient(90deg,#ff4e00 0px,#ffb000 164px,#ffc400 188px,#ff0 242px,#b5ff00 300px,#83ff31 328px,#3fff58 358px,#38ff5a 360px,#08ff5a 366px,#00ff5b 368px,#00ff86 408px,#00ffa2 440px,#00ffb2 468px,#00ffb8 492px,#00ffb1 520px,#00ff9f 552px,#00ff82 584px,#00ff5d 616px,#00ff5a 618px,#3dff5a 624px,#85ff2f 646px,#b6ff00 664px,#ff0 704px,#ff9b00 780px,#ff4f00 852px,#ff1b00 920px,#f00 980px,#c50000 1661px)"></i><i style="background:linear-gradient(90deg,#ff4c00 0px,#ffb000 168px,#ffc900 196px,#ff0 244px,#b4ff00 304px,#83ff31 332px,#3eff59 362px,#34ff5a 364px,#05ff5a 370px,#00ff5c 372px,#00ff86 412px,#00ffa1 444px,#00ffb1 472px,#00ffb6 496px,#00ffb0 524px,#00ff9d 556px,#00ff81 588px,#00ff5a 620px,#3bff5a 626px,#83ff31 648px,#b5ff00 666px,#ff0 706px,#ff9a00 784px,#ff4f00 856px,#ff1b00 924px,#f00 984px,#c50000 1661px)"></i><i style="background:linear-gradient(90deg,#ff4a00 0px,#ffb100 172px,#ffc600 196px,#ff0 248px,#b4ff00 308px,#82ff32 336px,#3dff59 366px,#00ff5a 374px,#00ff5c 376px,#00ff86 416px,#00ffa1 448px,#00ffb0 476px,#00ffb5 500px,#00ffae 528px,#00ff9b 560px,#00ff7f 592px,#00ff5b 622px,#0fff5a 624px,#37ff5a 628px,#41ff57 630px,#82ff32 650px,#b4ff00 668px,#ff0 710px,#ff9a00 788px,#ff4f00 860px,#ff1b00 928px,#f00 988px,#c50000 1661px)"></i><i style="background:linear-gradient(90deg,#ff4800 0px,#ffb200 176px,#ffc700 200px,#ff0 252px,#b6ff00 310px,#80ff33 340px,#3cff5a 370px,#00ff5a 378px,#00ff9e 448px,#00ffae 476px,#00ffb4 500px,#00ffae 528px,#00ff9d 560px,#00ff81 592px,#00ff5b 624px,#0cff5a 626px,#34ff5a 630px,#40ff58 632px,#81ff33 652px,#b2ff00 670px,#ff0 712px,#ff9d00 788px,#ff5200 860px,#ff1e00 928px,#f00 988px,#c50000 1661px)"></i><i style="background:linear-gradient(90deg,#ff4600 0px,#ffb200 180px,#ffc800 204px,#ff0 254px,#b5ff00 314px,#83ff31 342px,#3aff5a 374px,#0bff5a 380px,#00ff5b 382px,#00ff9d 452px,#00ffad 480px,#00ffb3 504px,#00ffad 532px,#00ff9b 564px,#00ff7f 596px,#00ff5c 626px,#08ff5a 628px,#30ff5a 632px,#3fff58 634px,#85ff2f 656px,#b6ff00 674px,#ff0 716px,#ff9d00 792px,#ff5200 864px,#ff1e00 932px,#f00 992px,#c60000 1661px)"></i><i style="background:linear-gradient(90deg,#f40 0px,#ffb000 180px,#ffc800 208px,#ff0 258px,#b4ff00 318px,#82ff32 346px,#3fff58 376px,#37ff5a 378px,#08ff5a 384px,#00ff5b 386px,#00ff9d 456px,#00ffad 484px,#00ffb2 508px,#00ffac 536px,#00ff9c 564px,#00ff81 596px,#00ff5c 628px,#06ff5a 630px,#3eff59 636px,#84ff30 658px,#b5ff00 676px,#ff0 718px,#ff9c00 796px,#ff5200 868px,#ff1e00 936px,#f00 996px,#c60000 1661px)"></i><i style="background:linear-gradient(90deg,#ff4100 0px,#ff7d00 92px,#ffb100 184px,#ffc500 208px,#ff0 262px,#b3ff00 322px,#81ff32 350px,#3eff59 380px,#33ff5a 382px,#05ff5a 388px,#00ff5c 390px,#00ff82 428px,#00ff9d 460px,#00ffac 488px,#00ffb1 512px,#0fa 540px,#00ff9b 568px,#00ff7f 600px,#00ff5c 630px,#00ff5a 632px,#3dff5a 638px,#83ff31 660px,#b4ff00 678px,#ff0 722px,#ff9b00 800px,#ff5100 872px,#ff1e00 940px,#f00 1000px,#c60000 1661px)"></i><i style="background:linear-gradient(90deg,#ff4000 0px,#ff7b00 92px,#ffb200 188px,#ffc600 212px,#ff0 264px,#b5ff00 324px,#80ff33 354px,#3dff59 384px,#00ff5a 392px,#00ff5c 394px,#00ff83 432px,#00ff9c 464px,#00ffab 492px,#00ffaf 516px,#00ffa9 544px,#0f9 572px,#00ff7d 604px,#00ff5a 634px,#3cff5a 640px,#82ff32 662px,#b6ff00 682px,#ff0 724px,#ff9f00 800px,#ff5400 872px,#ff1e00 944px,#f00 1004px,#c60000 1661px)"></i><i style="background:linear-gradient(90deg,#ff3e00 0px,#ff7c00 96px,#ffb200 192px,#ff0 268px,#b5ff00 328px,#83ff31 356px,#3cff5a 388px,#00ff5a 396px,#0f9 464px,#00ffa9 492px,#00ffae 516px,#00ffa9 544px,#00ff9a 572px,#00ff7f 604px,#00ff5a 636px,#39ff5a 642px,#81ff33 664px,#b6ff00 684px,#ff0 726px,#ff9e00 804px,#ff5400 876px,#ff1d00 948px,#f00 1008px,#c70000 1661px)"></i><i style="background:linear-gradient(90deg,#ff3c00 0px,#ff7b00 96px,#ffb000 192px,#ffc400 216px,#ff0 272px,#b4ff00 332px,#82ff32 360px,#40ff58 390px,#39ff5a 392px,#00ff5b 400px,#0f9 468px,#00ffa9 496px,#00ffad 520px,#00ffa8 548px,#0f9 576px,#00ff7d 608px,#00ff5b 638px,#37ff5a 644px,#40ff57 646px,#85ff2f 668px,#b5ff00 686px,#ff0 730px,#ff9d00 808px,#ff5400 880px,#ff1d00 952px,#f00 1012px,#c70000 1661px)"></i><i style="background:linear-gradient(90deg,#ff3a00 0px,#ff7b00 100px,#ffb100 196px,#ffc900 224px,#ff0 274px,#b3ff00 336px,#81ff32 364px,#3fff59 394px,#35ff5a 396px,#08ff5a 402px,#00ff5b 404px,#0f9 472px,#00ffa8 500px,#00ffad 524px,#00ffa7 552px,#00ff97 580px,#00ff7b 612px,#00ff5b 640px,#0dff5a 642px,#35ff5a 646px,#40ff58 648px,#84ff30 670px,#b4ff00 688px,#ff0 732px,#ff9c00 812px,#ff5300 884px,#ff1d00 956px,#f00 1016px,#c70000 1661px)"></i><i style="background:linear-gradient(90deg,#ff3800 0px,#ff7a00 100px,#ffb200 200px,#ffc600 224px,#ff0 278px,#b5ff00 338px,#80ff33 368px,#3eff59 398px,#05ff5a 406px,#00ff5b 408px,#0f9 476px,#00ffa7 504px,#00ffac 528px,#00ffa6 556px,#00ff96 584px,#00ff7d 612px,#00ff5b 642px,#0bff5a 644px,#32ff5a 648px,#3fff58 650px,#84ff30 672px,#b3ff00 690px,#ff0 736px,#ff9b00 816px,#ff5300 888px,#ff1d00 960px,#f00 1020px,#c80000 1661px)"></i><i style="background:linear-gradient(90deg,#ff3700 0px,#ff7b00 104px,#ffb200 204px,#ff0 282px,#b5ff00 342px,#83ff31 370px,#3dff5a 402px,#00ff5a 410px,#00ff5c 412px,#0f9 480px,#00ffa7 508px,#00ffab 532px,#00ffa6 556px,#00ff97 584px,#00ff7b 616px,#00ff5b 644px,#0aff5a 646px,#31ff5a 650px,#3eff59 652px,#83ff31 674px,#b6ff00 694px,#ff0 738px,#ff9f00 816px,#ff5600 888px,#ff2000 960px,#ff0400 1020px,#f40000 1188px,#c80000 1661px)"></i><i style="background:linear-gradient(90deg,#ff3500 0px,#ff7b00 108px,#ffb000 204px,#ffc800 232px,#ff0 284px,#b4ff00 346px,#82ff32 374px,#3bff5a 406px,#00ff5a 414px,#00ff96 480px,#00ffa5 508px,#00ffab 532px,#00ffa6 556px,#00ff98 584px,#00ff7d 616px,#00ff5b 646px,#09ff5a 648px,#3eff59 654px,#82ff32 676px,#b5ff00 696px,#ff0 742px,#ff9e00 820px,#ff5600 892px,#ff1f00 964px,#ff0400 1024px,#f40000 1192px,#c80000 1661px)"></i><i style="background:linear-gradient(90deg,#ff3400 0px,#ff7a00 108px,#ffb100 208px,#ffc900 236px,#ff0 288px,#b3ff00 350px,#81ff32 378px,#3fff58 408px,#37ff5a 410px,#0aff5a 416px,#00ff5b 418px,#00ff96 484px,#00ffa5 512px,#0fa 536px,#00ffa5 560px,#00ff96 588px,#00ff7b 620px,#00ff5c 648px,#07ff5a 650px,#3dff59 656px,#81ff32 678px,#b5ff00 698px,#ff0 744px,#ff9d00 824px,#f50 896px,#ff1f00 968px,#ff0400 1028px,#f40000 1196px,#c80000 1661px)"></i><i style="background:linear-gradient(90deg,#ff3200 0px,#ff7b00 112px,#ffb200 212px,#ff0 292px,#b5ff00 352px,#84ff30 380px,#3eff59 412px,#34ff5a 414px,#07ff5a 420px,#00ff5b 422px,#00ff96 488px,#00ffa5 516px,#00ffa9 540px,#00ffa4 564px,#00ff95 592px,#00ff7d 620px,#00ff5c 650px,#06ff5a 652px,#3dff59 658px,#86ff2e 682px,#b4ff00 700px,#ff0 746px,#ffa000 824px,#ff5800 896px,#ff1f00 972px,#ff0400 1032px,#f40000 1204px,#c90000 1661px)"></i><i style="background:linear-gradient(90deg,#ff3000 0px,#ff7900 112px,#ffb300 216px,#ff0 294px,#b4ff00 356px,#83ff31 384px,#3dff59 416px,#04ff5a 424px,#00ff5c 426px,#00ff96 492px,#00ffa4 520px,#00ffa9 540px,#00ffa5 564px,#00ff96 592px,#00ff7b 624px,#00ff5c 652px,#06ff5a 654px,#3dff5a 660px,#85ff2f 684px,#b3ff00 702px,#ff0 750px,#ffa000 828px,#ff5800 900px,#ff1f00 976px,#ff0400 1036px,#f40000 1208px,#c90000 1661px)"></i><i style="background:linear-gradient(90deg,#ff2f00 0px,#ff7a00 116px,#ffb100 216px,#ffc800 244px,#ff0 298px,#b4ff00 360px,#82ff32 388px,#3cff5a 420px,#00ff5a 428px,#00ff5c 430px,#00ff96 496px,#00ffa4 524px,#00ffa8 544px,#00ffa4 568px,#00ff94 596px,#00ff7d 624px,#00ff5c 654px,#05ff5a 656px,#3dff5a 662px,#85ff2f 686px,#b6ff00 706px,#ff0 752px,#ff9f00 832px,#ff5700 904px,#ff1f00 980px,#ff0400 1040px,#f40000 1212px,#c90000 1661px)"></i><i style="background:linear-gradient(90deg,#ff2d00 0px,#ff7800 116px,#ffb100 220px,#ff0 302px,#b6ff00 362px,#81ff32 392px,#3fff58 422px,#38ff5a 424px,#00ff5a 432px,#00ff96 500px,#00ffa4 528px,#00ffa8 548px,#00ffa2 572px,#00ff93 600px,#00ff7b 628px,#00ff5c 656px,#05ff5a 658px,#3cff5a 664px,#84ff30 688px,#b6ff00 708px,#ff0 756px,#ff9e00 836px,#ff5a00 904px,#ff2100 980px,#ff0500 1040px,#f00 1060px,#ca0000 1661px)"></i><i style="background:linear-gradient(90deg,#ff2c00 0px,#ff7900 120px,#ffb200 224px,#ff0 304px,#b5ff00 366px,#84ff30 394px,#3eff59 426px,#35ff5a 428px,#08ff5a 434px,#00ff5b 436px,#00ff93 500px,#00ffa2 528px,#00ffa7 548px,#00ffa3 572px,#00ff94 600px,#00ff7d 628px,#00ff5c 658px,#04ff5a 660px,#3cff5a 666px,#84ff30 690px,#b5ff00 710px,#ff0 758px,#ffa100 836px,#ff5a00 908px,#ff2100 984px,#ff0500 1044px,#f00 1064px,#f40000 1224px,#ca0000 1661px)"></i><i style="background:linear-gradient(90deg,#ff2a00 0px,#ff7a00 124px,#ffb300 228px,#ff0 308px,#b4ff00 370px,#83ff31 398px,#3dff59 430px,#05ff5a 438px,#00ff5b 440px,#00ff93 504px,#00ffa2 532px,#00ffa6 552px,#00ffa2 576px,#00ff95 600px,#00ff7a 632px,#00ff5c 660px,#05ff5a 662px,#3cff5a 668px,#83ff31 692px,#b5ff00 712px,#ff0 760px,#ffa000 840px,#ff5900 912px,#ff2100 988px,#ff0500 1048px,#f00 1068px,#f40000 1228px,#ca0000 1661px)"></i><i style="background:linear-gradient(90deg,#ff2900 0px,#ff7800 124px,#ffb100 228px,#ffc800 256px,#ff0 310px,#b3ff00 374px,#82ff32 402px,#3cff5a 434px,#00ff5a 442px,#00ff5c 444px,#00ff93 508px,#00ffa2 536px,#00ffa6 556px,#00ffa0 580px,#00ff93 604px,#00ff7c 632px,#00ff5c 662px,#05ff5a 664px,#3cff5a 670px,#83ff31 694px,#b4ff00 714px,#ff0 764px,#ff9f00 844px,#ff5900 916px,#ff2000 992px,#ff0500 1052px,#f00 1072px,#f40000 1236px,#ca0000 1661px)"></i><i style="background:linear-gradient(90deg,#ff2700 0px,#ff7900 128px,#ffb200 232px,#ff0 314px,#b5ff00 376px,#81ff33 406px,#3fff58 436px,#38ff5a 438px,#00ff5a 446px,#00ff91 508px,#00ffa0 536px,#00ffa5 556px,#00ffa1 580px,#00ff94 604px,#00ff7a 636px,#00ff5c 664px,#05ff5a 666px,#3cff5a 672px,#83ff31 696px,#b4ff00 716px,#ff0 766px,#ff9e00 848px,#ff5b00 916px,#ff2000 996px,#ff0500 1056px,#f00 1076px,#f40000 1240px,#cb0000 1661px)"></i><i style="background:linear-gradient(90deg,#ff2500 0px,#ff7800 128px,#ffb300 236px,#ff0 318px,#b4ff00 380px,#83ff31 408px,#3eff59 440px,#34ff5a 442px,#09ff5a 448px,#00ff5b 450px,#00ff91 512px,#00ffa0 540px,#00ffa4 560px,#00ff9f 584px,#00ff92 608px,#00ff5c 666px,#06ff5a 668px,#3cff5a 674px,#82ff32 698px,#b3ff00 718px,#ff0 768px,#ffa100 848px,#ff5e00 916px,#f20 996px,#ff0600 1056px,#f00 1082px,#f30000 1252px,#cb0000 1661px)"></i><i style="background:linear-gradient(90deg,#ff2400 0px,#ff7900 132px,#ffb100 236px,#ffc700 264px,#ff0 320px,#b4ff00 384px,#82ff32 412px,#3dff59 444px,#05ff5a 452px,#00ff5b 454px,#00ff91 516px,#00ffa0 544px,#00ffa4 564px,#00ffa0 584px,#00ff93 608px,#00ff79 640px,#00ff5b 668px,#07ff5a 670px,#3cff5a 676px,#82ff32 700px,#b6ff00 722px,#ff0 772px,#ffa000 852px,#ff5e00 920px,#f20 1000px,#ff0600 1060px,#f00 1086px,#f30000 1256px,#cb0000 1661px)"></i><i style="background:linear-gradient(90deg,#f20 0px,#ff7900 136px,#ffb200 240px,#ff0 324px,#b5ff00 386px,#81ff32 416px,#3bff5a 448px,#00ff5a 456px,#00ff5c 458px,#00ff91 520px,#00ffa3 564px,#00ff9e 588px,#00ff91 612px,#00ff5b 670px,#08ff5a 672px,#3cff5a 678px,#82ff32 702px,#b6ff00 724px,#ff0 774px,#ff9f00 856px,#ff5d00 924px,#f20 1004px,#ff0500 1064px,#f00 1090px,#f40000 1256px,#cb0000 1661px)"></i><i style="background:linear-gradient(90deg,#ff2100 0px,#ff7800 136px,#ffb200 244px,#ff0 328px,#b5ff00 390px,#84ff30 418px,#3fff58 450px,#37ff5a 452px,#00ff5a 460px,#00ff91 524px,#00ff9e 548px,#00ffa2 568px,#00ff9e 588px,#00ff91 612px,#00ff5b 672px,#09ff5a 674px,#3cff5a 680px,#87ff2d 706px,#b6ff00 726px,#ff0 776px,#ff9e00 860px,#ff5c00 928px,#f20 1008px,#ff0500 1068px,#f00 1094px,#f30000 1264px,#c00 1661px)"></i><i style="background:linear-gradient(90deg,#ff2000 0px,#ff7900 140px,#ffb300 248px,#ff0 330px,#b4ff00 394px,#83ff31 422px,#3eff59 454px,#08ff5a 462px,#00ff5b 464px,#00ff92 528px,#00ff9e 552px,#00ffa1 572px,#00ff9d 592px,#00ff8f 616px,#00ff5b 674px,#0aff5a 676px,#3dff5a 682px,#82ff32 706px,#b5ff00 728px,#ff0 778px,#ffa100 860px,#ff5f00 928px,#ff2100 1012px,#ff0500 1072px,#f00 1098px,#f30000 1268px,#c00 1661px)"></i><i style="background:linear-gradient(90deg,#ff1e00 0px,#ff7a00 144px,#ffb100 248px,#ff0 334px,#b5ff00 396px,#82ff32 426px,#3cff5a 458px,#04ff5a 466px,#00ff5b 468px,#00ff8f 528px,#00ffa1 572px,#00ff9d 592px,#00ff90 616px,#00ff5b 676px,#3dff59 684px,#86ff2e 710px,#b5ff00 730px,#ff0 782px,#ffa000 864px,#ff5e00 932px,#ff2400 1012px,#ff0600 1072px,#f00 1102px,#f20000 1288px,#c00 1661px)"></i><i style="background:linear-gradient(90deg,#ff1d00 0px,#ff7800 144px,#ffb200 252px,#ff0 336px,#b5ff00 400px,#84ff30 428px,#3fff58 460px,#39ff5a 462px,#00ff5a 470px,#00ff8f 532px,#00ffa0 576px,#00ff9b 596px,#00ff8d 620px,#00ff5a 678px,#3eff59 686px,#86ff2e 712px,#b5ff00 732px,#ff0 784px,#ffa300 864px,#ff6100 932px,#ff2300 1016px,#ff0600 1076px,#f00 1106px,#f20000 1296px,#cd0000 1661px)"></i><i style="background:linear-gradient(90deg,#ff1c00 0px,#ff7900 148px,#ffb300 256px,#ff0 340px,#b4ff00 404px,#83ff31 432px,#3eff59 464px,#00ff5b 474px,#00ff8f 536px,#00ff9b 560px,#00ff9f 580px,#00ff8b 624px,#00ff5a 680px,#3eff59 688px,#86ff2e 714px,#b5ff00 734px,#ff0 786px,#ffa100 868px,#ff6000 936px,#ff2300 1020px,#ff0600 1080px,#f00 1110px,#f30000 1288px,#cd0000 1661px)"></i><i style="background:linear-gradient(90deg,#ff1b00 0px,#ff7a00 152px,#ffb100 256px,#ff0 344px,#b5ff00 406px,#82ff32 436px,#3dff5a 468px,#05ff5a 476px,#00ff5b 478px,#00ff8d 536px,#00ff9e 580px,#00ff8b 624px,#00ff5c 680px,#00ff5a 682px,#33ff5a 688px,#3eff59 690px,#82ff32 714px,#99ff1b 724px,#b5ff00 736px,#ff0 788px,#ffa000 872px,#ff6000 940px,#ff2300 1024px,#ff0600 1084px,#f00 1112px,#f30000 1292px,#cd0000 1661px)"></i><i style="background:linear-gradient(90deg,#ff1a00 0px,#ff7b00 156px,#ffb200 260px,#ff0 346px,#b5ff00 410px,#84ff30 438px,#3aff5a 472px,#00ff5a 480px,#00ff5c 482px,#00ff8a 536px,#00ff9c 580px,#00ff98 600px,#00ff8b 624px,#00ff5c 682px,#04ff5a 684px,#35ff5a 690px,#3fff58 692px,#82ff32 716px,#95ff1f 724px,#b5ff00 738px,#ff0 790px,#ff9f00 876px,#ff6200 940px,#ff2500 1024px,#ff0700 1084px,#f00 1118px,#f10000 1324px,#ce0000 1661px)"></i><i style="background:linear-gradient(90deg,#ff1900 0px,#ff7900 156px,#ffb300 264px,#ff0 350px,#b4ff00 414px,#83ff31 442px,#3eff59 474px,#00ff5b 484px,#00ff8a 540px,#00ff97 564px,#00ff9a 584px,#0f8 628px,#00ff5b 684px,#07ff5a 686px,#37ff5a 692px,#40ff58 694px,#82ff32 718px,#90ff24 724px,#b5ff00 740px,#ff0 792px,#ff9e00 880px,#ff6200 944px,#ff2400 1028px,#ff0700 1088px,#f00 1122px,#f00000 1332px,#ce0000 1661px)"></i><i style="background:linear-gradient(90deg,#ff1800 0px,#ff2800 32px,#ff7a00 160px,#ffb100 264px,#ff0 352px,#b5ff00 416px,#81ff32 446px,#3dff5a 478px,#06ff5a 486px,#00ff5b 488px,#00ff8a 544px,#0f9 584px,#0f8 628px,#00ff5b 686px,#09ff5a 688px,#39ff5a 694px,#82ff32 720px,#b4ff00 742px,#ff0 794px,#ff9800 888px,#ff6100 948px,#ff2400 1032px,#ff0700 1092px,#f00 1124px,#f30000 1312px,#ce0000 1661px)"></i><i style="background:linear-gradient(90deg,#ff1700 0px,#ff2700 32px,#ff7b00 164px,#ffb200 268px,#ff0 356px,#b4ff00 420px,#84ff30 448px,#3aff5a 482px,#00ff5a 490px,#00ff5c 492px,#00ff87 544px,#00ff97 584px,#0f8 628px,#00ff5a 688px,#3cff5a 696px,#83ff31 722px,#9aff1a 732px,#b4ff00 744px,#ff0 798px,#ff9f00 884px,#ff6300 948px,#ff2300 1036px,#ff0700 1096px,#f00 1128px,#f20000 1320px,#ce0000 1661px)"></i><i style="background:linear-gradient(90deg,#ff1600 0px,#ff2800 36px,#ff7c00 168px,#ffb300 272px,#ff0 358px,#b3ff00 424px,#82ff32 452px,#3eff59 484px,#00ff5a 494px,#00ff87 548px,#00ff95 588px,#00ff83 636px,#00ff5a 690px,#3dff5a 698px,#7dff35 722px,#95ff1f 732px,#b4ff00 746px,#ff0 800px,#ff9e00 888px,#f60 948px,#ff2600 1036px,#ff0800 1096px,#f00 1132px,#f00000 1356px,#cf0000 1661px)"></i><i style="background:linear-gradient(90deg,#ff1500 0px,#ff2900 40px,#ff7b00 168px,#ffb200 272px,#ff0 362px,#b5ff00 426px,#81ff33 456px,#3dff5a 488px,#06ff5a 496px,#00ff5b 498px,#00ff84 548px,#00ff93 588px,#00ff85 632px,#00ff5c 690px,#00ff5a 692px,#3dff59 700px,#7eff34 724px,#a3ff11 740px,#b5ff00 748px,#ff0 802px,#ff9d00 892px,#ff6500 952px,#ff2500 1040px,#ff0700 1100px,#f00 1136px,#f20000 1332px,#cf0000 1661px)"></i><i style="background:linear-gradient(90deg,#ff1400 0px,#ff2800 40px,#ff7c00 172px,#ffb200 276px,#ff0 364px,#b4ff00 430px,#83ff31 458px,#3fff58 490px,#39ff5a 492px,#00ff5a 500px,#00ff5c 502px,#00ff84 552px,#00ff90 592px,#00ff82 636px,#00ff5b 692px,#06ff5a 694px,#3eff59 702px,#7eff34 726px,#9fff15 740px,#b5ff00 750px,#ff0 804px,#ff9c00 896px,#ff6400 956px,#ff2500 1044px,#ff0700 1104px,#f00 1140px,#f20000 1340px,#cf0000 1661px)"></i><i style="background:linear-gradient(90deg,#ff1300 0px,#ff2900 44px,#ff7c00 176px,#ffb100 276px,#ff0 368px,#b5ff00 432px,#82ff32 462px,#3eff59 494px,#00ff5b 504px,#00ff81 552px,#00ff8e 592px,#00ff80 640px,#00ff5b 694px,#09ff5a 696px,#37ff5a 702px,#3fff58 704px,#7fff34 728px,#9bff19 740px,#b5ff00 752px,#ff0 806px,#ff9a00 900px,#ff6300 960px,#ff2400 1048px,#ff0700 1108px,#f00 1144px,#f20000 1348px,#cf0000 1661px)"></i><i style="background:linear-gradient(90deg,#ff1200 0px,#ff2800 44px,#ff7b00 176px,#ffb200 280px,#ff0 370px,#b4ff00 436px,#84ff30 464px,#3cff5a 498px,#05ff5a 506px,#00ff5b 508px,#00ff81 556px,#00ff8c 596px,#00ff7d 644px,#00ff5a 696px,#39ff5a 704px,#7fff33 730px,#a0ff14 744px,#b5ff00 754px,#ff0 810px,#ffa100 896px,#ff6900 956px,#ff2600 1048px,#ff0800 1108px,#f00 1148px,#f20000 1352px,#cf0000 1661px)"></i><i style="background:linear-gradient(90deg,#f10 0px,#ff2900 48px,#ff7c00 180px,#ffb300 284px,#ff0 374px,#b5ff00 438px,#82ff32 468px,#3fff59 500px,#37ff5a 502px,#00ff5a 510px,#00ff7e 556px,#00ff8a 596px,#00ff7c 644px,#00ff5b 696px,#00ff5a 698px,#3cff5a 706px,#80ff33 732px,#a4ff10 748px,#b5ff00 756px,#ff0 812px,#ffa000 900px,#ff6800 960px,#ff2600 1052px,#ff0800 1112px,#f00 1152px,#f20000 1356px,#d00000 1661px)"></i><i style="background:linear-gradient(90deg,#ff1000 0px,#ff2700 48px,#ff7d00 184px,#ffb100 284px,#ff0 376px,#b4ff00 442px,#84ff30 470px,#3dff5a 504px,#08ff5a 512px,#00ff5b 514px,#00ff7e 560px,#0f8 596px,#00ff7a 648px,#00ff5b 698px,#06ff5a 700px,#3dff59 708px,#81ff33 734px,#a0ff14 748px,#b5ff00 758px,#ff0 814px,#ff9e00 904px,#ff6700 964px,#ff2500 1056px,#ff0800 1116px,#f00 1156px,#f20000 1364px,#d00000 1661px)"></i><i style="background:linear-gradient(90deg,#ff0f00 0px,#ff2900 52px,#ff7c00 184px,#ffb200 288px,#ff0 378px,#b3ff00 446px,#83ff31 474px,#3fff58 506px,#39ff5a 508px,#00ff5a 516px,#00ff5b 518px,#00ff7b 560px,#00ff86 600px,#00ff78 652px,#00ff5a 700px,#3eff59 710px,#82ff32 736px,#a5ff0f 752px,#b5ff00 760px,#ff0 816px,#ff9d00 908px,#f60 968px,#ff2500 1060px,#ff0700 1120px,#f00 1158px,#f20000 1368px,#d00000 1661px)"></i><i style="background:linear-gradient(90deg,#ff0e00 0px,#ff2300 44px,#ff7a00 184px,#ffb300 292px,#ff0 382px,#b5ff00 448px,#81ff33 478px,#3eff59 510px,#00ff5a 520px,#00ff7b 564px,#00ff84 600px,#00ff76 656px,#00ff5a 702px,#38ff5a 710px,#3fff58 712px,#82ff32 738px,#a1ff13 752px,#b6ff00 762px,#ff0 818px,#ff9b00 912px,#ff6800 968px,#ff2700 1060px,#ff0800 1120px,#f00 1162px,#f20000 1372px,#d00000 1661px)"></i><i style="background:linear-gradient(90deg,#ff0d00 0px,#ff2100 44px,#ff7b00 188px,#ffb200 292px,#ff0 384px,#b3ff00 452px,#83ff31 480px,#3bff5a 514px,#06ff5a 522px,#00ff5b 524px,#00ff78 564px,#00ff82 604px,#00ff74 660px,#00ff5b 702px,#04ff5a 704px,#3bff5a 712px,#83ff31 740px,#a6ff0e 756px,#b6ff00 764px,#ff0 820px,#ff9a00 916px,#ff6700 972px,#ff2400 1068px,#ff0800 1124px,#f00 1166px,#f20000 1376px,#d10000 1661px)"></i><i style="background:linear-gradient(90deg,#ff0c00 0px,#ff2300 48px,#ff7a00 188px,#ffb300 296px,#ff0 388px,#b5ff00 454px,#85ff2f 482px,#3eff59 516px,#35ff5a 518px,#00ff5a 526px,#00ff5c 528px,#0f7 568px,#00ff80 604px,#00ff73 660px,#00ff5b 704px,#3dff59 714px,#7fff34 740px,#a3ff11 756px,#b6ff00 766px,#ff0 822px,#ff9d00 916px,#ff6a00 972px,#ff2500 1068px,#ff0800 1128px,#f00 1170px,#f20000 1380px,#d10000 1661px)"></i><i style="background:linear-gradient(90deg,#ff0c00 0px,#ff2100 48px,#ff7b00 192px,#ffb100 296px,#ff0 390px,#b3ff00 458px,#83ff31 486px,#3cff5a 520px,#08ff5a 528px,#00ff5b 530px,#0f7 572px,#00ff7e 608px,#00ff71 664px,#00ff5a 706px,#3eff59 716px,#80ff33 742px,#9fff15 756px,#b4ff00 766px,#ff0 824px,#ff9b00 920px,#ff6900 976px,#ff2500 1072px,#ff0900 1128px,#f00 1174px,#f20000 1380px,#d10000 1661px)"></i><i style="background:linear-gradient(90deg,#ff0b00 0px,#f20 52px,#ff7a00 192px,#ffb200 300px,#ff0 392px,#b4ff00 460px,#85ff2f 488px,#3eff59 522px,#36ff5a 524px,#00ff5a 532px,#00ff5b 534px,#00ff74 572px,#00ff7c 608px,#00ff71 664px,#00ff5b 706px,#04ff5a 708px,#39ff5a 716px,#3fff58 718px,#81ff33 744px,#acff08 764px,#b4ff00 768px,#ff0 828px,#ffa200 916px,#ff6b00 976px,#ff2400 1076px,#ff0800 1132px,#f00 1176px,#f20000 1384px,#d10000 1661px)"></i><i style="background:linear-gradient(90deg,#ff0a00 0px,#ff2100 52px,#ff7b00 196px,#ffb100 300px,#ff0 396px,#b6ff00 462px,#83ff31 492px,#3cff5a 526px,#00ff5a 536px,#00ff72 572px,#00ff7b 608px,#00ff71 664px,#00ff5a 708px,#15ff5a 712px,#3cff5a 718px,#82ff32 746px,#a9ff0b 764px,#b5ff00 770px,#ff0 830px,#ffa000 920px,#ff6d00 976px,#ff2600 1076px,#ff0800 1136px,#f00 1180px,#f20000 1388px,#d20000 1661px)"></i><i style="background:linear-gradient(90deg,#ff0a00 0px,#f20 56px,#ff7c00 200px,#ffb200 304px,#ff0 398px,#b4ff00 466px,#84ff30 494px,#3eff59 528px,#37ff5a 530px,#05ff5a 538px,#00ff5b 540px,#00ff72 576px,#00ff79 612px,#00ff6f 668px,#00ff5a 710px,#3dff59 720px,#83ff31 748px,#a5ff0f 764px,#b5ff00 772px,#ff0 832px,#ff9f00 924px,#ff6c00 980px,#ff2500 1080px,#ff0900 1136px,#f00 1184px,#f20000 1392px,#d20000 1661px)"></i><i style="background:linear-gradient(90deg,#ff0900 0px,#ff2100 56px,#ff7a00 200px,#ffb000 304px,#ff0 400px,#b5ff00 468px,#82ff32 498px,#3cff5a 532px,#00ff5a 542px,#00ff70 576px,#00ff78 612px,#00ff6f 668px,#00ff5b 710px,#05ff5a 712px,#38ff5a 720px,#3fff58 722px,#7fff34 748px,#aaff0a 768px,#b5ff00 774px,#ff0 834px,#ffa100 924px,#ff6e00 980px,#ff2500 1084px,#ff0900 1140px,#f00 1188px,#f30000 1396px,#d20000 1661px)"></i><i style="background:linear-gradient(90deg,#ff0900 0px,#f20 60px,#ff7b00 204px,#ffb100 308px,#ff0 404px,#b4ff00 472px,#84ff30 500px,#3eff59 534px,#37ff5a 536px,#06ff5a 544px,#00ff5b 546px,#00ff6f 580px,#00ff76 616px,#00ff6e 672px,#00ff5a 712px,#3cff5a 722px,#80ff33 750px,#a7ff0d 768px,#b6ff00 776px,#ff0 836px,#ff9f00 928px,#ff6d00 984px,#ff2400 1088px,#ff0800 1144px,#f00 1190px,#f30000 1396px,#d20000 1661px)"></i><i style="background:linear-gradient(90deg,#ff0800 0px,#ff2100 60px,#ff7a00 204px,#ffb000 308px,#ff0 406px,#b5ff00 474px,#82ff32 504px,#3cff5a 538px,#00ff5a 548px,#00ff5b 550px,#00ff6f 584px,#00ff75 620px,#00ff6d 672px,#00ff5b 712px,#00ff5a 714px,#3dff59 724px,#82ff32 752px,#acff08 772px,#b6ff00 778px,#ff0 838px,#ff9e00 932px,#ff6c00 988px,#ff2300 1092px,#ff0800 1148px,#f00 1194px,#f30000 1400px,#d30000 1661px)"></i><i style="background:linear-gradient(90deg,#ff0800 0px,#ff2000 60px,#ff7b00 208px,#ffb100 312px,#ff0 408px,#b3ff00 478px,#83ff31 506px,#3eff59 540px,#00ff5b 552px,#00ff6e 588px,#00ff74 624px,#00ff6c 676px,#00ff5a 714px,#3fff58 726px,#83ff31 754px,#a8ff0c 772px,#b4ff00 778px,#ff0 840px,#ffa000 932px,#ff6e00 988px,#ff2500 1092px,#ff0900 1148px,#f00 1198px,#f30000 1404px,#d30000 1661px)"></i><i style="background:linear-gradient(90deg,#ff0700 0px,#ff2100 64px,#ff7c00 212px,#ffb000 312px,#ff0 412px,#b4ff00 480px,#85ff2f 508px,#3cff5a 544px,#00ff5a 554px,#00ff5b 556px,#00ff6d 588px,#00ff73 624px,#00ff6b 676px,#00ff5a 716px,#3cff5a 726px,#7fff34 754px,#adff07 776px,#b5ff00 780px,#ff0 842px,#ff9e00 936px,#ff6d00 992px,#ff2400 1096px,#ff0900 1152px,#f00 1200px,#f30000 1408px,#d30000 1661px)"></i><i style="background:linear-gradient(90deg,#ff0700 0px,#ff2000 64px,#ff7b00 212px,#ffb100 316px,#ff0 414px,#b5ff00 482px,#82ff32 512px,#3eff59 546px,#00ff5a 558px,#00ff6c 592px,#00ff72 628px,#00ff6b 676px,#00ff5b 716px,#06ff5a 718px,#3eff59 728px,#80ff33 756px,#aaff0a 776px,#b5ff00 782px,#ff0 844px,#ffa100 936px,#ff6f00 992px,#ff2600 1096px,#ff0a00 1152px,#f00 1204px,#f40000 1408px,#d30000 1661px)"></i><i style="background:linear-gradient(90deg,#ff0700 0px,#ff2100 68px,#ff7c00 216px,#ffb000 316px,#ffc500 348px,#ff0 416px,#b4ff00 486px,#84ff30 514px,#3bff5a 550px,#00ff5a 560px,#00ff5b 562px,#00ff6c 596px,#00ff71 632px,#00ff6a 680px,#00ff5a 718px,#39ff5a 728px,#3fff58 730px,#82ff32 758px,#a7ff0d 776px,#b6ff00 784px,#ff0 846px,#ff9f00 940px,#ff7000 992px,#ff2500 1100px,#ff0900 1156px,#f00 1208px,#f40000 1412px,#d40000 1661px)"></i><i style="background:linear-gradient(90deg,#ff0600 0px,#ff2000 68px,#ff7b00 216px,#ffb100 320px,#ff0 418px,#b5ff00 488px,#85ff2f 516px,#3dff59 552px,#00ff5a 564px,#00ff6a 596px,#00ff70 632px,#00ff68 684px,#00ff5b 718px,#05ff5a 720px,#3dff59 730px,#7eff34 758px,#acff08 780px,#b4ff00 784px,#ff0 848px,#ff9d00 944px,#ff6f00 996px,#ff2500 1104px,#ff0900 1160px,#f00 1210px,#f40000 1416px,#d40000 1661px)"></i><i style="background:linear-gradient(90deg,#ff0600 0px,#ff0e00 32px,#ff2100 72px,#ff7c00 220px,#ffb000 320px,#ff0 422px,#b5ff00 490px,#83ff31 520px,#3eff59 554px,#38ff5a 556px,#00ff5a 566px,#00ff5b 568px,#00ff6a 600px,#00ff6f 636px,#00ff67 688px,#00ff5a 720px,#3eff59 732px,#80ff33 760px,#a9ff0b 780px,#b5ff00 786px,#ff0 850px,#ff9f00 944px,#ff7100 996px,#ff2600 1104px,#ff0a00 1160px,#f00 1214px,#f40000 1416px,#d40000 1661px)"></i><i style="background:linear-gradient(90deg,#ff0500 0px,#ff0e00 32px,#ff2000 72px,#ff7b00 220px,#ffb100 324px,#ff0 424px,#b4ff00 494px,#84ff30 522px,#3cff5a 558px,#00ff5a 570px,#00ff69 600px,#00ff6e 636px,#00ff67 688px,#00ff5b 720px,#0fff5a 724px,#3cff5a 732px,#82ff32 762px,#aeff06 784px,#b5ff00 788px,#ff0 852px,#ff9e00 948px,#ff7000 1000px,#ff2500 1108px,#ff0900 1164px,#f00 1218px,#f40000 1420px,#d40000 1661px)"></i><i style="background:linear-gradient(90deg,#ff0500 0px,#ff0d00 32px,#f20 76px,#ff7c00 224px,#ffaf00 324px,#ffc800 360px,#ff0 426px,#b4ff00 496px,#99ff1b 512px,#81ff33 526px,#3eff59 560px,#00ff5a 572px,#00ff5b 574px,#00ff69 604px,#00ff6d 640px,#0f6 692px,#00ff5a 722px,#3eff59 734px,#7eff34 762px,#abff09 784px,#b6ff00 790px,#ff0 854px,#ffa000 948px,#ff7200 1000px,#ff2400 1112px,#ff0900 1168px,#f00 1220px,#f40000 1424px,#d40000 1661px)"></i><i style="background:linear-gradient(90deg,#ff0500 0px,#ff0c00 32px,#ff2100 76px,#ff7b00 224px,#ffae00 324px,#ffc600 360px,#ff0 428px,#b5ff00 498px,#9eff16 512px,#82ff32 528px,#3aff5a 564px,#0fff5a 572px,#00ff5a 576px,#00ff68 608px,#00ff6c 640px,#00ff65 692px,#00ff5a 722px,#19ff5a 728px,#3bff5a 734px,#80ff33 764px,#a9ff0b 784px,#b4ff00 790px,#ff0 854px,#ff9a00 956px,#ff7000 1004px,#ff2600 1112px,#ff0a00 1168px,#f00 1224px,#f40000 1424px,#d50000 1661px)"></i><i style="background:linear-gradient(90deg,#ff0400 0px,#ff0d00 36px,#f20 80px,#ff7c00 228px,#ffaf00 328px,#ff0 430px,#b6ff00 500px,#a2ff12 512px,#7fff34 532px,#3dff5a 566px,#00ff5a 578px,#00ff5b 580px,#00ff67 608px,#00ff6b 640px,#00ff64 696px,#00ff5a 724px,#3dff59 736px,#82ff32 766px,#aeff06 788px,#b5ff00 792px,#ff0 856px,#ff9800 960px,#ff6f00 1008px,#ff2300 1120px,#ff0900 1172px,#f00 1226px,#f40000 1428px,#d50000 1661px)"></i><i style="background:linear-gradient(90deg,#ff0400 0px,#ff0d00 36px,#ff2100 80px,#ff7b00 228px,#ffae00 328px,#ffc600 364px,#ff0 432px,#b4ff00 504px,#a6ff0e 512px,#80ff33 534px,#3eff59 568px,#05ff5a 580px,#00ff5b 582px,#00ff67 612px,#00ff6b 644px,#00ff64 696px,#00ff5a 724px,#0fff5a 728px,#3aff5a 736px,#7fff34 766px,#abff09 788px,#b5ff00 794px,#ff0 858px,#ff9a00 960px,#ff7100 1008px,#ff2400 1120px,#ff0a00 1172px,#f00 1230px,#f50000 1428px,#d50000 1661px)"></i><i style="background:linear-gradient(90deg,#f00 0px,#ff0c00 36px,#f20 84px,#ff7c00 232px,#ffaf00 332px,#ff0 434px,#b4ff00 506px,#a4ff10 516px,#81ff32 536px,#3aff5a 572px,#00ff5a 584px,#0f6 612px,#00ff6a 644px,#00ff64 696px,#00ff5b 724px,#0bff5a 728px,#3dff59 738px,#81ff33 768px,#b0ff04 792px,#b6ff00 796px,#ff0 860px,#ff9c00 960px,#ff7200 1008px,#ff2600 1120px,#ff0900 1176px,#f00 1232px,#f50000 1432px,#d50000 1661px)"></i><i style="background:linear-gradient(90deg,#f00 0px,#ff0d00 40px,#ff2100 84px,#ff7b00 232px,#ffae00 332px,#ffc600 368px,#ff0 436px,#b5ff00 508px,#a8ff0c 516px,#82ff32 538px,#3cff5a 574px,#0bff5a 584px,#00ff5b 588px,#0f6 616px,#00ff69 644px,#00ff63 700px,#00ff5a 726px,#19ff5a 732px,#3aff5a 738px,#82ff32 770px,#aeff06 792px,#b5ff00 796px,#ff0 862px,#ff9a00 964px,#ff7100 1012px,#ff2500 1124px,#ff0900 1180px,#f00 1236px,#f50000 1436px,#d60000 1661px)"></i><i style="background:linear-gradient(90deg,#f00 0px,#ff0c00 40px,#ff2000 84px,#ff7c00 236px,#ffad00 332px,#ffc500 368px,#ff0 440px,#b5ff00 510px,#a5ff0f 520px,#7fff34 542px,#3dff59 576px,#00ff5a 590px,#00ff65 616px,#00ff69 648px,#00ff63 700px,#00ff5b 726px,#00ff5a 728px,#14ff5a 732px,#3dff59 740px,#80ff33 770px,#abff09 792px,#b5ff00 798px,#ff0 864px,#ff9c00 964px,#ff7300 1012px,#ff2400 1128px,#ff0a00 1180px,#f00 1238px,#f50000 1436px,#d60000 1661px)"></i><i style="background:linear-gradient(90deg,#f00 0px,#ff1000 52px,#f30 120px,#ff7b00 236px,#ffb600 348px,#ff0 442px,#b6ff00 512px,#a9ff0b 520px,#80ff33 544px,#3eff59 578px,#00ff5a 592px,#00ff5b 594px,#00ff65 620px,#00ff68 648px,#00ff63 700px,#00ff5a 728px,#3fff58 742px,#82ff32 772px,#b0ff04 796px,#b6ff00 800px,#ff0 866px,#ff9b00 968px,#ff7100 1016px,#ff2300 1132px,#ff0900 1184px,#f00 1242px,#f50000 1440px,#d60000 1661px)"></i><i style="background:linear-gradient(90deg,#f00 0px,#ff1000 52px,#ff3200 120px,#ff7c00 240px,#ffb700 352px,#ff0 444px,#b4ff00 516px,#a7ff0d 524px,#81ff33 546px,#3cff5a 582px,#0cff5a 592px,#00ff5b 596px,#00ff65 624px,#00ff67 652px,#00ff5a 728px,#0dff5a 732px,#3dff59 742px,#7fff34 772px,#aeff06 796px,#b5ff00 800px,#ff0 868px,#ff9c00 968px,#ff7300 1016px,#ff2400 1132px,#ff0a00 1184px,#f00 1244px,#f50000 1444px,#d60000 1661px)"></i><i style="background:linear-gradient(90deg,#f00 0px,#ff0f00 52px,#ff3100 120px,#ff7b00 240px,#ffb600 352px,#ff0 446px,#b4ff00 518px,#aaff0a 524px,#81ff32 548px,#3dff5a 584px,#00ff5a 598px,#00ff64 624px,#00ff67 652px,#00ff5b 728px,#09ff5a 732px,#3bff5a 742px,#81ff33 774px,#acff08 796px,#b6ff00 802px,#ff0 868px,#ff9700 976px,#ff7100 1020px,#ff2300 1136px,#ff0a00 1188px,#f00 1246px,#f50000 1444px,#d70000 1661px)"></i><i style="background:linear-gradient(90deg,#f00 0px,#ff1000 56px,#ff3200 124px,#ff7a00 240px,#ffb700 356px,#ff0 448px,#b5ff00 520px,#aeff06 524px,#82ff32 550px,#3dff59 586px,#00ff5a 600px,#00ff5b 602px,#0f6 656px,#00ff5a 730px,#3dff59 744px,#83ff31 776px,#b1ff00 800px,#ff0 870px,#ff7300 1020px,#ff2500 1136px,#ff0a00 1188px,#f00 1250px,#f50000 1448px,#d70000 1661px)"></i><i style="background:linear-gradient(90deg,#f00 0px,#ff0f00 56px,#ff3100 124px,#ff7b00 244px,#ffb600 356px,#ff0 450px,#b5ff00 522px,#abff09 528px,#82ff32 552px,#3eff59 588px,#0bff5a 600px,#00ff5b 604px,#0f6 656px,#00ff5a 730px,#14ff5a 736px,#3bff5a 744px,#80ff33 776px,#aeff06 800px,#b5ff00 804px,#ff0 872px,#ff9a00 976px,#ff7100 1024px,#ff2300 1140px,#ff0a00 1192px,#f00 1252px,#f50000 1452px,#d70000 1661px)"></i><i style="background:linear-gradient(90deg,#f00 0px,#ff0f00 56px,#ff3000 124px,#ff7a00 244px,#ffb800 360px,#ff0 452px,#b5ff00 524px,#afff05 528px,#7fff34 556px,#3bff5a 592px,#15ff5a 600px,#00ff5a 606px,#00ff65 660px,#00ff5a 732px,#3eff59 746px,#83ff31 778px,#acff08 800px,#b6ff00 806px,#ff0 874px,#ff9c00 976px,#ff7300 1024px,#ff2500 1140px,#ff0a00 1192px,#f00 1254px,#f60000 1452px,#d70000 1661px)"></i><i style="background:linear-gradient(90deg,#f00 0px,#ff0e00 56px,#ff2f00 124px,#ff7b00 248px,#ffb600 360px,#ff0 454px,#b3ff00 528px,#7fff34 558px,#3cff5a 594px,#0fff5a 604px,#00ff5a 608px,#00ff5b 610px,#00ff65 660px,#00ff5a 732px,#1eff5a 740px,#3cff5a 746px,#80ff33 778px,#b1ff00 804px,#ff0 876px,#ff9e00 976px,#ff7400 1024px,#ff2400 1144px,#ff0a00 1196px,#f00 1258px,#f60000 1456px,#d80000 1661px)"></i><i style="background:linear-gradient(90deg,#f00 0px,#ff0f00 60px,#ff3000 128px,#ff7a00 248px,#ffb800 364px,#ff0 454px,#b5ff00 528px,#b0ff04 532px,#80ff33 560px,#3dff5a 596px,#09ff5a 608px,#00ff5b 612px,#00ff65 660px,#00ff5a 732px,#0bff5a 736px,#3eff59 748px,#82ff32 780px,#afff05 804px,#b5ff00 808px,#ff0 876px,#ff7300 1028px,#ff2500 1144px,#ff0b00 1196px,#f00 1260px,#f60000 1456px,#d80000 1661px)"></i><i style="background:linear-gradient(90deg,#f00 0px,#ff0e00 60px,#ff2f00 128px,#ff7c00 252px,#ffb700 364px,#ff0 458px,#b5ff00 530px,#acff08 536px,#80ff33 562px,#3dff59 598px,#13ff5a 608px,#00ff5a 614px,#00ff64 664px,#00ff5b 732px,#09ff5a 736px,#3dff59 748px,#80ff33 780px,#b1ff00 806px,#ff0 880px,#ff9d00 980px,#ff7400 1028px,#ff2400 1148px,#ff0a00 1200px,#f00 1262px,#f60000 1460px,#d80000 1661px)"></i><i style="background:linear-gradient(90deg,#f00 0px,#ff0e00 60px,#ff2e00 128px,#ff7b00 252px,#ffb600 364px,#ff0 460px,#b6ff00 532px,#b0ff04 536px,#80ff33 564px,#3eff59 600px,#00ff5a 616px,#00ff64 664px,#00ff5a 734px,#15ff5a 740px,#3bff5a 748px,#83ff31 782px,#b2ff00 808px,#ff0 882px,#ff7500 1028px,#ff2500 1148px,#ff0b00 1200px,#f00 1264px,#f60000 1460px,#d80000 1661px)"></i><i style="background:linear-gradient(90deg,#f00 0px,#ff0d00 60px,#ff2d00 128px,#ff7a00 252px,#ffb700 368px,#ff0 462px,#b3ff00 536px,#81ff33 566px,#3eff59 602px,#07ff5a 616px,#00ff5b 620px,#00ff63 668px,#00ff5a 734px,#13ff5a 740px,#3eff59 750px,#80ff33 782px,#b0ff04 808px,#ff0 882px,#ff9d00 984px,#ff7400 1032px,#ff2400 1152px,#ff0a00 1204px,#f00 1268px,#f60000 1464px,#d80000 1661px)"></i><i style="background:linear-gradient(90deg,#f00 0px,#ff0d00 60px,#ff2c00 128px,#ff7b00 256px,#ffb600 368px,#ff0 464px,#b6ff00 536px,#b0ff04 540px,#81ff33 568px,#3aff5a 606px,#10ff5a 616px,#00ff5b 622px,#00ff63 668px,#00ff5a 734px,#10ff5a 740px,#3dff5a 750px,#83ff31 784px,#afff05 808px,#b5ff00 812px,#ff0 884px,#ff7500 1032px,#ff2500 1152px,#ff0b00 1204px,#f00 1270px,#f60000 1464px,#d90000 1661px)"></i><i style="background:linear-gradient(90deg,#f00 0px,#ff0c00 60px,#ff2c00 128px,#ff7a00 256px,#ffb800 372px,#ff0 464px,#b3ff00 540px,#81ff33 570px,#3bff5a 608px,#18ff5a 616px,#00ff5a 624px,#00ff63 672px,#00ff5a 736px,#1eff5a 744px,#3bff5a 750px,#81ff33 784px,#b4ff00 812px,#ff0 886px,#ff9c00 988px,#ff7300 1036px,#ff2400 1156px,#ff0a00 1208px,#f00 1272px,#f60000 1468px,#d90000 1661px)"></i><i style="background:linear-gradient(90deg,#f00 0px,#ff0d00 64px,#ff2d00 132px,#ff7b00 260px,#ffb700 372px,#ff0 466px,#b5ff00 540px,#b0ff04 544px,#81ff33 572px,#3cff5a 610px,#12ff5a 620px,#00ff5a 626px,#00ff62 672px,#00ff5a 736px,#3eff59 752px,#7fff34 784px,#b2ff00 812px,#ff0 886px,#ff7500 1036px,#ff2500 1156px,#ff0b00 1208px,#f00 1274px,#f60000 1468px,#d90000 1661px)"></i><i style="background:linear-gradient(90deg,#f00 0px,#ff0d00 64px,#ff2c00 132px,#ff7b00 260px,#ffb600 372px,#ff0 468px,#b3ff00 544px,#81ff33 574px,#3cff5a 612px,#1aff5a 620px,#00ff5a 628px,#00ff62 672px,#00ff5a 736px,#19ff5a 744px,#3dff5a 752px,#82ff32 786px,#b0ff04 812px,#b6ff00 816px,#ff0 888px,#ff9b00 992px,#ff7300 1040px,#ff2400 1160px,#ff0a00 1212px,#f00 1276px,#f60000 1472px,#d90000 1661px)"></i><i style="background:linear-gradient(90deg,#f00 0px,#ff0c00 64px,#ff2b00 132px,#ff7a00 260px,#ffb700 376px,#ff0 470px,#b3ff00 546px,#81ff33 576px,#3cff5a 614px,#06ff5a 628px,#00ff5b 632px,#00ff62 676px,#00ff5a 736px,#17ff5a 744px,#3bff5a 752px,#80ff33 786px,#afff05 812px,#b5ff00 816px,#ff0 890px,#ff7400 1040px,#ff2500 1160px,#ff0b00 1212px,#f00 1278px,#f60000 1472px,#d90000 1661px)"></i><i style="background:linear-gradient(90deg,#f00 0px,#ff0c00 64px,#ff2b00 132px,#ff7b00 264px,#ffb700 376px,#ff0 472px,#b2ff00 548px,#81ff33 578px,#3cff5a 616px,#0dff5a 628px,#00ff5a 632px,#00ff5b 634px,#00ff61 676px,#00ff5a 736px,#15ff5a 744px,#3eff59 754px,#82ff32 788px,#b4ff00 816px,#ff0 890px,#ff7500 1040px,#ff2300 1164px,#ff0a00 1216px,#f00 1280px,#f60000 1476px,#da0000 1661px)"></i><i style="background:linear-gradient(90deg,#f00 0px,#ff0b00 64px,#ff2a00 132px,#ff7a00 264px,#ffb600 376px,#ff0 472px,#b2ff00 550px,#80ff33 580px,#3dff5a 618px,#15ff5a 628px,#00ff5b 636px,#00ff61 680px,#00ff5a 738px,#14ff5a 744px,#3dff59 754px,#81ff33 788px,#b2ff00 816px,#ff0 892px,#ff7400 1044px,#ff2400 1164px,#ff0b00 1216px,#f00 1282px,#f70000 1476px,#da0000 1661px)"></i><i style="background:linear-gradient(90deg,#f00 0px,#ff0b00 64px,#ff2900 132px,#ff7900 264px,#ffb700 380px,#ff0 474px,#b2ff00 552px,#80ff33 582px,#3dff5a 620px,#0fff5a 632px,#00ff5a 638px,#00ff61 680px,#00ff5a 738px,#12ff5a 744px,#3cff5a 754px,#7fff34 788px,#b1ff00 816px,#ff0 894px,#ff7500 1044px,#ff2600 1164px,#ff0b00 1216px,#f00 1284px,#f70000 1476px,#da0000 1661px)"></i><i style="background:linear-gradient(90deg,#f00 0px,#ff0c00 68px,#ff2800 132px,#ff7b00 268px,#ffb600 380px,#ff0 476px,#b1ff00 554px,#80ff33 584px,#3dff5a 622px,#16ff5a 632px,#00ff5a 640px,#00ff61 680px,#00ff5a 738px,#11ff5a 744px,#3aff5a 754px,#82ff32 790px,#afff05 816px,#b5ff00 820px,#ff0 894px,#ff7600 1044px,#ff2400 1168px,#ff0b00 1220px,#f00 1286px,#f70000 1480px,#da0000 1661px)"></i><i style="background:linear-gradient(90deg,#f00 0px,#ff0b00 68px,#ff2800 132px,#ff7a00 268px,#ffb600 380px,#ff0 478px,#b1ff00 556px,#7fff34 586px,#3dff5a 624px,#0fff5a 636px,#00ff5a 642px,#00ff60 684px,#00ff5a 738px,#0fff5a 744px,#3eff59 756px,#80ff33 790px,#b1ff00 818px,#ff0 896px,#ff7400 1048px,#ff2500 1168px,#ff0b00 1220px,#f00 1288px,#f70000 1480px,#da0000 1661px)"></i><i style="background:linear-gradient(90deg,#f00 0px,#ff0b00 68px,#ff2700 132px,#ff7900 268px,#ffb700 384px,#ff0 478px,#b4ff00 556px,#83ff31 586px,#3dff5a 626px,#16ff5a 636px,#00ff5a 644px,#00ff60 684px,#00ff5a 738px,#0eff5a 744px,#3dff59 756px,#83ff31 792px,#b3ff00 820px,#ff0 898px,#ff7500 1048px,#ff2400 1172px,#ff0a00 1224px,#f00 1290px,#f70000 1480px,#db0000 1661px)"></i><i style="background:linear-gradient(90deg,#f00 0px,#ff0a00 68px,#ff2600 132px,#ff7a00 272px,#ffb600 384px,#ff0 480px,#b3ff00 558px,#82ff32 588px,#3cff5a 628px,#1dff5a 636px,#00ff5a 646px,#00ff60 684px,#00ff5a 738px,#0dff5a 744px,#3cff5a 756px,#81ff32 792px,#b2ff00 820px,#ff0 898px,#ff7300 1052px,#ff2500 1172px,#ff0b00 1224px,#f00 1292px,#f70000 1484px,#db0000 1661px)"></i><i style="background:linear-gradient(90deg,#f00 0px,#ff0a00 68px,#ff2500 132px,#ff7a00 272px,#ffb600 384px,#ff0 482px,#b2ff00 560px,#82ff32 590px,#58ff4a 612px,#3cff5a 630px,#16ff5a 640px,#00ff5a 648px,#00ff60 688px,#00ff5a 740px,#19ff5a 748px,#3bff5a 756px,#80ff33 792px,#b0ff04 820px,#b6ff00 824px,#ff0 900px,#ff7400 1052px,#ff2600 1172px,#ff0c00 1224px,#f00 1294px,#f70000 1484px,#db0000 1661px)"></i><i style="background:linear-gradient(90deg,#f00 0px,#ff0b00 72px,#ff2700 136px,#ff7900 272px,#ffb500 384px,#ff0 482px,#b2ff00 562px,#81ff33 592px,#54ff4c 616px,#3cff5a 632px,#1dff5a 640px,#00ff5a 650px,#00ff60 688px,#00ff5a 740px,#18ff5a 748px,#3eff59 758px,#83ff31 794px,#afff05 820px,#b5ff00 824px,#ff0 900px,#ff7500 1052px,#ff2400 1176px,#ff0b00 1228px,#f00 1296px,#f70000 1484px,#db0000 1661px)"></i><i style="background:linear-gradient(90deg,#f00 0px,#ff0900 68px,#ff2400 132px,#ff7a00 276px,#ffb700 388px,#ff0 484px,#b1ff00 564px,#80ff33 594px,#57ff4b 616px,#3cff5a 634px,#16ff5a 644px,#00ff5a 652px,#00ff5f 688px,#00ff5a 740px,#17ff5a 748px,#3eff59 758px,#82ff32 794px,#b1ff00 822px,#ff0 902px,#ff7300 1056px,#ff2500 1176px,#ff0b00 1228px,#f00 1298px,#f70000 1484px,#db0000 1661px)"></i><i style="background:linear-gradient(90deg,#f00 0px,#ff0a00 72px,#ff2600 136px,#ff7a00 276px,#ffb600 388px,#ff0 484px,#b3ff00 564px,#7fff33 596px,#3bff5a 636px,#1cff5a 644px,#00ff5a 654px,#00ff5f 692px,#00ff5a 740px,#17ff5a 748px,#3dff59 758px,#81ff33 794px,#b3ff00 824px,#ff0 902px,#ff7400 1056px,#ff2600 1176px,#ff0c00 1228px,#f00 1300px,#f70000 1488px,#dc0000 1661px)"></i><i style="background:linear-gradient(90deg,#f00 0px,#ff0a00 72px,#ff2500 136px,#ff7900 276px,#ffb500 388px,#ff0 486px,#b3ff00 566px,#82ff32 596px,#3aff5a 638px,#15ff5a 648px,#00ff5a 656px,#00ff5f 692px,#00ff5a 740px,#16ff5a 748px,#3dff5a 758px,#7fff34 794px,#b2ff00 824px,#ff0 904px,#ff7500 1056px,#ff2700 1176px,#ff0b00 1232px,#f00 1300px,#f70000 1488px,#dc0000 1661px)"></i><i style="background:linear-gradient(90deg,#f00 0px,#ff0900 72px,#ff2400 136px,#ff7800 276px,#ffb400 388px,#ff0 488px,#b2ff00 568px,#82ff32 598px,#59ff4a 620px,#3eff59 638px,#1bff5a 648px,#00ff5a 658px,#00ff5f 692px,#00ff5a 740px,#15ff5a 748px,#3cff5a 758px,#82ff32 796px,#b1ff00 824px,#ff0 904px,#ff7300 1060px,#ff2500 1180px,#ff0b00 1232px,#f00 1302px,#f70000 1488px,#dc0000 1661px)"></i><i style="background:linear-gradient(90deg,#f00 0px,#ff0900 72px,#ff2400 136px,#ff7a00 280px,#ffb600 392px,#ff0 488px,#b4ff00 568px,#81ff33 600px,#3dff59 640px,#14ff5a 652px,#00ff5a 660px,#00ff5f 696px,#00ff5a 740px,#15ff5a 748px,#3cff5a 758px,#81ff32 796px,#b0ff04 824px,#b5ff00 828px,#ff0 906px,#ff7400 1060px,#ff2600 1180px,#ff0c00 1232px,#f00 1304px,#f70000 1488px,#dc0000 1661px)"></i><i style="background:linear-gradient(90deg,#f00 0px,#ff0900 72px,#ff2300 136px,#ff7900 280px,#ffb500 392px,#ff0 490px,#b3ff00 570px,#80ff33 602px,#57ff4a 624px,#3dff5a 642px,#19ff5a 652px,#00ff5a 662px,#00ff5f 696px,#00ff5a 740px,#14ff5a 748px,#3bff5a 758px,#80ff33 796px,#afff05 824px,#b5ff00 828px,#ff0 906px,#ff7500 1060px,#ff2700 1180px,#ff0b00 1236px,#f00 1306px,#f70000 1492px,#dc0000 1661px)"></i><i style="background:linear-gradient(90deg,#f00 0px,#ff0900 76px,#ff2300 136px,#ffb500 392px,#ff0 490px,#b2ff00 572px,#82ff32 602px,#5aff49 624px,#3cff5a 644px,#13ff5a 656px,#00ff5a 664px,#00ff5e 696px,#00ff5a 740px,#14ff5a 748px,#3aff5a 758px,#7fff34 796px,#b4ff00 828px,#ff0 908px,#ff7300 1064px,#ff2700 1180px,#ff0c00 1236px,#f00 1308px,#f70000 1492px,#d00 1661px)"></i><i style="background:linear-gradient(90deg,#f00 0px,#ff0900 76px,#f20 136px,#ffb400 392px,#ff0 492px,#b4ff00 572px,#81ff32 604px,#5cff47 624px,#3cff5a 646px,#18ff5a 656px,#00ff5a 666px,#00ff5e 700px,#00ff5a 740px,#14ff5a 748px,#3eff59 760px,#82ff32 798px,#b3ff00 828px,#ff0 908px,#ff7300 1064px,#ff2800 1180px,#ff0c00 1236px,#f00 1308px,#f70000 1492px,#d00 1661px)"></i><i style="background:linear-gradient(90deg,#f00 0px,#ff0900 76px,#ff2100 136px,#ffb400 392px,#ff0 492px,#b3ff00 574px,#84ff30 604px,#58ff4a 628px,#3aff5a 648px,#11ff5a 660px,#00ff5a 668px,#00ff5e 700px,#00ff5a 740px,#14ff5a 748px,#3eff59 760px,#82ff32 798px,#b2ff00 828px,#ff0 910px,#ff7100 1068px,#ff2600 1184px,#ff0b00 1240px,#f00 1310px,#f70000 1492px,#d00 1661px)"></i><i style="background:linear-gradient(90deg,#f00 0px,#ff0800 76px,#ff2100 136px,#ffb300 392px,#ff0 494px,#b2ff00 576px,#83ff31 606px,#5bff49 628px,#3dff59 648px,#16ff5a 660px,#00ff5a 670px,#00ff5e 700px,#00ff5a 740px,#14ff5a 748px,#3dff59 760px,#81ff33 798px,#b1ff00 828px,#ff0 910px,#ff7200 1068px,#ff2700 1184px,#ff0c00 1240px,#f00 1312px,#f80000 1492px,#d00 1661px)"></i><i style="background:linear-gradient(90deg,#f00 0px,#ff0800 76px,#ff2000 136px,#ffb500 396px,#ff0 494px,#b3ff00 576px,#81ff32 608px,#56ff4b 632px,#3dff5a 650px,#0fff5a 664px,#00ff5a 672px,#00ff5e 704px,#00ff5a 740px,#14ff5a 748px,#3dff59 760px,#80ff33 798px,#b0ff04 828px,#ff0 912px,#ff7300 1068px,#ff2800 1184px,#ff0c00 1240px,#f00 1314px,#f80000 1492px,#d00 1661px)"></i><i style="background:linear-gradient(90deg,#f00 0px,#ff0800 76px,#ff2000 136px,#ffb400 396px,#ff0 494px,#b2ff00 578px,#83ff31 608px,#59ff4a 632px,#3cff5a 652px,#14ff5a 664px,#00ff5a 674px,#00ff5a 740px,#14ff5a 748px,#3dff59 760px,#7fff33 798px,#b0ff04 828px,#b5ff00 832px,#ff0 912px,#ff7300 1068px,#ff2800 1184px,#ff0c00 1240px,#f00 1314px,#f80000 1492px,#d00 1661px)"></i><i style="background:linear-gradient(90deg,#f00 0px,#ff0800 76px,#ff1f00 136px,#ffb400 396px,#ff0 496px,#b4ff00 578px,#82ff32 610px,#5bff48 632px,#3aff5a 654px,#0dff5a 668px,#00ff5a 676px,#00ff5a 740px,#14ff5a 748px,#3dff59 760px,#83ff31 800px,#afff05 828px,#b4ff00 832px,#ff0 912px,#ff7100 1072px,#ff2600 1188px,#ff0c00 1244px,#f00 1316px,#f70000 1496px,#de0000 1661px)"></i><i style="background:linear-gradient(90deg,#f00 0px,#ff0700 76px,#ff1f00 136px,#ffb300 396px,#ff0 496px,#b2ff00 580px,#81ff33 612px,#56ff4b 636px,#3dff59 654px,#11ff5a 668px,#00ff5a 676px,#00ff5a 740px,#14ff5a 748px,#3dff59 760px,#82ff32 800px,#b4ff00 832px,#ff0 914px,#ff7200 1072px,#ff2700 1188px,#ff0c00 1244px,#f00 1318px,#f80000 1496px,#de0000 1661px)"></i><i style="background:linear-gradient(90deg,#f00 0px,#ff0700 76px,#ff1c00 132px,#ffb300 396px,#ff0 498px,#b4ff00 580px,#83ff31 612px,#58ff4a 636px,#3cff5a 656px,#15ff5a 668px,#00ff5a 678px,#00ff5a 740px,#15ff5a 748px,#3dff59 760px,#81ff32 800px,#b3ff00 832px,#ff0 914px,#ff6f00 1076px,#ff2800 1188px,#ff0c00 1244px,#f00 1320px,#f80000 1496px,#de0000 1661px)"></i><i style="background:linear-gradient(90deg,#f00 0px,#ff0700 76px,#ff1c00 132px,#ffb200 396px,#ff0 498px,#b3ff00 582px,#81ff32 614px,#5aff49 636px,#3bff5a 658px,#1aff5a 668px,#00ff5a 680px,#00ff5a 738px,#15ff5a 748px,#3dff59 760px,#55ff4c 776px,#81ff33 800px,#b3ff00 832px,#ff0 914px,#ff7000 1076px,#ff2800 1188px,#ff0d00 1244px,#f00 1320px,#f80000 1496px,#de0000 1661px)"></i><i style="background:linear-gradient(90deg,#f00 0px,#ff0700 76px,#ff1b00 132px,#ffb200 396px,#ff0 498px,#b4ff00 582px,#83ff31 614px,#56ff4b 640px,#3dff59 658px,#13ff5a 672px,#00ff5a 682px,#00ff5a 738px,#15ff5a 748px,#3dff59 760px,#55ff4c 776px,#80ff33 800px,#b2ff00 832px,#ff0 916px,#ff7000 1076px,#ff2600 1192px,#ff0c00 1248px,#f00 1322px,#f80000 1496px,#de0000 1661px)"></i><i style="background:linear-gradient(90deg,#f00 0px,#ff0600 76px,#ff1b00 132px,#ffb100 396px,#ff0 500px,#b2ff00 584px,#82ff32 616px,#58ff4a 640px,#3dff5a 660px,#16ff5a 672px,#00ff5a 684px,#00ff5a 738px,#16ff5a 748px,#3dff59 760px,#55ff4c 776px,#80ff33 800px,#b1ff00 832px,#ff0 916px,#ff9100 1036px,#ff6e00 1080px,#ff2700 1192px,#ff0c00 1248px,#f00 1324px,#f80000 1496px,#df0000 1661px)"></i><i style="background:linear-gradient(90deg,#f00 0px,#ff0600 76px,#ff1a00 132px,#ffb300 400px,#ff0 500px,#b4ff00 584px,#83ff31 616px,#5aff49 640px,#3bff5a 662px,#1aff5a 672px,#00ff5a 684px,#00ff5a 738px,#16ff5a 748px,#3dff59 760px,#55ff4c 776px,#83ff31 802px,#b1ff00 832px,#ff0 916px,#ff6e00 1080px,#ff2700 1192px,#ff0c00 1248px,#f00 1326px,#f80000 1496px,#df0000 1661px)"></i><i style="background:linear-gradient(90deg,#f00 0px,#ff0700 80px,#ff1a00 132px,#ffb300 400px,#ff0 500px,#b2ff00 586px,#82ff32 618px,#55ff4c 644px,#3dff59 662px,#13ff5a 676px,#00ff5a 686px,#00ff5a 738px,#17ff5a 748px,#3aff5a 758px,#55ff4c 776px,#83ff31 802px,#b0ff04 832px,#ff0 918px,#ff6f00 1080px,#ff2800 1192px,#ff0d00 1248px,#f00 1328px,#f80000 1496px,#df0000 1661px)"></i><i style="background:linear-gradient(90deg,#f00 0px,#ff0600 80px,#ff1a00 132px,#ffb200 400px,#ff0 500px,#b3ff00 586px,#83ff31 618px,#57ff4b 644px,#3cff5a 664px,#17ff5a 676px,#00ff5a 688px,#00ff5a 738px,#18ff5a 748px,#3aff5a 758px,#55ff4c 776px,#83ff31 802px,#b0ff04 832px,#b5ff00 836px,#ff0 918px,#ff6f00 1080px,#ff2800 1192px,#ff0d00 1248px,#f00 1328px,#f80000 1496px,#df0000 1661px)"></i><i style="background:linear-gradient(90deg,#f00 0px,#ff0600 80px,#ff1900 132px,#ffb200 400px,#ff0 502px,#b4ff00 586px,#82ff32 620px,#59ff4a 644px,#3bff5a 666px,#10ff5a 680px,#00ff5a 690px,#00ff5a 738px,#19ff5a 748px,#3bff5a 758px,#55ff4c 776px,#82ff32 802px,#afff05 832px,#b5ff00 836px,#ff0 918px,#ff7000 1080px,#ff2800 1192px,#ff0d00 1248px,#f00 1328px,#f80000 1500px,#df0000 1661px)"></i><i style="background:linear-gradient(90deg,#f00 0px,#ff0600 80px,#ff1900 132px,#ffb200 400px,#ff0 502px,#b3ff00 588px,#83ff31 620px,#5aff49 644px,#3dff59 666px,#13ff5a 680px,#00ff5a 690px,#00ff5a 736px,#1aff5a 748px,#3cff5a 758px,#55ff4c 776px,#82ff32 802px,#b2ff00 834px,#ff0 920px,#ff9000 1040px,#ff6d00 1084px,#ff2900 1192px,#ff0c00 1252px,#f00 1332px,#f80000 1500px,#df0000 1661px)"></i><i style="background:linear-gradient(90deg,#f00 0px,#ff0600 80px,#ff1800 132px,#ffb100 400px,#ff0 502px,#b4ff00 588px,#82ff32 622px,#56ff4b 648px,#3cff5a 668px,#16ff5a 680px,#00ff5a 692px,#00ff5a 736px,#1aff5a 748px,#3cff5a 758px,#55ff4c 776px,#82ff32 802px,#b1ff00 834px,#ff0 920px,#ff6d00 1084px,#ff2900 1192px,#ff0d00 1252px,#f00 1332px,#f80000 1500px,#df0000 1661px)"></i><i style="background:linear-gradient(90deg,#f00 0px,#ff0600 80px,#ff1800 132px,#ffb100 400px,#ff0 502px,#b2ff00 590px,#83ff31 622px,#57ff4a 648px,#3dff59 668px,#19ff5a 680px,#00ff5a 692px,#00ff5a 736px,#1bff5a 748px,#3dff5a 758px,#55ff4b 776px,#82ff32 802px,#b4ff00 836px,#ff0 920px,#ff6d00 1084px,#ff2a00 1192px,#ff0d00 1252px,#f00 1332px,#f80000 1500px,#e00000 1661px)"></i><i style="background:linear-gradient(90deg,#f00 0px,#ff0500 80px,#ff1800 132px,#ffb100 400px,#ff0 504px,#b3ff00 590px,#81ff33 624px,#59ff49 648px,#3cff5a 670px,#12ff5a 684px,#00ff5a 694px,#00ff5a 736px,#1cff5a 748px,#3dff59 758px,#56ff4b 776px,#82ff32 802px,#b4ff00 836px,#ff0 920px,#ff6e00 1084px,#ff2a00 1192px,#ff0d00 1252px,#f00 1332px,#f80000 1500px,#e00000 1661px)"></i><i style="background:linear-gradient(90deg,#f00 0px,#ff0500 80px,#ff1500 128px,#ffb000 400px,#ff0 504px,#b4ff00 590px,#82ff32 624px,#5bff49 648px,#3dff59 670px,#15ff5a 684px,#00ff5a 696px,#00ff5a 736px,#12ff5a 744px,#3dff59 758px,#82ff32 802px,#b3ff00 836px,#ff0 922px,#ff6e00 1084px,#ff2a00 1192px,#ff0d00 1252px,#f00 1328px,#f80000 1500px,#e00000 1661px)"></i><i style="background:linear-gradient(90deg,#f00 0px,#ff0500 80px,#ff1500 128px,#ffb000 400px,#ff0 504px,#b2ff00 592px,#81ff33 626px,#56ff4b 652px,#3cff5a 672px,#18ff5a 684px,#00ff5a 696px,#00ff5a 736px,#14ff5a 744px,#3aff5a 756px,#82ff32 802px,#b3ff00 836px,#ff0 922px,#ff6e00 1084px,#ff2b00 1192px,#ff0c00 1256px,#f00 1336px,#f80000 1500px,#e00000 1661px)"></i><i style="background:linear-gradient(90deg,#f00 0px,#ff0500 80px,#ff1500 128px,#ffb000 400px,#ff0 504px,#b3ff00 592px,#82ff32 626px,#58ff4a 652px,#3aff5a 674px,#1bff5a 684px,#00ff5a 696px,#00ff5a 734px,#15ff5a 744px,#3cff5a 756px,#57ff4b 776px,#82ff32 802px,#b3ff00 836px,#ff0 922px,#ff6e00 1084px,#ff2b00 1192px,#ff0d00 1256px,#f00 1336px,#f80000 1500px,#e00000 1661px)"></i><i style="background:linear-gradient(90deg,#f00 0px,#ff0500 80px,#ff1400 128px,#ffb200 404px,#ff0 504px,#b4ff00 592px,#83ff31 626px,#59ff49 652px,#3dff5a 674px,#13ff5a 688px,#00ff5a 698px,#00ff5a 734px,#16ff5a 744px,#3dff5a 756px,#83ff31 802px,#b5ff00 838px,#ff0 922px,#ff7100 1080px,#ff2d00 1188px,#ff0d00 1256px,#f00 1336px,#f80000 1500px,#e00000 1661px)"></i><i style="background:linear-gradient(90deg,#f00 0px,#ff0500 80px,#ff1400 128px,#ffb200 404px,#ff0 504px,#b2ff00 594px,#81ff32 628px,#5bff48 652px,#3bff5a 676px,#15ff5a 688px,#00ff5a 698px,#00ff5a 734px,#17ff5a 744px,#3dff59 756px,#80ff33 800px,#b5ff00 838px,#ff0 922px,#ff7100 1080px,#ff3000 1184px,#ff0d00 1256px,#f00 1336px,#f80000 1500px,#e00000 1661px)"></i><i style="background:linear-gradient(90deg,#f00 0px,#ff0500 84px,#ff1400 128px,#ffb200 404px,#ff0 504px,#b2ff00 594px,#83ff31 628px,#5cff48 652px,#3dff5a 676px,#0dff5a 692px,#00ff5a 700px,#00ff5a 734px,#18ff5a 744px,#3bff5a 754px,#80ff33 800px,#b5ff00 838px,#ff0 922px,#ff7100 1080px,#ff3200 1180px,#ff0d00 1256px,#f00 1336px,#f80000 1500px,#e00000 1661px)"></i><i style="background:linear-gradient(90deg,#f00 0px,#ff0500 80px,#ff1200 124px,#ffb100 404px,#ff0 506px,#b3ff00 594px,#81ff32 630px,#3cff5a 678px,#0fff5a 692px,#00ff5a 700px,#00ff5a 734px,#1aff5a 744px,#3cff5a 754px,#81ff33 800px,#b5ff00 838px,#ff0 924px,#ff7400 1076px,#f30 1180px,#ff0c00 1260px,#f00 1348px,#f80000 1500px,#e10000 1661px)"></i><i style="background:linear-gradient(90deg,#f00 0px,#ff0500 80px,#f10 124px,#ffb100 404px,#ff0 506px,#b4ff00 594px,#83ff31 630px,#3dff59 678px,#11ff5a 692px,#00ff5a 700px,#00ff5a 732px,#10ff5a 740px,#3dff59 754px,#82ff32 800px,#b4ff00 838px,#ff0 924px,#ff7400 1076px,#ff3700 1172px,#ff0d00 1260px,#f00 1348px,#f90000 1496px,#e10000 1661px)"></i><i style="background:linear-gradient(90deg,#f00 0px,#ff0500 84px,#f10 124px,#ffb100 404px,#ff0 506px,#b2ff00 596px,#81ff33 632px,#3cff5a 680px,#14ff5a 692px,#00ff5a 702px,#00ff5a 732px,#12ff5a 740px,#3bff5a 752px,#82ff32 800px,#b4ff00 838px,#ff0 924px,#f70 1072px,#ff3a00 1168px,#ff0d00 1260px,#f00 1356px,#f90000 1496px,#e10000 1661px)"></i><i style="background:linear-gradient(90deg,#f00 0px,#ff0500 84px,#f10 124px,#ffb100 404px,#ff0 506px,#b5ff00 594px,#83ff31 632px,#3dff59 680px,#0dff5a 696px,#00ff5a 704px,#00ff5a 732px,#15ff5a 740px,#3dff59 752px,#80ff33 798px,#b4ff00 838px,#ff0 924px,#f70 1072px,#ff3a00 1168px,#ff0d00 1260px,#f00 1386px,#f90000 1496px,#e10000 1661px)"></i><i style="background:linear-gradient(90deg,#f00 0px,#ff0500 80px,#ff0f00 120px,#ffb100 404px,#ff0 506px,#b5ff00 594px,#81ff33 634px,#3cff5a 682px,#10ff5a 696px,#00ff5a 706px,#00ff5a 730px,#18ff5a 740px,#3bff5a 750px,#81ff32 798px,#b5ff00 838px,#ff0 924px,#ff7a00 1068px,#ff3a00 1168px,#ff0c00 1264px,#f00 1390px,#f90000 1492px,#e10000 1661px)"></i><i style="background:linear-gradient(90deg,#f00 0px,#ff0500 80px,#ff0f00 120px,#ffb100 404px,#ff0 506px,#b3ff00 596px,#82ff32 634px,#55ff4c 664px,#3eff59 682px,#13ff5a 696px,#00ff5a 708px,#00ff5a 728px,#10ff5a 736px,#3fff58 752px,#82ff32 798px,#b5ff00 838px,#ff0 924px,#ff7a00 1068px,#ff3d00 1164px,#ff0c00 1264px,#f00 1392px,#f90000 1492px,#e10000 1661px)"></i><b class="et"></b><b class="er"></b><b class="el"></b></div>
<div class="cb" style="left:1936.3px;top:44.4px;width:36.5px;height:1164.2px;border-radius:1.5px;box-shadow:0 0 2.5px rgba(0,0,0,.4),inset 0 0 3px 1.5px rgba(0,0,0,.68);background:linear-gradient(0deg,rgb(0,0,131) 0.0%,rgb(0,0,255) 13.5%,rgb(0,255,255) 37.8%,rgb(0,255,90) 51.5%,rgb(60,255,90) 52.2%,rgb(130,255,50) 55.0%,rgb(180,255,0) 57.5%,rgb(255,255,0) 62.8%,rgb(255,0,0) 87.2%,rgb(255,0,0) 90.8%,rgb(163,0,0) 100.0%)"></div><div class="cb" style="left:1943.8px;top:1548.3px;width:35.6px;height:1169.7px;border-radius:1.5px;box-shadow:0 0 2.5px rgba(0,0,0,.4),inset 0 0 3px 1.5px rgba(0,0,0,.68);background:linear-gradient(0deg,rgb(0,0,131) 0.0%,rgb(0,0,255) 13.5%,rgb(0,255,255) 37.8%,rgb(0,255,90) 51.5%,rgb(60,255,90) 52.2%,rgb(130,255,50) 55.0%,rgb(180,255,0) 57.5%,rgb(255,255,0) 62.8%,rgb(255,0,0) 87.2%,rgb(255,0,0) 90.8%,rgb(163,0,0) 100.0%)"></div>
<svg width="2134" height="2937" viewBox="0 0 2134 2937" xmlns="http://www.w3.org/2000/svg">
<path d="M255.0 44.3V1205.9H1893.0" fill="none" stroke="#000" stroke-width="4.2" stroke-linejoin="miter"/>
<path d="M255.0 1203.9v20.3M421.2 1203.9v11.5M584.8 1203.9v20.3M744.5 1203.9v11.5M909.3 1203.9v20.3M1073.4 1203.9v11.5M1238.2 1203.9v20.3M1403.9 1203.9v11.5M1567.8 1203.9v20.3M1733.9 1203.9v11.5M1890.6 1203.9v20.3M255.0 1203.5h-21.8M255.0 1091.7h-12.5M255.0 979.9h-21.8M255.0 866.6h-12.5M255.0 748.8h-21.8M255.0 636.5h-12.5M255.0 524.7h-21.8M255.0 413.0h-12.5M255.0 299.8h-21.8M255.0 187.4h-12.5M255.0 75.3h-21.8" fill="none" stroke="#000" stroke-width="4.4"/>
<text transform="translate(257.8 1288.3) scale(1 1.04)" font-size="54" text-anchor="middle">1000</text>
<text transform="translate(585.5 1288.3) scale(1 1.04)" font-size="54" text-anchor="middle">1100</text>
<text transform="translate(910.5 1288.3) scale(1 1.04)" font-size="54" text-anchor="middle">1200</text>
<text transform="translate(1240.4 1288.3) scale(1 1.04)" font-size="54" text-anchor="middle">1300</text>
<text transform="translate(1570.7 1288.3) scale(1 1.04)" font-size="54" text-anchor="middle">1400</text>
<text transform="translate(1893.9 1288.3) scale(1 1.04)" font-size="54" text-anchor="middle">1500</text>
<text transform="translate(216.0 1222.6) scale(1 1.04)" font-size="54" text-anchor="end">0.0</text>
<text transform="translate(216.0 998.4) scale(1 1.04)" font-size="54" text-anchor="end">0.3</text>
<text transform="translate(216.0 774.0) scale(1 1.04)" font-size="54" text-anchor="end">0.6</text>
<text transform="translate(216.0 550.6) scale(1 1.04)" font-size="54" text-anchor="end">0.9</text>
<text transform="translate(216.0 325.3) scale(1 1.04)" font-size="54" text-anchor="end">1.2</text>
<text transform="translate(216.0 101.0) scale(1 1.04)" font-size="54" text-anchor="end">1.5</text>
<text transform="translate(1135.0 1376.5) scale(1 1.04)" font-size="65" text-anchor="middle" letter-spacing="0.7">Wavelength, nm</text>
<text transform="translate(103.6 667.0) rotate(-90) scale(1 1.04)" font-size="65" text-anchor="middle" letter-spacing="0.7">Angle, rad</text>
<rect x="1936.6" y="163.0" width="34.9" height="7.8" fill="#fff"/>
<text transform="translate(1993.6 193.9) scale(1 1.04)" font-size="54">0.9</text>
<rect x="1936.6" y="298.7" width="34.9" height="7.8" fill="#000"/>
<text transform="translate(1993.6 327.8) scale(1 1.04)" font-size="54">0.8</text>
<rect x="1936.6" y="434.2" width="34.9" height="7.8" fill="#000"/>
<text transform="translate(1993.6 466.1) scale(1 1.04)" font-size="54">0.7</text>
<rect x="1936.6" y="568.8" width="34.9" height="7.8" fill="#000"/>
<text transform="translate(1993.6 608.0) scale(1 1.04)" font-size="54">0.6</text>
<rect x="1936.6" y="705.8" width="34.9" height="7.8" fill="#000"/>
<text transform="translate(1993.6 746.5) scale(1 1.04)" font-size="54">0.5</text>
<rect x="1936.6" y="840.3" width="34.9" height="7.8" fill="#000"/>
<text transform="translate(1993.6 874.0) scale(1 1.04)" font-size="54">0.4</text>
<rect x="1936.6" y="976.0" width="34.9" height="7.8" fill="#fff"/>
<text transform="translate(1993.6 1007.3) scale(1 1.04)" font-size="54">0.3</text>
<rect x="1936.6" y="1112.1" width="34.9" height="7.8" fill="#fff"/>
<text transform="translate(1993.6 1148.0) scale(1 1.04)" font-size="54">0.2</text><path d="M250.5 1544.3V2714.0H1901.5" fill="none" stroke="#000" stroke-width="4.2" stroke-linejoin="miter"/>
<path d="M250.1 2712.0v20.3M417.9 2712.0v11.5M583.2 2712.0v20.3M742.5 2712.0v11.5M909.5 2712.0v20.3M1075.6 2712.0v11.5M1240.8 2712.0v20.3M1408.6 2712.0v11.5M1573.3 2712.0v20.3M1741.1 2712.0v11.5M1899.1 2712.0v20.3M250.5 2713.0h-21.8M250.5 2599.6h-12.5M250.5 2485.8h-21.8M250.5 2373.4h-12.5M250.5 2253.5h-21.8M250.5 2140.2h-12.5M250.5 2028.0h-21.8M250.5 1914.3h-12.5M250.5 1801.9h-21.8M250.5 1689.5h-12.5M250.5 1576.2h-21.8" fill="none" stroke="#000" stroke-width="4.4"/>
<text transform="translate(253.4 2798.5) scale(1 1.04)" font-size="54" text-anchor="middle">1000</text>
<text transform="translate(583.3 2798.5) scale(1 1.04)" font-size="54" text-anchor="middle">1100</text>
<text transform="translate(911.3 2798.5) scale(1 1.04)" font-size="54" text-anchor="middle">1200</text>
<text transform="translate(1243.2 2798.5) scale(1 1.04)" font-size="54" text-anchor="middle">1300</text>
<text transform="translate(1576.2 2798.5) scale(1 1.04)" font-size="54" text-anchor="middle">1400</text>
<text transform="translate(1901.6 2798.5) scale(1 1.04)" font-size="54" text-anchor="middle">1500</text>
<text transform="translate(211.0 2732.6) scale(1 1.04)" font-size="54" text-anchor="end">0.0</text>
<text transform="translate(211.0 2506.6) scale(1 1.04)" font-size="54" text-anchor="end">0.3</text>
<text transform="translate(211.0 2280.6) scale(1 1.04)" font-size="54" text-anchor="end">0.6</text>
<text transform="translate(211.0 2054.6) scale(1 1.04)" font-size="54" text-anchor="end">0.9</text>
<text transform="translate(211.0 1828.6) scale(1 1.04)" font-size="54" text-anchor="end">1.2</text>
<text transform="translate(211.0 1602.6) scale(1 1.04)" font-size="54" text-anchor="end">1.5</text>
<text transform="translate(1136.5 2887.6) scale(1 1.04)" font-size="65" text-anchor="middle" letter-spacing="0.7">Wavelength, nm</text>
<text transform="translate(98.2 2173.3) rotate(-90) scale(1 1.04)" font-size="65" text-anchor="middle" letter-spacing="0.7">Angle, rad</text>
<rect x="1944.1" y="1659.6" width="34.0" height="7.8" fill="#fff"/>
<text transform="translate(2000.5 1673.0) scale(1 1.04)" font-size="54">0.9</text>
<rect x="1944.1" y="1779.7" width="34.0" height="7.8" fill="#000"/>
<text transform="translate(2000.5 1806.4) scale(1 1.04)" font-size="54">0.8</text>
<rect x="1944.1" y="1898.3" width="34.0" height="7.8" fill="#000"/>
<text transform="translate(2000.5 1931.3) scale(1 1.04)" font-size="54">0.7</text>
<rect x="1944.1" y="2015.6" width="34.0" height="7.8" fill="#000"/>
<text transform="translate(2000.5 2049.0) scale(1 1.04)" font-size="54">0.6</text>
<rect x="1944.1" y="2134.2" width="34.0" height="7.8" fill="#000"/>
<text transform="translate(2000.5 2161.2) scale(1 1.04)" font-size="54">0.5</text>
<rect x="1944.1" y="2252.5" width="34.0" height="7.8" fill="#000"/>
<text transform="translate(2000.5 2279.6) scale(1 1.04)" font-size="54">0.4</text>
<rect x="1944.1" y="2371.1" width="34.0" height="7.8" fill="#000"/>
<text transform="translate(2000.5 2397.1) scale(1 1.04)" font-size="54">0.3</text>
<rect x="1944.1" y="2486.9" width="34.0" height="7.8" fill="#fff"/>
<text transform="translate(2000.5 2513.7) scale(1 1.04)" font-size="54">0.2</text>
<rect x="1944.1" y="2602.4" width="34.0" height="7.8" fill="#fff"/>
<text transform="translate(2000.5 2626.8) scale(1 1.04)" font-size="54">0.1</text>
</svg>
</body></html>
